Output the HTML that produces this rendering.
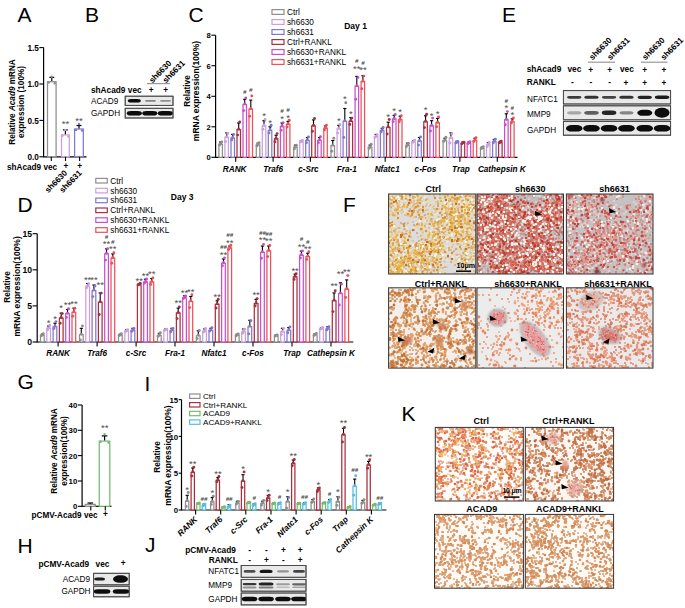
<!DOCTYPE html>
<html><head><meta charset="utf-8"><style>
html,body{margin:0;padding:0;background:#fff;width:685px;height:608px;overflow:hidden}
svg{display:block;font-family:"Liberation Sans",sans-serif}
</style></head><body>
<svg width="685" height="608" viewBox="0 0 685 608">
<defs>
<filter id="bl" x="-30%" y="-100%" width="160%" height="300%"><feGaussianBlur stdDeviation="0.7"/></filter>
<filter id="sb" x="-50%" y="-50%" width="200%" height="200%"><feGaussianBlur stdDeviation="1.6"/></filter>
<filter id="sb2" x="-50%" y="-50%" width="200%" height="200%"><feGaussianBlur stdDeviation="0.9"/></filter>
</defs>
<rect width="685" height="608" fill="#fff"/>
<text x="17.5" y="22" font-size="21">A</text>
<text x="85" y="22" font-size="21">B</text>
<text x="188.5" y="22" font-size="21">C</text>
<text x="502" y="22" font-size="21">E</text>
<text x="17.5" y="212.3" font-size="21">D</text>
<text x="343" y="212.3" font-size="21">F</text>
<text x="17.5" y="389" font-size="21">G</text>
<text x="144.5" y="391" font-size="21">I</text>
<text x="401.5" y="421" font-size="21">K</text>
<text x="17.5" y="552.5" font-size="21">H</text>
<text x="145" y="552.3" font-size="21">J</text>
<line x1="43.6" y1="47.6" x2="43.6" y2="157.3" stroke="#000" stroke-width="1.2"/>
<line x1="39.4" y1="156.8" x2="43.6" y2="156.8" stroke="#000" stroke-width="1.1"/>
<text x="38.8" y="160.1" font-size="8.2" font-weight="bold" text-anchor="end">0.0</text>
<line x1="39.4" y1="120.4" x2="43.6" y2="120.4" stroke="#000" stroke-width="1.1"/>
<text x="38.8" y="123.7" font-size="8.2" font-weight="bold" text-anchor="end">0.5</text>
<line x1="39.4" y1="84" x2="43.6" y2="84" stroke="#000" stroke-width="1.1"/>
<text x="38.8" y="87.3" font-size="8.2" font-weight="bold" text-anchor="end">1.0</text>
<line x1="39.4" y1="47.6" x2="43.6" y2="47.6" stroke="#000" stroke-width="1.1"/>
<text x="38.8" y="50.9" font-size="8.2" font-weight="bold" text-anchor="end">1.5</text>
<line x1="43.6" y1="156.8" x2="86.5" y2="156.8" stroke="#000" stroke-width="1.2"/>
<rect x="47.5" y="81.7" width="8.6" height="75.1" fill="#fff" stroke="#8e8e8e" stroke-width="1.25"/>
<line x1="51.8" y1="81.1" x2="51.8" y2="77.4" stroke="#000" stroke-width="1.2"/>
<line x1="49.3" y1="77.4" x2="54.3" y2="77.4" stroke="#000" stroke-width="1.2"/>
<circle cx="48.8" cy="82.5" r="1.2" fill="#8e8e8e"/>
<circle cx="51.8" cy="76.7" r="1.2" fill="#8e8e8e"/>
<circle cx="54.8" cy="83.3" r="1.2" fill="#8e8e8e"/>
<rect x="61.5" y="134.9" width="7.8" height="21.9" fill="#fff" stroke="#cc9fdc" stroke-width="1.25"/>
<line x1="65.4" y1="134.2" x2="65.4" y2="129.9" stroke="#000" stroke-width="1.2"/>
<line x1="62.9" y1="129.9" x2="67.9" y2="129.9" stroke="#000" stroke-width="1.2"/>
<circle cx="62.4" cy="135.7" r="1.2" fill="#cc9fdc"/>
<circle cx="65.4" cy="129.9" r="1.2" fill="#cc9fdc"/>
<circle cx="68.4" cy="136.4" r="1.2" fill="#cc9fdc"/>
<rect x="74.6" y="129" width="8.7" height="27.8" fill="#fff" stroke="#8078cc" stroke-width="1.25"/>
<line x1="79" y1="128.4" x2="79" y2="125.5" stroke="#000" stroke-width="1.2"/>
<line x1="76.5" y1="125.5" x2="81.5" y2="125.5" stroke="#000" stroke-width="1.2"/>
<circle cx="76" cy="129.9" r="1.2" fill="#8078cc"/>
<circle cx="79" cy="124" r="1.2" fill="#8078cc"/>
<circle cx="82" cy="130.6" r="1.2" fill="#8078cc"/>
<line x1="51.3" y1="156.8" x2="51.3" y2="161" stroke="#000" stroke-width="1.1"/>
<line x1="65.5" y1="156.8" x2="65.5" y2="161" stroke="#000" stroke-width="1.1"/>
<line x1="79.6" y1="156.8" x2="79.6" y2="161" stroke="#000" stroke-width="1.1"/>
<text x="65.4" y="127" font-size="9.5" text-anchor="middle" fill="#505050">**</text>
<text x="79" y="123.7" font-size="9.5" text-anchor="middle" fill="#505050">**</text>
<text x="7" y="169.5" font-size="8.2" font-weight="bold">shAcad9 vec</text>
<text x="65.8" y="168.8" font-size="8.2" font-weight="bold" text-anchor="middle">+</text>
<text x="79.7" y="168.8" font-size="8.2" font-weight="bold" text-anchor="middle">+</text>
<text x="67.8" y="173.5" font-size="8.2" font-weight="bold" text-anchor="end" transform="rotate(-45 67.8 173.5)">sh6630</text>
<text x="82.3" y="173.5" font-size="8.2" font-weight="bold" text-anchor="end" transform="rotate(-45 82.3 173.5)">sh6631</text>
<text x="0" y="0" font-size="8.2" font-weight="bold" text-anchor="middle" transform="translate(15 102) rotate(-90)">Relative <tspan font-style="italic">Acad9</tspan> mRNA</text>
<text x="0" y="0" font-size="8.2" font-weight="bold" text-anchor="middle" transform="translate(24 102) rotate(-90)">expression (100%)</text>
<text x="90.9" y="92.6" font-size="8.3" font-weight="bold">shAcad9 vec</text>
<text x="151.3" y="93.2" font-size="8.3" font-weight="bold" text-anchor="middle">+</text>
<text x="165.6" y="93.2" font-size="8.3" font-weight="bold" text-anchor="middle">+</text>
<line x1="147" y1="83.6" x2="170" y2="83.6" stroke="#999" stroke-width="1.2"/>
<text x="152.4" y="83.4" font-size="8.2" font-weight="bold" transform="rotate(-45 152.4 83.4)">sh6630</text>
<text x="165.9" y="83.4" font-size="8.2" font-weight="bold" transform="rotate(-45 165.9 83.4)">sh6631</text>
<text x="91" y="103.6" font-size="8.2">ACAD9</text>
<text x="91" y="115.8" font-size="8.2">GAPDH</text>
<clipPath id="bp1"><rect x="125.2" y="96.2" width="47.8" height="9.2"/></clipPath>
<rect x="125.2" y="96.2" width="47.8" height="9.2" fill="#e9e9e9" stroke="#4a4a4a" stroke-width="0.9"/>
<g clip-path="url(#bp1)">
<rect x="127.8" y="99" width="13" height="3.6" rx="3.2" ry="1.8" fill="rgb(10,10,10)" filter="url(#bl)"/>
<rect x="145" y="99.9" width="11" height="1.8" rx="1.6" ry="0.9" fill="rgb(133,133,133)" filter="url(#bl)"/>
<rect x="160" y="99.9" width="11" height="1.8" rx="1.6" ry="0.9" fill="rgb(145,145,145)" filter="url(#bl)"/>
</g>
<rect x="125.2" y="96.2" width="47.8" height="9.2" fill="none" stroke="#4a4a4a" stroke-width="0.9"/>
<clipPath id="bp2"><rect x="125.2" y="108.3" width="47.8" height="9.7"/></clipPath>
<rect x="125.2" y="108.3" width="47.8" height="9.7" fill="#e9e9e9" stroke="#4a4a4a" stroke-width="0.9"/>
<g clip-path="url(#bp2)">
<rect x="126.8" y="110.9" width="15" height="4.6" rx="4.1" ry="2.3" fill="rgb(10,10,10)" filter="url(#bl)"/>
<rect x="142.3" y="110.9" width="15" height="4.6" rx="4.1" ry="2.3" fill="rgb(10,10,10)" filter="url(#bl)"/>
<rect x="157.8" y="110.9" width="15" height="4.6" rx="4.1" ry="2.3" fill="rgb(10,10,10)" filter="url(#bl)"/>
</g>
<rect x="125.2" y="108.3" width="47.8" height="9.7" fill="none" stroke="#4a4a4a" stroke-width="0.9"/>
<line x1="215.6" y1="35.2" x2="215.6" y2="157.8" stroke="#000" stroke-width="1.2"/>
<line x1="211.4" y1="157.3" x2="215.6" y2="157.3" stroke="#000" stroke-width="1.1"/>
<text x="210.8" y="160.3" font-size="7.6" font-weight="bold" text-anchor="end">0</text>
<line x1="211.4" y1="126.8" x2="215.6" y2="126.8" stroke="#000" stroke-width="1.1"/>
<text x="210.8" y="129.8" font-size="7.6" font-weight="bold" text-anchor="end">2</text>
<line x1="211.4" y1="96.3" x2="215.6" y2="96.3" stroke="#000" stroke-width="1.1"/>
<text x="210.8" y="99.3" font-size="7.6" font-weight="bold" text-anchor="end">4</text>
<line x1="211.4" y1="65.7" x2="215.6" y2="65.7" stroke="#000" stroke-width="1.1"/>
<text x="210.8" y="68.8" font-size="7.6" font-weight="bold" text-anchor="end">6</text>
<line x1="211.4" y1="35.2" x2="215.6" y2="35.2" stroke="#000" stroke-width="1.1"/>
<text x="210.8" y="38.3" font-size="7.6" font-weight="bold" text-anchor="end">8</text>
<line x1="215.6" y1="157.3" x2="517.5" y2="157.3" stroke="#000" stroke-width="1.2"/>
<line x1="235.7" y1="157.3" x2="235.7" y2="161.8" stroke="#000" stroke-width="1.1"/>
<rect x="218.9" y="144.2" width="3.5" height="13.1" fill="#fff" stroke="#8e8e8e" stroke-width="1.25"/>
<line x1="220.7" y1="143.6" x2="220.7" y2="142" stroke="#000" stroke-width="1.1"/>
<line x1="219.1" y1="142" x2="222.2" y2="142" stroke="#000" stroke-width="1.1"/>
<circle cx="219.6" cy="145.1" r="1.45" fill="#8e8e8e"/>
<circle cx="220.7" cy="143.6" r="1.45" fill="#8e8e8e"/>
<circle cx="221.7" cy="141.9" r="1.45" fill="#8e8e8e"/>
<rect x="224.9" y="137.3" width="3.5" height="20" fill="#fff" stroke="#cc9fdc" stroke-width="1.25"/>
<line x1="226.7" y1="136.7" x2="226.7" y2="132.9" stroke="#000" stroke-width="1.1"/>
<line x1="225.1" y1="132.9" x2="228.3" y2="132.9" stroke="#000" stroke-width="1.1"/>
<circle cx="225.6" cy="141.6" r="1.45" fill="#cc9fdc"/>
<circle cx="226.7" cy="136.7" r="1.45" fill="#cc9fdc"/>
<circle cx="227.7" cy="133.4" r="1.45" fill="#cc9fdc"/>
<rect x="231" y="138.1" width="3.5" height="19.2" fill="#fff" stroke="#8078cc" stroke-width="1.25"/>
<line x1="232.7" y1="137.5" x2="232.7" y2="134.4" stroke="#000" stroke-width="1.1"/>
<line x1="231.1" y1="134.4" x2="234.3" y2="134.4" stroke="#000" stroke-width="1.1"/>
<circle cx="231.7" cy="139.9" r="1.45" fill="#8078cc"/>
<circle cx="232.7" cy="137.5" r="1.45" fill="#8078cc"/>
<circle cx="233.7" cy="134.4" r="1.45" fill="#8078cc"/>
<rect x="237" y="129.7" width="3.5" height="27.6" fill="#fff" stroke="#a8303e" stroke-width="1.25"/>
<line x1="238.7" y1="129.1" x2="238.7" y2="123" stroke="#000" stroke-width="1.1"/>
<line x1="237.1" y1="123" x2="240.3" y2="123" stroke="#000" stroke-width="1.1"/>
<circle cx="237.7" cy="135.1" r="1.45" fill="#a8303e"/>
<circle cx="238.7" cy="129.1" r="1.45" fill="#a8303e"/>
<circle cx="239.7" cy="121.9" r="1.45" fill="#a8303e"/>
<rect x="243" y="104.5" width="3.5" height="52.8" fill="#fff" stroke="#c850c8" stroke-width="1.25"/>
<line x1="244.7" y1="103.9" x2="244.7" y2="99.3" stroke="#000" stroke-width="1.1"/>
<line x1="243.1" y1="99.3" x2="246.3" y2="99.3" stroke="#000" stroke-width="1.1"/>
<circle cx="243.7" cy="110.6" r="1.45" fill="#c850c8"/>
<circle cx="244.7" cy="103.9" r="1.45" fill="#c850c8"/>
<circle cx="245.8" cy="97.9" r="1.45" fill="#c850c8"/>
<text x="244.7" y="93.5" font-size="6.2" font-weight="bold" text-anchor="middle" font-style="italic" fill="#444">#</text>
<rect x="249" y="109.1" width="3.5" height="48.2" fill="#fff" stroke="#ee5058" stroke-width="1.25"/>
<line x1="250.8" y1="108.5" x2="250.8" y2="100.1" stroke="#000" stroke-width="1.1"/>
<line x1="249.2" y1="100.1" x2="252.3" y2="100.1" stroke="#000" stroke-width="1.1"/>
<circle cx="249.7" cy="116.2" r="1.45" fill="#ee5058"/>
<circle cx="250.8" cy="108.5" r="1.45" fill="#ee5058"/>
<circle cx="251.8" cy="95.9" r="1.45" fill="#ee5058"/>
<text x="250.8" y="91.9" font-size="6.2" font-weight="bold" text-anchor="middle" font-style="italic" fill="#444">#</text>
<line x1="273.1" y1="157.3" x2="273.1" y2="161.8" stroke="#000" stroke-width="1.1"/>
<rect x="256.3" y="145" width="3.5" height="12.3" fill="#fff" stroke="#8e8e8e" stroke-width="1.25"/>
<line x1="258" y1="144.3" x2="258" y2="143.1" stroke="#000" stroke-width="1.1"/>
<line x1="256.4" y1="143.1" x2="259.6" y2="143.1" stroke="#000" stroke-width="1.1"/>
<circle cx="257" cy="145.8" r="1.45" fill="#8e8e8e"/>
<circle cx="258" cy="144.3" r="1.45" fill="#8e8e8e"/>
<circle cx="259.1" cy="142.7" r="1.45" fill="#8e8e8e"/>
<rect x="262.3" y="125.9" width="3.5" height="31.4" fill="#fff" stroke="#cc9fdc" stroke-width="1.25"/>
<line x1="264" y1="125.3" x2="264" y2="120.7" stroke="#000" stroke-width="1.1"/>
<line x1="262.4" y1="120.7" x2="265.6" y2="120.7" stroke="#000" stroke-width="1.1"/>
<circle cx="263" cy="129.2" r="1.45" fill="#cc9fdc"/>
<circle cx="264" cy="125.3" r="1.45" fill="#cc9fdc"/>
<circle cx="265.1" cy="119.4" r="1.45" fill="#cc9fdc"/>
<text x="264" y="118.6" font-size="9.5" text-anchor="middle" fill="#505050">*</text>
<rect x="268.3" y="130.5" width="3.5" height="26.8" fill="#fff" stroke="#8078cc" stroke-width="1.25"/>
<line x1="270.1" y1="129.8" x2="270.1" y2="126.8" stroke="#000" stroke-width="1.1"/>
<line x1="268.5" y1="126.8" x2="271.7" y2="126.8" stroke="#000" stroke-width="1.1"/>
<circle cx="269" cy="133" r="1.45" fill="#8078cc"/>
<circle cx="270.1" cy="129.8" r="1.45" fill="#8078cc"/>
<circle cx="271.1" cy="125.3" r="1.45" fill="#8078cc"/>
<text x="270.1" y="125.6" font-size="9.5" text-anchor="middle" fill="#505050">*</text>
<rect x="274.4" y="138.9" width="3.5" height="18.4" fill="#fff" stroke="#a8303e" stroke-width="1.25"/>
<line x1="276.1" y1="138.2" x2="276.1" y2="135.2" stroke="#000" stroke-width="1.1"/>
<line x1="274.5" y1="135.2" x2="277.7" y2="135.2" stroke="#000" stroke-width="1.1"/>
<circle cx="275" cy="141.8" r="1.45" fill="#a8303e"/>
<circle cx="276.1" cy="138.2" r="1.45" fill="#a8303e"/>
<circle cx="277.1" cy="133.6" r="1.45" fill="#a8303e"/>
<rect x="280.4" y="126.6" width="3.5" height="30.7" fill="#fff" stroke="#c850c8" stroke-width="1.25"/>
<line x1="282.1" y1="126" x2="282.1" y2="123" stroke="#000" stroke-width="1.1"/>
<line x1="280.5" y1="123" x2="283.7" y2="123" stroke="#000" stroke-width="1.1"/>
<circle cx="281.1" cy="130.2" r="1.45" fill="#c850c8"/>
<circle cx="282.1" cy="126" r="1.45" fill="#c850c8"/>
<circle cx="283.1" cy="122.6" r="1.45" fill="#c850c8"/>
<text x="282.1" y="121.8" font-size="9.5" text-anchor="middle" fill="#505050">*</text>
<text x="282.1" y="113.4" font-size="6.2" font-weight="bold" text-anchor="middle" font-style="italic" fill="#444">#</text>
<rect x="286.4" y="124.4" width="3.5" height="32.9" fill="#fff" stroke="#ee5058" stroke-width="1.25"/>
<line x1="288.1" y1="123.7" x2="288.1" y2="121.4" stroke="#000" stroke-width="1.1"/>
<line x1="286.5" y1="121.4" x2="289.7" y2="121.4" stroke="#000" stroke-width="1.1"/>
<circle cx="287.1" cy="127" r="1.45" fill="#ee5058"/>
<circle cx="288.1" cy="123.7" r="1.45" fill="#ee5058"/>
<circle cx="289.2" cy="120.2" r="1.45" fill="#ee5058"/>
<text x="288.1" y="120.8" font-size="9.5" text-anchor="middle" fill="#505050">*</text>
<text x="288.1" y="112.4" font-size="6.2" font-weight="bold" text-anchor="middle" font-style="italic" fill="#444">#</text>
<line x1="310.4" y1="157.3" x2="310.4" y2="161.8" stroke="#000" stroke-width="1.1"/>
<rect x="293.7" y="147.2" width="3.5" height="10.1" fill="#fff" stroke="#8e8e8e" stroke-width="1.25"/>
<line x1="295.4" y1="146.6" x2="295.4" y2="145.1" stroke="#000" stroke-width="1.1"/>
<line x1="293.8" y1="145.1" x2="297" y2="145.1" stroke="#000" stroke-width="1.1"/>
<circle cx="294.4" cy="148.9" r="1.45" fill="#8e8e8e"/>
<circle cx="295.4" cy="146.6" r="1.45" fill="#8e8e8e"/>
<circle cx="296.4" cy="145.2" r="1.45" fill="#8e8e8e"/>
<rect x="299.7" y="141.9" width="3.5" height="15.4" fill="#fff" stroke="#cc9fdc" stroke-width="1.25"/>
<line x1="301.4" y1="141.3" x2="301.4" y2="140.5" stroke="#000" stroke-width="1.1"/>
<line x1="299.8" y1="140.5" x2="303" y2="140.5" stroke="#000" stroke-width="1.1"/>
<circle cx="300.4" cy="142" r="1.45" fill="#cc9fdc"/>
<circle cx="301.4" cy="141.3" r="1.45" fill="#cc9fdc"/>
<circle cx="302.4" cy="140.4" r="1.45" fill="#cc9fdc"/>
<rect x="305.7" y="140.4" width="3.5" height="16.9" fill="#fff" stroke="#8078cc" stroke-width="1.25"/>
<line x1="307.4" y1="139.8" x2="307.4" y2="137.5" stroke="#000" stroke-width="1.1"/>
<line x1="305.8" y1="137.5" x2="309" y2="137.5" stroke="#000" stroke-width="1.1"/>
<circle cx="306.4" cy="142.7" r="1.45" fill="#8078cc"/>
<circle cx="307.4" cy="139.8" r="1.45" fill="#8078cc"/>
<circle cx="308.5" cy="137" r="1.45" fill="#8078cc"/>
<rect x="311.7" y="125.9" width="3.5" height="31.4" fill="#fff" stroke="#a8303e" stroke-width="1.25"/>
<line x1="313.5" y1="125.3" x2="313.5" y2="119.9" stroke="#000" stroke-width="1.1"/>
<line x1="311.9" y1="119.9" x2="315.1" y2="119.9" stroke="#000" stroke-width="1.1"/>
<circle cx="312.4" cy="131.2" r="1.45" fill="#a8303e"/>
<circle cx="313.5" cy="125.3" r="1.45" fill="#a8303e"/>
<circle cx="314.5" cy="118.5" r="1.45" fill="#a8303e"/>
<rect x="317.7" y="140.4" width="3.5" height="16.9" fill="#fff" stroke="#c850c8" stroke-width="1.25"/>
<line x1="319.5" y1="139.8" x2="319.5" y2="137.5" stroke="#000" stroke-width="1.1"/>
<line x1="317.9" y1="137.5" x2="321.1" y2="137.5" stroke="#000" stroke-width="1.1"/>
<circle cx="318.4" cy="142.7" r="1.45" fill="#c850c8"/>
<circle cx="319.5" cy="139.8" r="1.45" fill="#c850c8"/>
<circle cx="320.5" cy="136.7" r="1.45" fill="#c850c8"/>
<rect x="323.8" y="128.2" width="3.5" height="29.1" fill="#fff" stroke="#ee5058" stroke-width="1.25"/>
<line x1="325.5" y1="127.5" x2="325.5" y2="126" stroke="#000" stroke-width="1.1"/>
<line x1="323.9" y1="126" x2="327.1" y2="126" stroke="#000" stroke-width="1.1"/>
<circle cx="324.5" cy="129.9" r="1.45" fill="#ee5058"/>
<circle cx="325.5" cy="127.5" r="1.45" fill="#ee5058"/>
<circle cx="326.5" cy="125.1" r="1.45" fill="#ee5058"/>
<line x1="347.8" y1="157.3" x2="347.8" y2="161.8" stroke="#000" stroke-width="1.1"/>
<rect x="331" y="145.7" width="3.5" height="11.6" fill="#fff" stroke="#8e8e8e" stroke-width="1.25"/>
<line x1="332.8" y1="145.1" x2="332.8" y2="140.5" stroke="#000" stroke-width="1.1"/>
<line x1="331.2" y1="140.5" x2="334.4" y2="140.5" stroke="#000" stroke-width="1.1"/>
<circle cx="331.7" cy="151.2" r="1.45" fill="#8e8e8e"/>
<circle cx="332.8" cy="145.1" r="1.45" fill="#8e8e8e"/>
<circle cx="333.8" cy="138.3" r="1.45" fill="#8e8e8e"/>
<rect x="337.1" y="128.9" width="3.5" height="28.4" fill="#fff" stroke="#cc9fdc" stroke-width="1.25"/>
<line x1="338.8" y1="128.3" x2="338.8" y2="125.3" stroke="#000" stroke-width="1.1"/>
<line x1="337.2" y1="125.3" x2="340.4" y2="125.3" stroke="#000" stroke-width="1.1"/>
<circle cx="337.7" cy="133.1" r="1.45" fill="#cc9fdc"/>
<circle cx="338.8" cy="128.3" r="1.45" fill="#cc9fdc"/>
<circle cx="339.8" cy="124.5" r="1.45" fill="#cc9fdc"/>
<text x="338.8" y="124.1" font-size="9.5" text-anchor="middle" fill="#505050">*</text>
<rect x="343.1" y="121.3" width="3.5" height="36" fill="#fff" stroke="#8078cc" stroke-width="1.25"/>
<line x1="344.8" y1="120.7" x2="344.8" y2="108.5" stroke="#000" stroke-width="1.1"/>
<line x1="343.2" y1="108.5" x2="346.4" y2="108.5" stroke="#000" stroke-width="1.1"/>
<circle cx="343.8" cy="137.4" r="1.45" fill="#8078cc"/>
<circle cx="344.8" cy="120.7" r="1.45" fill="#8078cc"/>
<circle cx="345.8" cy="102.8" r="1.45" fill="#8078cc"/>
<text x="344.8" y="101.8" font-size="9.5" text-anchor="middle" fill="#505050">*</text>
<rect x="349.1" y="121.3" width="3.5" height="36" fill="#fff" stroke="#a8303e" stroke-width="1.25"/>
<line x1="350.8" y1="120.7" x2="350.8" y2="117.6" stroke="#000" stroke-width="1.1"/>
<line x1="349.2" y1="117.6" x2="352.4" y2="117.6" stroke="#000" stroke-width="1.1"/>
<circle cx="349.8" cy="124.5" r="1.45" fill="#a8303e"/>
<circle cx="350.8" cy="120.7" r="1.45" fill="#a8303e"/>
<circle cx="351.9" cy="118.1" r="1.45" fill="#a8303e"/>
<text x="350.8" y="116.5" font-size="9.5" text-anchor="middle" fill="#505050">*</text>
<rect x="355.1" y="86.2" width="3.5" height="71.1" fill="#fff" stroke="#c850c8" stroke-width="1.25"/>
<line x1="356.8" y1="85.6" x2="356.8" y2="76.4" stroke="#000" stroke-width="1.1"/>
<line x1="355.2" y1="76.4" x2="358.4" y2="76.4" stroke="#000" stroke-width="1.1"/>
<circle cx="355.8" cy="99.2" r="1.45" fill="#c850c8"/>
<circle cx="356.8" cy="85.6" r="1.45" fill="#c850c8"/>
<circle cx="357.9" cy="77.6" r="1.45" fill="#c850c8"/>
<text x="356.8" y="71.6" font-size="9.5" text-anchor="middle" fill="#505050">**</text>
<text x="356.8" y="63.2" font-size="6.2" font-weight="bold" text-anchor="middle" font-style="italic" fill="#444">#</text>
<rect x="361.1" y="81.6" width="3.5" height="75.7" fill="#fff" stroke="#ee5058" stroke-width="1.25"/>
<line x1="362.9" y1="81" x2="362.9" y2="75.7" stroke="#000" stroke-width="1.1"/>
<line x1="361.3" y1="75.7" x2="364.5" y2="75.7" stroke="#000" stroke-width="1.1"/>
<circle cx="361.8" cy="88.7" r="1.45" fill="#ee5058"/>
<circle cx="362.9" cy="81" r="1.45" fill="#ee5058"/>
<circle cx="363.9" cy="76.1" r="1.45" fill="#ee5058"/>
<text x="362.9" y="73.2" font-size="9.5" text-anchor="middle" fill="#505050">**</text>
<text x="362.9" y="64.8" font-size="6.2" font-weight="bold" text-anchor="middle" font-style="italic" fill="#444">#</text>
<line x1="385.2" y1="157.3" x2="385.2" y2="161.8" stroke="#000" stroke-width="1.1"/>
<rect x="368.4" y="147.2" width="3.5" height="10.1" fill="#fff" stroke="#8e8e8e" stroke-width="1.25"/>
<line x1="370.1" y1="146.6" x2="370.1" y2="145.1" stroke="#000" stroke-width="1.1"/>
<line x1="368.5" y1="145.1" x2="371.7" y2="145.1" stroke="#000" stroke-width="1.1"/>
<circle cx="369.1" cy="148.2" r="1.45" fill="#8e8e8e"/>
<circle cx="370.1" cy="146.6" r="1.45" fill="#8e8e8e"/>
<circle cx="371.2" cy="144.3" r="1.45" fill="#8e8e8e"/>
<rect x="374.4" y="136.6" width="3.5" height="20.7" fill="#fff" stroke="#cc9fdc" stroke-width="1.25"/>
<line x1="376.1" y1="135.9" x2="376.1" y2="134.4" stroke="#000" stroke-width="1.1"/>
<line x1="374.5" y1="134.4" x2="377.8" y2="134.4" stroke="#000" stroke-width="1.1"/>
<circle cx="375.1" cy="137.2" r="1.45" fill="#cc9fdc"/>
<circle cx="376.1" cy="135.9" r="1.45" fill="#cc9fdc"/>
<circle cx="377.2" cy="134.7" r="1.45" fill="#cc9fdc"/>
<rect x="380.4" y="130.5" width="3.5" height="26.8" fill="#fff" stroke="#8078cc" stroke-width="1.25"/>
<line x1="382.2" y1="129.8" x2="382.2" y2="128.3" stroke="#000" stroke-width="1.1"/>
<line x1="380.6" y1="128.3" x2="383.8" y2="128.3" stroke="#000" stroke-width="1.1"/>
<circle cx="381.1" cy="131.9" r="1.45" fill="#8078cc"/>
<circle cx="382.2" cy="129.8" r="1.45" fill="#8078cc"/>
<circle cx="383.2" cy="127.5" r="1.45" fill="#8078cc"/>
<rect x="386.5" y="127.4" width="3.5" height="29.9" fill="#fff" stroke="#a8303e" stroke-width="1.25"/>
<line x1="388.2" y1="126.8" x2="388.2" y2="122.2" stroke="#000" stroke-width="1.1"/>
<line x1="386.6" y1="122.2" x2="389.8" y2="122.2" stroke="#000" stroke-width="1.1"/>
<circle cx="387.2" cy="134" r="1.45" fill="#a8303e"/>
<circle cx="388.2" cy="126.8" r="1.45" fill="#a8303e"/>
<circle cx="389.2" cy="119.5" r="1.45" fill="#a8303e"/>
<text x="388.2" y="120.2" font-size="9.5" text-anchor="middle" fill="#505050">*</text>
<rect x="392.5" y="119" width="3.5" height="38.3" fill="#fff" stroke="#c850c8" stroke-width="1.25"/>
<line x1="394.2" y1="118.4" x2="394.2" y2="115.3" stroke="#000" stroke-width="1.1"/>
<line x1="392.6" y1="115.3" x2="395.8" y2="115.3" stroke="#000" stroke-width="1.1"/>
<circle cx="393.2" cy="121.6" r="1.45" fill="#c850c8"/>
<circle cx="394.2" cy="118.4" r="1.45" fill="#c850c8"/>
<circle cx="395.2" cy="114.5" r="1.45" fill="#c850c8"/>
<text x="394.2" y="114.2" font-size="9.5" text-anchor="middle" fill="#505050">*</text>
<rect x="398.5" y="119.8" width="3.5" height="37.5" fill="#fff" stroke="#ee5058" stroke-width="1.25"/>
<line x1="400.2" y1="119.2" x2="400.2" y2="116.1" stroke="#000" stroke-width="1.1"/>
<line x1="398.6" y1="116.1" x2="401.8" y2="116.1" stroke="#000" stroke-width="1.1"/>
<circle cx="399.2" cy="121.7" r="1.45" fill="#ee5058"/>
<circle cx="400.2" cy="119.2" r="1.45" fill="#ee5058"/>
<circle cx="401.3" cy="115.7" r="1.45" fill="#ee5058"/>
<text x="400.2" y="115" font-size="9.5" text-anchor="middle" fill="#505050">*</text>
<line x1="422.5" y1="157.3" x2="422.5" y2="161.8" stroke="#000" stroke-width="1.1"/>
<rect x="405.8" y="145.3" width="3.5" height="12" fill="#fff" stroke="#8e8e8e" stroke-width="1.25"/>
<line x1="407.5" y1="144.6" x2="407.5" y2="143.1" stroke="#000" stroke-width="1.1"/>
<line x1="405.9" y1="143.1" x2="409.1" y2="143.1" stroke="#000" stroke-width="1.1"/>
<circle cx="406.5" cy="146.6" r="1.45" fill="#8e8e8e"/>
<circle cx="407.5" cy="144.6" r="1.45" fill="#8e8e8e"/>
<circle cx="408.5" cy="143.4" r="1.45" fill="#8e8e8e"/>
<rect x="411.8" y="141.9" width="3.5" height="15.4" fill="#fff" stroke="#cc9fdc" stroke-width="1.25"/>
<line x1="413.5" y1="141.3" x2="413.5" y2="140.5" stroke="#000" stroke-width="1.1"/>
<line x1="411.9" y1="140.5" x2="415.1" y2="140.5" stroke="#000" stroke-width="1.1"/>
<circle cx="412.5" cy="142.4" r="1.45" fill="#cc9fdc"/>
<circle cx="413.5" cy="141.3" r="1.45" fill="#cc9fdc"/>
<circle cx="414.6" cy="140.1" r="1.45" fill="#cc9fdc"/>
<rect x="417.8" y="141.1" width="3.5" height="16.2" fill="#fff" stroke="#8078cc" stroke-width="1.25"/>
<line x1="419.5" y1="140.5" x2="419.5" y2="137.5" stroke="#000" stroke-width="1.1"/>
<line x1="417.9" y1="137.5" x2="421.1" y2="137.5" stroke="#000" stroke-width="1.1"/>
<circle cx="418.5" cy="145.1" r="1.45" fill="#8078cc"/>
<circle cx="419.5" cy="140.5" r="1.45" fill="#8078cc"/>
<circle cx="420.6" cy="136.9" r="1.45" fill="#8078cc"/>
<rect x="423.8" y="121.8" width="3.5" height="35.5" fill="#fff" stroke="#a8303e" stroke-width="1.25"/>
<line x1="425.6" y1="121.1" x2="425.6" y2="115.8" stroke="#000" stroke-width="1.1"/>
<line x1="424" y1="115.8" x2="427.2" y2="115.8" stroke="#000" stroke-width="1.1"/>
<circle cx="424.5" cy="127.6" r="1.45" fill="#a8303e"/>
<circle cx="425.6" cy="121.1" r="1.45" fill="#a8303e"/>
<circle cx="426.6" cy="114.3" r="1.45" fill="#a8303e"/>
<text x="425.6" y="113.3" font-size="9.5" text-anchor="middle" fill="#505050">*</text>
<rect x="429.9" y="125.9" width="3.5" height="31.4" fill="#fff" stroke="#c850c8" stroke-width="1.25"/>
<line x1="431.6" y1="125.3" x2="431.6" y2="120.7" stroke="#000" stroke-width="1.1"/>
<line x1="430" y1="120.7" x2="433.2" y2="120.7" stroke="#000" stroke-width="1.1"/>
<circle cx="430.5" cy="131" r="1.45" fill="#c850c8"/>
<circle cx="431.6" cy="125.3" r="1.45" fill="#c850c8"/>
<circle cx="432.6" cy="118.1" r="1.45" fill="#c850c8"/>
<text x="431.6" y="118.6" font-size="9.5" text-anchor="middle" fill="#505050">*</text>
<rect x="435.9" y="122.8" width="3.5" height="34.5" fill="#fff" stroke="#ee5058" stroke-width="1.25"/>
<line x1="437.6" y1="122.2" x2="437.6" y2="118.4" stroke="#000" stroke-width="1.1"/>
<line x1="436" y1="118.4" x2="439.2" y2="118.4" stroke="#000" stroke-width="1.1"/>
<circle cx="436.6" cy="126.8" r="1.45" fill="#ee5058"/>
<circle cx="437.6" cy="122.2" r="1.45" fill="#ee5058"/>
<circle cx="438.6" cy="117" r="1.45" fill="#ee5058"/>
<text x="437.6" y="116.8" font-size="9.5" text-anchor="middle" fill="#505050">*</text>
<line x1="459.9" y1="157.3" x2="459.9" y2="161.8" stroke="#000" stroke-width="1.1"/>
<rect x="443.1" y="140.4" width="3.5" height="16.9" fill="#fff" stroke="#8e8e8e" stroke-width="1.25"/>
<line x1="444.9" y1="139.8" x2="444.9" y2="138.2" stroke="#000" stroke-width="1.1"/>
<line x1="443.3" y1="138.2" x2="446.5" y2="138.2" stroke="#000" stroke-width="1.1"/>
<circle cx="443.8" cy="141.3" r="1.45" fill="#8e8e8e"/>
<circle cx="444.9" cy="139.8" r="1.45" fill="#8e8e8e"/>
<circle cx="445.9" cy="137.3" r="1.45" fill="#8e8e8e"/>
<rect x="449.2" y="138.1" width="3.5" height="19.2" fill="#fff" stroke="#cc9fdc" stroke-width="1.25"/>
<line x1="450.9" y1="137.5" x2="450.9" y2="132.9" stroke="#000" stroke-width="1.1"/>
<line x1="449.3" y1="132.9" x2="452.5" y2="132.9" stroke="#000" stroke-width="1.1"/>
<circle cx="449.9" cy="143" r="1.45" fill="#cc9fdc"/>
<circle cx="450.9" cy="137.5" r="1.45" fill="#cc9fdc"/>
<circle cx="451.9" cy="133.8" r="1.45" fill="#cc9fdc"/>
<rect x="455.2" y="142.7" width="3.5" height="14.6" fill="#fff" stroke="#8078cc" stroke-width="1.25"/>
<line x1="456.9" y1="142" x2="456.9" y2="141.3" stroke="#000" stroke-width="1.1"/>
<line x1="455.3" y1="141.3" x2="458.5" y2="141.3" stroke="#000" stroke-width="1.1"/>
<circle cx="455.9" cy="142.9" r="1.45" fill="#8078cc"/>
<circle cx="456.9" cy="142" r="1.45" fill="#8078cc"/>
<circle cx="457.9" cy="141.4" r="1.45" fill="#8078cc"/>
<rect x="461.2" y="143.4" width="3.5" height="13.9" fill="#fff" stroke="#a8303e" stroke-width="1.25"/>
<line x1="462.9" y1="142.8" x2="462.9" y2="142" stroke="#000" stroke-width="1.1"/>
<line x1="461.3" y1="142" x2="464.5" y2="142" stroke="#000" stroke-width="1.1"/>
<circle cx="461.9" cy="143.8" r="1.45" fill="#a8303e"/>
<circle cx="462.9" cy="142.8" r="1.45" fill="#a8303e"/>
<circle cx="464" cy="142.2" r="1.45" fill="#a8303e"/>
<rect x="467.2" y="143.4" width="3.5" height="13.9" fill="#fff" stroke="#c850c8" stroke-width="1.25"/>
<line x1="468.9" y1="142.8" x2="468.9" y2="142" stroke="#000" stroke-width="1.1"/>
<line x1="467.3" y1="142" x2="470.6" y2="142" stroke="#000" stroke-width="1.1"/>
<circle cx="467.9" cy="143.8" r="1.45" fill="#c850c8"/>
<circle cx="468.9" cy="142.8" r="1.45" fill="#c850c8"/>
<circle cx="470" cy="141.8" r="1.45" fill="#c850c8"/>
<rect x="473.2" y="140.4" width="3.5" height="16.9" fill="#fff" stroke="#ee5058" stroke-width="1.25"/>
<line x1="475" y1="139.8" x2="475" y2="138.2" stroke="#000" stroke-width="1.1"/>
<line x1="473.4" y1="138.2" x2="476.6" y2="138.2" stroke="#000" stroke-width="1.1"/>
<circle cx="473.9" cy="141.4" r="1.45" fill="#ee5058"/>
<circle cx="475" cy="139.8" r="1.45" fill="#ee5058"/>
<circle cx="476" cy="137.6" r="1.45" fill="#ee5058"/>
<line x1="497.3" y1="157.3" x2="497.3" y2="161.8" stroke="#000" stroke-width="1.1"/>
<rect x="480.5" y="148.5" width="3.5" height="8.8" fill="#fff" stroke="#8e8e8e" stroke-width="1.25"/>
<line x1="482.2" y1="147.8" x2="482.2" y2="147.1" stroke="#000" stroke-width="1.1"/>
<line x1="480.6" y1="147.1" x2="483.8" y2="147.1" stroke="#000" stroke-width="1.1"/>
<circle cx="481.2" cy="148.5" r="1.45" fill="#8e8e8e"/>
<circle cx="482.2" cy="147.8" r="1.45" fill="#8e8e8e"/>
<circle cx="483.3" cy="146.8" r="1.45" fill="#8e8e8e"/>
<rect x="486.5" y="144.8" width="3.5" height="12.5" fill="#fff" stroke="#cc9fdc" stroke-width="1.25"/>
<line x1="488.3" y1="144.2" x2="488.3" y2="142.7" stroke="#000" stroke-width="1.1"/>
<line x1="486.7" y1="142.7" x2="489.9" y2="142.7" stroke="#000" stroke-width="1.1"/>
<circle cx="487.2" cy="146.6" r="1.45" fill="#cc9fdc"/>
<circle cx="488.3" cy="144.2" r="1.45" fill="#cc9fdc"/>
<circle cx="489.3" cy="142.4" r="1.45" fill="#cc9fdc"/>
<rect x="492.6" y="141.6" width="3.5" height="15.7" fill="#fff" stroke="#8078cc" stroke-width="1.25"/>
<line x1="494.3" y1="141" x2="494.3" y2="139.4" stroke="#000" stroke-width="1.1"/>
<line x1="492.7" y1="139.4" x2="495.9" y2="139.4" stroke="#000" stroke-width="1.1"/>
<circle cx="493.2" cy="142.9" r="1.45" fill="#8078cc"/>
<circle cx="494.3" cy="141" r="1.45" fill="#8078cc"/>
<circle cx="495.3" cy="139.3" r="1.45" fill="#8078cc"/>
<rect x="498.6" y="142.7" width="3.5" height="14.6" fill="#fff" stroke="#a8303e" stroke-width="1.25"/>
<line x1="500.3" y1="142" x2="500.3" y2="141.3" stroke="#000" stroke-width="1.1"/>
<line x1="498.7" y1="141.3" x2="501.9" y2="141.3" stroke="#000" stroke-width="1.1"/>
<circle cx="499.3" cy="142.8" r="1.45" fill="#a8303e"/>
<circle cx="500.3" cy="142" r="1.45" fill="#a8303e"/>
<circle cx="501.3" cy="141.1" r="1.45" fill="#a8303e"/>
<rect x="504.6" y="119.8" width="3.5" height="37.5" fill="#fff" stroke="#c850c8" stroke-width="1.25"/>
<line x1="506.3" y1="119.2" x2="506.3" y2="113.8" stroke="#000" stroke-width="1.1"/>
<line x1="504.7" y1="113.8" x2="507.9" y2="113.8" stroke="#000" stroke-width="1.1"/>
<circle cx="505.3" cy="124.7" r="1.45" fill="#c850c8"/>
<circle cx="506.3" cy="119.2" r="1.45" fill="#c850c8"/>
<circle cx="507.4" cy="111.6" r="1.45" fill="#c850c8"/>
<text x="506.3" y="111.3" font-size="9.5" text-anchor="middle" fill="#505050">*</text>
<text x="506.3" y="102.9" font-size="6.2" font-weight="bold" text-anchor="middle" font-style="italic" fill="#444">#</text>
<rect x="510.6" y="121.8" width="3.5" height="35.5" fill="#fff" stroke="#ee5058" stroke-width="1.25"/>
<line x1="512.3" y1="121.1" x2="512.3" y2="118.8" stroke="#000" stroke-width="1.1"/>
<line x1="510.7" y1="118.8" x2="513.9" y2="118.8" stroke="#000" stroke-width="1.1"/>
<circle cx="511.3" cy="123" r="1.45" fill="#ee5058"/>
<circle cx="512.3" cy="121.1" r="1.45" fill="#ee5058"/>
<circle cx="513.4" cy="118" r="1.45" fill="#ee5058"/>
<text x="512.3" y="118.2" font-size="9.5" text-anchor="middle" fill="#505050">*</text>
<text x="512.3" y="109.8" font-size="6.2" font-weight="bold" text-anchor="middle" font-style="italic" fill="#444">#</text>
<text x="234.7" y="172" font-size="8.2" font-weight="bold" text-anchor="middle" font-style="italic">RANK</text>
<text x="273.1" y="172" font-size="8.2" font-weight="bold" text-anchor="middle" font-style="italic">Traf6</text>
<text x="308.4" y="172" font-size="8.2" font-weight="bold" text-anchor="middle" font-style="italic">c-Src</text>
<text x="346.8" y="172" font-size="8.2" font-weight="bold" text-anchor="middle" font-style="italic">Fra-1</text>
<text x="387.2" y="172" font-size="8.2" font-weight="bold" text-anchor="middle" font-style="italic">Nfatc1</text>
<text x="425.5" y="172" font-size="8.2" font-weight="bold" text-anchor="middle" font-style="italic">c-Fos</text>
<text x="460.9" y="172" font-size="8.2" font-weight="bold" text-anchor="middle" font-style="italic">Trap</text>
<text x="501.8" y="172" font-size="8.2" font-weight="bold" text-anchor="middle" font-style="italic">Cathepsin K</text>
<rect x="272" y="9.6" width="12" height="4.8" fill="#fff" stroke="#8e8e8e" stroke-width="1.2"/>
<text x="287" y="14.9" font-size="8.2">Ctrl</text>
<rect x="272" y="19.6" width="12" height="4.8" fill="#fff" stroke="#cc9fdc" stroke-width="1.2"/>
<text x="287" y="24.9" font-size="8.2">sh6630</text>
<rect x="272" y="29.6" width="12" height="4.8" fill="#fff" stroke="#8078cc" stroke-width="1.2"/>
<text x="287" y="34.9" font-size="8.2">sh6631</text>
<rect x="272" y="39.6" width="12" height="4.8" fill="#fff" stroke="#a8303e" stroke-width="1.2"/>
<text x="287" y="44.9" font-size="8.2">Ctrl+RANKL</text>
<rect x="272" y="49.6" width="12" height="4.8" fill="#fff" stroke="#c850c8" stroke-width="1.2"/>
<text x="287" y="54.9" font-size="8.2">sh6630+RANKL</text>
<rect x="272" y="59.6" width="12" height="4.8" fill="#fff" stroke="#ee5058" stroke-width="1.2"/>
<text x="287" y="64.9" font-size="8.2">sh6631+RANKL</text>
<text x="344.2" y="29" font-size="8.5" font-weight="bold">Day 1</text>
<text x="0" y="0" font-size="8.2" font-weight="bold" text-anchor="middle" transform="translate(189.6 91) rotate(-90)">Relative</text>
<text x="0" y="0" font-size="8.5" font-weight="bold" text-anchor="middle" transform="translate(198.6 91) rotate(-90)">mRNA expression(100%)</text>
<text x="526.7" y="71.7" font-size="8.3" font-weight="bold">shAcad9</text>
<text x="567.5" y="71.7" font-size="8.3" font-weight="bold">vec</text>
<text x="620" y="71.7" font-size="8.3" font-weight="bold">vec</text>
<text x="590.6" y="72.6" font-size="8.3" font-weight="bold" text-anchor="middle">+</text>
<text x="609.6" y="72.6" font-size="8.3" font-weight="bold" text-anchor="middle">+</text>
<text x="644.8" y="72.6" font-size="8.3" font-weight="bold" text-anchor="middle">+</text>
<text x="663.9" y="72.6" font-size="8.3" font-weight="bold" text-anchor="middle">+</text>
<line x1="588" y1="62.2" x2="615" y2="62.2" stroke="#999" stroke-width="1.2"/>
<line x1="641" y1="62.2" x2="667.5" y2="62.2" stroke="#999" stroke-width="1.2"/>
<text x="592.5" y="60.5" font-size="8.2" font-weight="bold" transform="rotate(-45 592.5 60.5)">sh6630</text>
<text x="610.5" y="60.5" font-size="8.2" font-weight="bold" transform="rotate(-45 610.5 60.5)">sh6631</text>
<text x="645.5" y="60.5" font-size="8.2" font-weight="bold" transform="rotate(-45 645.5 60.5)">sh6630</text>
<text x="664" y="60.5" font-size="8.2" font-weight="bold" transform="rotate(-45 664 60.5)">sh6631</text>
<text x="526.7" y="85.3" font-size="8.3" font-weight="bold">RANKL</text>
<text x="572.5" y="85" font-size="8.3" font-weight="bold" text-anchor="middle">-</text>
<text x="591" y="85" font-size="8.3" font-weight="bold" text-anchor="middle">-</text>
<text x="609.6" y="85" font-size="8.3" font-weight="bold" text-anchor="middle">-</text>
<text x="626" y="85.6" font-size="8.3" font-weight="bold" text-anchor="middle">+</text>
<text x="644.8" y="85.6" font-size="8.3" font-weight="bold" text-anchor="middle">+</text>
<text x="663.9" y="85.6" font-size="8.3" font-weight="bold" text-anchor="middle">+</text>
<text x="527" y="101.5" font-size="8.2">NFATC1</text>
<text x="527" y="116.5" font-size="8.2">MMP9</text>
<text x="527" y="132.9" font-size="8.2">GAPDH</text>
<clipPath id="bp3"><rect x="563.4" y="90.6" width="107.2" height="13.4"/></clipPath>
<rect x="563.4" y="90.6" width="107.2" height="13.4" fill="#e9e9e9" stroke="#4a4a4a" stroke-width="0.9"/>
<g clip-path="url(#bp3)">
<rect x="567" y="95.9" width="14.5" height="2.8" rx="2.5" ry="1.4" fill="rgb(59,59,59)" filter="url(#bl)"/>
<rect x="584.2" y="95.8" width="14.5" height="3" rx="2.7" ry="1.5" fill="rgb(50,50,50)" filter="url(#bl)"/>
<rect x="601.8" y="95.9" width="14.5" height="2.8" rx="2.5" ry="1.4" fill="rgb(66,66,66)" filter="url(#bl)"/>
<rect x="619.2" y="95.8" width="14.5" height="3" rx="2.7" ry="1.5" fill="rgb(50,50,50)" filter="url(#bl)"/>
<rect x="637.5" y="95.7" width="14.5" height="3.2" rx="2.9" ry="1.6" fill="rgb(32,32,32)" filter="url(#bl)"/>
<rect x="654.8" y="95.6" width="14.5" height="3.3" rx="3" ry="1.6" fill="rgb(28,28,28)" filter="url(#bl)"/>
</g>
<rect x="563.4" y="90.6" width="107.2" height="13.4" fill="none" stroke="#4a4a4a" stroke-width="0.9"/>
<clipPath id="bp4"><rect x="563.4" y="105.8" width="107.2" height="14"/></clipPath>
<rect x="563.4" y="105.8" width="107.2" height="14" fill="#e9e9e9" stroke="#4a4a4a" stroke-width="0.9"/>
<g clip-path="url(#bp4)">
<rect x="567" y="111.2" width="14.5" height="3.2" rx="2.9" ry="1.6" fill="rgb(167,167,167)" filter="url(#bl)"/>
<rect x="584.2" y="110.9" width="14.5" height="3.8" rx="3.4" ry="1.9" fill="rgb(95,95,95)" filter="url(#bl)"/>
<rect x="601.8" y="110.6" width="14.5" height="4.4" rx="4" ry="2.2" fill="rgb(37,37,37)" filter="url(#bl)"/>
<rect x="619.5" y="111.2" width="14" height="3.2" rx="2.9" ry="1.6" fill="rgb(133,133,133)" filter="url(#bl)"/>
<rect x="637.3" y="109.8" width="15" height="6" rx="5.4" ry="3" fill="rgb(16,16,16)" filter="url(#bl)"/>
<rect x="654.5" y="107.8" width="15" height="10" rx="7.5" ry="5" fill="rgb(10,10,10)" filter="url(#bl)"/>
</g>
<rect x="563.4" y="105.8" width="107.2" height="14" fill="none" stroke="#4a4a4a" stroke-width="0.9"/>
<clipPath id="bp5"><rect x="563.4" y="121.4" width="107.2" height="13.8"/></clipPath>
<rect x="563.4" y="121.4" width="107.2" height="13.8" fill="#e9e9e9" stroke="#4a4a4a" stroke-width="0.9"/>
<g clip-path="url(#bp5)">
<rect x="566" y="125.1" width="16.5" height="6.5" rx="5.9" ry="3.2" fill="rgb(10,10,10)" filter="url(#bl)"/>
<rect x="583.2" y="125.1" width="16.5" height="6.5" rx="5.9" ry="3.2" fill="rgb(10,10,10)" filter="url(#bl)"/>
<rect x="600.8" y="125.1" width="16.5" height="6.5" rx="5.9" ry="3.2" fill="rgb(10,10,10)" filter="url(#bl)"/>
<rect x="618.2" y="125.1" width="16.5" height="6.5" rx="5.9" ry="3.2" fill="rgb(10,10,10)" filter="url(#bl)"/>
<rect x="636.5" y="125.1" width="16.5" height="6.5" rx="5.9" ry="3.2" fill="rgb(10,10,10)" filter="url(#bl)"/>
<rect x="653.8" y="125.1" width="16.5" height="6.5" rx="5.9" ry="3.2" fill="rgb(10,10,10)" filter="url(#bl)"/>
</g>
<rect x="563.4" y="121.4" width="107.2" height="13.8" fill="none" stroke="#4a4a4a" stroke-width="0.9"/>
<line x1="37.2" y1="233.7" x2="37.2" y2="342.5" stroke="#000" stroke-width="1.2"/>
<line x1="32.6" y1="342" x2="37.2" y2="342" stroke="#000" stroke-width="1.1"/>
<text x="32" y="345.4" font-size="8.6" font-weight="bold" text-anchor="end">0</text>
<line x1="32.6" y1="305.9" x2="37.2" y2="305.9" stroke="#000" stroke-width="1.1"/>
<text x="32" y="309.3" font-size="8.6" font-weight="bold" text-anchor="end">5</text>
<line x1="32.6" y1="269.8" x2="37.2" y2="269.8" stroke="#000" stroke-width="1.1"/>
<text x="32" y="273.2" font-size="8.6" font-weight="bold" text-anchor="end">10</text>
<line x1="32.6" y1="233.7" x2="37.2" y2="233.7" stroke="#000" stroke-width="1.1"/>
<text x="32" y="237.1" font-size="8.6" font-weight="bold" text-anchor="end">15</text>
<line x1="37.2" y1="342" x2="353.3" y2="342" stroke="#000" stroke-width="1.2"/>
<line x1="58.1" y1="342" x2="58.1" y2="346.5" stroke="#000" stroke-width="1.1"/>
<rect x="40.5" y="335.4" width="3.7" height="6.6" fill="#fff" stroke="#8e8e8e" stroke-width="1.25"/>
<line x1="42.4" y1="334.8" x2="42.4" y2="334.1" stroke="#000" stroke-width="1.1"/>
<line x1="40.8" y1="334.1" x2="44" y2="334.1" stroke="#000" stroke-width="1.1"/>
<circle cx="41.3" cy="335.7" r="1.45" fill="#8e8e8e"/>
<circle cx="42.4" cy="334.8" r="1.45" fill="#8e8e8e"/>
<circle cx="43.4" cy="333.7" r="1.45" fill="#8e8e8e"/>
<rect x="46.8" y="328.2" width="3.7" height="13.8" fill="#fff" stroke="#cc9fdc" stroke-width="1.25"/>
<line x1="48.6" y1="327.6" x2="48.6" y2="326.1" stroke="#000" stroke-width="1.1"/>
<line x1="47" y1="326.1" x2="50.2" y2="326.1" stroke="#000" stroke-width="1.1"/>
<circle cx="47.6" cy="329.8" r="1.45" fill="#cc9fdc"/>
<circle cx="48.6" cy="327.6" r="1.45" fill="#cc9fdc"/>
<circle cx="49.7" cy="325.3" r="1.45" fill="#cc9fdc"/>
<text x="48.6" y="325.9" font-size="9.5" text-anchor="middle" fill="#505050">*</text>
<rect x="53.1" y="326.7" width="3.7" height="15.3" fill="#fff" stroke="#8078cc" stroke-width="1.25"/>
<line x1="55" y1="326.1" x2="55" y2="323.2" stroke="#000" stroke-width="1.1"/>
<line x1="53.4" y1="323.2" x2="56.6" y2="323.2" stroke="#000" stroke-width="1.1"/>
<circle cx="53.9" cy="328.5" r="1.45" fill="#8078cc"/>
<circle cx="55" cy="326.1" r="1.45" fill="#8078cc"/>
<circle cx="56" cy="321.6" r="1.45" fill="#8078cc"/>
<text x="55" y="322.2" font-size="9.5" text-anchor="middle" fill="#505050">*</text>
<rect x="59.4" y="318.1" width="3.7" height="23.9" fill="#fff" stroke="#a8303e" stroke-width="1.25"/>
<line x1="61.2" y1="317.5" x2="61.2" y2="313.1" stroke="#000" stroke-width="1.1"/>
<line x1="59.6" y1="313.1" x2="62.9" y2="313.1" stroke="#000" stroke-width="1.1"/>
<circle cx="60.2" cy="323.2" r="1.45" fill="#a8303e"/>
<circle cx="61.2" cy="317.5" r="1.45" fill="#a8303e"/>
<circle cx="62.3" cy="313.6" r="1.45" fill="#a8303e"/>
<text x="61.2" y="311.2" font-size="9.5" text-anchor="middle" fill="#505050">*</text>
<rect x="65.7" y="313.7" width="3.7" height="28.3" fill="#fff" stroke="#c850c8" stroke-width="1.25"/>
<line x1="67.5" y1="313.1" x2="67.5" y2="309.5" stroke="#000" stroke-width="1.1"/>
<line x1="66" y1="309.5" x2="69.1" y2="309.5" stroke="#000" stroke-width="1.1"/>
<circle cx="66.5" cy="317.4" r="1.45" fill="#c850c8"/>
<circle cx="67.5" cy="313.1" r="1.45" fill="#c850c8"/>
<circle cx="68.6" cy="308.7" r="1.45" fill="#c850c8"/>
<text x="67.5" y="308" font-size="9.5" text-anchor="middle" fill="#505050">**</text>
<rect x="72" y="312.3" width="3.7" height="29.7" fill="#fff" stroke="#ee5058" stroke-width="1.25"/>
<line x1="73.9" y1="311.7" x2="73.9" y2="308.1" stroke="#000" stroke-width="1.1"/>
<line x1="72.3" y1="308.1" x2="75.5" y2="308.1" stroke="#000" stroke-width="1.1"/>
<circle cx="72.8" cy="316.2" r="1.45" fill="#ee5058"/>
<circle cx="73.9" cy="311.7" r="1.45" fill="#ee5058"/>
<circle cx="74.9" cy="308.2" r="1.45" fill="#ee5058"/>
<text x="73.9" y="306.6" font-size="9.5" text-anchor="middle" fill="#505050">**</text>
<line x1="97.1" y1="342" x2="97.1" y2="346.5" stroke="#000" stroke-width="1.1"/>
<rect x="79.5" y="334.7" width="3.7" height="7.3" fill="#fff" stroke="#8e8e8e" stroke-width="1.25"/>
<line x1="81.3" y1="334.1" x2="81.3" y2="328.3" stroke="#000" stroke-width="1.1"/>
<line x1="79.7" y1="328.3" x2="82.9" y2="328.3" stroke="#000" stroke-width="1.1"/>
<circle cx="80.3" cy="340" r="1.45" fill="#8e8e8e"/>
<circle cx="81.3" cy="334.1" r="1.45" fill="#8e8e8e"/>
<circle cx="82.4" cy="325.9" r="1.45" fill="#8e8e8e"/>
<rect x="85.8" y="286.3" width="3.7" height="55.7" fill="#fff" stroke="#cc9fdc" stroke-width="1.25"/>
<line x1="87.6" y1="285.7" x2="87.6" y2="283.5" stroke="#000" stroke-width="1.1"/>
<line x1="86" y1="283.5" x2="89.2" y2="283.5" stroke="#000" stroke-width="1.1"/>
<circle cx="86.6" cy="287.7" r="1.45" fill="#cc9fdc"/>
<circle cx="87.6" cy="285.7" r="1.45" fill="#cc9fdc"/>
<circle cx="88.7" cy="283.7" r="1.45" fill="#cc9fdc"/>
<text x="87.6" y="282.9" font-size="9.5" text-anchor="middle" fill="#505050">**</text>
<rect x="92.1" y="290.6" width="3.7" height="51.4" fill="#fff" stroke="#8078cc" stroke-width="1.25"/>
<line x1="93.9" y1="290" x2="93.9" y2="285" stroke="#000" stroke-width="1.1"/>
<line x1="92.3" y1="285" x2="95.5" y2="285" stroke="#000" stroke-width="1.1"/>
<circle cx="92.9" cy="296.6" r="1.45" fill="#8078cc"/>
<circle cx="93.9" cy="290" r="1.45" fill="#8078cc"/>
<circle cx="95" cy="286" r="1.45" fill="#8078cc"/>
<text x="93.9" y="282.6" font-size="9.5" text-anchor="middle" fill="#505050">**</text>
<rect x="98.4" y="302.2" width="3.7" height="39.8" fill="#fff" stroke="#a8303e" stroke-width="1.25"/>
<line x1="100.2" y1="301.6" x2="100.2" y2="292.9" stroke="#000" stroke-width="1.1"/>
<line x1="98.6" y1="292.9" x2="101.8" y2="292.9" stroke="#000" stroke-width="1.1"/>
<circle cx="99.2" cy="314.5" r="1.45" fill="#a8303e"/>
<circle cx="100.2" cy="301.6" r="1.45" fill="#a8303e"/>
<circle cx="101.3" cy="293.1" r="1.45" fill="#a8303e"/>
<text x="100.2" y="288.4" font-size="9.5" text-anchor="middle" fill="#505050">**</text>
<rect x="104.7" y="253.8" width="3.7" height="88.2" fill="#fff" stroke="#c850c8" stroke-width="1.25"/>
<line x1="106.5" y1="253.2" x2="106.5" y2="248.9" stroke="#000" stroke-width="1.1"/>
<line x1="104.9" y1="248.9" x2="108.1" y2="248.9" stroke="#000" stroke-width="1.1"/>
<circle cx="105.5" cy="260.1" r="1.45" fill="#c850c8"/>
<circle cx="106.5" cy="253.2" r="1.45" fill="#c850c8"/>
<circle cx="107.6" cy="248.7" r="1.45" fill="#c850c8"/>
<text x="106.5" y="247" font-size="9.5" text-anchor="middle" fill="#505050">**</text>
<text x="106.5" y="238.6" font-size="6.2" font-weight="bold" text-anchor="middle" font-style="italic" fill="#444">#</text>
<rect x="111" y="258.2" width="3.7" height="83.8" fill="#fff" stroke="#ee5058" stroke-width="1.25"/>
<line x1="112.8" y1="257.5" x2="112.8" y2="253.9" stroke="#000" stroke-width="1.1"/>
<line x1="111.2" y1="253.9" x2="114.4" y2="253.9" stroke="#000" stroke-width="1.1"/>
<circle cx="111.8" cy="263.2" r="1.45" fill="#ee5058"/>
<circle cx="112.8" cy="257.5" r="1.45" fill="#ee5058"/>
<circle cx="113.9" cy="252.7" r="1.45" fill="#ee5058"/>
<text x="112.8" y="252.4" font-size="9.5" text-anchor="middle" fill="#505050">**</text>
<text x="112.8" y="244.1" font-size="6.2" font-weight="bold" text-anchor="middle" font-style="italic" fill="#444">#</text>
<line x1="136.1" y1="342" x2="136.1" y2="346.5" stroke="#000" stroke-width="1.1"/>
<rect x="118.5" y="335.4" width="3.7" height="6.6" fill="#fff" stroke="#8e8e8e" stroke-width="1.25"/>
<line x1="120.3" y1="334.8" x2="120.3" y2="334.1" stroke="#000" stroke-width="1.1"/>
<line x1="118.7" y1="334.1" x2="121.9" y2="334.1" stroke="#000" stroke-width="1.1"/>
<circle cx="119.2" cy="335.5" r="1.45" fill="#8e8e8e"/>
<circle cx="120.3" cy="334.8" r="1.45" fill="#8e8e8e"/>
<circle cx="121.4" cy="333.8" r="1.45" fill="#8e8e8e"/>
<rect x="124.8" y="331.1" width="3.7" height="10.9" fill="#fff" stroke="#cc9fdc" stroke-width="1.25"/>
<line x1="126.6" y1="330.4" x2="126.6" y2="329.7" stroke="#000" stroke-width="1.1"/>
<line x1="125" y1="329.7" x2="128.2" y2="329.7" stroke="#000" stroke-width="1.1"/>
<circle cx="125.5" cy="331.6" r="1.45" fill="#cc9fdc"/>
<circle cx="126.6" cy="330.4" r="1.45" fill="#cc9fdc"/>
<circle cx="127.7" cy="329.7" r="1.45" fill="#cc9fdc"/>
<rect x="131.1" y="330.4" width="3.7" height="11.6" fill="#fff" stroke="#8078cc" stroke-width="1.25"/>
<line x1="132.9" y1="329.7" x2="132.9" y2="328.3" stroke="#000" stroke-width="1.1"/>
<line x1="131.3" y1="328.3" x2="134.5" y2="328.3" stroke="#000" stroke-width="1.1"/>
<circle cx="131.8" cy="331.3" r="1.45" fill="#8078cc"/>
<circle cx="132.9" cy="329.7" r="1.45" fill="#8078cc"/>
<circle cx="134" cy="328.4" r="1.45" fill="#8078cc"/>
<rect x="137.4" y="284.9" width="3.7" height="57.1" fill="#fff" stroke="#a8303e" stroke-width="1.25"/>
<line x1="139.2" y1="284.2" x2="139.2" y2="283.5" stroke="#000" stroke-width="1.1"/>
<line x1="137.6" y1="283.5" x2="140.8" y2="283.5" stroke="#000" stroke-width="1.1"/>
<circle cx="138.1" cy="284.9" r="1.45" fill="#a8303e"/>
<circle cx="139.2" cy="284.2" r="1.45" fill="#a8303e"/>
<circle cx="140.3" cy="283.3" r="1.45" fill="#a8303e"/>
<text x="139.2" y="283.8" font-size="9.5" text-anchor="middle" fill="#505050">**</text>
<rect x="143.7" y="282" width="3.7" height="60" fill="#fff" stroke="#c850c8" stroke-width="1.25"/>
<line x1="145.5" y1="281.4" x2="145.5" y2="279.2" stroke="#000" stroke-width="1.1"/>
<line x1="143.9" y1="279.2" x2="147.1" y2="279.2" stroke="#000" stroke-width="1.1"/>
<circle cx="144.4" cy="283.1" r="1.45" fill="#c850c8"/>
<circle cx="145.5" cy="281.4" r="1.45" fill="#c850c8"/>
<circle cx="146.6" cy="279" r="1.45" fill="#c850c8"/>
<text x="145.5" y="278.6" font-size="9.5" text-anchor="middle" fill="#505050">**</text>
<rect x="150" y="282" width="3.7" height="60" fill="#fff" stroke="#ee5058" stroke-width="1.25"/>
<line x1="151.8" y1="281.4" x2="151.8" y2="278.5" stroke="#000" stroke-width="1.1"/>
<line x1="150.2" y1="278.5" x2="153.4" y2="278.5" stroke="#000" stroke-width="1.1"/>
<circle cx="150.7" cy="284.4" r="1.45" fill="#ee5058"/>
<circle cx="151.8" cy="281.4" r="1.45" fill="#ee5058"/>
<circle cx="152.9" cy="277.9" r="1.45" fill="#ee5058"/>
<text x="151.8" y="277.4" font-size="9.5" text-anchor="middle" fill="#505050">**</text>
<line x1="175" y1="342" x2="175" y2="346.5" stroke="#000" stroke-width="1.1"/>
<rect x="157.5" y="335.4" width="3.7" height="6.6" fill="#fff" stroke="#8e8e8e" stroke-width="1.25"/>
<line x1="159.3" y1="334.8" x2="159.3" y2="333.3" stroke="#000" stroke-width="1.1"/>
<line x1="157.7" y1="333.3" x2="160.9" y2="333.3" stroke="#000" stroke-width="1.1"/>
<circle cx="158.2" cy="336.3" r="1.45" fill="#8e8e8e"/>
<circle cx="159.3" cy="334.8" r="1.45" fill="#8e8e8e"/>
<circle cx="160.4" cy="332.8" r="1.45" fill="#8e8e8e"/>
<rect x="163.8" y="330.4" width="3.7" height="11.6" fill="#fff" stroke="#cc9fdc" stroke-width="1.25"/>
<line x1="165.6" y1="329.7" x2="165.6" y2="329" stroke="#000" stroke-width="1.1"/>
<line x1="164" y1="329" x2="167.2" y2="329" stroke="#000" stroke-width="1.1"/>
<circle cx="164.5" cy="330.3" r="1.45" fill="#cc9fdc"/>
<circle cx="165.6" cy="329.7" r="1.45" fill="#cc9fdc"/>
<circle cx="166.7" cy="329.1" r="1.45" fill="#cc9fdc"/>
<rect x="170.1" y="330.4" width="3.7" height="11.6" fill="#fff" stroke="#8078cc" stroke-width="1.25"/>
<line x1="171.9" y1="329.7" x2="171.9" y2="328.3" stroke="#000" stroke-width="1.1"/>
<line x1="170.3" y1="328.3" x2="173.5" y2="328.3" stroke="#000" stroke-width="1.1"/>
<circle cx="170.8" cy="331.7" r="1.45" fill="#8078cc"/>
<circle cx="171.9" cy="329.7" r="1.45" fill="#8078cc"/>
<circle cx="173" cy="328.5" r="1.45" fill="#8078cc"/>
<rect x="176.4" y="313" width="3.7" height="29" fill="#fff" stroke="#a8303e" stroke-width="1.25"/>
<line x1="178.2" y1="312.4" x2="178.2" y2="308.1" stroke="#000" stroke-width="1.1"/>
<line x1="176.6" y1="308.1" x2="179.8" y2="308.1" stroke="#000" stroke-width="1.1"/>
<circle cx="177.1" cy="318.6" r="1.45" fill="#a8303e"/>
<circle cx="178.2" cy="312.4" r="1.45" fill="#a8303e"/>
<circle cx="179.3" cy="306.9" r="1.45" fill="#a8303e"/>
<text x="178.2" y="306.2" font-size="9.5" text-anchor="middle" fill="#505050">**</text>
<rect x="182.7" y="297.9" width="3.7" height="44.1" fill="#fff" stroke="#c850c8" stroke-width="1.25"/>
<line x1="184.5" y1="297.2" x2="184.5" y2="295.8" stroke="#000" stroke-width="1.1"/>
<line x1="182.9" y1="295.8" x2="186.1" y2="295.8" stroke="#000" stroke-width="1.1"/>
<circle cx="183.4" cy="298.4" r="1.45" fill="#c850c8"/>
<circle cx="184.5" cy="297.2" r="1.45" fill="#c850c8"/>
<circle cx="185.6" cy="295.9" r="1.45" fill="#c850c8"/>
<text x="184.5" y="295.6" font-size="9.5" text-anchor="middle" fill="#505050">**</text>
<rect x="189" y="301.5" width="3.7" height="40.5" fill="#fff" stroke="#ee5058" stroke-width="1.25"/>
<line x1="190.8" y1="300.8" x2="190.8" y2="296.5" stroke="#000" stroke-width="1.1"/>
<line x1="189.2" y1="296.5" x2="192.4" y2="296.5" stroke="#000" stroke-width="1.1"/>
<circle cx="189.7" cy="307.6" r="1.45" fill="#ee5058"/>
<circle cx="190.8" cy="300.8" r="1.45" fill="#ee5058"/>
<circle cx="191.9" cy="294.8" r="1.45" fill="#ee5058"/>
<text x="190.8" y="294.6" font-size="9.5" text-anchor="middle" fill="#505050">**</text>
<line x1="214" y1="342" x2="214" y2="346.5" stroke="#000" stroke-width="1.1"/>
<rect x="196.4" y="335.8" width="3.7" height="6.2" fill="#fff" stroke="#8e8e8e" stroke-width="1.25"/>
<line x1="198.3" y1="335.1" x2="198.3" y2="330.8" stroke="#000" stroke-width="1.1"/>
<line x1="196.7" y1="330.8" x2="199.9" y2="330.8" stroke="#000" stroke-width="1.1"/>
<circle cx="197.2" cy="338.6" r="1.45" fill="#8e8e8e"/>
<circle cx="198.3" cy="335.1" r="1.45" fill="#8e8e8e"/>
<circle cx="199.3" cy="330.5" r="1.45" fill="#8e8e8e"/>
<rect x="202.7" y="331.1" width="3.7" height="10.9" fill="#fff" stroke="#cc9fdc" stroke-width="1.25"/>
<line x1="204.6" y1="330.4" x2="204.6" y2="329" stroke="#000" stroke-width="1.1"/>
<line x1="203" y1="329" x2="206.2" y2="329" stroke="#000" stroke-width="1.1"/>
<circle cx="203.5" cy="332" r="1.45" fill="#cc9fdc"/>
<circle cx="204.6" cy="330.4" r="1.45" fill="#cc9fdc"/>
<circle cx="205.6" cy="328.4" r="1.45" fill="#cc9fdc"/>
<rect x="209" y="330.4" width="3.7" height="11.6" fill="#fff" stroke="#8078cc" stroke-width="1.25"/>
<line x1="210.9" y1="329.7" x2="210.9" y2="328.3" stroke="#000" stroke-width="1.1"/>
<line x1="209.3" y1="328.3" x2="212.5" y2="328.3" stroke="#000" stroke-width="1.1"/>
<circle cx="209.8" cy="331" r="1.45" fill="#8078cc"/>
<circle cx="210.9" cy="329.7" r="1.45" fill="#8078cc"/>
<circle cx="211.9" cy="327.6" r="1.45" fill="#8078cc"/>
<rect x="215.3" y="304.4" width="3.7" height="37.6" fill="#fff" stroke="#a8303e" stroke-width="1.25"/>
<line x1="217.2" y1="303.7" x2="217.2" y2="300.8" stroke="#000" stroke-width="1.1"/>
<line x1="215.6" y1="300.8" x2="218.8" y2="300.8" stroke="#000" stroke-width="1.1"/>
<circle cx="216.1" cy="308" r="1.45" fill="#a8303e"/>
<circle cx="217.2" cy="303.7" r="1.45" fill="#a8303e"/>
<circle cx="218.2" cy="299.2" r="1.45" fill="#a8303e"/>
<text x="217.2" y="299.8" font-size="9.5" text-anchor="middle" fill="#505050">**</text>
<rect x="221.6" y="263.2" width="3.7" height="78.8" fill="#fff" stroke="#c850c8" stroke-width="1.25"/>
<line x1="223.5" y1="262.6" x2="223.5" y2="259" stroke="#000" stroke-width="1.1"/>
<line x1="221.9" y1="259" x2="225.1" y2="259" stroke="#000" stroke-width="1.1"/>
<circle cx="222.4" cy="265.7" r="1.45" fill="#c850c8"/>
<circle cx="223.5" cy="262.6" r="1.45" fill="#c850c8"/>
<circle cx="224.5" cy="257.9" r="1.45" fill="#c850c8"/>
<text x="223.5" y="257.5" font-size="9.5" text-anchor="middle" fill="#505050">**</text>
<text x="223.5" y="249.1" font-size="6.2" font-weight="bold" text-anchor="middle" font-style="italic" fill="#444">##</text>
<rect x="227.9" y="248" width="3.7" height="94" fill="#fff" stroke="#ee5058" stroke-width="1.25"/>
<line x1="229.8" y1="247.4" x2="229.8" y2="246" stroke="#000" stroke-width="1.1"/>
<line x1="228.2" y1="246" x2="231.4" y2="246" stroke="#000" stroke-width="1.1"/>
<circle cx="228.7" cy="249.6" r="1.45" fill="#ee5058"/>
<circle cx="229.8" cy="247.4" r="1.45" fill="#ee5058"/>
<circle cx="230.8" cy="245.2" r="1.45" fill="#ee5058"/>
<text x="229.8" y="245.8" font-size="9.5" text-anchor="middle" fill="#505050">**</text>
<text x="229.8" y="237.4" font-size="6.2" font-weight="bold" text-anchor="middle" font-style="italic" fill="#444">##</text>
<line x1="253" y1="342" x2="253" y2="346.5" stroke="#000" stroke-width="1.1"/>
<rect x="235.4" y="335.4" width="3.7" height="6.6" fill="#fff" stroke="#8e8e8e" stroke-width="1.25"/>
<line x1="237.2" y1="334.8" x2="237.2" y2="334.1" stroke="#000" stroke-width="1.1"/>
<line x1="235.6" y1="334.1" x2="238.8" y2="334.1" stroke="#000" stroke-width="1.1"/>
<circle cx="236.2" cy="335.7" r="1.45" fill="#8e8e8e"/>
<circle cx="237.2" cy="334.8" r="1.45" fill="#8e8e8e"/>
<circle cx="238.3" cy="334" r="1.45" fill="#8e8e8e"/>
<rect x="241.7" y="331.8" width="3.7" height="10.2" fill="#fff" stroke="#cc9fdc" stroke-width="1.25"/>
<line x1="243.5" y1="331.2" x2="243.5" y2="329" stroke="#000" stroke-width="1.1"/>
<line x1="241.9" y1="329" x2="245.1" y2="329" stroke="#000" stroke-width="1.1"/>
<circle cx="242.5" cy="333.2" r="1.45" fill="#cc9fdc"/>
<circle cx="243.5" cy="331.2" r="1.45" fill="#cc9fdc"/>
<circle cx="244.6" cy="329.2" r="1.45" fill="#cc9fdc"/>
<rect x="248" y="326.7" width="3.7" height="15.3" fill="#fff" stroke="#8078cc" stroke-width="1.25"/>
<line x1="249.8" y1="326.1" x2="249.8" y2="320.3" stroke="#000" stroke-width="1.1"/>
<line x1="248.2" y1="320.3" x2="251.4" y2="320.3" stroke="#000" stroke-width="1.1"/>
<circle cx="248.8" cy="333.9" r="1.45" fill="#8078cc"/>
<circle cx="249.8" cy="326.1" r="1.45" fill="#8078cc"/>
<circle cx="250.9" cy="320.7" r="1.45" fill="#8078cc"/>
<rect x="254.3" y="303.6" width="3.7" height="38.4" fill="#fff" stroke="#a8303e" stroke-width="1.25"/>
<line x1="256.1" y1="303" x2="256.1" y2="299.4" stroke="#000" stroke-width="1.1"/>
<line x1="254.5" y1="299.4" x2="257.8" y2="299.4" stroke="#000" stroke-width="1.1"/>
<circle cx="255.1" cy="306" r="1.45" fill="#a8303e"/>
<circle cx="256.1" cy="303" r="1.45" fill="#a8303e"/>
<circle cx="257.2" cy="298.6" r="1.45" fill="#a8303e"/>
<text x="256.1" y="297.9" font-size="9.5" text-anchor="middle" fill="#505050">**</text>
<rect x="260.6" y="252.4" width="3.7" height="89.6" fill="#fff" stroke="#c850c8" stroke-width="1.25"/>
<line x1="262.4" y1="251.8" x2="262.4" y2="246" stroke="#000" stroke-width="1.1"/>
<line x1="260.8" y1="246" x2="264.1" y2="246" stroke="#000" stroke-width="1.1"/>
<circle cx="261.4" cy="258.2" r="1.45" fill="#c850c8"/>
<circle cx="262.4" cy="251.8" r="1.45" fill="#c850c8"/>
<circle cx="263.5" cy="244.4" r="1.45" fill="#c850c8"/>
<text x="262.4" y="243.2" font-size="9.5" text-anchor="middle" fill="#505050">**</text>
<text x="262.4" y="234.8" font-size="6.2" font-weight="bold" text-anchor="middle" font-style="italic" fill="#444">##</text>
<rect x="266.9" y="250.9" width="3.7" height="91.1" fill="#fff" stroke="#ee5058" stroke-width="1.25"/>
<line x1="268.7" y1="250.3" x2="268.7" y2="246" stroke="#000" stroke-width="1.1"/>
<line x1="267.1" y1="246" x2="270.3" y2="246" stroke="#000" stroke-width="1.1"/>
<circle cx="267.7" cy="256.6" r="1.45" fill="#ee5058"/>
<circle cx="268.7" cy="250.3" r="1.45" fill="#ee5058"/>
<circle cx="269.8" cy="245.4" r="1.45" fill="#ee5058"/>
<text x="268.7" y="244.1" font-size="9.5" text-anchor="middle" fill="#505050">**</text>
<text x="268.7" y="235.7" font-size="6.2" font-weight="bold" text-anchor="middle" font-style="italic" fill="#444">##</text>
<line x1="292" y1="342" x2="292" y2="346.5" stroke="#000" stroke-width="1.1"/>
<rect x="274.4" y="336.1" width="3.7" height="5.9" fill="#fff" stroke="#8e8e8e" stroke-width="1.25"/>
<line x1="276.2" y1="335.5" x2="276.2" y2="334.8" stroke="#000" stroke-width="1.1"/>
<line x1="274.6" y1="334.8" x2="277.8" y2="334.8" stroke="#000" stroke-width="1.1"/>
<circle cx="275.2" cy="336.1" r="1.45" fill="#8e8e8e"/>
<circle cx="276.2" cy="335.5" r="1.45" fill="#8e8e8e"/>
<circle cx="277.3" cy="334.9" r="1.45" fill="#8e8e8e"/>
<rect x="280.7" y="331.8" width="3.7" height="10.2" fill="#fff" stroke="#cc9fdc" stroke-width="1.25"/>
<line x1="282.5" y1="331.2" x2="282.5" y2="328.3" stroke="#000" stroke-width="1.1"/>
<line x1="280.9" y1="328.3" x2="284.1" y2="328.3" stroke="#000" stroke-width="1.1"/>
<circle cx="281.5" cy="334.6" r="1.45" fill="#cc9fdc"/>
<circle cx="282.5" cy="331.2" r="1.45" fill="#cc9fdc"/>
<circle cx="283.6" cy="328.6" r="1.45" fill="#cc9fdc"/>
<rect x="287" y="330.4" width="3.7" height="11.6" fill="#fff" stroke="#8078cc" stroke-width="1.25"/>
<line x1="288.8" y1="329.7" x2="288.8" y2="327.6" stroke="#000" stroke-width="1.1"/>
<line x1="287.2" y1="327.6" x2="290.4" y2="327.6" stroke="#000" stroke-width="1.1"/>
<circle cx="287.8" cy="332.7" r="1.45" fill="#8078cc"/>
<circle cx="288.8" cy="329.7" r="1.45" fill="#8078cc"/>
<circle cx="289.9" cy="326.9" r="1.45" fill="#8078cc"/>
<rect x="293.3" y="276.9" width="3.7" height="65.1" fill="#fff" stroke="#a8303e" stroke-width="1.25"/>
<line x1="295.1" y1="276.3" x2="295.1" y2="274.1" stroke="#000" stroke-width="1.1"/>
<line x1="293.5" y1="274.1" x2="296.7" y2="274.1" stroke="#000" stroke-width="1.1"/>
<circle cx="294.1" cy="279.4" r="1.45" fill="#a8303e"/>
<circle cx="295.1" cy="276.3" r="1.45" fill="#a8303e"/>
<circle cx="296.2" cy="273.8" r="1.45" fill="#a8303e"/>
<text x="295.1" y="273.5" font-size="9.5" text-anchor="middle" fill="#505050">**</text>
<rect x="299.6" y="255.3" width="3.7" height="86.7" fill="#fff" stroke="#c850c8" stroke-width="1.25"/>
<line x1="301.4" y1="254.6" x2="301.4" y2="251" stroke="#000" stroke-width="1.1"/>
<line x1="299.8" y1="251" x2="303" y2="251" stroke="#000" stroke-width="1.1"/>
<circle cx="300.4" cy="258" r="1.45" fill="#c850c8"/>
<circle cx="301.4" cy="254.6" r="1.45" fill="#c850c8"/>
<circle cx="302.5" cy="250.9" r="1.45" fill="#c850c8"/>
<text x="301.4" y="249.6" font-size="9.5" text-anchor="middle" fill="#505050">**</text>
<text x="301.4" y="241.2" font-size="6.2" font-weight="bold" text-anchor="middle" font-style="italic" fill="#444">#</text>
<rect x="305.9" y="256.7" width="3.7" height="85.3" fill="#fff" stroke="#ee5058" stroke-width="1.25"/>
<line x1="307.7" y1="256.1" x2="307.7" y2="253.2" stroke="#000" stroke-width="1.1"/>
<line x1="306.1" y1="253.2" x2="309.3" y2="253.2" stroke="#000" stroke-width="1.1"/>
<circle cx="306.7" cy="259.4" r="1.45" fill="#ee5058"/>
<circle cx="307.7" cy="256.1" r="1.45" fill="#ee5058"/>
<circle cx="308.8" cy="251.8" r="1.45" fill="#ee5058"/>
<text x="307.7" y="252.2" font-size="9.5" text-anchor="middle" fill="#505050">**</text>
<text x="307.7" y="243.8" font-size="6.2" font-weight="bold" text-anchor="middle" font-style="italic" fill="#444">#</text>
<line x1="331" y1="342" x2="331" y2="346.5" stroke="#000" stroke-width="1.1"/>
<rect x="313.4" y="334.9" width="3.7" height="7.1" fill="#fff" stroke="#8e8e8e" stroke-width="1.25"/>
<line x1="315.2" y1="334.3" x2="315.2" y2="333.6" stroke="#000" stroke-width="1.1"/>
<line x1="313.6" y1="333.6" x2="316.8" y2="333.6" stroke="#000" stroke-width="1.1"/>
<circle cx="314.1" cy="335.4" r="1.45" fill="#8e8e8e"/>
<circle cx="315.2" cy="334.3" r="1.45" fill="#8e8e8e"/>
<circle cx="316.3" cy="333.4" r="1.45" fill="#8e8e8e"/>
<rect x="319.7" y="328.9" width="3.7" height="13.1" fill="#fff" stroke="#cc9fdc" stroke-width="1.25"/>
<line x1="321.5" y1="328.3" x2="321.5" y2="327.6" stroke="#000" stroke-width="1.1"/>
<line x1="319.9" y1="327.6" x2="323.1" y2="327.6" stroke="#000" stroke-width="1.1"/>
<circle cx="320.4" cy="329.3" r="1.45" fill="#cc9fdc"/>
<circle cx="321.5" cy="328.3" r="1.45" fill="#cc9fdc"/>
<circle cx="322.6" cy="327.5" r="1.45" fill="#cc9fdc"/>
<rect x="326" y="328.9" width="3.7" height="13.1" fill="#fff" stroke="#8078cc" stroke-width="1.25"/>
<line x1="327.8" y1="328.3" x2="327.8" y2="326.8" stroke="#000" stroke-width="1.1"/>
<line x1="326.2" y1="326.8" x2="329.4" y2="326.8" stroke="#000" stroke-width="1.1"/>
<circle cx="326.7" cy="329.9" r="1.45" fill="#8078cc"/>
<circle cx="327.8" cy="328.3" r="1.45" fill="#8078cc"/>
<circle cx="328.9" cy="326.7" r="1.45" fill="#8078cc"/>
<rect x="332.3" y="300.7" width="3.7" height="41.3" fill="#fff" stroke="#a8303e" stroke-width="1.25"/>
<line x1="334.1" y1="300.1" x2="334.1" y2="292.9" stroke="#000" stroke-width="1.1"/>
<line x1="332.5" y1="292.9" x2="335.7" y2="292.9" stroke="#000" stroke-width="1.1"/>
<circle cx="333" cy="311.6" r="1.45" fill="#a8303e"/>
<circle cx="334.1" cy="300.1" r="1.45" fill="#a8303e"/>
<circle cx="335.2" cy="290.7" r="1.45" fill="#a8303e"/>
<text x="334.1" y="289.3" font-size="9.5" text-anchor="middle" fill="#505050">**</text>
<rect x="338.6" y="293.5" width="3.7" height="48.5" fill="#fff" stroke="#c850c8" stroke-width="1.25"/>
<line x1="340.4" y1="292.9" x2="340.4" y2="282.8" stroke="#000" stroke-width="1.1"/>
<line x1="338.8" y1="282.8" x2="342" y2="282.8" stroke="#000" stroke-width="1.1"/>
<circle cx="339.3" cy="305" r="1.45" fill="#c850c8"/>
<circle cx="340.4" cy="292.9" r="1.45" fill="#c850c8"/>
<circle cx="341.5" cy="284.1" r="1.45" fill="#c850c8"/>
<text x="340.4" y="277.4" font-size="9.5" text-anchor="middle" fill="#505050">**</text>
<rect x="344.9" y="289.2" width="3.7" height="52.8" fill="#fff" stroke="#ee5058" stroke-width="1.25"/>
<line x1="346.7" y1="288.6" x2="346.7" y2="279.9" stroke="#000" stroke-width="1.1"/>
<line x1="345.1" y1="279.9" x2="348.3" y2="279.9" stroke="#000" stroke-width="1.1"/>
<circle cx="345.6" cy="297.4" r="1.45" fill="#ee5058"/>
<circle cx="346.7" cy="288.6" r="1.45" fill="#ee5058"/>
<circle cx="347.8" cy="275.6" r="1.45" fill="#ee5058"/>
<text x="346.7" y="275.4" font-size="9.5" text-anchor="middle" fill="#505050">**</text>
<text x="58.1" y="356.3" font-size="8.2" font-weight="bold" text-anchor="middle" font-style="italic">RANK</text>
<text x="97.1" y="356.3" font-size="8.2" font-weight="bold" text-anchor="middle" font-style="italic">Traf6</text>
<text x="136.1" y="356.3" font-size="8.2" font-weight="bold" text-anchor="middle" font-style="italic">c-Src</text>
<text x="175" y="356.3" font-size="8.2" font-weight="bold" text-anchor="middle" font-style="italic">Fra-1</text>
<text x="214" y="356.3" font-size="8.2" font-weight="bold" text-anchor="middle" font-style="italic">Nfatc1</text>
<text x="253" y="356.3" font-size="8.2" font-weight="bold" text-anchor="middle" font-style="italic">c-Fos</text>
<text x="292" y="356.3" font-size="8.2" font-weight="bold" text-anchor="middle" font-style="italic">Trap</text>
<text x="331" y="356.3" font-size="8.2" font-weight="bold" text-anchor="middle" font-style="italic">Cathepsin K</text>
<rect x="95.8" y="178.4" width="11.5" height="4.6" fill="#fff" stroke="#8e8e8e" stroke-width="1.2"/>
<text x="110.3" y="183.6" font-size="8.2">Ctrl</text>
<rect x="95.8" y="188.3" width="11.5" height="4.6" fill="#fff" stroke="#cc9fdc" stroke-width="1.2"/>
<text x="110.3" y="193.5" font-size="8.2">sh6630</text>
<rect x="95.8" y="198.1" width="11.5" height="4.6" fill="#fff" stroke="#8078cc" stroke-width="1.2"/>
<text x="110.3" y="203.3" font-size="8.2">sh6631</text>
<rect x="95.8" y="208" width="11.5" height="4.6" fill="#fff" stroke="#a8303e" stroke-width="1.2"/>
<text x="110.3" y="213.2" font-size="8.2">Ctrl+RANKL</text>
<rect x="95.8" y="217.8" width="11.5" height="4.6" fill="#fff" stroke="#c850c8" stroke-width="1.2"/>
<text x="110.3" y="223" font-size="8.2">sh6630+RANKL</text>
<rect x="95.8" y="227.7" width="11.5" height="4.6" fill="#fff" stroke="#ee5058" stroke-width="1.2"/>
<text x="110.3" y="232.9" font-size="8.2">sh6631+RANKL</text>
<text x="170.8" y="199.6" font-size="8.5" font-weight="bold">Day 3</text>
<text x="0" y="0" font-size="8.2" font-weight="bold" text-anchor="middle" transform="translate(9.9 287) rotate(-90)">Relative</text>
<text x="0" y="0" font-size="8.5" font-weight="bold" text-anchor="middle" transform="translate(19.9 286.4) rotate(-90)">mRNA expression(100%)</text>
<line x1="82.1" y1="405" x2="82.1" y2="506.8" stroke="#000" stroke-width="1.2"/>
<line x1="77.9" y1="506.3" x2="82.1" y2="506.3" stroke="#000" stroke-width="1.1"/>
<text x="77.3" y="509.4" font-size="7.8" font-weight="bold" text-anchor="end">0</text>
<line x1="77.9" y1="481" x2="82.1" y2="481" stroke="#000" stroke-width="1.1"/>
<text x="77.3" y="484.1" font-size="7.8" font-weight="bold" text-anchor="end">10</text>
<line x1="77.9" y1="455.6" x2="82.1" y2="455.6" stroke="#000" stroke-width="1.1"/>
<text x="77.3" y="458.8" font-size="7.8" font-weight="bold" text-anchor="end">20</text>
<line x1="77.9" y1="430.3" x2="82.1" y2="430.3" stroke="#000" stroke-width="1.1"/>
<text x="77.3" y="433.4" font-size="7.8" font-weight="bold" text-anchor="end">30</text>
<line x1="77.9" y1="405" x2="82.1" y2="405" stroke="#000" stroke-width="1.1"/>
<text x="77.3" y="408.1" font-size="7.8" font-weight="bold" text-anchor="end">40</text>
<line x1="82.1" y1="506.3" x2="111.5" y2="506.3" stroke="#000" stroke-width="1.2"/>
<rect x="85.3" y="504.4" width="10" height="1.9" fill="#fff" stroke="#8e8e8e" stroke-width="1.25"/>
<line x1="90.3" y1="503.8" x2="90.3" y2="503" stroke="#000" stroke-width="1.2"/>
<line x1="87.5" y1="503" x2="93.1" y2="503" stroke="#000" stroke-width="1.2"/>
<rect x="99.3" y="441.1" width="10.5" height="65.2" fill="#fff" stroke="#72bc72" stroke-width="1.25"/>
<line x1="104.6" y1="440.4" x2="104.6" y2="435.9" stroke="#000" stroke-width="1.2"/>
<line x1="101.8" y1="435.9" x2="107.4" y2="435.9" stroke="#000" stroke-width="1.2"/>
<circle cx="100.6" cy="441.7" r="1.2" fill="#72bc72"/>
<circle cx="104.6" cy="434.1" r="1.2" fill="#72bc72"/>
<circle cx="108.6" cy="442.5" r="1.2" fill="#72bc72"/>
<line x1="90.8" y1="506.3" x2="90.8" y2="510.5" stroke="#000" stroke-width="1.1"/>
<line x1="105.3" y1="506.3" x2="105.3" y2="510.5" stroke="#000" stroke-width="1.1"/>
<text x="104.8" y="430.8" font-size="9.5" text-anchor="middle" fill="#505050">**</text>
<text x="31.6" y="517.6" font-size="8.2" font-weight="bold">pCMV-Acad9 vec</text>
<text x="105.3" y="517.3" font-size="8.2" font-weight="bold" text-anchor="middle">+</text>
<text x="0" y="0" font-size="8.2" font-weight="bold" text-anchor="middle" transform="translate(57 451) rotate(-90)">Relative <tspan font-style="italic">Acad9</tspan> mRNA</text>
<text x="0" y="0" font-size="8.2" font-weight="bold" text-anchor="middle" transform="translate(67.2 451) rotate(-90)">expression(100%)</text>
<text x="38.4" y="566.6" font-size="8.3" font-weight="bold">pCMV-Acad9</text>
<text x="95.6" y="566.6" font-size="8.3" font-weight="bold">vec</text>
<text x="123.2" y="566.3" font-size="8.3" font-weight="bold" text-anchor="middle">+</text>
<text x="90" y="582" font-size="8.2" text-anchor="end">ACAD9</text>
<text x="90.5" y="594.2" font-size="8.2" text-anchor="end">GAPDH</text>
<clipPath id="bp6"><rect x="93.6" y="573.3" width="35.6" height="11.5"/></clipPath>
<rect x="93.6" y="573.3" width="35.6" height="11.5" fill="#e9e9e9" stroke="#4a4a4a" stroke-width="0.9"/>
<g clip-path="url(#bp6)">
<rect x="94.1" y="577.4" width="11" height="3.2" rx="2.9" ry="1.6" fill="rgb(28,28,28)" filter="url(#bl)"/>
<rect x="113" y="575.3" width="15" height="7.5" rx="6.8" ry="3.8" fill="rgb(10,10,10)" filter="url(#bl)"/>
</g>
<rect x="93.6" y="573.3" width="35.6" height="11.5" fill="none" stroke="#4a4a4a" stroke-width="0.9"/>
<clipPath id="bp7"><rect x="93.6" y="586.2" width="35.6" height="10.6"/></clipPath>
<rect x="93.6" y="586.2" width="35.6" height="10.6" fill="#e9e9e9" stroke="#4a4a4a" stroke-width="0.9"/>
<g clip-path="url(#bp7)">
<rect x="93.8" y="589.3" width="16.5" height="4.4" rx="4" ry="2.2" fill="rgb(10,10,10)" filter="url(#bl)"/>
<rect x="112.8" y="589.3" width="16.5" height="4.4" rx="4" ry="2.2" fill="rgb(10,10,10)" filter="url(#bl)"/>
</g>
<rect x="93.6" y="586.2" width="35.6" height="10.6" fill="none" stroke="#4a4a4a" stroke-width="0.9"/>
<line x1="181.5" y1="399.6" x2="181.5" y2="510.5" stroke="#000" stroke-width="1.2"/>
<line x1="178.7" y1="510" x2="181.5" y2="510" stroke="#000" stroke-width="1.1"/>
<text x="178.1" y="513.1" font-size="7.8" font-weight="bold" text-anchor="end">0</text>
<line x1="178.7" y1="473.2" x2="181.5" y2="473.2" stroke="#000" stroke-width="1.1"/>
<text x="178.1" y="476.3" font-size="7.8" font-weight="bold" text-anchor="end">5</text>
<line x1="178.7" y1="436.4" x2="181.5" y2="436.4" stroke="#000" stroke-width="1.1"/>
<text x="178.1" y="439.5" font-size="7.8" font-weight="bold" text-anchor="end">10</text>
<line x1="178.7" y1="399.6" x2="181.5" y2="399.6" stroke="#000" stroke-width="1.1"/>
<text x="178.1" y="402.7" font-size="7.8" font-weight="bold" text-anchor="end">15</text>
<line x1="181.5" y1="510" x2="386.4" y2="510" stroke="#000" stroke-width="1.2"/>
<line x1="195.6" y1="510" x2="195.6" y2="514.5" stroke="#000" stroke-width="1.1"/>
<rect x="185.5" y="501.1" width="3.3" height="8.9" fill="#fff" stroke="#8e8e8e" stroke-width="1.25"/>
<line x1="187.2" y1="500.4" x2="187.2" y2="495.3" stroke="#000" stroke-width="1.1"/>
<line x1="185.6" y1="495.3" x2="188.8" y2="495.3" stroke="#000" stroke-width="1.1"/>
<circle cx="186.2" cy="506.4" r="1.45" fill="#8e8e8e"/>
<circle cx="187.2" cy="500.4" r="1.45" fill="#8e8e8e"/>
<circle cx="188.2" cy="492.5" r="1.45" fill="#8e8e8e"/>
<text x="187.2" y="492.9" font-size="9.5" text-anchor="middle" fill="#505050">*</text>
<rect x="191.1" y="472.4" width="3.3" height="37.6" fill="#fff" stroke="#a8303e" stroke-width="1.25"/>
<line x1="192.8" y1="471.7" x2="192.8" y2="468" stroke="#000" stroke-width="1.1"/>
<line x1="191.2" y1="468" x2="194.4" y2="468" stroke="#000" stroke-width="1.1"/>
<circle cx="191.8" cy="476" r="1.45" fill="#a8303e"/>
<circle cx="192.8" cy="471.7" r="1.45" fill="#a8303e"/>
<circle cx="193.8" cy="467.1" r="1.45" fill="#a8303e"/>
<text x="192.8" y="466.5" font-size="9.5" text-anchor="middle" fill="#505050">**</text>
<rect x="196.7" y="504" width="3.3" height="6" fill="#fff" stroke="#72bc72" stroke-width="1.25"/>
<line x1="198.4" y1="503.4" x2="198.4" y2="503" stroke="#000" stroke-width="1.1"/>
<line x1="196.8" y1="503" x2="200" y2="503" stroke="#000" stroke-width="1.1"/>
<circle cx="197.4" cy="503.7" r="1.45" fill="#72bc72"/>
<circle cx="198.4" cy="503.4" r="1.45" fill="#72bc72"/>
<circle cx="199.4" cy="502.9" r="1.45" fill="#72bc72"/>
<rect x="202.3" y="505.5" width="3.3" height="4.5" fill="#fff" stroke="#58bce4" stroke-width="1.25"/>
<line x1="204" y1="504.8" x2="204" y2="504.1" stroke="#000" stroke-width="1.1"/>
<line x1="202.4" y1="504.1" x2="205.6" y2="504.1" stroke="#000" stroke-width="1.1"/>
<circle cx="203" cy="505.9" r="1.45" fill="#58bce4"/>
<circle cx="204" cy="504.8" r="1.45" fill="#58bce4"/>
<circle cx="205" cy="504.1" r="1.45" fill="#58bce4"/>
<text x="204" y="500.6" font-size="6.2" font-weight="bold" text-anchor="middle" font-style="italic" fill="#444">##</text>
<line x1="220.7" y1="510" x2="220.7" y2="514.5" stroke="#000" stroke-width="1.1"/>
<rect x="210.6" y="501.8" width="3.3" height="8.2" fill="#fff" stroke="#8e8e8e" stroke-width="1.25"/>
<line x1="212.3" y1="501.2" x2="212.3" y2="497.5" stroke="#000" stroke-width="1.1"/>
<line x1="210.7" y1="497.5" x2="213.9" y2="497.5" stroke="#000" stroke-width="1.1"/>
<circle cx="211.3" cy="504.4" r="1.45" fill="#8e8e8e"/>
<circle cx="212.3" cy="501.2" r="1.45" fill="#8e8e8e"/>
<circle cx="213.3" cy="496.2" r="1.45" fill="#8e8e8e"/>
<text x="212.3" y="496" font-size="9.5" text-anchor="middle" fill="#505050">*</text>
<rect x="216.2" y="480.4" width="3.3" height="29.6" fill="#fff" stroke="#a8303e" stroke-width="1.25"/>
<line x1="217.9" y1="479.8" x2="217.9" y2="477.6" stroke="#000" stroke-width="1.1"/>
<line x1="216.3" y1="477.6" x2="219.5" y2="477.6" stroke="#000" stroke-width="1.1"/>
<circle cx="216.9" cy="481.7" r="1.45" fill="#a8303e"/>
<circle cx="217.9" cy="479.8" r="1.45" fill="#a8303e"/>
<circle cx="218.9" cy="476.4" r="1.45" fill="#a8303e"/>
<text x="217.9" y="477" font-size="9.5" text-anchor="middle" fill="#505050">**</text>
<rect x="221.8" y="507.7" width="3.3" height="2.3" fill="#fff" stroke="#72bc72" stroke-width="1.25"/>
<line x1="223.5" y1="507.1" x2="223.5" y2="506.7" stroke="#000" stroke-width="1.1"/>
<line x1="221.9" y1="506.7" x2="225.1" y2="506.7" stroke="#000" stroke-width="1.1"/>
<circle cx="222.5" cy="507.5" r="1.45" fill="#72bc72"/>
<circle cx="223.5" cy="507.1" r="1.45" fill="#72bc72"/>
<circle cx="224.5" cy="506.7" r="1.45" fill="#72bc72"/>
<rect x="227.4" y="506.9" width="3.3" height="3.1" fill="#fff" stroke="#58bce4" stroke-width="1.25"/>
<line x1="229.1" y1="506.3" x2="229.1" y2="504.8" stroke="#000" stroke-width="1.1"/>
<line x1="227.5" y1="504.8" x2="230.7" y2="504.8" stroke="#000" stroke-width="1.1"/>
<circle cx="228.1" cy="507.5" r="1.45" fill="#58bce4"/>
<circle cx="229.1" cy="506.3" r="1.45" fill="#58bce4"/>
<circle cx="230.1" cy="505.1" r="1.45" fill="#58bce4"/>
<text x="229.1" y="500.9" font-size="6.2" font-weight="bold" text-anchor="middle" font-style="italic" fill="#444">##</text>
<line x1="245.8" y1="510" x2="245.8" y2="514.5" stroke="#000" stroke-width="1.1"/>
<rect x="235.8" y="503.3" width="3.3" height="6.7" fill="#fff" stroke="#8e8e8e" stroke-width="1.25"/>
<line x1="237.4" y1="502.6" x2="237.4" y2="501.2" stroke="#000" stroke-width="1.1"/>
<line x1="235.8" y1="501.2" x2="239" y2="501.2" stroke="#000" stroke-width="1.1"/>
<circle cx="236.4" cy="504" r="1.45" fill="#8e8e8e"/>
<circle cx="237.4" cy="502.6" r="1.45" fill="#8e8e8e"/>
<circle cx="238.5" cy="501.4" r="1.45" fill="#8e8e8e"/>
<rect x="241.4" y="481.2" width="3.3" height="28.8" fill="#fff" stroke="#a8303e" stroke-width="1.25"/>
<line x1="243" y1="480.6" x2="243" y2="474.7" stroke="#000" stroke-width="1.1"/>
<line x1="241.4" y1="474.7" x2="244.6" y2="474.7" stroke="#000" stroke-width="1.1"/>
<circle cx="242" cy="487.5" r="1.45" fill="#a8303e"/>
<circle cx="243" cy="480.6" r="1.45" fill="#a8303e"/>
<circle cx="244.1" cy="471.9" r="1.45" fill="#a8303e"/>
<text x="243" y="471.8" font-size="9.5" text-anchor="middle" fill="#505050">*</text>
<rect x="247" y="503.3" width="3.3" height="6.7" fill="#fff" stroke="#72bc72" stroke-width="1.25"/>
<line x1="248.6" y1="502.6" x2="248.6" y2="502.3" stroke="#000" stroke-width="1.1"/>
<line x1="247" y1="502.3" x2="250.2" y2="502.3" stroke="#000" stroke-width="1.1"/>
<circle cx="247.6" cy="503.1" r="1.45" fill="#72bc72"/>
<circle cx="248.6" cy="502.6" r="1.45" fill="#72bc72"/>
<circle cx="249.7" cy="502.2" r="1.45" fill="#72bc72"/>
<rect x="252.6" y="505.1" width="3.3" height="4.9" fill="#fff" stroke="#58bce4" stroke-width="1.25"/>
<line x1="254.2" y1="504.5" x2="254.2" y2="503.7" stroke="#000" stroke-width="1.1"/>
<line x1="252.6" y1="503.7" x2="255.8" y2="503.7" stroke="#000" stroke-width="1.1"/>
<circle cx="253.2" cy="505.5" r="1.45" fill="#58bce4"/>
<circle cx="254.2" cy="504.5" r="1.45" fill="#58bce4"/>
<circle cx="255.3" cy="503.7" r="1.45" fill="#58bce4"/>
<text x="254.2" y="500.2" font-size="6.2" font-weight="bold" text-anchor="middle" font-style="italic" fill="#444">#</text>
<line x1="271" y1="510" x2="271" y2="514.5" stroke="#000" stroke-width="1.1"/>
<rect x="260.9" y="503.3" width="3.3" height="6.7" fill="#fff" stroke="#8e8e8e" stroke-width="1.25"/>
<line x1="262.6" y1="502.6" x2="262.6" y2="501.2" stroke="#000" stroke-width="1.1"/>
<line x1="261" y1="501.2" x2="264.2" y2="501.2" stroke="#000" stroke-width="1.1"/>
<circle cx="261.5" cy="505" r="1.45" fill="#8e8e8e"/>
<circle cx="262.6" cy="502.6" r="1.45" fill="#8e8e8e"/>
<circle cx="263.6" cy="500.5" r="1.45" fill="#8e8e8e"/>
<rect x="266.5" y="498.1" width="3.3" height="11.9" fill="#fff" stroke="#a8303e" stroke-width="1.25"/>
<line x1="268.2" y1="497.5" x2="268.2" y2="495.3" stroke="#000" stroke-width="1.1"/>
<line x1="266.6" y1="495.3" x2="269.8" y2="495.3" stroke="#000" stroke-width="1.1"/>
<circle cx="267.1" cy="500.5" r="1.45" fill="#a8303e"/>
<circle cx="268.2" cy="497.5" r="1.45" fill="#a8303e"/>
<circle cx="269.2" cy="495.3" r="1.45" fill="#a8303e"/>
<text x="268.2" y="494.7" font-size="9.5" text-anchor="middle" fill="#505050">*</text>
<rect x="272.1" y="504" width="3.3" height="6" fill="#fff" stroke="#72bc72" stroke-width="1.25"/>
<line x1="273.8" y1="503.4" x2="273.8" y2="503" stroke="#000" stroke-width="1.1"/>
<line x1="272.2" y1="503" x2="275.4" y2="503" stroke="#000" stroke-width="1.1"/>
<circle cx="272.7" cy="503.8" r="1.45" fill="#72bc72"/>
<circle cx="273.8" cy="503.4" r="1.45" fill="#72bc72"/>
<circle cx="274.8" cy="502.9" r="1.45" fill="#72bc72"/>
<rect x="277.7" y="504" width="3.3" height="6" fill="#fff" stroke="#58bce4" stroke-width="1.25"/>
<line x1="279.4" y1="503.4" x2="279.4" y2="502.6" stroke="#000" stroke-width="1.1"/>
<line x1="277.8" y1="502.6" x2="281" y2="502.6" stroke="#000" stroke-width="1.1"/>
<circle cx="278.3" cy="504.2" r="1.45" fill="#58bce4"/>
<circle cx="279.4" cy="503.4" r="1.45" fill="#58bce4"/>
<circle cx="280.4" cy="502.6" r="1.45" fill="#58bce4"/>
<text x="279.4" y="499.1" font-size="6.2" font-weight="bold" text-anchor="middle" font-style="italic" fill="#444">#</text>
<line x1="296.1" y1="510" x2="296.1" y2="514.5" stroke="#000" stroke-width="1.1"/>
<rect x="286" y="501.8" width="3.3" height="8.2" fill="#fff" stroke="#8e8e8e" stroke-width="1.25"/>
<line x1="287.7" y1="501.2" x2="287.7" y2="496.8" stroke="#000" stroke-width="1.1"/>
<line x1="286.1" y1="496.8" x2="289.3" y2="496.8" stroke="#000" stroke-width="1.1"/>
<circle cx="286.7" cy="508.1" r="1.45" fill="#8e8e8e"/>
<circle cx="287.7" cy="501.2" r="1.45" fill="#8e8e8e"/>
<circle cx="288.7" cy="497.6" r="1.45" fill="#8e8e8e"/>
<text x="287.7" y="494.8" font-size="9.5" text-anchor="middle" fill="#505050">*</text>
<rect x="291.6" y="463.5" width="3.3" height="46.5" fill="#fff" stroke="#a8303e" stroke-width="1.25"/>
<line x1="293.3" y1="462.9" x2="293.3" y2="460" stroke="#000" stroke-width="1.1"/>
<line x1="291.7" y1="460" x2="294.9" y2="460" stroke="#000" stroke-width="1.1"/>
<circle cx="292.3" cy="465.7" r="1.45" fill="#a8303e"/>
<circle cx="293.3" cy="462.9" r="1.45" fill="#a8303e"/>
<circle cx="294.3" cy="459.4" r="1.45" fill="#a8303e"/>
<text x="293.3" y="458.9" font-size="9.5" text-anchor="middle" fill="#505050">**</text>
<rect x="297.2" y="504" width="3.3" height="6" fill="#fff" stroke="#72bc72" stroke-width="1.25"/>
<line x1="298.9" y1="503.4" x2="298.9" y2="503" stroke="#000" stroke-width="1.1"/>
<line x1="297.3" y1="503" x2="300.5" y2="503" stroke="#000" stroke-width="1.1"/>
<circle cx="297.9" cy="504" r="1.45" fill="#72bc72"/>
<circle cx="298.9" cy="503.4" r="1.45" fill="#72bc72"/>
<circle cx="299.9" cy="503.1" r="1.45" fill="#72bc72"/>
<rect x="302.8" y="504" width="3.3" height="6" fill="#fff" stroke="#58bce4" stroke-width="1.25"/>
<line x1="304.5" y1="503.4" x2="304.5" y2="502.6" stroke="#000" stroke-width="1.1"/>
<line x1="302.9" y1="502.6" x2="306.1" y2="502.6" stroke="#000" stroke-width="1.1"/>
<circle cx="303.5" cy="504.3" r="1.45" fill="#58bce4"/>
<circle cx="304.5" cy="503.4" r="1.45" fill="#58bce4"/>
<circle cx="305.5" cy="502.6" r="1.45" fill="#58bce4"/>
<text x="304.5" y="499.1" font-size="6.2" font-weight="bold" text-anchor="middle" font-style="italic" fill="#444">##</text>
<line x1="321.2" y1="510" x2="321.2" y2="514.5" stroke="#000" stroke-width="1.1"/>
<rect x="311.1" y="501.8" width="3.3" height="8.2" fill="#fff" stroke="#8e8e8e" stroke-width="1.25"/>
<line x1="312.8" y1="501.2" x2="312.8" y2="499.7" stroke="#000" stroke-width="1.1"/>
<line x1="311.2" y1="499.7" x2="314.4" y2="499.7" stroke="#000" stroke-width="1.1"/>
<circle cx="311.8" cy="502.4" r="1.45" fill="#8e8e8e"/>
<circle cx="312.8" cy="501.2" r="1.45" fill="#8e8e8e"/>
<circle cx="313.8" cy="498.9" r="1.45" fill="#8e8e8e"/>
<rect x="316.7" y="490" width="3.3" height="20" fill="#fff" stroke="#a8303e" stroke-width="1.25"/>
<line x1="318.4" y1="489.4" x2="318.4" y2="487.9" stroke="#000" stroke-width="1.1"/>
<line x1="316.8" y1="487.9" x2="320" y2="487.9" stroke="#000" stroke-width="1.1"/>
<circle cx="317.4" cy="491.5" r="1.45" fill="#a8303e"/>
<circle cx="318.4" cy="489.4" r="1.45" fill="#a8303e"/>
<circle cx="319.4" cy="487.9" r="1.45" fill="#a8303e"/>
<text x="318.4" y="487.7" font-size="9.5" text-anchor="middle" fill="#505050">*</text>
<rect x="322.3" y="503.6" width="3.3" height="6.4" fill="#fff" stroke="#72bc72" stroke-width="1.25"/>
<line x1="324" y1="503" x2="324" y2="502.6" stroke="#000" stroke-width="1.1"/>
<line x1="322.4" y1="502.6" x2="325.6" y2="502.6" stroke="#000" stroke-width="1.1"/>
<circle cx="323" cy="503.3" r="1.45" fill="#72bc72"/>
<circle cx="324" cy="503" r="1.45" fill="#72bc72"/>
<circle cx="325" cy="502.5" r="1.45" fill="#72bc72"/>
<rect x="327.9" y="501.8" width="3.3" height="8.2" fill="#fff" stroke="#58bce4" stroke-width="1.25"/>
<line x1="329.6" y1="501.2" x2="329.6" y2="499.7" stroke="#000" stroke-width="1.1"/>
<line x1="328" y1="499.7" x2="331.2" y2="499.7" stroke="#000" stroke-width="1.1"/>
<circle cx="328.6" cy="502.6" r="1.45" fill="#58bce4"/>
<circle cx="329.6" cy="501.2" r="1.45" fill="#58bce4"/>
<circle cx="330.6" cy="499.5" r="1.45" fill="#58bce4"/>
<text x="329.6" y="495.7" font-size="6.2" font-weight="bold" text-anchor="middle" font-style="italic" fill="#444">#</text>
<line x1="346.3" y1="510" x2="346.3" y2="514.5" stroke="#000" stroke-width="1.1"/>
<rect x="336.2" y="501.8" width="3.3" height="8.2" fill="#fff" stroke="#8e8e8e" stroke-width="1.25"/>
<line x1="337.9" y1="501.2" x2="337.9" y2="496.8" stroke="#000" stroke-width="1.1"/>
<line x1="336.3" y1="496.8" x2="339.5" y2="496.8" stroke="#000" stroke-width="1.1"/>
<circle cx="336.9" cy="505.4" r="1.45" fill="#8e8e8e"/>
<circle cx="337.9" cy="501.2" r="1.45" fill="#8e8e8e"/>
<circle cx="338.9" cy="497.2" r="1.45" fill="#8e8e8e"/>
<text x="337.9" y="494.8" font-size="9.5" text-anchor="middle" fill="#505050">*</text>
<rect x="341.8" y="434.8" width="3.3" height="75.2" fill="#fff" stroke="#a8303e" stroke-width="1.25"/>
<line x1="343.5" y1="434.2" x2="343.5" y2="428.3" stroke="#000" stroke-width="1.1"/>
<line x1="341.9" y1="428.3" x2="345.1" y2="428.3" stroke="#000" stroke-width="1.1"/>
<circle cx="342.5" cy="441.9" r="1.45" fill="#a8303e"/>
<circle cx="343.5" cy="434.2" r="1.45" fill="#a8303e"/>
<circle cx="344.5" cy="427.5" r="1.45" fill="#a8303e"/>
<text x="343.5" y="425.5" font-size="9.5" text-anchor="middle" fill="#505050">**</text>
<rect x="347.4" y="507.7" width="3.3" height="2.3" fill="#fff" stroke="#72bc72" stroke-width="1.25"/>
<line x1="349.1" y1="507.1" x2="349.1" y2="506.7" stroke="#000" stroke-width="1.1"/>
<line x1="347.5" y1="506.7" x2="350.7" y2="506.7" stroke="#000" stroke-width="1.1"/>
<circle cx="348.1" cy="507.4" r="1.45" fill="#72bc72"/>
<circle cx="349.1" cy="507.1" r="1.45" fill="#72bc72"/>
<circle cx="350.1" cy="506.5" r="1.45" fill="#72bc72"/>
<rect x="353" y="486.3" width="3.3" height="23.7" fill="#fff" stroke="#58bce4" stroke-width="1.25"/>
<line x1="354.7" y1="485.7" x2="354.7" y2="479.1" stroke="#000" stroke-width="1.1"/>
<line x1="353.1" y1="479.1" x2="356.3" y2="479.1" stroke="#000" stroke-width="1.1"/>
<circle cx="353.7" cy="495.3" r="1.45" fill="#58bce4"/>
<circle cx="354.7" cy="485.7" r="1.45" fill="#58bce4"/>
<circle cx="355.7" cy="475.7" r="1.45" fill="#58bce4"/>
<text x="354.7" y="472" font-size="6.2" font-weight="bold" text-anchor="middle" font-style="italic" fill="#444">##</text>
<line x1="371.4" y1="510" x2="371.4" y2="514.5" stroke="#000" stroke-width="1.1"/>
<rect x="361.4" y="502.5" width="3.3" height="7.5" fill="#fff" stroke="#8e8e8e" stroke-width="1.25"/>
<line x1="363" y1="501.9" x2="363" y2="500.4" stroke="#000" stroke-width="1.1"/>
<line x1="361.4" y1="500.4" x2="364.6" y2="500.4" stroke="#000" stroke-width="1.1"/>
<circle cx="362" cy="503.3" r="1.45" fill="#8e8e8e"/>
<circle cx="363" cy="501.9" r="1.45" fill="#8e8e8e"/>
<circle cx="364.1" cy="499.7" r="1.45" fill="#8e8e8e"/>
<rect x="367" y="465" width="3.3" height="45" fill="#fff" stroke="#a8303e" stroke-width="1.25"/>
<line x1="368.6" y1="464.4" x2="368.6" y2="461.4" stroke="#000" stroke-width="1.1"/>
<line x1="367" y1="461.4" x2="370.2" y2="461.4" stroke="#000" stroke-width="1.1"/>
<circle cx="367.6" cy="468.2" r="1.45" fill="#a8303e"/>
<circle cx="368.6" cy="464.4" r="1.45" fill="#a8303e"/>
<circle cx="369.7" cy="459.7" r="1.45" fill="#a8303e"/>
<text x="368.6" y="460.4" font-size="9.5" text-anchor="middle" fill="#505050">**</text>
<rect x="372.6" y="505.5" width="3.3" height="4.5" fill="#fff" stroke="#72bc72" stroke-width="1.25"/>
<line x1="374.2" y1="504.8" x2="374.2" y2="504.5" stroke="#000" stroke-width="1.1"/>
<line x1="372.6" y1="504.5" x2="375.8" y2="504.5" stroke="#000" stroke-width="1.1"/>
<circle cx="373.2" cy="505.2" r="1.45" fill="#72bc72"/>
<circle cx="374.2" cy="504.8" r="1.45" fill="#72bc72"/>
<circle cx="375.3" cy="504.3" r="1.45" fill="#72bc72"/>
<rect x="378.2" y="504.4" width="3.3" height="5.6" fill="#fff" stroke="#58bce4" stroke-width="1.25"/>
<line x1="379.8" y1="503.7" x2="379.8" y2="503" stroke="#000" stroke-width="1.1"/>
<line x1="378.2" y1="503" x2="381.4" y2="503" stroke="#000" stroke-width="1.1"/>
<circle cx="378.8" cy="504.5" r="1.45" fill="#58bce4"/>
<circle cx="379.8" cy="503.7" r="1.45" fill="#58bce4"/>
<circle cx="380.9" cy="503.1" r="1.45" fill="#58bce4"/>
<text x="379.8" y="499.5" font-size="6.2" font-weight="bold" text-anchor="middle" font-style="italic" fill="#444">##</text>
<text x="197.9" y="520" font-size="8.3" font-weight="bold" text-anchor="end" font-style="italic" transform="rotate(-44 197.9 520)">RANK</text>
<text x="223" y="520" font-size="8.3" font-weight="bold" text-anchor="end" font-style="italic" transform="rotate(-44 223 520)">Traf6</text>
<text x="248.1" y="520" font-size="8.3" font-weight="bold" text-anchor="end" font-style="italic" transform="rotate(-44 248.1 520)">c-Src</text>
<text x="273.3" y="520" font-size="8.3" font-weight="bold" text-anchor="end" font-style="italic" transform="rotate(-44 273.3 520)">Fra-1</text>
<text x="298.4" y="520" font-size="8.3" font-weight="bold" text-anchor="end" font-style="italic" transform="rotate(-44 298.4 520)">Nfatc1</text>
<text x="323.5" y="520" font-size="8.3" font-weight="bold" text-anchor="end" font-style="italic" transform="rotate(-44 323.5 520)">c-Fos</text>
<text x="348.6" y="520" font-size="8.3" font-weight="bold" text-anchor="end" font-style="italic" transform="rotate(-44 348.6 520)">Trap</text>
<text x="373.7" y="520" font-size="8.3" font-weight="bold" text-anchor="end" font-style="italic" transform="rotate(-44 373.7 520)">Cathepsin K</text>
<rect x="189.6" y="394" width="10.4" height="4.4" fill="#fff" stroke="#8e8e8e" stroke-width="1.2"/>
<text x="203" y="399.1" font-size="8.1">Ctrl</text>
<rect x="189.6" y="402.6" width="10.4" height="4.4" fill="#fff" stroke="#a8303e" stroke-width="1.2"/>
<text x="203" y="407.7" font-size="8.1">Ctrl+RANKL</text>
<rect x="189.6" y="411.3" width="10.4" height="4.4" fill="#fff" stroke="#72bc72" stroke-width="1.2"/>
<text x="203" y="416.4" font-size="8.1">ACAD9</text>
<rect x="189.6" y="419.9" width="10.4" height="4.4" fill="#fff" stroke="#58bce4" stroke-width="1.2"/>
<text x="203" y="425" font-size="8.1">ACAD9+RANKL</text>
<text x="0" y="0" font-size="8.2" font-weight="bold" text-anchor="middle" transform="translate(159.6 457) rotate(-90)">Relative</text>
<text x="0" y="0" font-size="8.5" font-weight="bold" text-anchor="middle" transform="translate(171 455.5) rotate(-90)">mRNA expression(100%)</text>
<text x="185.2" y="552.7" font-size="8.3" font-weight="bold">pCMV-Acad9</text>
<text x="208.8" y="563.2" font-size="8.3" font-weight="bold">RANKL</text>
<text x="249.6" y="552.5" font-size="8.3" font-weight="bold" text-anchor="middle">-</text>
<text x="266.4" y="552.5" font-size="8.3" font-weight="bold" text-anchor="middle">-</text>
<text x="283.5" y="552.5" font-size="8.3" font-weight="bold" text-anchor="middle">+</text>
<text x="300.3" y="552.5" font-size="8.3" font-weight="bold" text-anchor="middle">+</text>
<text x="249.6" y="563" font-size="8.3" font-weight="bold" text-anchor="middle">-</text>
<text x="266.4" y="563" font-size="8.3" font-weight="bold" text-anchor="middle">+</text>
<text x="283.5" y="563" font-size="8.3" font-weight="bold" text-anchor="middle">-</text>
<text x="300.3" y="563" font-size="8.3" font-weight="bold" text-anchor="middle">+</text>
<text x="208.3" y="574.3" font-size="8.2">NFATC1</text>
<text x="208.3" y="588.2" font-size="8.2">MMP9</text>
<text x="208.3" y="602.1" font-size="8.2">GAPDH</text>
<clipPath id="bp8"><rect x="241.2" y="565.5" width="64.8" height="11.8"/></clipPath>
<rect x="241.2" y="565.5" width="64.8" height="11.8" fill="#e9e9e9" stroke="#4a4a4a" stroke-width="0.9"/>
<g clip-path="url(#bp8)">
<rect x="243.6" y="570.1" width="12" height="2.6" rx="2.3" ry="1.3" fill="rgb(77,77,77)" filter="url(#bl)"/>
<rect x="259.6" y="569.7" width="13" height="3.4" rx="3.1" ry="1.7" fill="rgb(21,21,21)" filter="url(#bl)"/>
<rect x="277" y="570.3" width="12" height="2.2" rx="2" ry="1.1" fill="rgb(145,145,145)" filter="url(#bl)"/>
<rect x="293" y="570" width="12" height="2.8" rx="2.5" ry="1.4" fill="rgb(66,66,66)" filter="url(#bl)"/>
</g>
<rect x="241.2" y="565.5" width="64.8" height="11.8" fill="none" stroke="#4a4a4a" stroke-width="0.9"/>
<clipPath id="bp9"><rect x="241.2" y="579.4" width="64.8" height="11.8"/></clipPath>
<rect x="241.2" y="579.4" width="64.8" height="11.8" fill="#e9e9e9" stroke="#4a4a4a" stroke-width="0.9"/>
<g clip-path="url(#bp9)">
<rect x="242.6" y="582.9" width="14" height="2.4" rx="2.2" ry="1.2" fill="rgb(55,55,55)" filter="url(#bl)"/>
<rect x="242.6" y="586.6" width="14" height="1.8" rx="1.6" ry="0.9" fill="rgb(145,145,145)" filter="url(#bl)"/>
<rect x="258.6" y="582.6" width="15" height="3" rx="2.7" ry="1.5" fill="rgb(32,32,32)" filter="url(#bl)"/>
<rect x="258.6" y="586.6" width="15" height="1.8" rx="1.6" ry="0.9" fill="rgb(122,122,122)" filter="url(#bl)"/>
<rect x="276" y="583.3" width="14" height="2" rx="1.8" ry="1" fill="rgb(156,156,156)" filter="url(#bl)"/>
<rect x="276" y="586.5" width="14" height="1.6" rx="1.4" ry="0.8" fill="rgb(190,190,190)" filter="url(#bl)"/>
<rect x="292" y="583.2" width="14" height="2.2" rx="2" ry="1.1" fill="rgb(100,100,100)" filter="url(#bl)"/>
<rect x="292" y="586.5" width="14" height="1.6" rx="1.4" ry="0.8" fill="rgb(167,167,167)" filter="url(#bl)"/>
</g>
<rect x="241.2" y="579.4" width="64.8" height="11.8" fill="none" stroke="#4a4a4a" stroke-width="0.9"/>
<clipPath id="bp10"><rect x="241.2" y="593" width="64.8" height="11.9"/></clipPath>
<rect x="241.2" y="593" width="64.8" height="11.9" fill="#e9e9e9" stroke="#4a4a4a" stroke-width="0.9"/>
<g clip-path="url(#bp10)">
<rect x="241.8" y="596.7" width="15.5" height="4.6" rx="4.1" ry="2.3" fill="rgb(10,10,10)" filter="url(#bl)"/>
<rect x="258.4" y="596.7" width="15.5" height="4.6" rx="4.1" ry="2.3" fill="rgb(10,10,10)" filter="url(#bl)"/>
<rect x="275.2" y="596.7" width="15.5" height="4.6" rx="4.1" ry="2.3" fill="rgb(10,10,10)" filter="url(#bl)"/>
<rect x="291.2" y="596.7" width="15.5" height="4.6" rx="4.1" ry="2.3" fill="rgb(10,10,10)" filter="url(#bl)"/>
</g>
<rect x="241.2" y="593" width="64.8" height="11.9" fill="none" stroke="#4a4a4a" stroke-width="0.9"/>
<text x="433.3" y="191.5" font-size="9" font-weight="bold" text-anchor="middle">Ctrl</text>
<text x="530.3" y="191.5" font-size="9" font-weight="bold" text-anchor="middle">sh6630</text>
<text x="614.4" y="191.5" font-size="9" font-weight="bold" text-anchor="middle">sh6631</text>
<text x="440.8" y="286.8" font-size="9" font-weight="bold" text-anchor="middle">Ctrl+RANKL</text>
<text x="528" y="286.8" font-size="9" font-weight="bold" text-anchor="middle">sh6630+RANKL</text>
<text x="618" y="286.8" font-size="9" font-weight="bold" text-anchor="middle">sh6631+RANKL</text>
<clipPath id="cp11"><rect x="388.6" y="194" width="87.2" height="80"/></clipPath>
<g clip-path="url(#cp11)">
<rect x="388.6" y="194" width="87.2" height="80" fill="#dcdcde"/>
<path d="M400 262h0M432 212h0M433 241h0M423 233h0M403 212h0M424 260h0M422 228h0M389 243h0M439 242h0M412 264h0M423 243h0M452 222h0M473 236h0M421 210h0M462 233h0M466 237h0M412 203h0M442 239h0M391 237h0M431 259h0M464 231h0M473 237h0M432 242h0M432 220h0M444 261h0M390 220h0M391 199h0M445 213h0M401 236h0M412 269h0M443 253h0M436 252h0M461 210h0M399 269h0M436 212h0M474 256h0M428 261h0M433 240h0M455 196h0M388 206h0M408 272h0M424 212h0M470 273h0M451 195h0M389 194h0M396 209h0M460 211h0M462 233h0M423 232h0M402 246h0M475 211h0M389 206h0M391 245h0M427 264h0M466 243h0M472 241h0M454 225h0M463 217h0M392 260h0M459 223h0M396 238h0M390 268h0M408 259h0M461 241h0M446 214h0M469 210h0M433 258h0M469 215h0M398 248h0M395 237h0M424 216h0M397 264h0M410 217h0M393 229h0M453 229h0M457 237h0M441 245h0M417 254h0M459 227h0M455 250h0M469 225h0M391 211h0M424 263h0M419 225h0M465 196h0M420 243h0M442 250h0M450 218h0M403 197h0M472 262h0M435 248h0M409 267h0M404 237h0M395 225h0M474 197h0M452 213h0M460 263h0M400 266h0M430 273h0M464 244h0M446 239h0M455 211h0M417 268h0M390 228h0M437 247h0M476 259h0M396 264h0M462 270h0M401 263h0M430 248h0M449 206h0M402 274h0M463 234h0M403 242h0M414 204h0M468 209h0M441 198h0M433 207h0M424 264h0M429 232h0M462 215h0M391 265h0M449 223h0M389 232h0M404 266h0M418 214h0M401 245h0M391 214h0M451 226h0M438 240h0M458 236h0M437 258h0M396 211h0M438 264h0M394 257h0M393 274h0M443 205h0M476 244h0M464 220h0M448 258h0M433 242h0M397 245h0M446 204h0M410 194h0M398 260h0M428 210h0M468 245h0M461 256h0M459 218h0M462 237h0M426 245h0M467 256h0M395 263h0M432 226h0M399 246h0M439 253h0M414 255h0M457 244h0M457 235h0M452 244h0M411 248h0M390 197h0M404 204h0M432 240h0M465 206h0M432 252h0M422 201h0M407 198h0M395 270h0M390 232h0M421 235h0M445 194h0M430 252h0M445 242h0M452 207h0M393 198h0M396 249h0M455 218h0M419 256h0M404 225h0M424 262h0M427 258h0M442 247h0M464 194h0M475 272h0M457 249h0M392 263h0M476 222h0M470 252h0M431 247h0M421 257h0M436 202h0M403 250h0M411 268h0M410 271h0M407 207h0M440 241h0M451 209h0M431 274h0M410 203h0M431 244h0M404 273h0M475 230h0M468 229h0M435 240h0M402 240h0M415 226h0M392 196h0M462 243h0M422 268h0M406 231h0M430 268h0M418 265h0M408 216h0M403 197h0M392 251h0M402 265h0M404 224h0M398 243h0M407 231h0M423 195h0M390 274h0M468 205h0M465 211h0M390 265h0M454 212h0M426 193h0M392 245h0M468 233h0M393 246h0M402 240h0M395 240h0M463 200h0M416 243h0M431 233h0M416 249h0M419 250h0M473 211h0M456 211h0M390 272h0M414 217h0M439 235h0M437 256h0M466 223h0M473 234h0M415 272h0M462 208h0M445 226h0M445 196h0M453 240h0M392 248h0M406 260h0M388 195h0M414 262h0M392 244h0M396 196h0M465 217h0M434 235h0M388 227h0M395 216h0M432 247h0M408 234h0M463 261h0M398 274h0M475 224h0M420 206h0M406 260h0M419 244h0M392 250h0M434 240h0M469 222h0M465 250h0M429 261h0M418 272h0M399 270h0M464 223h0M440 259h0M476 256h0M459 207h0M457 224h0M476 225h0M393 243h0M477 237h0M456 202h0M448 218h0M439 194h0M429 249h0M413 203h0M435 213h0M404 267h0M436 247h0M448 195h0M428 199h0M427 218h0M468 218h0M431 245h0M394 272h0M430 221h0M399 265h0M472 210h0M430 256h0M443 195h0M421 262h0M393 274h0M456 255h0M394 239h0M452 211h0M398 235h0M421 209h0M440 239h0M472 257h0M445 239h0M420 200h0M444 209h0M433 241h0M410 197h0M473 250h0M410 256h0M398 228h0M443 225h0M420 213h0M393 203h0M469 220h0M445 204h0M399 232h0M434 252h0M411 268h0M465 197h0M468 235h0M410 195h0M408 246h0M430 242h0M400 199h0M417 255h0M412 247h0M459 232h0M416 261h0M438 249h0M446 197h0M388 239h0M455 217h0M432 251h0M453 204h0M466 259h0M472 201h0M466 246h0M408 251h0M434 244h0M456 222h0M466 222h0M408 251h0M399 245h0M467 215h0M438 206h0M460 224h0M392 233h0M397 261h0M426 224h0M461 245h0M467 260h0M438 193h0M401 236h0M413 196h0M436 219h0M465 258h0M396 212h0M448 255h0M416 270h0M454 227h0M395 199h0M468 201h0M393 226h0M419 264h0M397 237h0M417 204h0M396 240h0M391 208h0M408 241h0M425 265h0M458 225h0M420 208h0M413 265h0M394 197h0M427 261h0M466 269h0M401 257h0M427 239h0M400 193h0M422 249h0M395 233h0M415 197h0M424 264h0M431 221h0M428 235h0M402 272h0M399 196h0M439 233h0M446 252h0M421 243h0M392 235h0M407 224h0M406 271h0M398 249h0M461 206h0M466 231h0M409 247h0M417 258h0M470 214h0M397 203h0M419 262h0M450 209h0M422 263h0M433 259h0M455 202h0M410 203h0M388 247h0M408 265h0M460 205h0M400 193h0M456 213h0M446 214h0M411 256h0M440 269h0M460 225h0M450 240h0M442 215h0M446 200h0M429 232h0M405 207h0M414 199h0M418 255h0M429 206h0M430 235h0M424 262h0M466 200h0M444 206h0M389 258h0M394 267h0M434 228h0M399 245h0M438 201h0M397 272h0M469 237h0M452 201h0M424 265h0M406 250h0M443 243h0M430 261h0M422 273h0M458 239h0M468 272h0M436 210h0M458 202h0M455 216h0M401 252h0M396 241h0M454 197h0M448 194h0M443 227h0M449 215h0M402 260h0M468 264h0M434 225h0M410 248h0M400 265h0M393 204h0M434 249h0M454 212h0M396 242h0M470 249h0M403 245h0M421 270h0M428 252h0M457 204h0M450 213h0M426 248h0M430 246h0M417 248h0M448 257h0M467 241h0M432 254h0M404 200h0M460 210h0M427 267h0M413 245h0M420 262h0M412 207h0M405 248h0M467 252h0M417 211h0M443 206h0M457 207h0M455 222h0M441 247h0M460 229h0M414 262h0M477 207h0M436 250h0M395 267h0M456 260h0M473 260h0M434 225h0M465 222h0M403 257h0M389 264h0M471 234h0M434 242h0M423 233h0M418 246h0M414 267h0M437 232h0M434 206h0M403 204h0M412 251h0M399 197h0M461 240h0M468 209h0M476 197h0M389 198h0M438 266h0M437 222h0M467 232h0M439 259h0M392 261h0M429 257h0M467 220h0M452 231h0M443 248h0M463 230h0M436 248h0M471 271h0M389 247h0M475 223h0M441 225h0M447 203h0M460 237h0M404 207h0M458 254h0M398 273h0M405 196h0M467 207h0M408 275h0M466 244h0M459 202h0M423 260h0M448 208h0M461 217h0M453 198h0M436 240h0M459 227h0M435 230h0M423 246h0M446 206h0M455 212h0M442 258h0M451 218h0M445 208h0M426 248h0M418 237h0M473 240h0M462 228h0M396 271h0M428 246h0M460 218h0M393 269h0M442 206h0M459 258h0M476 206h0M449 226h0M391 240h0M456 219h0M473 236h0M410 257h0M402 236h0M437 209h0M458 205h0M393 275h0M459 243h0M392 229h0M441 212h0M401 272h0M449 215h0M467 255h0M474 248h0M434 245h0M455 236h0M475 250h0M399 259h0M431 243h0M467 206h0M437 219h0M405 202h0M424 239h0M404 242h0M418 260h0M461 258h0M438 217h0M467 214h0M399 274h0M475 256h0M401 264h0M436 225h0M417 271h0M406 200h0M442 210h0M430 250h0M403 270h0M416 254h0M424 261h0M459 232h0M391 232h0M461 239h0M450 230h0M464 217h0M458 243h0M443 233h0M475 274h0M397 259h0M463 227h0M401 257h0M439 209h0M398 240h0M445 262h0M430 233h0M458 259h0M427 199h0M473 196h0M391 256h0M471 253h0M453 212h0M471 237h0M395 267h0M422 267h0M457 238h0M447 267h0M402 209h0M461 195h0M409 235h0M394 203h0M388 258h0M394 230h0M461 210h0M400 211h0M468 250h0M452 197h0M441 238h0M390 241h0M474 218h0M444 250h0M475 259h0M426 247h0M414 208h0M466 234h0M421 230h0M391 248h0M400 228h0M435 221h0M459 225h0M414 250h0M394 267h0M391 193h0M456 227h0M429 217h0M418 247h0M395 254h0M443 232h0M411 274h0M395 230h0M416 247h0M465 215h0M447 219h0M398 199h0" stroke="#e6b440" stroke-width="1.5" stroke-linecap="round" fill="none"/>
<path d="M430 224h0M448 224h0M406 271h0M418 199h0M426 273h0M402 251h0M444 250h0M391 204h0M441 262h0M459 228h0M455 273h0M399 252h0M428 248h0M419 254h0M390 267h0M467 229h0M452 218h0M390 255h0M422 230h0M411 253h0M414 206h0M434 194h0M439 230h0M470 259h0M472 246h0M438 267h0M407 262h0M467 228h0M424 245h0M474 201h0M422 267h0M439 230h0M444 238h0M468 216h0M427 204h0M438 272h0M456 198h0M458 231h0M411 203h0M472 231h0M424 264h0M473 227h0M396 252h0M428 257h0M405 229h0M439 243h0M438 238h0M414 256h0M434 266h0M437 230h0M457 229h0M449 199h0M411 274h0M438 273h0M422 229h0M438 270h0M416 244h0M461 208h0M401 213h0M457 241h0M472 229h0M425 249h0M401 264h0M407 271h0M476 225h0M390 240h0M391 262h0M426 261h0M471 230h0M458 198h0M427 221h0M414 263h0M391 269h0M441 268h0M398 214h0M473 259h0M420 251h0M462 201h0M431 257h0M456 202h0M446 211h0M433 232h0M434 196h0M435 252h0M390 211h0M449 211h0M438 229h0M454 223h0M402 252h0M390 246h0M410 231h0M399 274h0M421 253h0M452 247h0M426 248h0M456 215h0M454 207h0M436 209h0M474 198h0M415 204h0M452 223h0M435 219h0M463 263h0M391 200h0M410 261h0M389 272h0M413 205h0M467 243h0M432 233h0M453 262h0M462 210h0M476 200h0M396 200h0M398 266h0M413 273h0M424 255h0M399 244h0M419 260h0M466 205h0M447 230h0M433 243h0M419 224h0M419 218h0M449 209h0M472 206h0M435 268h0M402 205h0M449 239h0M461 212h0M395 261h0M392 264h0M436 240h0M462 274h0M472 229h0M439 238h0M402 250h0M394 273h0M390 236h0M388 263h0M469 245h0M447 195h0M437 230h0M474 247h0M443 231h0M466 243h0M443 218h0M418 201h0M461 231h0M426 270h0M461 227h0M399 244h0M395 254h0M391 255h0M413 273h0M396 229h0M431 272h0M424 240h0M439 262h0M422 223h0M457 198h0M420 200h0M406 274h0M452 208h0M474 253h0M434 256h0M464 208h0M393 243h0M476 224h0M399 273h0M393 274h0M402 271h0M405 256h0M416 267h0M413 198h0M409 265h0M398 242h0M469 228h0M390 251h0M451 259h0M461 209h0M423 271h0M410 259h0M390 260h0M455 237h0M445 226h0M457 272h0M391 254h0M451 207h0M439 224h0M435 241h0M453 203h0M409 214h0M429 224h0M460 263h0M391 231h0M415 250h0M396 209h0M395 265h0M439 222h0M452 230h0M408 200h0M461 234h0M391 240h0M474 256h0M469 222h0M416 267h0M468 234h0M445 234h0M400 274h0M420 255h0M443 255h0M461 234h0M415 247h0M424 257h0M455 231h0M444 222h0M443 268h0M450 217h0M438 236h0M458 239h0M453 232h0M449 214h0M392 204h0M392 246h0M408 266h0M395 215h0M388 232h0M417 246h0M396 266h0M423 272h0M393 253h0M414 206h0M417 246h0M395 247h0M476 199h0M434 267h0M424 271h0M402 273h0M453 194h0M458 244h0M455 221h0M474 196h0M470 248h0M405 252h0M457 255h0M404 249h0M451 198h0M412 264h0M464 254h0M470 196h0M465 238h0M451 219h0M415 274h0M395 199h0M460 204h0M440 195h0M433 267h0M455 212h0M448 193h0M434 234h0M429 253h0M409 254h0M452 206h0M471 204h0M439 227h0M430 244h0M426 252h0M388 219h0M464 258h0M388 226h0M437 223h0M438 249h0M398 241h0M399 228h0M452 226h0M462 217h0M445 198h0M441 240h0M420 251h0M403 194h0M435 261h0M414 256h0M445 221h0M418 203h0M460 195h0M450 213h0M434 209h0M458 230h0M460 240h0M393 238h0M389 255h0M419 268h0M408 223h0M403 233h0M399 199h0M449 226h0M435 261h0M408 272h0M413 245h0M463 224h0M436 255h0M412 257h0M415 261h0M442 217h0M418 246h0M399 259h0M400 249h0M434 246h0M406 195h0M463 195h0M402 207h0M427 263h0M408 274h0M446 258h0M476 229h0M398 204h0M406 256h0M445 248h0M411 237h0M424 265h0M453 245h0M390 205h0M435 250h0M467 214h0M393 265h0M452 215h0M398 205h0M399 199h0M453 194h0M468 248h0M405 252h0M476 246h0M413 266h0M403 272h0M474 230h0M463 219h0M424 251h0M460 221h0M451 250h0M440 244h0M391 272h0M402 274h0M466 229h0M457 221h0M403 265h0M455 226h0M423 262h0M474 253h0M404 267h0M423 255h0M452 216h0M440 232h0M428 259h0M434 252h0M405 223h0M402 198h0M434 248h0M389 236h0M462 236h0M452 197h0M470 209h0M453 252h0M424 251h0M413 241h0M397 233h0M410 236h0M473 206h0M400 207h0M397 270h0M438 236h0M429 228h0M412 263h0M430 241h0M465 264h0M456 231h0M411 246h0M404 240h0M414 211h0M433 264h0M460 254h0M448 209h0M408 272h0M438 202h0M470 235h0M388 197h0M432 222h0M401 272h0M395 256h0M421 264h0M404 229h0M438 228h0M393 258h0M417 251h0M414 269h0M468 210h0M393 213h0M422 244h0M413 222h0M410 261h0M438 254h0M399 200h0M421 240h0M467 222h0M464 252h0M444 231h0M417 225h0M408 253h0M404 273h0M406 269h0M452 218h0M389 253h0M474 237h0M432 233h0M397 273h0M453 195h0M402 274h0M429 237h0M471 246h0M428 268h0M400 268h0M476 235h0M411 255h0M395 250h0M468 205h0M448 228h0M405 252h0M421 266h0M415 197h0M474 271h0M394 261h0M455 208h0M438 247h0M412 267h0M432 270h0M456 219h0M445 273h0M461 235h0M472 205h0M432 274h0M469 217h0M441 218h0M438 222h0M441 254h0M429 253h0M440 234h0M409 202h0M394 225h0M449 231h0M427 269h0M425 246h0M399 202h0M398 250h0M394 215h0M471 224h0M435 251h0M432 264h0M389 204h0M459 226h0M474 215h0M472 218h0M440 252h0M392 200h0M473 244h0M396 232h0M388 262h0M456 203h0M466 214h0M428 242h0M463 208h0M417 203h0M424 269h0M462 256h0M465 249h0M441 220h0M475 253h0M389 215h0M447 221h0M471 196h0M409 252h0M474 275h0M471 257h0M434 237h0M415 262h0M388 250h0M404 267h0M459 233h0M417 254h0M409 237h0M422 261h0M440 254h0M410 259h0M398 270h0M403 206h0M406 269h0M454 201h0M443 208h0M442 246h0M451 209h0M429 243h0M420 253h0M404 246h0M426 206h0M388 200h0M471 225h0M417 264h0M401 245h0M446 203h0M390 261h0M400 195h0M426 210h0M403 260h0M451 215h0M474 222h0M397 263h0M453 198h0M439 217h0M474 267h0M388 256h0M469 237h0M390 258h0M396 275h0M435 236h0M425 267h0M470 206h0M466 255h0M414 259h0M412 257h0M414 201h0M389 232h0M441 238h0M461 208h0M404 246h0M466 237h0M411 201h0M471 225h0M440 246h0M395 215h0M400 267h0M432 261h0M477 206h0M400 250h0M423 210h0M469 194h0M413 213h0M445 195h0M466 205h0M448 196h0M422 268h0M405 215h0M388 246h0M398 250h0M420 274h0M460 244h0M402 261h0M393 206h0M427 194h0M434 270h0M402 210h0M424 253h0M470 209h0M439 231h0M401 264h0M442 229h0M459 241h0M398 207h0M433 238h0M391 272h0M393 197h0M417 200h0M471 255h0M434 249h0M408 253h0M424 269h0M454 251h0M404 237h0M462 240h0M409 215h0M424 268h0M440 245h0M473 208h0M402 205h0M407 215h0M414 212h0M436 234h0M464 239h0M460 270h0M451 232h0M453 223h0M389 265h0M458 229h0M446 210h0M447 212h0M436 254h0M441 274h0M421 263h0M451 213h0M469 232h0M433 260h0M469 196h0M432 219h0M421 236h0M436 246h0M430 234h0M473 225h0M430 252h0M431 235h0M441 249h0M454 205h0M436 259h0M391 255h0M448 239h0M429 251h0M467 233h0M428 237h0M464 207h0M449 218h0M418 249h0M410 255h0" stroke="#de9632" stroke-width="1.5" stroke-linecap="round" fill="none"/>
<path d="M456 193h0M397 219h0M390 212h0M426 209h0M389 274h0M445 229h0M396 214h0M400 257h0M412 241h0M429 261h0M444 226h0M449 226h0M409 220h0M410 215h0M464 219h0M406 198h0M437 273h0M429 258h0M398 269h0M465 226h0M388 260h0M465 203h0M445 233h0M424 227h0M463 204h0M434 260h0M462 208h0M442 196h0M405 202h0M446 209h0M461 241h0M467 212h0M443 224h0M450 218h0M431 270h0M461 229h0M421 247h0M426 263h0M429 209h0M427 269h0M419 262h0M475 236h0M463 263h0M412 197h0M463 204h0M454 207h0M443 237h0M440 273h0M459 254h0M411 268h0M397 237h0M435 263h0M411 265h0M460 238h0M411 240h0M393 234h0M433 248h0M472 228h0M388 257h0M448 209h0M415 275h0M469 213h0M390 272h0M420 242h0M427 275h0M393 275h0M432 201h0M410 216h0M419 270h0M434 253h0M390 238h0M399 255h0M425 227h0M393 202h0M443 270h0M394 263h0M437 255h0M391 231h0M469 224h0M401 213h0M422 236h0M462 221h0M470 220h0M401 252h0M420 261h0M465 257h0M401 270h0M408 202h0M461 204h0M409 210h0M469 231h0M394 248h0M439 256h0M428 232h0M473 199h0M414 257h0M464 251h0M432 252h0M388 196h0M432 252h0M443 256h0M416 205h0M391 236h0M460 210h0M419 256h0M412 265h0M422 273h0M396 236h0M390 253h0M456 234h0M425 256h0M466 206h0M477 209h0M427 248h0M404 242h0M442 232h0M450 225h0M467 237h0M467 206h0M457 217h0M414 206h0M455 208h0M391 210h0M426 202h0M394 259h0M470 252h0M406 239h0M425 273h0M431 235h0M404 200h0M407 266h0M426 229h0M393 260h0M444 212h0M459 209h0M464 228h0M396 255h0M414 255h0M475 230h0M430 268h0M440 203h0M429 248h0M461 243h0M431 237h0M443 220h0M437 229h0M426 246h0M445 221h0M402 204h0M431 257h0M440 217h0M388 237h0M469 218h0M470 260h0M454 233h0M457 259h0M445 205h0M401 250h0M449 232h0M409 201h0M438 260h0M418 263h0M398 245h0M418 258h0M424 244h0M431 249h0M430 213h0M448 222h0M389 225h0M388 273h0M459 241h0M469 224h0M461 209h0M465 200h0M430 255h0M463 234h0M405 196h0M396 208h0M436 242h0M463 204h0M445 200h0M443 231h0M452 209h0M460 212h0M476 208h0M453 232h0M401 255h0M438 248h0M389 268h0M422 247h0M467 212h0M465 193h0M466 220h0M420 267h0M433 258h0M396 254h0M421 251h0M475 261h0M449 258h0M475 260h0M402 232h0M457 205h0M462 225h0M434 243h0M414 273h0M446 211h0M471 200h0M464 205h0M406 207h0M388 208h0M435 274h0M420 212h0M417 274h0M403 274h0M424 249h0M463 235h0M407 260h0M469 260h0M390 260h0M391 216h0M437 237h0M453 208h0M445 194h0M471 242h0M465 244h0M404 256h0M446 247h0M466 230h0M446 253h0M393 205h0M459 242h0M446 226h0M470 201h0M420 259h0M452 214h0M428 268h0M406 200h0M395 212h0M437 208h0M399 205h0M465 233h0M450 220h0M407 244h0M389 250h0M469 204h0M461 220h0M465 200h0M392 271h0M428 203h0M412 211h0M395 260h0M425 253h0M420 227h0M476 222h0M444 211h0M388 204h0M430 244h0M407 262h0M412 207h0M412 225h0M424 200h0M470 203h0M446 202h0M423 244h0M421 214h0M442 210h0M390 208h0M411 267h0M470 201h0M388 241h0M389 236h0M415 247h0M462 197h0M416 220h0M425 201h0M420 208h0M458 229h0M410 270h0M466 266h0M468 225h0M443 225h0M403 247h0M475 220h0M457 217h0M405 258h0M444 246h0M390 257h0M425 245h0M410 256h0M460 245h0M413 259h0M464 215h0M452 230h0M442 249h0M465 223h0M413 257h0M460 209h0M410 210h0M395 256h0M430 196h0M412 258h0M395 223h0M474 261h0M407 272h0M414 228h0M432 210h0M428 260h0M456 238h0M443 220h0M436 263h0M425 221h0M393 266h0M394 197h0M390 204h0M409 213h0M444 199h0M425 273h0M419 251h0M430 274h0M405 254h0M473 238h0M467 244h0M402 239h0M408 251h0M466 222h0M453 220h0M426 250h0M446 225h0M399 262h0M394 196h0M415 195h0M429 219h0M399 273h0M429 213h0M409 242h0M441 197h0M407 275h0M391 268h0M454 212h0M476 215h0M448 228h0M423 261h0M435 272h0M462 213h0M459 194h0M388 203h0M449 205h0M408 215h0M460 259h0M394 251h0M421 266h0M475 239h0M462 271h0M428 230h0M442 259h0M408 258h0M389 233h0M420 248h0M444 252h0M389 193h0M466 216h0M473 257h0M441 256h0M444 219h0M394 255h0M395 228h0M462 238h0M390 274h0M418 228h0M402 265h0M465 245h0M458 257h0M466 246h0M463 252h0M417 245h0M450 206h0M432 250h0M474 242h0M466 220h0M442 204h0M401 250h0M467 243h0M429 237h0M389 201h0M468 251h0M429 264h0M407 267h0M473 218h0M421 234h0M436 233h0M433 272h0M400 264h0M390 249h0M476 235h0M402 205h0M389 198h0M422 230h0M397 195h0M464 253h0M451 195h0" stroke="#f0d890" stroke-width="1.5" stroke-linecap="round" fill="none"/>
<path d="M470 201h0M429 200h0M442 222h0M450 197h0M418 258h0M410 257h0M427 257h0M393 229h0M438 240h0M407 213h0M413 211h0M389 257h0M460 203h0M396 204h0M397 233h0M430 216h0M460 202h0M461 260h0M397 256h0M400 272h0M456 201h0M431 233h0M452 243h0M442 272h0M404 200h0M398 248h0M474 210h0M407 254h0M423 218h0M404 272h0M466 274h0M422 196h0M407 264h0M436 230h0M465 204h0M391 196h0M466 223h0M446 207h0M435 227h0M447 221h0M397 248h0M415 251h0M402 250h0M444 213h0M411 212h0M476 203h0M453 195h0M431 250h0M417 227h0M451 234h0M414 264h0M473 225h0M470 229h0M408 247h0M401 195h0M413 257h0M409 274h0M425 272h0M423 236h0M406 275h0M411 274h0M405 259h0M411 247h0M442 202h0M400 225h0M472 212h0M464 227h0M450 211h0M394 236h0M442 243h0M408 246h0M417 196h0M390 273h0M411 255h0M448 205h0M453 262h0M452 241h0M421 267h0M400 260h0M409 234h0M465 260h0M449 220h0M459 265h0M447 235h0M404 256h0M431 205h0M466 228h0M404 196h0M418 273h0M432 253h0M401 265h0M397 220h0M420 242h0M474 194h0M388 248h0M475 241h0M416 210h0M466 274h0M391 238h0M437 234h0M407 197h0M391 245h0M412 260h0M442 272h0" stroke="#f0d890" stroke-width="2.4" stroke-linecap="round" fill="none"/>
<path d="M417 252h0M469 209h0M418 262h0M439 221h0M447 214h0M439 242h0M474 221h0M465 220h0M466 255h0M445 213h0M436 251h0M410 273h0M416 257h0M438 223h0M435 223h0M457 242h0M423 212h0M422 239h0M398 240h0M407 266h0M430 205h0M472 210h0M446 204h0M411 258h0M449 248h0M427 270h0M411 265h0M408 253h0M471 239h0M409 211h0M421 255h0M447 225h0M473 244h0M402 196h0M421 229h0M451 215h0M469 274h0M449 230h0M444 219h0M422 217h0M463 253h0M414 225h0M406 258h0M423 245h0M424 257h0M408 258h0M467 229h0M432 251h0M456 249h0M460 239h0M445 267h0M427 240h0M443 238h0M458 227h0M401 252h0M391 203h0M415 272h0M469 224h0M474 209h0M405 249h0M442 215h0M396 248h0M393 265h0M466 212h0M414 271h0M414 230h0M427 252h0M401 269h0M415 208h0M410 209h0M470 205h0M458 209h0M389 275h0M426 200h0M417 233h0M447 216h0M419 210h0M403 224h0M437 229h0M434 244h0M459 194h0M409 236h0M438 225h0M455 227h0M462 269h0M393 244h0M389 249h0M473 205h0M391 255h0M391 247h0M417 274h0M449 250h0M411 273h0M394 231h0M459 222h0M431 219h0M397 210h0M431 273h0M442 226h0M405 261h0M388 209h0M454 241h0M456 233h0M405 194h0M400 268h0M390 199h0M409 264h0M445 232h0M392 256h0M456 221h0M440 241h0M399 249h0M431 244h0M398 249h0M401 253h0M477 258h0M430 247h0M404 224h0M454 275h0M416 217h0M401 223h0M419 260h0M414 210h0M451 262h0M461 197h0M419 261h0M433 250h0M401 196h0M476 210h0M461 235h0M404 234h0M422 266h0M470 202h0M422 272h0M436 234h0M463 215h0M459 204h0M441 193h0M397 274h0M467 194h0M416 247h0M435 222h0M440 246h0M455 213h0M391 207h0M426 218h0M426 265h0M431 214h0M389 259h0M475 207h0M438 206h0M429 270h0M428 272h0M458 211h0M434 271h0M425 215h0M428 219h0M399 246h0M400 269h0M409 259h0M418 212h0M444 233h0M431 249h0M447 225h0M398 259h0M468 260h0M402 199h0M458 240h0M436 229h0M458 233h0M419 241h0M438 251h0M410 258h0M451 215h0M442 243h0M399 245h0M449 233h0M463 200h0M410 211h0M442 232h0M450 220h0M410 255h0M446 239h0M446 219h0M389 272h0M422 260h0M408 205h0M441 201h0M404 263h0M415 245h0M433 257h0M434 262h0M411 216h0M417 243h0M470 207h0M434 226h0M467 231h0M463 241h0M439 251h0M411 263h0M441 223h0M455 265h0M445 197h0M392 263h0M452 205h0M458 198h0M461 215h0M442 249h0M430 224h0M429 258h0M440 262h0M458 217h0M392 271h0M460 263h0M470 210h0M408 251h0M406 273h0" stroke="#c87028" stroke-width="1.5" stroke-linecap="round" fill="none"/>
<path d="M459 260h0M447 201h0M437 220h0M447 221h0M405 244h0M455 214h0M467 261h0M400 240h0M462 195h0M418 269h0M435 256h0M470 206h0M419 264h0M475 244h0M425 268h0M389 238h0M406 271h0M456 219h0M442 238h0M404 195h0M394 226h0M457 227h0M405 274h0M455 231h0M410 265h0M396 270h0M464 209h0M413 245h0M400 273h0M471 210h0M458 242h0M396 253h0M420 221h0M430 247h0M440 248h0M430 267h0M443 255h0M467 254h0M473 207h0M442 228h0M398 197h0M451 206h0M472 200h0M426 244h0M454 215h0M463 271h0M445 203h0M452 235h0M405 275h0M457 214h0M436 254h0M392 199h0M399 199h0M466 242h0M472 241h0M466 211h0M423 246h0M459 229h0M445 219h0M399 258h0M423 253h0M466 253h0M455 195h0M440 273h0M468 269h0M475 203h0M417 248h0M434 238h0M459 202h0M401 244h0M406 250h0M421 244h0M475 215h0M443 217h0" stroke="#f8f4ea" stroke-width="2.4" stroke-linecap="round" fill="none"/>
<path d="M445 217h0M415 270h0M458 241h0M400 268h0M436 263h0M412 214h0M456 235h0M427 249h0M397 255h0M425 193h0M396 260h0M462 211h0M473 242h0M464 204h0M426 264h0M438 234h0M408 251h0M455 227h0M390 226h0M468 200h0M428 242h0M441 259h0M423 207h0M425 260h0M431 246h0M415 268h0M413 261h0M417 262h0M435 198h0M391 273h0M406 257h0M409 266h0M403 263h0M421 219h0M388 270h0M404 262h0M469 248h0M443 218h0M442 209h0M413 212h0M445 228h0M445 252h0M460 247h0M405 257h0M429 264h0M450 214h0M475 206h0M421 229h0M445 218h0M465 260h0M416 245h0M468 245h0M398 218h0M425 269h0M475 215h0M408 205h0M437 209h0M457 228h0M417 224h0M459 213h0M419 253h0M419 215h0M406 234h0M452 209h0M425 260h0M400 274h0M466 196h0M388 203h0M422 253h0M425 240h0M450 229h0M392 225h0M450 200h0M439 250h0M462 259h0M422 256h0M393 263h0M457 221h0M390 270h0M406 199h0M411 271h0M440 213h0M392 222h0M437 244h0M433 235h0M461 224h0M443 229h0M476 247h0M437 270h0M420 203h0M394 240h0M389 242h0M406 258h0M444 237h0M440 251h0M425 256h0M441 265h0M411 269h0M450 227h0M462 241h0M463 239h0M416 207h0M461 217h0M398 213h0M475 230h0M438 267h0M408 261h0M389 267h0M423 252h0M393 250h0M424 249h0M440 237h0M423 259h0M426 231h0M469 237h0M408 214h0M415 271h0M438 243h0M404 226h0M416 271h0M452 253h0M413 274h0M409 247h0M470 235h0M404 243h0M474 208h0M437 260h0M401 258h0M410 253h0M407 248h0M404 248h0M412 215h0M451 212h0M451 223h0M421 248h0M474 240h0M452 213h0M456 232h0M390 223h0M410 259h0M418 206h0M463 239h0M457 199h0M461 221h0M455 199h0M423 274h0M397 269h0M472 211h0M400 206h0M402 197h0M471 225h0" stroke="#de9632" stroke-width="2.4" stroke-linecap="round" fill="none"/>
<path d="M407 267h0M441 230h0M394 271h0M421 207h0M399 198h0M446 238h0M462 241h0M436 225h0M440 235h0M402 204h0M398 267h0M388 256h0M474 210h0M403 242h0M393 269h0M460 211h0M436 237h0M412 204h0M389 210h0M449 224h0M411 261h0M395 226h0M416 196h0M430 235h0M443 249h0M427 241h0M450 255h0M461 206h0M477 256h0M470 229h0M466 216h0M406 235h0M404 270h0M422 248h0M452 241h0M391 262h0M473 194h0M451 228h0M474 211h0M460 229h0M471 206h0M394 263h0M468 251h0M460 232h0M471 255h0M459 225h0M391 263h0M395 204h0M464 223h0M475 244h0M432 234h0M462 233h0M467 205h0M454 203h0M442 230h0M464 202h0M433 234h0M392 247h0M432 255h0M440 251h0M447 206h0M429 255h0M425 197h0M470 269h0M407 238h0M457 226h0M414 269h0M427 226h0M469 233h0M434 257h0M452 235h0M407 242h0M400 213h0M389 235h0M408 198h0M444 212h0M458 235h0M445 239h0M407 228h0M474 219h0M463 205h0M412 256h0M455 217h0M393 272h0M461 205h0M397 274h0M448 237h0M455 207h0M474 252h0M441 253h0M429 249h0M405 211h0M397 201h0M449 218h0M404 255h0M425 265h0M406 261h0M469 249h0M398 260h0M410 251h0M390 249h0M390 269h0M442 247h0M436 230h0M473 236h0M460 230h0M418 261h0M431 231h0M457 257h0M437 246h0M473 258h0M461 239h0M401 206h0M392 259h0M446 255h0M476 258h0M429 258h0M404 254h0M434 247h0M391 198h0M423 223h0M411 260h0M400 269h0M450 206h0M455 218h0M405 248h0M436 248h0M447 250h0M470 235h0M396 255h0M436 255h0M389 271h0M408 272h0M445 226h0M449 248h0M462 199h0M435 219h0M427 253h0M455 234h0M443 260h0M457 205h0M397 253h0M464 241h0M449 200h0M475 240h0M401 267h0M406 200h0M441 218h0M391 221h0M410 265h0M389 254h0M424 203h0M437 213h0M394 246h0M402 234h0M453 240h0M447 259h0M460 196h0M401 238h0M447 242h0M397 247h0M438 199h0M427 244h0M450 231h0M444 210h0M406 258h0M402 268h0M465 214h0M467 257h0M452 233h0M406 193h0M393 270h0M458 214h0M394 263h0M388 256h0M466 249h0M436 225h0M414 273h0M390 257h0M462 243h0M459 219h0M469 258h0M422 249h0M429 245h0M424 257h0M389 240h0M404 195h0M413 228h0M405 251h0M450 203h0M428 219h0M433 241h0M460 243h0M427 218h0M458 230h0M427 241h0M457 230h0M475 200h0M404 239h0M471 245h0M425 221h0M460 211h0M444 231h0M453 257h0M417 251h0M475 233h0M474 262h0M402 205h0M405 201h0M433 249h0M435 214h0M447 246h0M445 215h0M420 242h0M465 203h0M475 268h0M401 274h0M397 197h0M471 245h0M466 263h0M472 211h0M469 202h0M402 275h0M425 249h0M395 201h0M396 241h0M431 244h0M465 230h0M417 199h0M429 272h0M417 199h0M432 228h0M424 256h0M424 240h0M400 235h0M444 209h0M423 269h0M473 258h0M436 242h0M445 233h0M454 216h0M419 194h0M416 223h0M415 199h0M465 268h0M420 258h0M474 243h0M471 225h0M439 245h0M420 273h0M400 206h0M419 262h0M437 246h0M423 265h0M465 245h0M456 242h0M397 265h0M389 249h0M439 219h0M456 223h0M434 231h0M399 250h0M472 231h0M398 202h0M397 255h0M470 268h0M467 230h0M460 196h0M461 253h0M436 243h0M466 210h0M390 239h0M442 254h0M464 199h0M452 245h0M396 199h0M445 248h0M428 275h0M454 205h0M414 272h0M452 214h0M394 204h0M441 269h0M434 241h0M435 249h0M471 224h0M426 245h0M459 259h0M468 223h0M456 272h0M473 234h0M429 205h0M470 231h0M410 253h0M411 268h0M419 268h0M403 233h0M437 218h0M407 273h0M398 237h0M449 225h0M430 258h0M462 243h0M410 254h0M454 212h0M440 219h0M432 236h0M448 227h0M472 240h0" stroke="#f8f4ea" stroke-width="1.5" stroke-linecap="round" fill="none"/>
<path d="M466 249h0M410 200h0M431 252h0M423 210h0M476 203h0M446 200h0M462 207h0M448 256h0M410 246h0M474 223h0M455 228h0M468 213h0M461 227h0M425 260h0M396 201h0M452 230h0M412 211h0M409 203h0M394 202h0M458 239h0M455 195h0M452 240h0M399 251h0M413 260h0M408 240h0M426 245h0M430 254h0M456 204h0M410 195h0M452 241h0M462 227h0M472 239h0M452 259h0M401 235h0M457 241h0M433 265h0M389 243h0M416 274h0M418 262h0M402 235h0M401 237h0M413 230h0M431 244h0M470 221h0M427 242h0M438 204h0M438 252h0M406 265h0" stroke="#c87028" stroke-width="2.4" stroke-linecap="round" fill="none"/>
<path d="M476 205h0M398 267h0M437 251h0M438 224h0M463 267h0M422 259h0M399 272h0M457 201h0M397 235h0M469 214h0M465 210h0M409 256h0M459 216h0M458 216h0M435 223h0M408 260h0M400 266h0M465 223h0M468 210h0M402 233h0M469 239h0M465 251h0M449 201h0M467 224h0M414 253h0M455 240h0M400 274h0M468 223h0M422 224h0M476 217h0M443 246h0M398 207h0M409 272h0M401 274h0M421 245h0M396 266h0M472 248h0M406 243h0M399 269h0M459 226h0M433 224h0M476 272h0M469 208h0M398 272h0M454 212h0M450 238h0M467 207h0M452 227h0M466 263h0M432 215h0M444 220h0M430 193h0M429 194h0M422 225h0M396 274h0M455 240h0M413 269h0M452 225h0M404 205h0M465 219h0M394 198h0M445 207h0M451 228h0M433 237h0M420 217h0M424 250h0M443 237h0M454 213h0M393 215h0M394 249h0M434 258h0M410 233h0M470 259h0M389 237h0M413 263h0M467 193h0M427 247h0M420 200h0M401 262h0M412 262h0M440 198h0M416 254h0M393 272h0M397 203h0M413 197h0M469 205h0M466 199h0M388 270h0M415 251h0M456 231h0M398 248h0M392 200h0M413 262h0M443 221h0M476 241h0M408 249h0M434 249h0M408 260h0M388 201h0M470 228h0M454 219h0M395 210h0M446 208h0M418 196h0M393 251h0M449 248h0M405 259h0M396 237h0M397 242h0M421 267h0M429 263h0M458 232h0M455 231h0M475 245h0M417 195h0M388 234h0M434 235h0M437 264h0M398 262h0M476 274h0M406 274h0M459 218h0M433 245h0M413 270h0M425 226h0M401 270h0M409 272h0M405 238h0M390 241h0M459 223h0M429 235h0M475 205h0M467 236h0M461 249h0M407 207h0M466 264h0M459 219h0M405 242h0M434 232h0M393 245h0M401 266h0M399 262h0M465 213h0M451 221h0M473 197h0M467 195h0M401 263h0M459 199h0M421 198h0M415 273h0M454 220h0M463 232h0M411 261h0M435 244h0M467 240h0M464 207h0M417 252h0M402 264h0M428 214h0M449 239h0M455 209h0M441 221h0M460 197h0M398 209h0M459 234h0M455 212h0M454 217h0M391 273h0M438 204h0" stroke="#e6b440" stroke-width="2.4" stroke-linecap="round" fill="none"/>
</g>
<rect x="388.6" y="194" width="87.2" height="80" fill="none" stroke="#333" stroke-width="1"/>
<clipPath id="cp12"><rect x="477" y="194" width="86.5" height="80"/></clipPath>
<g clip-path="url(#cp12)">
<rect x="477" y="194" width="86.5" height="80" fill="#c0bcc0"/>
<path d="M561 271h0M481 227h0M517 266h0M510 253h0M495 240h0M531 261h0M564 211h0M543 262h0M530 264h0M503 258h0M486 202h0M491 210h0M542 251h0M486 245h0M528 251h0M494 213h0M479 235h0M497 208h0M502 267h0M556 202h0M564 263h0M557 239h0M551 273h0M483 257h0M478 222h0M490 269h0M561 252h0M493 238h0M545 212h0M504 197h0M501 272h0M522 253h0M479 225h0M527 261h0M537 217h0M550 272h0M502 203h0M494 204h0M537 210h0M550 196h0M503 271h0M538 274h0M495 242h0M489 197h0M488 209h0M499 230h0M513 266h0M532 216h0M542 245h0M503 195h0M522 256h0M562 227h0M510 245h0M528 231h0M511 234h0M532 254h0M562 252h0M558 223h0M560 274h0M495 267h0M563 201h0M480 247h0M534 197h0M536 252h0M531 215h0M477 214h0M528 273h0M511 260h0M497 227h0M532 207h0M537 228h0M564 227h0M538 274h0M527 257h0M484 260h0M559 200h0M499 239h0M518 254h0M528 218h0M490 248h0M508 199h0M553 261h0M526 235h0M486 245h0M531 238h0M526 220h0M483 217h0M514 218h0M508 194h0M487 194h0M493 245h0M493 263h0M488 211h0M524 213h0M542 274h0M485 234h0M538 226h0M547 240h0M551 269h0M532 253h0M537 271h0M539 269h0M488 232h0M552 221h0M487 216h0M494 197h0M553 256h0M555 270h0M549 198h0M509 221h0M550 265h0M515 211h0M511 241h0M555 244h0M502 225h0M505 222h0M556 256h0M509 201h0M497 227h0M552 220h0M504 196h0M520 251h0M506 235h0M562 267h0M538 236h0M557 202h0M503 206h0M514 261h0M503 229h0M564 210h0M521 267h0M520 224h0M546 210h0M477 211h0M542 270h0M490 223h0M556 205h0M494 233h0M533 231h0M544 260h0M532 250h0M531 204h0M512 243h0M478 252h0M523 241h0M525 255h0M508 217h0M488 247h0M559 274h0M498 236h0M515 247h0M514 200h0M510 213h0M539 245h0M553 244h0M555 272h0M531 271h0M503 241h0M499 200h0M542 260h0M526 224h0M496 204h0M558 200h0M558 209h0M560 199h0M525 264h0M495 240h0M540 251h0M514 246h0M507 228h0M496 214h0M485 201h0M557 219h0M517 208h0M517 268h0M551 249h0M546 250h0M502 237h0M548 271h0M505 269h0M514 194h0M564 203h0M485 220h0M540 221h0M525 269h0M527 247h0M506 203h0M501 272h0M513 208h0M505 261h0M550 242h0M486 202h0M485 211h0M503 221h0M547 267h0M527 275h0M524 265h0M560 271h0M481 220h0M516 249h0M543 262h0M512 213h0M529 267h0M547 222h0M563 247h0M563 239h0M546 229h0M538 262h0M556 218h0M477 263h0M484 204h0M510 218h0M520 204h0M514 218h0M508 223h0M545 206h0M543 273h0M496 202h0M540 253h0M497 198h0M522 228h0M530 245h0M532 252h0M549 271h0M498 199h0M503 255h0M541 217h0M511 243h0M494 200h0M476 243h0M508 217h0M516 253h0M499 237h0M536 216h0M491 247h0M550 269h0M478 214h0M495 220h0M496 239h0M481 223h0M484 239h0M490 221h0M553 275h0M526 232h0M538 243h0M542 224h0M549 217h0M505 214h0M480 236h0M543 237h0M489 231h0M495 211h0M560 195h0M510 264h0M477 201h0M504 257h0M482 212h0M510 268h0M535 248h0M494 214h0M512 224h0M546 198h0M499 227h0M547 257h0M533 247h0M504 194h0M497 210h0M541 222h0M539 218h0M561 259h0M514 243h0M498 199h0M535 242h0M541 209h0M506 226h0M517 256h0M557 198h0M528 234h0M554 246h0M488 242h0M506 206h0M526 215h0M564 253h0M501 228h0M477 206h0M524 245h0M488 198h0M515 218h0M509 233h0M543 237h0M556 215h0M492 223h0M549 254h0M485 194h0M516 247h0M537 217h0M519 261h0M487 238h0M563 252h0M549 221h0M519 218h0M560 212h0M525 225h0M549 261h0M501 199h0M525 231h0M525 272h0M482 250h0M534 259h0M493 248h0M543 263h0M547 196h0M498 215h0M512 222h0M532 242h0M523 262h0M501 228h0M501 222h0M554 217h0M542 262h0M489 220h0M490 204h0M532 203h0M503 243h0M514 274h0M522 257h0M495 206h0M525 207h0M532 225h0M479 201h0M481 210h0M477 230h0M479 247h0M505 260h0M501 233h0M537 236h0M491 247h0M559 199h0M537 234h0M493 210h0M486 257h0M488 224h0M501 208h0M485 209h0M525 221h0M522 243h0M502 265h0M528 250h0M518 247h0M529 234h0M485 249h0M492 215h0M515 260h0M496 228h0M503 259h0M504 226h0M510 253h0M537 241h0M492 207h0M535 254h0M504 198h0M563 235h0M539 266h0M548 240h0M550 224h0M542 233h0M549 209h0M502 248h0M512 249h0M491 230h0M557 201h0M504 235h0M546 195h0M519 258h0M547 271h0M509 273h0M521 268h0M541 268h0M511 193h0M556 219h0M497 250h0M560 249h0M552 229h0M514 234h0M506 229h0M501 202h0M486 240h0M539 270h0M543 211h0M492 275h0M560 256h0M516 258h0M507 214h0M540 268h0M514 223h0M551 213h0M543 258h0M489 244h0M506 262h0M508 249h0M484 234h0M504 239h0M561 210h0M493 195h0M540 271h0M509 230h0M502 199h0M494 237h0M557 232h0M549 202h0M495 205h0M519 262h0M554 256h0M546 275h0M549 223h0M519 213h0M560 242h0M551 211h0M504 273h0M550 195h0M534 217h0M489 200h0M510 254h0M490 259h0M536 231h0M521 257h0M503 254h0M485 260h0M554 268h0M514 196h0M544 254h0M506 261h0M500 242h0M525 229h0M553 204h0M546 257h0M551 259h0M507 208h0M501 218h0M537 271h0M559 200h0M500 249h0M488 198h0M498 215h0M520 241h0M484 227h0M542 235h0M499 238h0M523 253h0M549 230h0M545 261h0M480 206h0M533 255h0M527 221h0M493 196h0M564 199h0M509 211h0M526 251h0M504 228h0M500 265h0M486 211h0M509 227h0M549 260h0M532 250h0M531 275h0M514 269h0M492 265h0M515 240h0M513 247h0M494 231h0M511 212h0M514 240h0M508 194h0M564 210h0M519 227h0M510 208h0M476 203h0M508 205h0M498 198h0M532 258h0M517 241h0M518 197h0M526 194h0M520 219h0M506 252h0M534 235h0M556 197h0M477 199h0M559 265h0M492 237h0M505 218h0M548 250h0M563 210h0M510 227h0M558 249h0M528 262h0M531 194h0M498 193h0M486 233h0M506 254h0M521 222h0M548 273h0M488 262h0M531 217h0M539 243h0M484 255h0M507 248h0M503 253h0M497 269h0M563 252h0M518 214h0M537 243h0M480 229h0M551 238h0M490 238h0M559 269h0M490 207h0M557 204h0M563 253h0M477 225h0M485 255h0M553 263h0M557 235h0M501 203h0M517 258h0M486 228h0M562 256h0M532 270h0M559 207h0M489 236h0M494 202h0M486 210h0M504 218h0M556 207h0M556 214h0M480 212h0M494 249h0M510 270h0M487 199h0M551 244h0M508 207h0M487 217h0M502 213h0M484 240h0M480 251h0M547 263h0M518 226h0M493 197h0M547 256h0M506 243h0M498 201h0M516 231h0M557 258h0M535 265h0M508 220h0M531 258h0M493 196h0M499 201h0M479 214h0M539 219h0M543 220h0M537 264h0M547 274h0M484 193h0M498 238h0M518 209h0M476 262h0M486 263h0M537 267h0M490 230h0M503 248h0M509 197h0M521 259h0M521 254h0M503 229h0M538 269h0M514 211h0M506 196h0M533 225h0M528 255h0M557 249h0M507 233h0M507 271h0M546 216h0M491 257h0M534 244h0M542 259h0M507 266h0M490 256h0M516 248h0M476 201h0M478 196h0M528 260h0M548 227h0M508 249h0M560 255h0M543 219h0M547 206h0M534 270h0M499 228h0M522 258h0M499 247h0M477 194h0M518 210h0M508 243h0M476 193h0M499 219h0M500 231h0M495 222h0M492 248h0M552 225h0M562 197h0M478 210h0M553 212h0M506 234h0M486 220h0M563 224h0M480 196h0M486 253h0M539 208h0M542 245h0M499 229h0M539 208h0M542 194h0M559 234h0M548 203h0M506 234h0M486 253h0M504 214h0M494 241h0M508 253h0M514 243h0M506 229h0M480 222h0M476 222h0M503 238h0M546 226h0M558 214h0M507 274h0M504 243h0M509 216h0M501 258h0M496 213h0M548 221h0M491 249h0M490 237h0M498 195h0M488 246h0M519 244h0M492 228h0M500 230h0M490 243h0M502 237h0M489 196h0M507 268h0M559 214h0M544 272h0M507 257h0M550 246h0M550 214h0M560 245h0M508 251h0M506 193h0M493 226h0M506 210h0M501 203h0M518 224h0M486 261h0M506 239h0M561 255h0M528 265h0M538 257h0M552 239h0M497 274h0M548 272h0M538 248h0M544 231h0M484 266h0M547 252h0M548 230h0M524 219h0M482 229h0M513 266h0M545 247h0M481 198h0M529 206h0M503 221h0M559 262h0M501 259h0M486 232h0M524 252h0M486 221h0M538 274h0M507 209h0M517 238h0M534 247h0M553 222h0M509 194h0M559 272h0M543 255h0M519 205h0M563 212h0M497 241h0M538 236h0M488 250h0M553 226h0M522 211h0M526 212h0M564 273h0M537 246h0M550 247h0M487 245h0M481 214h0M485 226h0M495 245h0M498 196h0M479 235h0M524 275h0M540 254h0M508 268h0M523 260h0M524 218h0M495 248h0M495 239h0M528 214h0M512 237h0M480 206h0M485 248h0M552 203h0M521 255h0M552 273h0M536 228h0M499 216h0M504 228h0M526 222h0M525 224h0M538 254h0M544 227h0M499 263h0M507 226h0M481 258h0M497 223h0M551 210h0M524 221h0M548 265h0M525 255h0M492 232h0M490 225h0M534 214h0M513 273h0M482 257h0M479 240h0M496 241h0M519 251h0M518 271h0M539 229h0M562 260h0M537 261h0M484 221h0M502 236h0M548 220h0M529 274h0M555 202h0M481 256h0M481 198h0M557 196h0M544 195h0M487 219h0M562 208h0M522 249h0M527 224h0M536 252h0M497 219h0M509 247h0M520 226h0M487 234h0M486 218h0M515 210h0M496 267h0M540 232h0M547 228h0M493 222h0M508 268h0M496 215h0M498 227h0M540 243h0M522 265h0M511 272h0M541 239h0M554 271h0M477 260h0M553 213h0M549 260h0M499 212h0M490 237h0M557 268h0M540 231h0M504 214h0M494 262h0M560 270h0M538 262h0M558 199h0M524 212h0M514 249h0M495 222h0M536 248h0M512 267h0M526 273h0M478 194h0M485 194h0M540 212h0M496 210h0M550 236h0M554 271h0M505 236h0M507 253h0M512 250h0M544 239h0M482 215h0M489 225h0M533 225h0M523 249h0M510 255h0M534 242h0M500 273h0M478 218h0M537 226h0M558 206h0M511 273h0M541 215h0M493 243h0M487 250h0M537 254h0M502 258h0M562 259h0M494 215h0M512 265h0M482 244h0M547 241h0M502 245h0M532 270h0M478 218h0M514 195h0M520 249h0M493 243h0M543 264h0M493 200h0M556 193h0M561 204h0M552 264h0M535 210h0M489 223h0M514 269h0M497 219h0M542 251h0M533 235h0M541 199h0M486 199h0M560 259h0M485 209h0M482 233h0M498 211h0M499 273h0M498 248h0M494 215h0M528 258h0M542 207h0M501 221h0M537 261h0M494 213h0M503 264h0M527 244h0M507 227h0M525 265h0M485 227h0M489 227h0M479 210h0M511 258h0M525 265h0M486 216h0M504 241h0M554 230h0M529 246h0M550 220h0M556 271h0M500 239h0M551 266h0M486 226h0M550 225h0M514 220h0M508 248h0M525 248h0M558 262h0M494 202h0M488 218h0M514 257h0M553 228h0M548 263h0M493 214h0M526 241h0M486 240h0M505 236h0M550 247h0M495 265h0M496 256h0M499 247h0M483 262h0M496 224h0M482 255h0M487 211h0M507 207h0M506 241h0M560 262h0M522 217h0M558 248h0M506 193h0M546 211h0M499 215h0M488 229h0M501 273h0M491 205h0M479 200h0M542 273h0M527 270h0M516 253h0M559 266h0M500 204h0M525 230h0M510 209h0M503 253h0M478 230h0M489 249h0M487 199h0M524 207h0M480 222h0M561 250h0M503 225h0M546 227h0M520 273h0M504 223h0M543 266h0M513 198h0M544 249h0M556 242h0M503 237h0M516 229h0M537 254h0M564 262h0M553 225h0M508 249h0M525 248h0M477 273h0M479 203h0M555 243h0M510 247h0M546 252h0M537 213h0M547 216h0M541 220h0M508 217h0M490 253h0M535 222h0M499 200h0M519 274h0M513 196h0M494 193h0M550 260h0M552 273h0M555 270h0M487 234h0M501 209h0M536 212h0M490 268h0M503 211h0M550 272h0M562 253h0M540 224h0M534 270h0M528 224h0M481 250h0M541 225h0M484 239h0M484 203h0M524 255h0M536 218h0M545 269h0M549 244h0M517 251h0M501 245h0M557 228h0M546 259h0M540 274h0M503 242h0M513 207h0M497 259h0M524 272h0M496 254h0M523 272h0M555 214h0M505 255h0M501 274h0M497 238h0M490 239h0M520 214h0M501 236h0M545 269h0M480 204h0M518 217h0M543 214h0M500 271h0M497 254h0M495 232h0M533 233h0M499 224h0M530 253h0M538 272h0M540 244h0M486 212h0M524 260h0M497 271h0M505 253h0M508 225h0M542 252h0M515 211h0M486 240h0M495 197h0M559 200h0M546 204h0M557 248h0M556 254h0M491 208h0M527 212h0M518 212h0M510 258h0M556 221h0M526 267h0M494 216h0M505 242h0M510 271h0M508 228h0M531 240h0M552 211h0M515 271h0M556 206h0M488 224h0M498 234h0M492 199h0M497 204h0M500 255h0M508 241h0M526 202h0M502 220h0M556 252h0M564 220h0M545 257h0M511 233h0M505 255h0M558 263h0M477 214h0M547 227h0M488 205h0M529 246h0M541 243h0M513 197h0M548 197h0M479 223h0M492 221h0M501 250h0M548 217h0M519 206h0M523 220h0M533 249h0M539 217h0M560 264h0M487 215h0M532 264h0M492 261h0M559 196h0M550 264h0M539 224h0M497 224h0M487 231h0M540 270h0M477 207h0M529 252h0M485 206h0M538 219h0M509 227h0M546 243h0M479 196h0M547 226h0M552 247h0M509 224h0M525 234h0M520 275h0M487 236h0M484 261h0M545 221h0M533 232h0M515 261h0M519 269h0M562 265h0M564 250h0M559 204h0M530 220h0M541 262h0M493 228h0M538 203h0M545 217h0M537 238h0M526 261h0M542 236h0M550 243h0M503 228h0M511 211h0M553 267h0M496 228h0M542 221h0M542 227h0M484 199h0M508 263h0M545 215h0M560 266h0M501 214h0M523 247h0M561 205h0M490 194h0M483 218h0M526 217h0M494 202h0M488 218h0M491 193h0M549 262h0M525 229h0M542 216h0M558 224h0M552 220h0M499 194h0M531 212h0M528 270h0M555 195h0M499 252h0M504 217h0M492 195h0M490 220h0M497 194h0M501 250h0M538 230h0M514 222h0M501 216h0M513 219h0M477 251h0M562 194h0M499 241h0" stroke="#cc4c3c" stroke-width="1.6" stroke-linecap="round" fill="none"/>
<path d="M535 218h0M540 267h0M548 206h0M537 262h0M530 227h0M497 229h0M490 242h0M499 266h0M518 272h0M539 265h0M519 235h0M517 217h0M503 246h0M548 245h0M540 242h0M543 273h0M518 244h0M525 210h0M477 227h0M506 199h0M527 210h0M485 239h0M539 264h0M515 257h0M550 273h0M506 218h0M544 254h0M487 272h0M552 222h0M552 255h0M484 205h0M550 252h0M502 240h0M526 214h0M485 241h0M526 247h0M522 237h0M503 253h0M551 274h0M476 210h0M499 194h0M506 252h0M499 239h0M550 214h0M545 226h0M492 257h0M503 233h0M524 259h0M524 274h0M505 241h0M481 215h0M493 222h0M537 247h0M517 250h0M511 261h0M548 207h0M480 213h0M479 252h0M518 256h0M528 252h0M540 263h0M544 245h0M529 215h0M500 275h0M512 239h0M523 247h0M552 237h0M487 257h0M492 243h0M518 269h0M547 225h0M493 225h0M478 218h0M564 242h0M557 203h0M500 210h0M503 233h0M527 266h0M533 268h0M522 210h0M525 249h0M536 219h0M510 242h0M508 240h0M547 240h0M555 213h0M541 216h0M483 248h0M537 211h0M554 209h0M487 215h0M499 204h0M490 203h0M505 223h0M545 235h0M489 238h0M552 265h0M513 215h0M564 206h0M499 231h0M532 250h0M543 228h0M515 236h0M562 224h0M481 229h0M508 239h0M508 207h0M542 241h0M523 251h0M555 223h0M520 250h0M512 268h0M508 262h0M512 258h0M528 267h0M556 252h0M523 254h0M549 270h0M488 245h0M498 198h0M531 264h0M526 265h0M510 267h0M558 246h0M543 231h0M553 212h0M562 217h0M520 265h0M537 218h0M530 242h0M523 260h0M493 240h0M492 232h0M539 225h0M538 268h0M489 237h0M558 201h0M547 207h0M520 224h0M537 196h0M479 222h0M485 260h0M534 224h0M524 222h0M515 266h0M520 229h0M564 269h0M543 215h0M509 213h0M509 203h0M557 193h0M534 246h0M561 203h0M543 231h0M556 246h0M542 194h0M531 257h0M558 225h0M514 194h0M513 248h0M536 245h0M516 198h0M526 212h0M520 222h0M491 223h0M480 212h0M514 220h0M514 273h0M478 254h0M552 274h0M483 224h0M544 262h0M516 251h0M477 269h0M529 257h0M533 245h0M521 259h0M502 209h0M540 208h0M477 205h0M511 269h0M536 234h0M524 269h0M548 231h0M486 202h0M524 246h0M517 219h0M523 273h0M543 205h0M479 230h0M510 249h0M548 209h0M552 211h0M502 272h0M519 268h0M540 210h0M485 201h0M505 242h0M493 234h0M486 230h0M534 231h0M488 216h0M504 235h0M506 204h0M506 262h0M546 249h0M478 226h0M486 246h0M498 196h0M533 221h0M529 224h0M491 202h0M536 245h0M545 206h0M540 210h0M511 199h0M529 207h0M503 255h0M493 199h0M532 247h0M491 204h0M496 234h0M531 219h0M536 210h0M484 270h0M480 228h0M528 248h0M508 197h0M488 224h0M506 233h0M552 210h0M498 251h0M527 214h0M562 206h0M479 243h0M481 232h0M547 202h0M493 256h0M554 226h0M486 214h0M560 252h0M480 217h0M513 242h0M498 259h0M534 243h0M509 261h0M488 216h0M484 230h0M498 242h0M501 232h0M508 258h0M530 275h0M501 248h0M553 251h0M478 233h0M512 272h0M525 204h0M495 263h0M552 270h0M532 245h0M563 214h0M554 246h0M525 207h0M518 212h0M522 222h0M530 265h0M542 240h0M511 216h0M486 207h0M546 271h0M514 232h0M535 239h0M500 224h0M499 227h0M533 254h0M562 211h0M498 246h0M500 239h0M477 256h0M519 269h0M525 200h0M547 255h0M513 252h0M541 247h0M546 202h0M539 258h0M504 264h0M522 224h0M548 224h0M524 245h0M525 231h0M506 229h0M498 208h0M545 217h0M555 236h0M495 234h0M550 221h0M531 245h0M480 247h0M528 206h0M558 273h0M483 250h0M491 222h0M545 274h0M543 251h0M501 199h0M543 212h0M512 218h0M479 233h0M560 207h0M551 237h0M483 211h0M535 268h0M517 267h0M553 211h0M501 264h0M540 215h0M517 240h0M528 252h0M543 249h0M540 196h0M559 219h0M493 198h0M494 232h0M511 226h0M542 246h0M496 202h0M538 236h0M499 238h0M557 260h0M500 226h0M561 250h0M549 244h0M493 211h0M529 216h0M519 219h0M490 202h0M482 226h0M524 221h0M524 240h0M513 223h0M507 213h0M526 216h0M497 203h0M494 261h0M548 204h0M551 216h0M501 248h0M519 239h0M483 243h0M482 252h0M532 253h0M535 254h0M491 240h0M490 220h0M496 209h0M503 226h0M501 200h0M529 252h0M539 217h0M503 213h0M552 267h0M538 239h0M481 249h0M551 201h0M510 273h0M554 242h0M546 204h0M538 218h0M516 219h0M490 231h0M510 261h0M516 241h0M551 217h0M521 251h0M517 250h0M485 255h0M480 249h0M495 199h0M504 243h0M529 238h0M527 220h0M525 252h0M534 224h0M523 221h0M492 241h0M539 222h0M521 253h0M503 218h0M551 199h0M481 254h0M539 230h0M518 219h0M518 218h0M506 209h0M506 256h0M528 262h0M549 274h0M526 219h0M480 221h0M559 193h0M496 229h0M537 256h0M480 212h0M501 213h0M492 201h0M514 260h0M496 265h0M524 274h0M489 228h0M549 201h0M523 213h0M529 270h0M501 195h0M501 221h0M537 247h0M542 243h0M488 234h0M524 219h0M494 244h0M541 217h0M506 201h0M479 252h0M541 269h0M557 214h0M523 220h0M503 245h0M519 232h0M558 272h0M536 202h0M513 228h0M497 235h0M555 252h0M507 204h0M499 238h0M533 226h0M499 222h0M542 267h0M511 254h0M511 220h0M547 269h0M512 249h0M497 207h0M564 255h0M533 254h0M492 251h0M512 217h0M506 240h0M499 224h0M548 214h0M537 256h0M506 215h0M514 254h0M522 206h0M557 234h0M496 273h0M551 209h0M541 248h0M546 215h0M487 234h0M504 229h0M510 256h0M517 265h0M478 203h0M499 218h0M543 269h0M531 241h0M492 193h0M555 215h0M526 231h0M532 266h0M526 223h0M504 219h0M525 239h0M503 246h0M484 219h0M523 261h0M514 208h0M548 209h0M523 243h0M480 195h0M512 271h0M548 251h0M484 225h0M539 213h0M488 227h0M543 245h0M563 241h0M487 246h0M501 268h0M530 231h0M522 210h0M498 213h0M543 236h0M494 207h0M506 248h0M532 235h0M487 211h0M550 198h0M509 223h0M514 255h0M511 215h0M502 241h0M491 230h0M484 195h0M501 194h0M548 223h0M477 259h0M530 227h0M550 240h0M485 213h0M503 235h0M504 227h0M523 268h0M516 264h0M512 194h0M523 247h0M558 207h0M491 210h0M563 262h0M558 195h0M543 272h0M507 207h0M498 255h0M543 228h0M488 199h0M549 248h0M479 242h0M507 208h0M502 224h0M497 195h0M564 249h0M487 224h0M548 274h0M491 260h0M506 196h0M532 208h0M554 268h0M559 225h0M562 247h0M558 205h0M533 254h0M519 273h0M543 224h0M546 212h0M500 236h0M501 239h0M509 225h0M538 217h0M487 248h0M515 235h0M559 208h0M543 221h0M520 251h0M506 262h0M488 262h0M564 264h0M537 234h0M513 247h0M495 249h0M563 217h0M525 222h0M522 262h0M498 215h0M515 260h0M542 206h0M553 263h0M553 220h0M484 249h0M500 218h0M564 194h0M547 210h0M480 264h0M514 244h0M493 244h0M525 238h0M480 254h0M531 220h0M564 245h0M528 243h0M532 241h0M503 266h0M538 209h0M544 197h0M502 201h0M532 246h0M551 259h0M562 205h0M486 254h0M540 232h0M487 205h0M539 230h0M480 261h0M562 210h0M513 257h0M510 264h0M505 231h0M501 211h0M480 263h0M506 249h0M539 267h0M479 256h0M531 217h0M500 256h0M537 248h0M555 258h0M527 250h0M497 203h0M526 239h0M487 204h0M551 202h0M480 212h0M506 224h0M510 207h0M523 257h0M509 245h0M490 239h0M540 255h0M511 270h0M561 265h0M540 255h0M543 228h0M522 259h0M534 223h0M543 212h0M549 261h0M498 206h0M484 195h0M499 197h0M546 199h0M478 241h0M493 241h0M491 265h0M511 202h0M479 262h0M487 239h0M512 269h0M521 243h0M505 226h0M536 261h0M504 211h0M484 201h0M500 270h0M540 244h0M548 234h0M528 249h0M499 261h0M503 248h0M531 221h0M519 264h0M490 265h0M547 263h0M530 248h0M482 274h0M516 269h0M557 229h0M495 198h0M560 223h0M519 245h0M489 244h0M501 251h0M525 241h0M532 233h0M478 237h0M502 222h0M539 231h0M549 203h0M513 220h0M533 270h0M515 220h0M539 232h0M486 221h0M525 223h0M479 247h0M476 270h0M534 259h0M555 258h0M523 249h0M507 246h0M547 225h0M519 256h0M524 205h0M533 247h0M487 208h0M504 258h0M495 209h0M509 233h0M478 225h0M484 202h0M502 202h0M530 218h0M551 259h0M552 273h0M564 268h0M506 226h0M553 206h0M539 196h0M558 206h0M562 206h0M547 216h0M518 256h0M537 255h0M556 258h0M486 242h0M551 252h0M551 195h0M546 266h0M563 205h0M545 273h0M545 271h0M501 256h0M561 194h0M557 197h0M487 219h0M539 265h0M564 221h0M534 217h0M505 254h0M494 243h0M564 264h0M493 204h0M514 266h0M500 257h0M548 232h0M555 245h0M523 225h0M524 213h0M502 228h0M504 207h0M530 251h0M531 252h0M490 204h0M551 217h0M492 222h0M529 229h0M557 216h0M484 236h0M535 231h0M506 241h0M544 194h0M531 255h0M531 249h0M484 196h0M563 212h0M528 213h0M529 226h0M505 246h0M501 197h0M532 253h0M501 215h0M500 259h0M496 209h0M564 212h0M529 262h0M509 257h0M503 247h0M527 268h0M508 216h0M529 231h0M546 255h0M486 226h0M551 217h0M504 237h0M544 260h0M488 210h0M521 271h0M508 242h0M533 224h0M540 208h0M506 204h0M534 216h0M505 233h0M510 197h0M481 211h0M490 251h0M493 247h0M514 231h0M526 231h0M548 206h0M500 209h0M530 226h0M529 273h0M535 257h0M495 213h0M506 220h0M503 254h0M520 219h0M564 222h0M498 208h0M550 251h0M544 235h0M480 232h0M513 195h0M527 253h0M532 233h0M527 217h0M499 257h0M480 258h0M539 261h0M501 242h0M524 250h0M547 216h0M489 207h0M558 214h0M514 273h0M519 271h0M533 232h0M516 213h0M528 231h0M538 208h0M552 260h0M485 243h0M559 258h0M484 245h0M550 205h0M497 269h0M532 245h0M527 195h0M527 220h0M487 232h0M543 261h0M492 270h0M481 236h0M500 226h0M497 197h0M551 208h0M484 265h0M510 219h0M514 218h0M538 241h0M478 201h0M491 214h0M518 245h0M510 264h0M535 211h0M529 237h0M503 254h0M530 268h0M511 210h0M546 254h0M479 208h0M521 238h0M499 223h0M507 221h0M483 242h0M493 206h0M535 219h0M498 254h0M496 214h0M547 200h0M491 238h0M478 216h0M518 261h0M548 220h0M513 267h0M501 249h0M482 256h0M553 209h0M501 254h0M502 245h0M551 211h0M530 233h0M517 263h0M555 251h0M560 227h0M488 200h0M545 222h0M499 254h0M509 213h0M487 202h0M553 268h0M543 271h0M536 214h0M543 245h0M503 207h0M488 213h0M539 264h0M495 252h0M483 243h0M554 243h0M546 209h0M494 223h0M541 246h0M562 258h0M515 211h0M490 205h0M491 204h0M561 270h0M564 246h0M544 252h0M528 203h0M491 203h0M544 203h0M537 274h0M558 212h0M482 209h0M498 213h0M518 235h0M528 252h0M491 213h0M529 256h0M502 194h0M491 224h0M494 216h0M501 258h0M506 240h0M504 215h0M491 193h0M495 263h0M543 221h0M497 212h0M540 226h0M478 204h0M500 222h0M508 268h0M496 216h0M493 250h0M483 239h0M528 259h0M544 270h0M477 256h0M526 254h0M532 267h0M499 220h0M529 223h0M532 228h0M498 247h0M503 197h0M484 247h0M534 241h0M535 222h0M535 241h0M523 207h0M563 267h0M551 210h0M516 270h0M501 220h0M490 200h0M506 230h0M500 204h0M499 233h0M536 271h0M537 265h0M527 254h0M493 256h0M545 251h0M516 262h0M491 195h0M564 260h0M506 252h0M556 240h0M496 235h0M521 261h0M508 217h0M485 240h0M491 193h0M542 224h0M553 205h0M493 249h0M494 274h0M548 212h0M530 253h0M527 230h0M497 240h0M482 201h0M539 212h0M501 228h0M506 275h0M551 273h0M529 199h0M547 247h0M538 254h0M533 263h0M527 259h0M529 239h0M481 211h0M514 205h0M508 213h0M489 220h0M482 209h0M515 226h0M547 268h0M490 246h0M494 216h0M487 264h0M503 211h0M546 265h0M492 226h0M506 234h0M478 256h0M538 207h0M478 213h0M479 243h0M504 247h0M541 234h0M547 231h0M502 209h0M544 247h0M540 220h0M549 228h0M493 236h0M529 259h0M494 235h0M537 235h0M556 224h0M490 193h0M551 199h0M516 221h0M514 214h0M505 264h0M532 255h0M513 244h0M502 238h0M526 233h0M536 240h0M524 268h0M533 222h0M499 217h0M517 210h0M556 221h0M525 266h0M487 232h0M549 273h0M514 246h0M490 252h0M480 205h0M493 236h0M536 264h0M483 252h0M530 264h0M507 240h0M511 256h0M532 209h0M535 250h0M489 269h0M536 223h0M479 206h0M557 239h0M544 245h0M554 249h0M552 258h0M496 208h0M541 263h0M480 221h0M544 274h0M502 258h0M561 225h0M484 236h0M519 238h0M526 260h0M501 232h0M480 260h0M506 251h0M485 207h0M546 233h0M560 217h0M536 254h0M562 257h0M520 217h0M533 257h0M485 221h0M516 266h0M545 198h0M563 271h0M524 223h0M487 263h0M522 259h0M495 202h0M498 252h0M542 269h0M494 210h0M514 252h0M546 214h0M501 273h0M560 207h0M481 249h0M525 255h0" stroke="#f8ece4" stroke-width="1.6" stroke-linecap="round" fill="none"/>
<path d="M513 265h0M508 213h0M513 236h0M521 200h0M497 231h0M493 272h0M519 216h0M517 226h0M530 258h0M499 238h0M521 266h0M514 253h0M549 266h0M511 193h0M506 259h0M556 213h0M544 201h0M563 251h0M531 254h0M504 233h0M526 267h0M478 252h0M488 242h0M512 207h0M513 200h0M479 230h0M492 257h0M534 244h0M499 250h0M508 236h0M480 251h0M532 234h0M527 256h0M538 244h0M494 221h0M520 274h0M511 232h0M512 237h0M496 217h0M549 218h0M482 248h0M553 252h0M508 248h0M491 210h0M496 225h0M479 266h0M492 242h0M492 199h0M482 194h0M504 263h0M547 244h0M529 236h0M514 222h0M525 243h0M503 233h0M510 217h0M521 230h0M554 245h0M535 215h0M547 209h0M548 260h0M564 211h0M520 270h0M517 228h0M479 257h0M518 265h0M529 233h0M499 223h0M554 256h0M502 261h0M562 275h0M527 241h0M552 206h0M539 260h0M512 218h0M529 220h0M564 217h0M540 249h0M537 269h0M500 210h0M499 268h0M551 220h0M492 244h0M500 247h0M515 198h0M499 207h0M503 251h0M541 216h0M478 219h0M501 239h0M558 242h0M482 194h0M484 219h0M504 260h0M486 222h0M552 248h0M535 245h0M505 216h0M544 236h0M523 202h0M497 269h0M534 246h0M513 262h0M490 249h0M481 219h0M514 263h0M551 235h0M492 208h0M490 208h0M507 253h0M546 229h0M537 265h0M525 203h0M513 250h0M510 200h0M564 218h0M480 271h0M529 224h0M488 251h0M547 225h0M563 261h0M519 239h0M525 266h0M524 275h0M496 202h0M551 242h0M505 215h0M506 236h0M559 193h0M479 228h0M491 267h0M527 218h0M533 253h0M537 220h0M496 222h0M507 196h0M503 273h0M537 267h0M487 232h0M484 216h0M493 234h0M510 253h0M548 249h0M556 218h0M531 262h0M547 219h0M525 212h0M482 225h0M548 270h0M564 265h0M510 251h0M517 265h0M549 261h0M530 226h0M504 213h0M517 252h0M488 218h0M541 237h0M478 246h0M557 200h0M540 236h0M500 201h0M550 245h0M550 262h0M510 275h0M553 258h0M477 197h0M541 269h0M562 203h0M515 208h0M527 268h0M542 257h0M486 225h0M541 220h0M504 199h0M500 205h0M503 267h0M543 227h0M505 200h0M561 247h0M500 212h0M505 233h0M548 254h0M525 214h0M559 197h0M550 226h0M535 227h0M524 257h0M533 229h0M519 262h0M519 239h0M534 268h0M521 270h0M507 266h0M499 273h0M485 260h0M485 209h0M529 225h0M530 258h0M534 238h0M525 272h0M551 195h0M512 247h0M504 242h0M543 260h0M539 271h0M564 265h0M507 227h0M529 228h0M490 264h0M510 212h0M537 210h0M545 216h0M539 221h0M541 244h0M500 208h0M523 218h0M534 261h0M549 270h0M492 212h0M538 220h0M531 204h0M546 225h0M501 253h0M505 255h0M561 217h0M501 231h0M560 219h0M526 238h0M545 268h0M522 275h0M551 207h0M529 265h0M503 240h0M512 241h0M479 209h0M493 243h0M513 226h0M532 257h0M500 209h0M546 203h0M480 207h0M553 214h0M562 266h0M515 259h0M506 240h0M478 203h0M551 241h0M477 220h0M552 267h0M560 194h0M477 210h0M491 207h0M497 202h0M542 233h0M508 215h0M493 246h0M484 255h0M477 203h0M550 251h0M488 243h0M525 225h0M556 203h0M540 269h0M532 207h0M536 206h0M554 223h0M562 243h0M537 263h0M528 221h0M492 222h0M513 219h0M560 255h0M492 222h0M529 219h0M496 257h0M483 227h0M506 272h0M493 245h0M549 263h0M517 257h0M543 242h0M549 257h0M508 222h0M487 194h0M526 262h0" stroke="#cc4c3c" stroke-width="2.6" stroke-linecap="round" fill="none"/>
<path d="M505 204h0M508 263h0M480 242h0M545 233h0M487 203h0M548 201h0M536 259h0M525 259h0M524 224h0M506 260h0M506 246h0M487 207h0M530 222h0M529 244h0M557 208h0M536 269h0M495 246h0M503 239h0M492 267h0M507 272h0M546 220h0M557 228h0M560 230h0M532 222h0M549 203h0M477 221h0M547 247h0M523 266h0M518 239h0M491 230h0M498 208h0M555 214h0M561 243h0M501 221h0M530 248h0M489 220h0M501 206h0M480 233h0M503 222h0M535 267h0M519 223h0M562 244h0M523 267h0M514 255h0M557 269h0M479 206h0M534 261h0M506 232h0M522 238h0M531 236h0M514 212h0M513 205h0M495 216h0M563 220h0M525 268h0M494 267h0M543 217h0M520 246h0M504 272h0M521 227h0M557 272h0M506 203h0M515 249h0M547 197h0M510 246h0M518 212h0M495 252h0M536 256h0M524 201h0M554 218h0M495 211h0M556 255h0M535 260h0M483 218h0M501 261h0M528 214h0M551 205h0M534 218h0M551 231h0M517 258h0M534 258h0M490 216h0M482 193h0M534 252h0M491 245h0M520 221h0M539 212h0M520 250h0M479 209h0M505 235h0M525 242h0M501 254h0M494 221h0M524 252h0M547 215h0M487 193h0M501 241h0M500 245h0M549 273h0M535 240h0M558 253h0M499 214h0M546 230h0M481 235h0M511 265h0M506 199h0M529 245h0M486 245h0M507 215h0M548 204h0M552 230h0M483 216h0M524 263h0M564 274h0M511 263h0M524 255h0M508 198h0M540 225h0M495 217h0M526 259h0M500 249h0M540 227h0M508 204h0M522 195h0M559 268h0M543 219h0M501 221h0M480 213h0M519 216h0M525 198h0M482 195h0M533 236h0M512 195h0M552 245h0M517 206h0M545 255h0M497 230h0M527 215h0M485 213h0M488 240h0M503 208h0M536 266h0M540 255h0M503 195h0M509 233h0M509 224h0M506 204h0M547 218h0M481 201h0M558 196h0M480 254h0M551 259h0M481 257h0M491 195h0M504 244h0M502 212h0M530 225h0M551 221h0M561 218h0M550 232h0M482 225h0M511 211h0M519 253h0M523 247h0M514 247h0M534 232h0M533 238h0M496 226h0M506 213h0M505 206h0M562 233h0M528 210h0M510 271h0M498 201h0M491 229h0M546 252h0M511 272h0M553 203h0M506 222h0M563 248h0M552 259h0M504 211h0M552 212h0M537 251h0M562 232h0M493 195h0M556 239h0M496 218h0M524 261h0M537 217h0M514 204h0M501 228h0M513 196h0M538 244h0M517 244h0M563 242h0M563 249h0M562 273h0M490 230h0M502 265h0M564 257h0M542 249h0M506 273h0M510 218h0M503 198h0M558 233h0M522 246h0M498 251h0M547 197h0M507 206h0M512 249h0M482 202h0M515 217h0M548 240h0M558 253h0M500 247h0M551 227h0M491 219h0M503 243h0M542 267h0M515 205h0M502 207h0M514 268h0M488 250h0M536 219h0M536 271h0M519 255h0M491 266h0M497 264h0M499 246h0M485 227h0M527 270h0M492 237h0M560 200h0M498 271h0M481 200h0M504 260h0M549 197h0M500 228h0M510 199h0M544 275h0M488 240h0M489 223h0M508 219h0M492 199h0M498 216h0M502 253h0M504 204h0M558 200h0M506 221h0M482 253h0M556 211h0M507 274h0M496 231h0M477 202h0M551 274h0M559 225h0M520 225h0M533 212h0M501 204h0M532 219h0M535 224h0M529 240h0M499 193h0M506 247h0M513 234h0M508 236h0M484 243h0M499 229h0M481 210h0M499 210h0M539 236h0M562 193h0M504 206h0M536 232h0M497 223h0M540 212h0M510 196h0M513 219h0M518 242h0M556 255h0M508 194h0M483 208h0M561 271h0M480 239h0M500 234h0M495 247h0M499 215h0M478 240h0M539 254h0M490 194h0M503 241h0M552 204h0M527 226h0M513 262h0M497 241h0M507 213h0M476 199h0M510 272h0M531 246h0M496 235h0M515 217h0M505 268h0M530 259h0M542 246h0M510 246h0M544 267h0M541 240h0M555 226h0M560 232h0M509 246h0M499 198h0M487 256h0M551 267h0M519 257h0M489 212h0M515 270h0M544 265h0M559 271h0M495 250h0M488 271h0M548 248h0M522 272h0M505 240h0M556 231h0M515 214h0M534 194h0M549 237h0M494 258h0M500 213h0M503 240h0M549 250h0M512 222h0M493 251h0M492 256h0M480 252h0M501 240h0M489 229h0M503 205h0M505 217h0M477 202h0M503 207h0M518 207h0M539 229h0M508 255h0M561 267h0M552 269h0M539 259h0M554 271h0M481 205h0M484 247h0M488 219h0M493 219h0M515 261h0M499 216h0M556 205h0M550 268h0M501 218h0M486 221h0M476 198h0M485 201h0M488 225h0M524 271h0M490 215h0M492 204h0M534 237h0M507 215h0M556 208h0M528 269h0M503 246h0M501 197h0M559 252h0M486 234h0M483 232h0M505 217h0M495 254h0M482 201h0M510 254h0M529 219h0M477 217h0M501 236h0M543 238h0M510 221h0M531 268h0M500 273h0M492 241h0M523 218h0M531 260h0M489 235h0M494 256h0M515 216h0M524 214h0M511 227h0M503 222h0M508 262h0M525 263h0M549 273h0M535 271h0M531 231h0M493 257h0M520 248h0M500 244h0M503 267h0M501 262h0M540 221h0M558 210h0M515 274h0M480 202h0M553 209h0M504 218h0M535 216h0M494 212h0M526 274h0M482 198h0M489 217h0M496 209h0M554 203h0M515 212h0M510 245h0M498 211h0M534 274h0M529 223h0M537 222h0M536 228h0M482 209h0M502 272h0M528 215h0M552 256h0M512 209h0M541 243h0M550 248h0M557 206h0M483 263h0M504 273h0M544 271h0M479 220h0M508 213h0M482 273h0M548 260h0M520 257h0M510 196h0M559 242h0M541 233h0M481 255h0M556 268h0M563 249h0M505 211h0M488 243h0M549 251h0M512 249h0M529 224h0M564 199h0M486 209h0M512 202h0M489 200h0M562 250h0M503 256h0M497 249h0M478 229h0M534 235h0M508 260h0M498 211h0M478 220h0M504 231h0M499 221h0M544 255h0M517 246h0M503 222h0M531 245h0M502 250h0M528 273h0M507 273h0M528 243h0M499 246h0M535 271h0M534 247h0M501 202h0M505 221h0M556 196h0M526 225h0M549 243h0M558 199h0M485 257h0M494 229h0M547 241h0M487 198h0M506 249h0M545 235h0M561 263h0M546 266h0M551 257h0M545 242h0M477 204h0M563 195h0M511 271h0M550 206h0M509 247h0M530 230h0M505 252h0M498 198h0M533 204h0M499 216h0M492 238h0M512 233h0M552 252h0M500 246h0M556 198h0M520 250h0M505 254h0M554 272h0M485 243h0M548 218h0M526 248h0M524 248h0M543 244h0M561 269h0M537 222h0M537 223h0M512 269h0M497 250h0M506 209h0M558 208h0M522 212h0M482 226h0M498 221h0M521 250h0M549 222h0M481 211h0M542 223h0M495 202h0M558 274h0M540 268h0M498 201h0M510 273h0M527 255h0M548 269h0M511 254h0M531 262h0M507 248h0M497 223h0M517 219h0M490 225h0M533 196h0M509 253h0M480 266h0M532 245h0M500 213h0M536 243h0M547 211h0M559 235h0M559 201h0M496 206h0M537 235h0M526 246h0M497 267h0M531 210h0M521 217h0M512 208h0M505 272h0" stroke="#b43c2c" stroke-width="1.6" stroke-linecap="round" fill="none"/>
<path d="M540 233h0M531 256h0M542 216h0M498 204h0M478 248h0M556 272h0M550 248h0M493 240h0M540 253h0M563 272h0M508 256h0M551 211h0M517 274h0M488 250h0M529 263h0M548 224h0M549 242h0M545 220h0M498 213h0M506 256h0M550 230h0M547 260h0M501 267h0M530 243h0M535 260h0M541 261h0M510 211h0M514 212h0M541 211h0M539 223h0M512 268h0M550 219h0M496 243h0M540 231h0M504 234h0M493 193h0M521 252h0M495 206h0M480 218h0M483 205h0M534 229h0M494 198h0M504 260h0M481 247h0M498 203h0M498 256h0M523 260h0M498 215h0M544 249h0M528 195h0M537 245h0M497 219h0M498 261h0M563 197h0M479 260h0M521 212h0M482 195h0M553 199h0M533 223h0M545 261h0M501 271h0M529 266h0M525 271h0M530 244h0M509 242h0M477 197h0M521 239h0M518 251h0M512 206h0M559 270h0M538 215h0M539 270h0M547 194h0M552 205h0M496 251h0M516 205h0M495 270h0M564 244h0M498 237h0M496 202h0M537 258h0M501 243h0M498 198h0M537 204h0M548 266h0M521 272h0M513 230h0M495 240h0M485 203h0M508 194h0M517 224h0M517 249h0M504 193h0M526 258h0M517 225h0M531 221h0M520 273h0M522 261h0M527 244h0M547 201h0M533 270h0M508 273h0M515 227h0M480 230h0M484 194h0M541 249h0M478 270h0M511 205h0M478 253h0M525 270h0M541 223h0M513 255h0M490 193h0M489 220h0M502 214h0M500 227h0M544 274h0M539 274h0M484 261h0M503 274h0M558 218h0M516 208h0M549 223h0M551 239h0M554 220h0M502 195h0M518 258h0M539 202h0M527 265h0M529 223h0M554 195h0M561 258h0M562 213h0M560 205h0M479 245h0M546 262h0M496 217h0M516 240h0M544 270h0M495 266h0M551 251h0M529 252h0M534 267h0M516 199h0M551 272h0M511 246h0M494 257h0M502 209h0M531 269h0M525 248h0M538 249h0M548 207h0M486 200h0M550 206h0M550 211h0M542 244h0M534 221h0M535 227h0M562 261h0M520 211h0M544 253h0M531 215h0M519 270h0M542 245h0M480 228h0M559 257h0M500 244h0M527 268h0M549 256h0M564 256h0M527 201h0M502 201h0M495 255h0M480 196h0M549 239h0M548 213h0M492 245h0M529 258h0M497 195h0M494 208h0M493 206h0M478 242h0M529 216h0M527 272h0M546 229h0M478 227h0M520 268h0M504 221h0M479 226h0M498 214h0M564 206h0M537 226h0M505 195h0M557 212h0M544 215h0M500 273h0M528 266h0M505 197h0M489 230h0M499 201h0M547 273h0M517 208h0M542 225h0M514 268h0M545 242h0M487 198h0M514 272h0M508 254h0M503 229h0M512 233h0M543 208h0M496 208h0M504 245h0M487 195h0M558 210h0M506 227h0M480 206h0M549 251h0M494 215h0M558 212h0M492 249h0M492 237h0M510 209h0M495 212h0M562 232h0M497 237h0M512 266h0M508 194h0M535 249h0M557 256h0M477 237h0M552 225h0M534 254h0M513 230h0M509 255h0M503 245h0M521 234h0M517 259h0M508 255h0M514 240h0M525 250h0M549 206h0M560 221h0M517 250h0M498 246h0M495 248h0M541 265h0M500 212h0M497 194h0M498 194h0M531 251h0M487 260h0M559 263h0M553 238h0M530 222h0M525 261h0M558 270h0M493 263h0M484 228h0M532 213h0M549 269h0M539 252h0M557 218h0M509 273h0M563 224h0M506 200h0M483 254h0M500 253h0M502 210h0M500 272h0M490 202h0M530 229h0M564 216h0M546 206h0M477 247h0M551 239h0M543 238h0M539 236h0M495 273h0M558 274h0M561 228h0M493 224h0M517 216h0M511 194h0M519 209h0M480 206h0M494 226h0M554 200h0M477 262h0M563 197h0M498 244h0M507 205h0M479 219h0M520 218h0M509 273h0M541 236h0M515 273h0M554 263h0M554 201h0M503 255h0M558 209h0M554 209h0M501 201h0M508 204h0M555 262h0M522 252h0M482 202h0M495 265h0M555 263h0M494 244h0M554 272h0M545 267h0M535 268h0M563 274h0M511 217h0M547 235h0M563 212h0M523 251h0M493 245h0M541 259h0M525 243h0M496 267h0M496 234h0M511 221h0M533 270h0M542 210h0M491 254h0M526 268h0M523 255h0M529 263h0M555 225h0M546 269h0M513 257h0M548 267h0M502 271h0M546 204h0M515 248h0M526 226h0M547 225h0M557 271h0M555 264h0M531 266h0M559 274h0M537 211h0M545 220h0M542 201h0M508 210h0M492 232h0M528 245h0M512 254h0M479 207h0M534 232h0M547 229h0M542 236h0M561 198h0M491 248h0M493 234h0M549 213h0M482 227h0M542 268h0M551 211h0M509 240h0M506 232h0M485 197h0M541 243h0M531 218h0M484 203h0M515 232h0M522 238h0M494 231h0M544 195h0M507 263h0M552 204h0M525 216h0M494 257h0M482 203h0M532 264h0M494 218h0M530 273h0M525 217h0M543 230h0M541 226h0M534 255h0M483 235h0M538 262h0M564 204h0M563 207h0M531 217h0M539 199h0M553 219h0M488 256h0M532 267h0M541 207h0M535 220h0M555 266h0M564 271h0M557 203h0M531 212h0M556 262h0M500 258h0M542 255h0M483 258h0M541 241h0M528 210h0M479 230h0M558 261h0M522 230h0M525 255h0M564 262h0M561 203h0M532 205h0M546 207h0M489 254h0M541 218h0M523 221h0M510 258h0M497 214h0M520 264h0M507 206h0M536 263h0M487 225h0M550 204h0M536 258h0M561 222h0M499 238h0M556 270h0M520 229h0M477 241h0M498 236h0M497 193h0M476 246h0M550 262h0M517 256h0M498 194h0M554 253h0M489 244h0M523 217h0M558 207h0M541 244h0M493 250h0M530 218h0M517 265h0M509 255h0M564 204h0M503 231h0M556 274h0M490 208h0M532 211h0M552 244h0M481 194h0M523 267h0M498 249h0M536 247h0M552 198h0M490 257h0M483 202h0M523 203h0M490 252h0M562 258h0M515 273h0M562 203h0M497 250h0M529 242h0M518 217h0M496 252h0M558 253h0M503 209h0M493 208h0M485 251h0M477 225h0M499 220h0M531 222h0M552 265h0M533 218h0M500 271h0M485 234h0M558 203h0M526 205h0M546 223h0M536 253h0M544 266h0M557 265h0M479 264h0M492 216h0M510 210h0M491 257h0M534 263h0M477 222h0M482 237h0M563 203h0M548 215h0M530 220h0M513 275h0M478 239h0M551 243h0M554 265h0M498 264h0M495 249h0M493 255h0M529 273h0M506 232h0M486 210h0M480 216h0M538 238h0M520 222h0M510 253h0M552 258h0M481 249h0M522 206h0M523 251h0M551 269h0M545 260h0M501 206h0M536 271h0M507 270h0M549 215h0M492 196h0M545 238h0M515 250h0M497 203h0M523 259h0M505 202h0M525 266h0M480 219h0M487 196h0M494 223h0M554 218h0M535 237h0M561 207h0M514 274h0M534 207h0M505 229h0M536 250h0M505 213h0M530 258h0M510 218h0M478 230h0M564 243h0M491 210h0M479 221h0M550 251h0M555 245h0M561 201h0M503 248h0M485 216h0M557 201h0M540 253h0M563 254h0M542 263h0M529 219h0M562 274h0M512 272h0M564 225h0M511 226h0M497 275h0M519 246h0M560 222h0M507 244h0M558 210h0M492 273h0M476 235h0M509 199h0M523 256h0M503 269h0M553 212h0M512 243h0M519 214h0M512 261h0M509 238h0M503 197h0M564 199h0M559 238h0M524 273h0M522 254h0M483 204h0M526 256h0M532 261h0M542 230h0M524 272h0M555 230h0M519 208h0M508 221h0M480 236h0M553 261h0M543 211h0M510 268h0M488 209h0M544 253h0M539 225h0M510 206h0M512 228h0M498 260h0M536 229h0M478 219h0M482 253h0M513 269h0M503 202h0M509 262h0M535 261h0M534 231h0M543 242h0M549 253h0M546 270h0M498 229h0M538 232h0M509 219h0M511 263h0M529 263h0M498 225h0M488 208h0M506 222h0M506 244h0M545 201h0M485 225h0M492 203h0M488 269h0M529 223h0M485 223h0M539 216h0M486 218h0M494 241h0M519 245h0M556 205h0M482 269h0M484 222h0M496 230h0M538 261h0M526 271h0M541 244h0M489 260h0M476 205h0M516 211h0M520 211h0M521 199h0M552 245h0M516 255h0M510 221h0M478 259h0M522 263h0M533 269h0M564 254h0M511 251h0M498 261h0M505 262h0M485 233h0M492 238h0M554 253h0M496 209h0M510 240h0M536 234h0M532 235h0M538 216h0M506 223h0M485 211h0M503 219h0M486 206h0M476 250h0M535 256h0M491 231h0M564 271h0M539 211h0M510 254h0M538 244h0M518 217h0M502 196h0M537 241h0M477 252h0M504 234h0M501 217h0M488 273h0M490 242h0M491 208h0M502 234h0M503 273h0M497 208h0M506 215h0M514 221h0M493 201h0M496 212h0M500 206h0M489 215h0M531 220h0M549 219h0M555 245h0M479 255h0M482 228h0M490 256h0M490 197h0M510 272h0M482 197h0M511 253h0M495 237h0M483 247h0M515 258h0M555 221h0M507 270h0M559 220h0M516 227h0M482 202h0M487 230h0M502 217h0M509 248h0M477 228h0M483 244h0M486 196h0M514 246h0M542 252h0M477 243h0M491 237h0M511 262h0M512 228h0M496 216h0M497 228h0M547 221h0M503 247h0M541 242h0M504 265h0M550 258h0M563 203h0M562 212h0M495 227h0M551 200h0M496 229h0M555 259h0M523 227h0M538 261h0M497 234h0M529 230h0M554 269h0M505 247h0M521 221h0M526 247h0M502 235h0M512 254h0M539 224h0M503 204h0M534 213h0M550 239h0M530 229h0M535 264h0M510 235h0M514 216h0M506 250h0M490 243h0M490 232h0M551 222h0M478 238h0M529 270h0M557 204h0M529 269h0M495 200h0M546 210h0M508 206h0M539 229h0M533 226h0M517 248h0M487 208h0M531 261h0M541 260h0M555 234h0M536 242h0M522 262h0M491 217h0M506 236h0M480 225h0M523 245h0M506 205h0M479 207h0M560 223h0M536 222h0M491 224h0M564 215h0M492 247h0M476 211h0M480 235h0M503 242h0M554 245h0M533 256h0M549 193h0M550 240h0M544 221h0M515 267h0M533 241h0M489 197h0M518 244h0M557 222h0M546 246h0M550 238h0M481 249h0M496 198h0M527 264h0M498 234h0M493 205h0M484 264h0M480 224h0M516 230h0M505 228h0M492 249h0M502 209h0M504 253h0M546 249h0M534 248h0M506 274h0M487 212h0M513 211h0M495 201h0M525 260h0M477 204h0M530 216h0M482 255h0M525 256h0M480 218h0M538 224h0M544 273h0M537 206h0M503 246h0M550 243h0M502 270h0M520 253h0M505 219h0M539 218h0M539 223h0M559 224h0M534 246h0M534 275h0M510 228h0M550 259h0M563 211h0M552 227h0M539 261h0M536 226h0M481 261h0M513 233h0M527 251h0M529 247h0M499 205h0M551 202h0M520 269h0M511 218h0M508 208h0M494 200h0M536 269h0M497 253h0M514 241h0M479 217h0M552 217h0M559 216h0M501 198h0M488 247h0M513 229h0M509 234h0M554 262h0M480 220h0M554 208h0M502 206h0M489 249h0M488 206h0M490 237h0M502 196h0M484 247h0M480 195h0M552 265h0M536 220h0M477 253h0M545 219h0M515 222h0M480 195h0M500 252h0M536 194h0M483 194h0M481 211h0M510 233h0M495 228h0M534 256h0M506 249h0M535 228h0M537 271h0M503 234h0M496 226h0M498 266h0M492 208h0M549 263h0M523 234h0M506 242h0M533 245h0M497 257h0M488 269h0M514 261h0M553 269h0M499 196h0M517 209h0M510 243h0M484 227h0M561 206h0M550 194h0M549 195h0M490 223h0M481 202h0M543 268h0M498 234h0" stroke="#dc6858" stroke-width="1.6" stroke-linecap="round" fill="none"/>
<path d="M498 210h0M543 264h0M545 252h0M535 249h0M519 239h0M506 236h0M516 216h0M557 203h0M532 240h0M535 226h0M541 267h0M504 227h0M536 239h0M493 239h0M478 229h0M501 263h0M514 215h0M548 264h0M497 250h0M525 220h0M538 257h0M548 212h0M486 204h0M525 249h0M556 203h0M560 270h0M537 239h0M554 216h0M505 227h0M484 196h0M554 253h0M533 219h0M496 223h0M482 201h0M478 217h0M564 269h0M518 273h0M528 251h0M500 233h0M562 270h0M494 213h0M513 196h0M545 207h0M506 261h0M502 253h0M506 199h0M557 220h0M556 225h0M553 239h0M535 252h0M559 201h0M506 215h0M496 267h0M511 224h0M546 206h0M536 250h0M536 254h0M524 195h0M559 251h0M510 200h0M526 217h0M561 250h0M511 265h0M544 270h0M485 243h0M485 222h0M476 195h0M507 267h0M538 264h0M512 266h0M542 259h0M563 197h0M499 227h0M482 214h0M517 239h0M484 218h0M509 221h0M501 203h0M491 235h0M506 274h0M561 220h0M497 234h0M529 257h0M555 272h0M530 235h0M550 265h0M515 222h0M493 228h0M540 212h0M556 274h0M492 211h0M507 208h0M530 194h0M487 212h0M511 261h0M525 271h0M545 238h0M495 218h0M531 255h0M545 275h0M544 214h0M490 193h0M543 224h0M480 221h0M477 198h0M557 263h0M480 218h0M547 215h0M498 200h0M480 270h0M490 204h0M510 223h0M539 223h0M495 199h0M557 210h0M522 207h0M549 261h0M509 273h0M477 215h0M554 244h0M517 204h0M499 272h0M496 216h0M502 210h0M493 265h0M514 271h0M529 242h0M507 213h0M548 222h0M486 213h0M522 266h0M488 205h0M487 239h0M548 266h0M502 195h0M516 265h0M552 222h0M513 225h0M500 267h0M515 209h0M501 210h0M515 221h0M533 269h0M517 203h0M509 218h0M478 217h0M483 248h0M555 208h0M516 263h0M539 275h0M542 270h0M508 217h0M549 233h0M523 231h0M562 206h0M478 234h0M506 274h0M510 261h0M543 260h0M516 275h0M518 209h0M537 230h0M509 270h0M515 253h0M542 216h0M507 206h0M535 233h0M558 262h0M514 264h0M531 218h0M515 272h0M553 216h0M561 256h0M492 241h0M518 272h0M563 260h0M562 260h0M549 228h0M529 218h0M520 216h0M479 233h0M555 249h0M505 273h0M480 229h0M555 209h0M494 268h0M490 214h0M534 252h0M476 248h0M522 266h0M508 198h0M485 222h0M549 274h0M529 226h0M559 210h0M537 264h0M562 274h0M477 251h0M514 207h0M529 226h0M479 229h0M529 264h0M496 197h0M515 219h0M557 213h0M499 204h0M532 267h0M529 220h0M477 259h0M476 247h0M562 253h0M528 261h0M495 231h0M531 231h0M528 261h0M484 239h0M491 245h0M508 233h0M514 262h0M555 216h0M482 259h0M553 210h0M533 244h0M526 269h0M497 229h0M554 218h0M509 250h0M537 243h0M549 216h0M560 195h0M559 218h0M560 257h0M497 237h0M487 251h0M482 240h0M481 244h0M531 241h0M552 217h0M523 212h0M509 213h0M524 206h0M486 242h0M510 227h0M502 198h0" stroke="#dc6858" stroke-width="2.6" stroke-linecap="round" fill="none"/>
<path d="M486 223h0M516 241h0M485 250h0M543 227h0M534 221h0M477 210h0M498 214h0M503 270h0M557 219h0M561 242h0M536 258h0M506 274h0M552 247h0M506 265h0M561 212h0M498 207h0M481 244h0M557 195h0M548 197h0M529 255h0M527 248h0M510 242h0M495 259h0M512 210h0M477 251h0M501 263h0M525 213h0M524 216h0M493 252h0M502 267h0M539 248h0M481 210h0M532 264h0M539 254h0M505 267h0M499 212h0M498 206h0M499 271h0M540 275h0M504 253h0M557 225h0M501 212h0M505 200h0M509 271h0M548 219h0M516 268h0M507 221h0M488 242h0M493 234h0M551 221h0M489 211h0M563 254h0M491 224h0M539 216h0M547 274h0M540 205h0M488 194h0M536 257h0M532 249h0M533 243h0M519 253h0M534 227h0M497 197h0M483 245h0M505 194h0M537 214h0M506 241h0M554 262h0M548 243h0M558 228h0M513 252h0M480 218h0M558 250h0M528 203h0M520 210h0M504 232h0M478 223h0M503 230h0M529 262h0M528 273h0M542 241h0M526 256h0M486 197h0M518 202h0M487 218h0M538 246h0M558 263h0M477 258h0M484 229h0M483 212h0M559 199h0M547 200h0M540 264h0M513 219h0M519 244h0M539 234h0M491 236h0M535 222h0M548 220h0M550 249h0M538 253h0M522 272h0M533 236h0M506 224h0M564 210h0M519 218h0M516 215h0M491 261h0M479 264h0M557 205h0M541 212h0M488 247h0M511 201h0M509 230h0M539 214h0M492 198h0M524 272h0M515 207h0M497 266h0M548 261h0M491 238h0M539 213h0M504 244h0M535 246h0M497 204h0M500 194h0M528 228h0M506 272h0M550 267h0M539 266h0M488 207h0M552 251h0M483 231h0M517 233h0M487 252h0M496 268h0M500 275h0M503 241h0" stroke="#b43c2c" stroke-width="2.6" stroke-linecap="round" fill="none"/>
<path d="M536 218h0M539 217h0M519 217h0M541 245h0M511 274h0M509 273h0M485 247h0M548 271h0M538 248h0M554 254h0M500 259h0M508 228h0M562 245h0M485 205h0M512 233h0M513 250h0M528 255h0M503 216h0M554 255h0M564 196h0M562 267h0M508 251h0M532 222h0M510 209h0M519 253h0M493 226h0M563 273h0M512 198h0M489 199h0M540 264h0M490 251h0M560 256h0M508 236h0M477 243h0M507 268h0M507 265h0M512 196h0M523 208h0M520 255h0M490 239h0M507 200h0M541 230h0M536 269h0M529 217h0M492 218h0M521 243h0M481 202h0M531 250h0M508 223h0M526 269h0M497 263h0M530 219h0M481 233h0M541 271h0M553 247h0M545 275h0M519 238h0M523 254h0M540 217h0M487 210h0M485 203h0M494 197h0M495 231h0M503 266h0M491 194h0M530 258h0M506 216h0M520 227h0M525 275h0M485 255h0M516 235h0M540 227h0M517 244h0M496 244h0M507 208h0M560 195h0M524 244h0M550 205h0M539 219h0M545 234h0M483 212h0M508 242h0M513 225h0M559 255h0M498 212h0M529 213h0M484 212h0M490 233h0M484 200h0M488 230h0M504 212h0M517 233h0M482 200h0M476 230h0M553 219h0M487 204h0M538 221h0M546 194h0M540 209h0M525 274h0M480 264h0M548 266h0M496 252h0M529 217h0M538 260h0M548 232h0M539 231h0M496 257h0M527 218h0M497 270h0M541 219h0M531 245h0M525 242h0M496 194h0M539 220h0M488 240h0M495 223h0M550 211h0M515 244h0M544 248h0M484 254h0M492 245h0M504 239h0M502 269h0M546 267h0M545 193h0M534 253h0M505 222h0M485 197h0M533 264h0M501 237h0M482 197h0M490 214h0M488 249h0M562 255h0M550 213h0M506 265h0M511 229h0M484 238h0M520 260h0M554 260h0M481 232h0M564 206h0M514 272h0M560 266h0M534 196h0M502 206h0M551 223h0M550 213h0M546 228h0M553 272h0M504 219h0M559 223h0M534 225h0M495 227h0M490 233h0M499 212h0M496 215h0M503 218h0M502 224h0M562 257h0M536 249h0M564 198h0M509 198h0M479 221h0M478 207h0M539 258h0M562 207h0M498 227h0M478 218h0M476 214h0M552 229h0M502 255h0M492 199h0M511 211h0M564 272h0M550 259h0M511 270h0M562 248h0M528 218h0M490 225h0M545 264h0M542 218h0M512 245h0M557 270h0M545 213h0M544 249h0M523 221h0M512 243h0M533 254h0M563 215h0M549 212h0M516 229h0M553 268h0M552 215h0M496 239h0M552 208h0M541 226h0M493 213h0M491 194h0M548 197h0M505 219h0M536 224h0M516 211h0M555 262h0M485 230h0M535 216h0M537 260h0M477 225h0M485 228h0M499 204h0M490 216h0M490 251h0M499 213h0M495 260h0M512 208h0M525 221h0M480 240h0M540 218h0M527 254h0M522 259h0M531 217h0M536 262h0M552 225h0M533 230h0M534 235h0M505 232h0M495 245h0M477 206h0M524 244h0M543 248h0M481 225h0M536 265h0M486 248h0M546 264h0M521 260h0M543 224h0M559 208h0M534 266h0M546 224h0M528 250h0M554 261h0M505 240h0M487 227h0M556 210h0M487 230h0M558 247h0M551 241h0M485 246h0M524 240h0M481 272h0M505 200h0M534 262h0M536 264h0" stroke="#f8ece4" stroke-width="2.6" stroke-linecap="round" fill="none"/>
<path d="M542 214.5l-7.2 -3.8l0.5 5.2z" fill="#000"/>
</g>
<rect x="477" y="194" width="86.5" height="80" fill="none" stroke="#333" stroke-width="1"/>
<clipPath id="cp13"><rect x="566.4" y="194" width="86.6" height="80"/></clipPath>
<g clip-path="url(#cp13)">
<rect x="566.4" y="194" width="86.6" height="80" fill="#c4c3c4"/>
<path d="M586 238h0M582 252h0M620 245h0M647 243h0M609 206h0M599 200h0M569 266h0M627 231h0M627 270h0M644 206h0M583 240h0M627 251h0M649 221h0M634 222h0M578 226h0M599 238h0M590 247h0M629 223h0M602 251h0M591 263h0M627 247h0M647 221h0M640 198h0M569 254h0M583 257h0M588 197h0M571 260h0M583 268h0M631 250h0M653 231h0M570 272h0M570 243h0M612 256h0M576 265h0M607 204h0M596 202h0M600 237h0M567 207h0M615 225h0M615 219h0M589 210h0M651 208h0M628 255h0M567 244h0M570 248h0M626 212h0M584 201h0M644 239h0M608 224h0M621 235h0M596 211h0M588 237h0M583 222h0M643 273h0M604 251h0M582 225h0M623 231h0M569 215h0M638 223h0M584 252h0M568 258h0M607 255h0M615 233h0M617 244h0M599 214h0M610 230h0M586 223h0M611 250h0M586 273h0M649 252h0M584 265h0M596 195h0M596 265h0M624 261h0M587 224h0M608 238h0M587 261h0M637 239h0M647 267h0M632 242h0M589 246h0M626 253h0M636 210h0M632 271h0M586 242h0M633 236h0M654 222h0M572 263h0M594 272h0M608 223h0M647 217h0M642 251h0M610 252h0M570 272h0M653 196h0M646 217h0M574 263h0M594 198h0M582 262h0M578 268h0M601 243h0M591 201h0M592 229h0M616 231h0M626 238h0M583 227h0M624 227h0M578 254h0M595 264h0M577 256h0M584 202h0M592 256h0M573 263h0M640 226h0M609 234h0M645 252h0M627 245h0M642 222h0M592 268h0M652 205h0M598 216h0M624 257h0M591 220h0M589 259h0M595 227h0M581 201h0M603 196h0M602 209h0M591 234h0M637 238h0M631 256h0M638 218h0M589 212h0M648 253h0M595 212h0M592 220h0M607 233h0M641 265h0M600 240h0M610 254h0M636 233h0M654 213h0M629 254h0M627 257h0M637 210h0M588 198h0M631 245h0M603 212h0M596 203h0M616 248h0M596 238h0M632 216h0M587 265h0M609 268h0M647 231h0M599 227h0M615 248h0M643 208h0M593 194h0M621 207h0M620 232h0M570 269h0M584 224h0M578 254h0M569 215h0M605 222h0M571 268h0M568 270h0M570 220h0M623 257h0M649 258h0M575 266h0M611 222h0M577 226h0M583 211h0M580 235h0M585 194h0M579 256h0M596 220h0M618 251h0M604 245h0M611 242h0M604 256h0M648 204h0M578 221h0M627 228h0M592 234h0M609 237h0M616 194h0M625 230h0M609 239h0M586 254h0M615 260h0M595 252h0M648 207h0M599 216h0M613 242h0M571 209h0M598 217h0M620 270h0M626 255h0M595 222h0M616 230h0M590 207h0M636 204h0M628 261h0M621 259h0M632 240h0M598 252h0M649 250h0M650 229h0M567 265h0M606 273h0M581 251h0M608 194h0M573 268h0M583 269h0M570 244h0M614 257h0M611 263h0M614 225h0M577 224h0M566 251h0M652 234h0M630 243h0M604 212h0M609 220h0M624 214h0M642 263h0M583 213h0M625 251h0M604 244h0M647 215h0M641 247h0M571 201h0M616 253h0M634 274h0M635 254h0M651 208h0M647 232h0M574 238h0M626 251h0M650 202h0M616 205h0M635 223h0M583 273h0M585 232h0M614 258h0M617 253h0M647 261h0M618 234h0M594 250h0M649 199h0M618 223h0M568 254h0M583 269h0M579 272h0M625 253h0M574 210h0M598 269h0M611 217h0M586 258h0M575 208h0M637 261h0M600 223h0M628 232h0M577 202h0M636 263h0M609 271h0M598 212h0M642 252h0M645 224h0M627 252h0M627 233h0M605 265h0M575 193h0M590 245h0M613 260h0M593 275h0M653 244h0M583 246h0M605 242h0M600 221h0M603 242h0M591 209h0M573 250h0M609 249h0M591 210h0M580 221h0M611 231h0M597 241h0M617 229h0M594 253h0M571 205h0M571 210h0M611 222h0M628 264h0M571 217h0M649 205h0M571 233h0M580 227h0M604 225h0M609 244h0M575 216h0M577 272h0M648 216h0M616 210h0M624 214h0M594 208h0M573 263h0M603 248h0M619 195h0M610 242h0M568 198h0M583 253h0M611 225h0M573 217h0M596 214h0M586 249h0M627 274h0M568 216h0M568 229h0M645 204h0M576 214h0M567 218h0M628 245h0M634 202h0M643 212h0M644 256h0M613 233h0M597 251h0M587 215h0M621 244h0M609 243h0M579 214h0M599 263h0M573 244h0M623 241h0M575 200h0M626 258h0M567 262h0M571 213h0M582 257h0M643 218h0M642 261h0M573 262h0M601 232h0M641 244h0M650 214h0M642 244h0M604 251h0M617 225h0M579 267h0M578 262h0M630 232h0M613 195h0M578 206h0M592 250h0M650 198h0M620 225h0M622 244h0M569 260h0M653 223h0M633 260h0M618 246h0M593 240h0M640 271h0M631 236h0M577 204h0M639 271h0M574 209h0M643 220h0M643 218h0M628 230h0M649 228h0M611 235h0M627 261h0M571 226h0M637 213h0M649 225h0M588 247h0M577 232h0M576 246h0M648 212h0M566 252h0M595 198h0M573 243h0M617 235h0M648 266h0M593 268h0M654 221h0M645 267h0M607 248h0M597 207h0M575 215h0M630 248h0M616 252h0M583 245h0M641 264h0M569 273h0M585 240h0M645 202h0M620 229h0M608 244h0M649 243h0M591 241h0M651 226h0M616 210h0M632 254h0M653 222h0M589 219h0M583 241h0M576 228h0M574 219h0M603 240h0M572 258h0M633 240h0M575 219h0M567 225h0M577 270h0M581 237h0M647 212h0M579 263h0M640 272h0M583 272h0M635 221h0M640 255h0M600 248h0M620 268h0M636 242h0M594 242h0M597 254h0M624 263h0M589 204h0M572 275h0M650 207h0M649 227h0M584 248h0M600 250h0M589 261h0M646 211h0M614 201h0M587 248h0M586 198h0M584 250h0M572 193h0M614 232h0M582 244h0M584 266h0M627 269h0M625 262h0M575 240h0M611 235h0M572 203h0M600 195h0M606 245h0M603 242h0M609 257h0" stroke="#f6ece8" stroke-width="1.6" stroke-linecap="round" fill="none"/>
<path d="M612 254h0M616 237h0M636 227h0M592 242h0M585 259h0M622 259h0M624 236h0M641 273h0M587 195h0M576 266h0M603 232h0M569 197h0M597 209h0M641 236h0M587 209h0M595 229h0M623 246h0M640 202h0M570 223h0M608 202h0M566 210h0M621 221h0M573 207h0M604 229h0M630 220h0M611 234h0M567 266h0M585 271h0M635 273h0M639 238h0M621 217h0M605 272h0M594 225h0M597 268h0M601 237h0M640 207h0M587 229h0M582 261h0M574 273h0M641 254h0M593 255h0M598 211h0M578 219h0M609 241h0M633 228h0M625 243h0M626 227h0M597 197h0M629 244h0M586 227h0M618 217h0M600 231h0M583 221h0M587 208h0M571 239h0M600 273h0M632 260h0M643 221h0M628 275h0M595 239h0M651 219h0M610 222h0M642 216h0M600 236h0M593 274h0M598 237h0M586 275h0M589 218h0M569 250h0M631 213h0M653 255h0M604 246h0M604 253h0M610 195h0M625 265h0M605 256h0M615 228h0M638 244h0M636 245h0M617 233h0M612 251h0M617 233h0M651 259h0M611 233h0M621 250h0M594 234h0M639 230h0M579 268h0M612 241h0M648 215h0M625 251h0M646 228h0M650 226h0M621 230h0M585 259h0M607 235h0M620 261h0M567 254h0M581 263h0M579 223h0M614 240h0M569 263h0M628 206h0M619 209h0M645 246h0M631 248h0M597 256h0M590 247h0M574 245h0M604 223h0M628 224h0M625 265h0M581 204h0M640 222h0M605 247h0M596 230h0M610 194h0M623 197h0M598 230h0M584 247h0M588 195h0M604 260h0M583 222h0M607 243h0M639 197h0M628 240h0M597 203h0M599 222h0M616 234h0M647 215h0M608 244h0M619 226h0M599 236h0M627 206h0M592 215h0M636 207h0M620 241h0M652 253h0M628 209h0M653 210h0M619 234h0M620 226h0M584 201h0M575 267h0M647 228h0M584 196h0M607 257h0M598 240h0M583 262h0M614 226h0M593 250h0M644 272h0M644 215h0M582 260h0M617 250h0M603 246h0M640 262h0M648 252h0M575 261h0M645 202h0M577 204h0M589 248h0M614 235h0M597 256h0M604 200h0M588 196h0M649 265h0M569 214h0M587 273h0M571 269h0M585 262h0M637 216h0M616 222h0M577 262h0M623 270h0M653 229h0M581 257h0M650 217h0M638 226h0M590 271h0M634 242h0M589 233h0M590 232h0M635 237h0M615 222h0M569 199h0M645 226h0M587 274h0M629 232h0M642 206h0M625 222h0M606 217h0M567 256h0M643 259h0M569 221h0M642 203h0M574 271h0M595 202h0M596 224h0M653 198h0M614 255h0M612 233h0M589 253h0M602 234h0M607 228h0M581 234h0M570 249h0M652 218h0M599 266h0M586 265h0M620 238h0M600 220h0M627 242h0M569 195h0M600 208h0M600 233h0M610 241h0M590 235h0M617 269h0M568 203h0M649 255h0M637 253h0M636 231h0M615 235h0M606 242h0M588 254h0M602 200h0M618 251h0M575 193h0M641 203h0M634 234h0M594 264h0M611 216h0M619 233h0M592 211h0M573 238h0M646 263h0M615 213h0M595 236h0M578 269h0M621 243h0M574 213h0M597 242h0M568 196h0M650 264h0M626 246h0M582 259h0M628 247h0M569 266h0M603 228h0M592 243h0M637 251h0M602 268h0M648 206h0M630 228h0M588 260h0M603 210h0M587 235h0M629 239h0M582 242h0M618 250h0M651 200h0M622 232h0M599 251h0M588 240h0M615 255h0M589 244h0M611 258h0M598 258h0M567 270h0M607 219h0M576 233h0M573 238h0M575 242h0M594 220h0M566 273h0M642 223h0M604 274h0M648 208h0M589 236h0M576 227h0M598 248h0M639 215h0M604 249h0M591 245h0M602 242h0M648 258h0M619 251h0M575 245h0M626 253h0M632 269h0M645 201h0M652 254h0M633 193h0M595 256h0M649 204h0M615 235h0M569 207h0M567 270h0M650 235h0M631 266h0M575 264h0M603 228h0M569 214h0M576 270h0M647 258h0M619 213h0M573 260h0M651 193h0M617 223h0M573 205h0M573 269h0M645 240h0M566 270h0M651 228h0M610 212h0M586 196h0M573 273h0M579 273h0M617 265h0M637 223h0M626 206h0M637 235h0M648 251h0M592 201h0M652 193h0M592 274h0M607 260h0M591 205h0M635 238h0M596 222h0M624 236h0M617 248h0M576 251h0M566 274h0M638 262h0M569 236h0M634 240h0M576 273h0M633 221h0M590 197h0M627 257h0M582 254h0M606 257h0M591 260h0M585 228h0M582 208h0M626 249h0M596 260h0M573 197h0M622 254h0M588 265h0M605 254h0M624 227h0M614 248h0M582 208h0M597 237h0M573 227h0M637 251h0M584 250h0M596 269h0M582 271h0M612 252h0M583 197h0M565 239h0M593 228h0M651 198h0M598 271h0M614 239h0M579 250h0M604 243h0M572 272h0M567 273h0M641 201h0M649 262h0M601 196h0M624 244h0M609 207h0M609 215h0M597 200h0M571 207h0M611 262h0M639 208h0M570 228h0M646 217h0M583 235h0M585 272h0M591 261h0M609 218h0M640 273h0M634 252h0M612 242h0M566 265h0M600 216h0M571 248h0M576 201h0M600 272h0M644 260h0M592 262h0M570 245h0M636 233h0M632 239h0M637 237h0M600 239h0M583 197h0M594 249h0M585 255h0M645 235h0M566 200h0M596 206h0M614 219h0M630 223h0M629 274h0M589 257h0M617 224h0M604 230h0M605 264h0M612 246h0M591 194h0M605 216h0M634 221h0M641 220h0M628 205h0M645 240h0M639 205h0M592 207h0M584 237h0M567 232h0M651 218h0M605 212h0M575 197h0M585 215h0M576 257h0M616 246h0M646 264h0M647 195h0M613 252h0M638 210h0M597 217h0M578 208h0M609 233h0M577 254h0M598 222h0M653 216h0M638 269h0M607 251h0M634 239h0M599 194h0M575 229h0M619 233h0M620 239h0M615 254h0M626 233h0M570 274h0M597 254h0M586 197h0M599 245h0M595 241h0M578 265h0M597 253h0M573 275h0M592 205h0M567 271h0M581 216h0M590 236h0M577 263h0M609 249h0M619 235h0M566 262h0M568 219h0M620 237h0M633 252h0M629 263h0M584 251h0M606 194h0M575 245h0M638 210h0M570 261h0M646 246h0M579 260h0M607 228h0M646 236h0M622 253h0M588 233h0M594 261h0M651 218h0M631 257h0M587 223h0M589 210h0M571 267h0M584 225h0M592 229h0M588 253h0M568 259h0M593 236h0M584 241h0M646 211h0M629 241h0M594 241h0M576 218h0M579 194h0M584 269h0M572 194h0M577 235h0M616 249h0M576 272h0M569 197h0M586 265h0M625 257h0M587 258h0M597 258h0M587 249h0M617 260h0M571 272h0M650 200h0M566 217h0M616 235h0M584 256h0M642 234h0M650 249h0M581 261h0M625 250h0M638 230h0M595 229h0M628 251h0M569 219h0M651 216h0M644 255h0M608 229h0M626 240h0M606 246h0M612 261h0M576 198h0M650 193h0M583 196h0M647 223h0M585 254h0M625 264h0M590 212h0M601 247h0M603 253h0M594 202h0M590 199h0M615 232h0M593 244h0M590 250h0M572 215h0M591 251h0M648 263h0M573 221h0M610 273h0M603 243h0M588 236h0M613 206h0M630 237h0M571 234h0M601 235h0M626 250h0M572 215h0M646 201h0M605 254h0M647 217h0M643 245h0M607 226h0M582 220h0M588 199h0M602 207h0M588 209h0M580 195h0M649 254h0M570 225h0M653 240h0M612 211h0M583 264h0M596 268h0M596 223h0M570 212h0M610 239h0M626 244h0M596 193h0M566 213h0M634 210h0M599 204h0M616 241h0M576 257h0M586 198h0M611 205h0M566 249h0M651 270h0M569 269h0M649 205h0M614 245h0" stroke="#d45a50" stroke-width="1.6" stroke-linecap="round" fill="none"/>
<path d="M568 264h0M651 267h0M569 243h0M585 240h0M645 240h0M588 264h0M611 252h0M629 263h0M593 207h0M584 237h0M645 271h0M637 230h0M637 213h0M581 274h0M581 244h0M615 245h0M589 203h0M570 234h0M577 253h0M578 194h0M597 234h0M634 261h0M647 244h0M640 275h0M604 233h0M633 216h0M566 209h0M602 211h0M641 208h0M610 206h0M588 195h0M588 249h0M636 260h0M587 262h0M642 213h0M636 199h0M619 246h0M641 249h0M643 228h0M595 245h0M612 195h0M616 194h0M596 233h0M612 218h0M610 251h0M642 266h0M625 259h0M604 243h0M588 212h0M636 249h0M610 242h0M618 250h0M618 261h0M573 269h0M617 245h0M651 244h0M599 259h0M597 208h0M633 258h0M624 270h0M566 241h0M578 264h0M568 262h0M631 229h0M608 231h0M638 217h0M622 224h0M653 207h0M629 240h0M627 258h0M586 260h0M630 205h0M603 209h0M604 247h0M629 226h0M619 194h0M598 212h0M567 264h0M568 265h0M622 230h0M586 233h0M619 228h0M627 273h0M612 257h0M614 229h0M599 232h0M590 214h0M598 224h0M581 271h0M583 203h0M590 194h0M605 249h0M615 218h0M575 198h0M639 239h0M586 248h0M581 219h0M596 246h0M609 250h0M617 199h0M601 223h0M600 221h0M601 223h0M600 194h0M627 234h0M616 272h0M570 270h0M584 273h0M581 205h0M624 254h0M591 257h0M609 215h0M591 234h0M639 247h0M603 245h0M644 210h0M614 252h0M631 218h0M639 199h0M641 264h0M573 195h0M585 214h0M610 219h0M588 228h0M609 225h0M570 264h0M624 239h0M605 197h0M641 250h0M607 222h0M597 261h0M623 250h0M602 197h0M581 211h0M621 237h0M604 233h0M642 204h0M608 261h0M613 226h0M601 194h0M569 266h0M635 227h0M648 207h0M600 226h0M589 246h0M633 233h0M620 261h0M608 233h0M613 231h0M577 233h0M581 203h0M578 265h0M616 274h0M568 241h0M609 235h0M592 265h0M629 239h0M620 229h0M604 232h0M573 208h0M634 248h0M625 254h0M635 249h0M570 221h0M584 272h0M587 208h0M625 250h0M597 232h0M583 256h0M595 241h0M598 258h0M584 243h0M642 225h0M584 253h0M626 273h0M635 225h0M591 249h0M610 236h0M589 267h0M614 209h0M632 249h0M653 233h0M646 265h0M601 224h0M639 248h0M624 240h0M645 240h0M581 245h0M617 251h0M623 271h0M615 255h0M650 222h0M623 234h0M584 266h0M652 267h0M579 253h0M609 251h0M594 200h0M647 217h0M638 262h0M636 259h0M653 257h0M581 261h0M649 262h0M643 261h0M586 216h0M571 257h0M653 260h0M582 253h0M610 230h0M596 275h0M618 225h0M601 243h0M646 194h0M612 254h0M628 255h0M569 249h0M572 195h0M609 262h0M607 222h0M641 193h0M572 210h0M578 260h0M633 270h0M616 228h0M571 271h0M576 248h0M600 224h0M619 209h0M569 248h0M620 217h0M569 212h0M565 220h0M647 206h0M583 194h0M566 216h0M611 228h0M603 260h0M567 225h0M633 252h0M608 231h0M599 246h0M650 205h0M602 212h0M638 255h0M591 236h0M609 206h0M610 258h0M605 263h0M597 256h0M646 217h0M596 232h0M611 250h0M585 208h0M569 251h0" stroke="#c04448" stroke-width="1.6" stroke-linecap="round" fill="none"/>
<path d="M574 204h0M569 264h0M589 258h0M576 262h0M642 208h0M651 224h0M644 247h0M616 248h0M588 257h0M577 263h0M600 232h0M619 229h0M592 213h0M620 246h0M624 257h0M580 269h0M621 205h0M638 193h0M571 263h0M587 261h0M582 201h0M638 274h0M589 235h0M597 203h0M606 235h0M605 236h0M573 248h0M600 236h0M604 205h0M585 270h0M582 273h0M643 238h0M652 218h0M594 207h0M597 254h0M593 260h0M652 195h0M580 199h0M607 250h0M640 222h0M648 197h0M595 240h0M568 238h0M579 219h0M584 241h0M637 226h0M617 238h0M648 221h0M573 200h0M568 209h0M570 272h0M638 241h0M648 228h0M604 195h0M632 235h0M648 274h0M641 228h0M629 205h0M617 232h0M593 254h0M585 241h0M592 262h0M637 198h0M620 257h0M585 230h0M652 251h0M653 198h0M605 239h0M574 274h0M596 263h0M594 245h0M643 264h0M623 247h0M653 259h0M608 196h0M640 211h0M584 259h0M575 239h0M627 258h0M651 220h0M605 233h0M613 271h0M631 207h0M607 268h0M570 200h0M578 247h0M600 242h0M607 231h0M638 260h0M627 248h0M623 264h0M653 195h0M575 215h0M597 201h0M594 237h0M618 224h0M613 244h0M647 211h0M603 243h0M602 262h0M647 229h0M593 196h0M608 209h0M589 254h0M597 246h0M573 223h0M594 196h0M620 270h0M631 248h0M575 212h0M639 198h0M573 236h0M575 224h0M609 246h0M573 263h0M575 256h0M648 199h0M617 248h0M587 266h0M634 229h0M622 198h0M647 221h0M596 213h0M591 207h0M626 223h0M635 232h0M640 243h0M571 268h0M653 199h0M590 244h0M603 270h0M569 198h0M578 262h0M636 260h0M575 218h0M595 215h0M624 242h0M632 258h0M600 226h0M571 226h0M586 230h0M632 200h0M652 227h0M601 198h0M596 256h0M600 222h0M585 209h0M625 229h0M620 237h0M644 267h0M577 205h0M636 217h0M586 238h0M574 243h0M653 230h0M648 249h0M638 195h0M593 233h0M581 204h0M617 208h0M611 237h0M589 232h0M602 199h0M585 213h0M589 257h0M652 220h0M637 273h0M615 254h0M594 215h0M622 247h0M572 224h0M633 237h0M645 274h0M639 218h0M643 253h0M587 258h0M633 231h0M585 211h0M620 198h0M569 259h0M650 253h0M567 239h0M596 211h0M586 232h0M611 200h0M571 198h0M600 253h0M639 265h0M606 203h0M632 209h0M569 273h0M611 215h0M567 207h0M605 204h0M586 233h0M619 242h0M574 259h0M650 265h0M566 198h0M603 262h0M600 261h0M628 207h0M605 227h0M582 212h0M581 254h0M612 249h0M595 264h0M599 254h0M632 238h0M629 236h0M648 204h0M603 203h0M623 211h0M570 206h0M642 215h0M570 199h0M615 217h0M574 267h0M566 248h0M651 247h0M583 253h0M598 252h0M637 221h0M621 247h0M599 257h0M608 265h0M602 250h0M600 243h0M606 230h0M618 231h0M566 212h0M569 201h0M624 204h0M618 243h0M619 251h0M634 262h0M567 206h0M566 242h0M620 211h0M583 204h0M622 256h0M575 221h0M641 239h0M649 204h0M634 197h0M587 219h0M614 223h0M588 209h0M621 258h0M596 251h0M653 256h0M586 268h0M653 230h0M569 257h0M647 234h0M581 262h0M594 261h0M627 247h0M637 201h0M652 199h0M636 263h0M600 262h0M574 218h0M583 263h0M574 250h0M591 196h0M645 229h0M615 234h0M604 249h0M637 271h0M584 271h0M622 243h0M581 221h0M639 235h0M647 256h0M637 243h0M623 235h0M654 217h0M612 226h0M634 247h0M637 218h0M609 253h0M649 271h0M603 266h0M571 197h0M620 264h0M601 249h0M608 237h0M631 214h0M637 246h0M609 241h0M617 243h0M607 203h0M644 228h0M576 206h0M594 245h0M596 243h0M648 203h0M634 247h0M611 209h0M603 233h0M641 265h0M645 247h0M650 262h0M627 252h0M627 194h0M643 270h0M611 229h0M613 235h0M598 197h0M579 260h0M597 240h0M627 236h0M598 254h0M589 238h0M567 221h0M622 235h0M620 246h0M632 211h0M574 258h0M620 215h0M585 211h0M584 218h0M579 268h0M639 258h0M583 215h0M638 223h0M591 200h0M618 227h0M581 203h0M622 211h0M583 241h0M597 245h0M588 197h0M607 240h0M625 207h0" stroke="#e8a090" stroke-width="1.6" stroke-linecap="round" fill="none"/>
<path d="M653 215h0M619 196h0M591 240h0M637 261h0M588 264h0M589 268h0M579 195h0M646 265h0M570 229h0M570 206h0M643 274h0M565 266h0M570 233h0M588 238h0M577 275h0M636 218h0M576 223h0M635 222h0M611 218h0M621 236h0M646 253h0M637 264h0M646 272h0M566 222h0M648 265h0M573 218h0M644 196h0M579 222h0M585 243h0M606 259h0M597 228h0M604 268h0M574 197h0M647 221h0M580 266h0M571 229h0M617 197h0M578 259h0M613 227h0M602 197h0M590 229h0M637 237h0M595 256h0M638 223h0M602 208h0M608 261h0M602 222h0M605 238h0M576 270h0M619 251h0M635 220h0M567 270h0M588 208h0M570 248h0M638 224h0M627 259h0M633 268h0M568 225h0M647 219h0M634 214h0M643 266h0M568 218h0M574 251h0M640 256h0M600 196h0M601 248h0M579 209h0M566 225h0M594 247h0M603 226h0M623 243h0M568 248h0M630 269h0M571 223h0M578 245h0M629 252h0M572 208h0M641 210h0M628 221h0M585 207h0M590 214h0M594 223h0M584 208h0M582 238h0M614 208h0M582 209h0M604 261h0M649 209h0M643 205h0M609 235h0M591 230h0M634 250h0M601 256h0M602 225h0M622 222h0M566 259h0M587 247h0M602 197h0M574 202h0M652 264h0M654 243h0M589 245h0M588 251h0M643 213h0M613 235h0M576 202h0M599 275h0M617 213h0M633 228h0M633 266h0M595 270h0M613 246h0M627 254h0M588 226h0M650 201h0M587 235h0M581 196h0M614 207h0M620 228h0M623 256h0M604 262h0M646 211h0M650 267h0M622 236h0" stroke="#f6ece8" stroke-width="2.6" stroke-linecap="round" fill="none"/>
<path d="M647 216h0M585 204h0M575 241h0M647 270h0M582 195h0M643 241h0M587 214h0M614 247h0M631 236h0M583 202h0M617 257h0M597 240h0M588 231h0M649 194h0M572 265h0M650 251h0M627 217h0M569 198h0M610 249h0M613 233h0M635 250h0M597 260h0M570 205h0M569 273h0M566 261h0M636 211h0M604 240h0M634 212h0M573 247h0M566 211h0M577 221h0M600 247h0M616 216h0M587 210h0M649 266h0M603 228h0M587 252h0M625 226h0M642 232h0M596 206h0M592 247h0M640 208h0M592 237h0M624 243h0M628 253h0M619 264h0M614 267h0M620 229h0M605 211h0M649 222h0M607 213h0M597 197h0M599 195h0M574 262h0M586 210h0M636 221h0M654 253h0M597 268h0M654 268h0M654 212h0M616 240h0M653 208h0M617 250h0M588 259h0M638 271h0M625 249h0M648 209h0M578 274h0M638 210h0M634 244h0M627 208h0M600 254h0M622 243h0M583 267h0M637 258h0M610 257h0M605 196h0M586 258h0M639 240h0M643 236h0M607 245h0M634 244h0M628 239h0M624 261h0M637 226h0M639 212h0M615 252h0M636 218h0M607 238h0M587 237h0M576 219h0M645 229h0M615 257h0M608 214h0M650 255h0M603 259h0M577 241h0M625 253h0M598 261h0M572 211h0M583 203h0M600 251h0M608 267h0M624 260h0M587 216h0M589 233h0M614 231h0M609 253h0M630 257h0M594 250h0M603 203h0M588 250h0M620 230h0M649 247h0M588 241h0M651 262h0M602 239h0M573 223h0M607 217h0M587 257h0M574 202h0M635 251h0M597 247h0M627 251h0M575 253h0M604 195h0M593 256h0M565 225h0M584 246h0M582 242h0M566 269h0M602 198h0M631 258h0M585 201h0M581 275h0M575 263h0M603 267h0M596 238h0M590 262h0M613 237h0M605 213h0M573 229h0M646 243h0M566 248h0" stroke="#d45a50" stroke-width="2.6" stroke-linecap="round" fill="none"/>
<path d="M588 218h0M571 217h0M650 197h0M614 233h0M644 212h0M636 257h0M621 243h0M571 257h0M575 224h0M577 226h0M579 262h0M623 222h0M598 204h0M645 273h0M587 270h0M591 195h0M644 260h0M601 265h0M575 264h0M621 222h0M623 194h0M630 212h0M585 198h0M584 275h0M608 239h0M613 245h0M601 245h0M604 265h0M646 243h0M568 213h0M642 236h0M594 261h0M634 240h0M606 197h0M653 259h0M577 238h0M585 206h0M647 208h0M600 228h0M620 260h0M636 258h0M584 234h0M568 210h0M652 269h0M626 233h0M594 235h0M588 214h0M599 196h0M612 257h0M639 258h0M652 214h0M630 252h0M578 224h0M592 229h0M612 243h0M573 211h0M602 212h0M626 256h0M650 250h0M608 224h0M582 215h0M598 226h0M609 214h0M572 257h0M632 264h0M640 245h0" stroke="#c04448" stroke-width="2.6" stroke-linecap="round" fill="none"/>
<path d="M592 248h0M583 257h0M618 263h0M637 217h0M652 213h0M608 237h0M610 232h0M598 220h0M595 205h0M567 248h0M597 194h0M598 232h0M651 217h0M609 226h0M597 231h0M594 224h0M632 263h0M570 194h0M618 257h0M653 214h0M601 256h0M572 195h0M574 243h0M635 226h0M650 199h0M631 217h0M605 235h0M605 259h0M578 255h0M625 253h0M623 226h0M585 252h0M644 232h0M590 267h0M577 274h0M575 263h0M614 237h0M622 272h0M584 260h0M575 202h0M588 221h0M573 208h0M614 250h0M577 212h0M603 247h0M589 205h0M623 275h0M620 235h0M588 263h0M572 220h0M637 236h0M588 258h0M646 239h0M646 199h0M619 255h0M585 252h0M595 225h0M611 241h0M651 212h0M605 272h0M599 227h0M649 238h0M592 251h0M629 240h0M581 198h0M643 267h0M584 204h0M574 233h0M609 256h0M573 266h0M642 196h0M642 266h0M569 213h0M589 208h0M630 227h0M635 228h0M593 262h0M624 253h0M566 210h0M630 239h0M610 230h0M602 259h0M611 238h0M608 217h0M587 274h0" stroke="#e8a090" stroke-width="2.6" stroke-linecap="round" fill="none"/>
<ellipse cx="596.7" cy="271.2" rx="2.8" ry="2.8" transform="rotate(0 596.7 271.2)" fill="#702828" opacity="0.85" filter="url(#sb2)"/>
<ellipse cx="644.6" cy="265" rx="2.3" ry="2.3" transform="rotate(0 644.6 265)" fill="#803030" opacity="0.85" filter="url(#sb2)"/>
<ellipse cx="602" cy="199.7" rx="2.3" ry="2.3" transform="rotate(0 602 199.7)" fill="#a03838" opacity="0.85" filter="url(#sb2)"/>
<ellipse cx="571" cy="195.7" rx="2" ry="2" transform="rotate(0 571 195.7)" fill="#a03838" opacity="0.85" filter="url(#sb2)"/>
<path d="M616.2 211.9l-7.2 -3.8l0.5 5.2z" fill="#000"/>
</g>
<rect x="566.4" y="194" width="86.6" height="80" fill="none" stroke="#333" stroke-width="1"/>
<clipPath id="cp14"><rect x="388.6" y="287.8" width="87.2" height="80.3"/></clipPath>
<g clip-path="url(#cp14)">
<rect x="388.6" y="287.8" width="87.2" height="80.3" fill="#f2efec"/>
<path d="M409 295h0M471 290h0M443 310h0M442 354h0M478 334h0M451 297h0M431 346h0M421 349h0M394 363h0M417 300h0M424 349h0M476 302h0M429 368h0M441 288h0M397 318h0M407 315h0M468 291h0M427 347h0M453 364h0M473 294h0M438 349h0M426 316h0M413 360h0M472 303h0M401 335h0M461 360h0M464 354h0M455 290h0M455 287h0M398 344h0M461 367h0M435 366h0M403 347h0M454 342h0M426 309h0M405 337h0M407 362h0M472 297h0M470 337h0M400 332h0M396 336h0M419 334h0M452 346h0M450 346h0M426 363h0M475 331h0M390 355h0M430 297h0M403 367h0M429 314h0M444 338h0M395 301h0M430 346h0M441 298h0M431 330h0M408 311h0M452 288h0M435 313h0M468 319h0M456 326h0M415 309h0M393 354h0M426 350h0M397 294h0M465 331h0M406 357h0M430 323h0M467 348h0M470 347h0M390 294h0M437 301h0M404 313h0M451 331h0M432 359h0M397 363h0M418 338h0M400 350h0M400 350h0M400 359h0M458 343h0M399 333h0M404 318h0M428 328h0M445 292h0M454 369h0M447 293h0M463 326h0M443 366h0M438 352h0M429 362h0M477 325h0M467 307h0M409 300h0M406 309h0M456 313h0M445 356h0M404 367h0M474 366h0M394 326h0M426 301h0M449 322h0M423 334h0M403 316h0M418 318h0M472 308h0M422 365h0M406 324h0M415 308h0M414 307h0M410 315h0M400 295h0M403 293h0M409 291h0M434 339h0M475 352h0M465 337h0M442 365h0M406 300h0M405 298h0M418 357h0M468 288h0M429 327h0M445 352h0M390 308h0M420 369h0M424 292h0M399 351h0M418 323h0M426 318h0M433 322h0M436 357h0M472 347h0M415 309h0M433 291h0M448 308h0M447 308h0M393 361h0M395 319h0M394 320h0M413 324h0M399 296h0M431 288h0M431 287h0M431 287h0M406 326h0M394 339h0M436 289h0M441 347h0M399 325h0M398 324h0M478 339h0M446 330h0M412 335h0M422 331h0M393 328h0M399 342h0M431 313h0M433 312h0M403 346h0M433 361h0M393 334h0M415 306h0M414 329h0M475 336h0M425 311h0M426 309h0M469 297h0M401 300h0M412 306h0" stroke="#d68c4e" stroke-width="2.8" stroke-linecap="round" fill="none"/>
<path d="M393 330h0M404 323h0M404 321h0M393 367h0M424 361h0M467 363h0M468 365h0M432 320h0M426 345h0M447 360h0M447 359h0M430 358h0M430 360h0M410 357h0M412 358h0M391 330h0M394 351h0M450 305h0M451 305h0M414 345h0M415 344h0M416 343h0M394 356h0M459 341h0M460 344h0M433 290h0M432 288h0M451 304h0M470 290h0M426 298h0M425 297h0M476 334h0M476 333h0M463 344h0M464 344h0M392 367h0M392 365h0M424 319h0M475 315h0M424 320h0M409 338h0M410 338h0M467 312h0M417 362h0M417 360h0M416 362h0M392 297h0M390 298h0M410 309h0M412 309h0M443 322h0M443 324h0M455 314h0M455 315h0M433 344h0M432 345h0M432 311h0M433 312h0M458 356h0M456 353h0M456 353h0M456 352h0M395 358h0M419 341h0M419 342h0M412 302h0M427 322h0M428 325h0M429 323h0M459 358h0M388 318h0M444 362h0M445 361h0M405 365h0M394 323h0M395 323h0M470 308h0M423 357h0M412 367h0M443 320h0M442 319h0M433 319h0M475 355h0M420 290h0M393 291h0M436 294h0M395 295h0M393 296h0M393 296h0M470 335h0M470 334h0M461 292h0M471 314h0M387 339h0M386 340h0M400 328h0M400 328h0M440 339h0M441 336h0M464 341h0M466 341h0M402 351h0M402 350h0M457 308h0M455 307h0M410 354h0M413 336h0M411 317h0M411 319h0M388 342h0M445 351h0M392 347h0M469 302h0M453 326h0M456 353h0M456 351h0M397 346h0M398 346h0M476 329h0M476 326h0M474 328h0M452 316h0M452 315h0M403 323h0M470 308h0M411 321h0M411 319h0M457 322h0M456 321h0M435 324h0M474 312h0M475 311h0M466 327h0M465 328h0M466 327h0M389 327h0M406 315h0M406 315h0M405 315h0M404 359h0M403 360h0M416 358h0M416 359h0M440 298h0M441 298h0M476 292h0M477 290h0M405 302h0M404 301h0M425 290h0M427 286h0M434 344h0M441 329h0M441 332h0M401 353h0M399 352h0M397 353h0M468 322h0M466 322h0M397 367h0M396 366h0M396 318h0M443 303h0M442 305h0M422 311h0M448 292h0M448 291h0M451 339h0M450 340h0M451 340h0M472 364h0M475 330h0M405 303h0M405 302h0M443 341h0M469 304h0M469 304h0M450 291h0M449 293h0M418 322h0M418 323h0M434 344h0M433 344h0M403 360h0M406 359h0M405 356h0M405 354h0M415 339h0M473 324h0M462 323h0M461 320h0M460 320h0M398 347h0M397 347h0M421 329h0M422 329h0M427 355h0M423 333h0M423 334h0M455 317h0M454 318h0M475 308h0M476 308h0M408 335h0M409 335h0M411 336h0M465 311h0M449 322h0M449 323h0M463 340h0M465 295h0M414 346h0M414 345h0M468 321h0M391 292h0M462 300h0M460 361h0M390 363h0M398 338h0M399 340h0M466 300h0M447 324h0M445 325h0M392 299h0M418 324h0M462 311h0M460 312h0M453 338h0M416 297h0M416 298h0M454 363h0M454 364h0M442 288h0M441 289h0M397 334h0M449 321h0M450 322h0M395 323h0M395 324h0M395 365h0M395 365h0M428 365h0M473 345h0M474 346h0M402 366h0M464 352h0M392 288h0M407 325h0M407 325h0M405 324h0M451 295h0M451 295h0M442 329h0M472 304h0M474 305h0M448 325h0M449 326h0M448 339h0M447 338h0M448 339h0M412 348h0M410 347h0M453 352h0M450 332h0M411 368h0M412 337h0M411 336h0M455 304h0M455 302h0M439 345h0M408 355h0M407 355h0M434 311h0M389 348h0M407 345h0M403 346h0M433 345h0M432 345h0M426 296h0M424 296h0M452 341h0M451 341h0M461 314h0M428 367h0M470 363h0M470 362h0M412 327h0M409 329h0M410 326h0M462 307h0M462 306h0M426 347h0M426 347h0M424 344h0M412 324h0M442 349h0M441 350h0M429 367h0M437 342h0M439 341h0M440 304h0M442 304h0M401 335h0M404 334h0M399 352h0M405 348h0M403 349h0M419 346h0M398 325h0M433 289h0M432 291h0M393 310h0M394 309h0M457 300h0M455 300h0M442 345h0M442 346h0M403 341h0M402 340h0M401 340h0M390 355h0M389 355h0" stroke="#e2a46c" stroke-width="1.8" stroke-linecap="round" fill="none"/>
<path d="M473 287h0M395 339h0M397 336h0M416 350h0M416 350h0M443 309h0M409 314h0M443 355h0M442 355h0M478 334h0M434 336h0M436 336h0M464 332h0M466 332h0M449 297h0M394 364h0M396 367h0M431 346h0M440 367h0M441 369h0M420 349h0M420 349h0M449 347h0M450 348h0M433 331h0M436 331h0M460 306h0M460 305h0M418 301h0M419 300h0M410 363h0M411 363h0M403 315h0M404 317h0M429 366h0M399 290h0M401 290h0M399 290h0M441 366h0M441 367h0M439 299h0M436 298h0M472 329h0M473 329h0M439 286h0M439 288h0M397 318h0M395 318h0M418 316h0M417 316h0M418 318h0M466 340h0M465 339h0M475 326h0M475 325h0M475 325h0M408 315h0M409 316h0M394 339h0M393 338h0M468 290h0M429 296h0M428 297h0M388 317h0M389 319h0M389 319h0M453 363h0M474 295h0M415 339h0M416 340h0M415 338h0M437 347h0M425 317h0M429 317h0M462 290h0M463 290h0M453 346h0M411 361h0M412 361h0M410 360h0M412 360h0M411 360h0M471 305h0M401 336h0M469 350h0M470 352h0M472 339h0M470 337h0M412 315h0M415 317h0M414 318h0M430 332h0M470 296h0M406 346h0M463 359h0M458 342h0M458 342h0M458 342h0M413 295h0M412 294h0M449 340h0M449 339h0M424 356h0M424 358h0M424 355h0M448 327h0M446 329h0M447 328h0M468 329h0M468 330h0M469 332h0M416 294h0M418 291h0M454 315h0M454 315h0M465 354h0M454 289h0M457 359h0M457 360h0M389 314h0M450 346h0M451 347h0M399 342h0M399 342h0M451 348h0M459 367h0M460 368h0M433 365h0M434 365h0M457 343h0M439 312h0M438 312h0M407 317h0M406 315h0M394 292h0M426 310h0M429 310h0M446 321h0M427 301h0M428 302h0M389 340h0M416 363h0M416 364h0M418 363h0M462 312h0M467 318h0M466 318h0M467 318h0M407 363h0M472 296h0M473 297h0M469 339h0M430 305h0M399 334h0M397 336h0M396 335h0M466 360h0M464 359h0M464 340h0M462 342h0M463 341h0M417 332h0M419 333h0M450 347h0M425 362h0M420 346h0M389 355h0M396 321h0M394 320h0M406 352h0M394 343h0M436 321h0M437 319h0M393 334h0M396 334h0M392 333h0M403 363h0M425 325h0M425 326h0M466 362h0M465 361h0M411 344h0M411 344h0M468 335h0M451 369h0M453 369h0M451 369h0M420 300h0M395 346h0M395 348h0M397 348h0M405 305h0M405 306h0M405 307h0M455 296h0M453 298h0M429 312h0M459 298h0M459 297h0M395 352h0M417 353h0M416 354h0M418 351h0M443 338h0M393 299h0M446 314h0M446 312h0M395 321h0M431 344h0M443 298h0M443 298h0M432 326h0M461 292h0M460 294h0M460 292h0M449 347h0M406 320h0M407 320h0M388 346h0M388 346h0M469 341h0M470 340h0M434 351h0M434 352h0M417 335h0M416 334h0M448 294h0M437 314h0M435 313h0M437 321h0M443 325h0M431 327h0M430 327h0M430 326h0M461 354h0M472 367h0M472 369h0M414 309h0M414 310h0M447 318h0M446 319h0M448 343h0M394 352h0M410 288h0M405 343h0M407 344h0M438 336h0M446 320h0M444 322h0M442 289h0M445 290h0M443 287h0M427 349h0M399 295h0M397 293h0M466 289h0M468 291h0M467 290h0M404 348h0M448 342h0M446 342h0M466 330h0M465 331h0M454 308h0M403 356h0M467 315h0M466 314h0M467 313h0M456 362h0M473 312h0M472 313h0M474 311h0M431 322h0M430 323h0M410 316h0M410 316h0M440 296h0M440 295h0M404 347h0M406 346h0M466 292h0M467 291h0M465 293h0M393 337h0M394 336h0M418 303h0M468 347h0M390 293h0M439 320h0M440 321h0M440 319h0M437 302h0M418 345h0M418 347h0M442 336h0M405 311h0M406 313h0M397 352h0M399 350h0M451 329h0M453 329h0M432 358h0M432 358h0M394 308h0M398 361h0M391 366h0M390 366h0M455 290h0M455 290h0M453 288h0M415 312h0M414 312h0M420 336h0M419 335h0M398 352h0M393 341h0M410 350h0M413 350h0M443 348h0M443 347h0M398 359h0M463 335h0M417 345h0M417 344h0M458 344h0M427 334h0M427 335h0M398 333h0M449 293h0M407 316h0M406 319h0M430 329h0M445 290h0M457 369h0M436 300h0M435 302h0M446 292h0M391 335h0M455 314h0M455 315h0M427 319h0M433 340h0M463 328h0M428 356h0M430 355h0M466 309h0M465 309h0M469 306h0M471 305h0M426 352h0M427 353h0M444 365h0M403 355h0M402 355h0M400 337h0M401 338h0M451 312h0M418 320h0M434 325h0M431 324h0M470 307h0M407 302h0M409 302h0M436 364h0M438 366h0M433 308h0M448 316h0M449 316h0M400 357h0M398 357h0M398 358h0M418 361h0M418 361h0M432 311h0M434 312h0M460 293h0M457 312h0M455 313h0M393 367h0M394 365h0M454 298h0M403 335h0M401 335h0M444 358h0M404 367h0M406 368h0M464 360h0M463 359h0M476 329h0M475 330h0M474 330h0M395 345h0M394 325h0M409 367h0M426 301h0M428 299h0M461 309h0M462 309h0M447 302h0M447 303h0M449 304h0M421 336h0M402 317h0M401 318h0M460 343h0M474 309h0M444 359h0M469 298h0M399 330h0M401 331h0M423 289h0M424 288h0M423 287h0M422 365h0M462 350h0M463 351h0M417 306h0M411 314h0M410 313h0M402 295h0M421 340h0M430 349h0M408 292h0M407 292h0M433 338h0M429 317h0M426 317h0M404 369h0M406 297h0M457 330h0M456 331h0M475 352h0M451 346h0M452 345h0M452 346h0M442 366h0M428 325h0M427 324h0M428 325h0M426 306h0M425 306h0M425 305h0M443 320h0M445 320h0M404 301h0M452 329h0M453 329h0M454 365h0M455 365h0M454 364h0M474 340h0M473 341h0M469 290h0M431 329h0M429 327h0M418 369h0M421 368h0M464 369h0M462 368h0M471 362h0M471 364h0M446 287h0M425 292h0M454 293h0M450 293h0M449 293h0M417 322h0M431 316h0M431 315h0M433 308h0M433 310h0M404 330h0M404 332h0M401 361h0M401 361h0M426 321h0M396 367h0M392 368h0M406 357h0M454 326h0M454 326h0M430 321h0M431 322h0M464 343h0M435 332h0M423 351h0M424 351h0M434 360h0M471 347h0M470 345h0M414 312h0M424 309h0M421 307h0M422 306h0M410 326h0M448 361h0M447 362h0M446 361h0M460 368h0M448 308h0M423 317h0M392 362h0M415 322h0M399 296h0M400 296h0M432 288h0M401 332h0M402 332h0M407 291h0M408 290h0M438 346h0M437 346h0M437 347h0M466 353h0M405 326h0M394 340h0M423 325h0M423 323h0M424 324h0M451 306h0M450 306h0M437 289h0M437 290h0M445 321h0M447 321h0M474 343h0M465 358h0M466 356h0M466 357h0M441 347h0M443 347h0M436 366h0M399 325h0M476 342h0M460 319h0M459 319h0M436 323h0M474 319h0M475 321h0M445 328h0M444 328h0M411 334h0M421 332h0M440 353h0M437 354h0M435 289h0M432 290h0M434 289h0M389 347h0M389 348h0M390 348h0M474 333h0M473 332h0M473 331h0M415 289h0M415 288h0M404 340h0M405 342h0M452 300h0M451 303h0M451 301h0M392 327h0M464 310h0M466 310h0M401 326h0M423 325h0M424 325h0M412 290h0M411 290h0M410 289h0M393 290h0M393 290h0M447 297h0M447 298h0M426 331h0M425 332h0M396 318h0M396 317h0M434 312h0M464 314h0M425 334h0M424 333h0M448 336h0M449 334h0M459 350h0M461 352h0M400 348h0M403 347h0M404 344h0M433 362h0M436 363h0M418 323h0M416 323h0M418 323h0M457 308h0M459 307h0M391 333h0M444 358h0M441 356h0M418 341h0M416 346h0M426 323h0M413 305h0M415 306h0M437 360h0M415 330h0M443 349h0M474 301h0M393 368h0M477 335h0M476 335h0M425 343h0M425 343h0M469 297h0M469 296h0M412 354h0M400 302h0M401 325h0M430 335h0M430 336h0M431 334h0M413 307h0M434 313h0M435 316h0M403 362h0M403 360h0M397 299h0M397 299h0" stroke="#d68c4e" stroke-width="1.8" stroke-linecap="round" fill="none"/>
<path d="M394 368h0M430 319h0M424 345h0M455 294h0M456 342h0M457 340h0M433 290h0M469 291h0M453 311h0M466 309h0M438 293h0M409 309h0M411 310h0M409 308h0M456 359h0M388 353h0M391 355h0M406 364h0M411 366h0M442 320h0M434 318h0M476 355h0M418 292h0M443 312h0M393 346h0M440 339h0M466 341h0M397 343h0M466 303h0M467 323h0M465 323h0M412 335h0M461 297h0M388 343h0M446 350h0M456 325h0M455 351h0M452 306h0M452 305h0M469 307h0M437 287h0M437 287h0M456 321h0M475 291h0M425 288h0M440 331h0M445 354h0M395 365h0M468 349h0M407 302h0M442 341h0M442 340h0M426 357h0M435 357h0M436 358h0M474 353h0M465 295h0M441 359h0M390 364h0M418 323h0M450 339h0M470 359h0M442 289h0M422 353h0M436 296h0M441 328h0M424 303h0M442 345h0M389 348h0M405 345h0M432 344h0M461 315h0M411 324h0M441 349h0M440 342h0M404 348h0M399 326h0M392 309h0" stroke="#e2a46c" stroke-width="2.8" stroke-linecap="round" fill="none"/>
<path d="M392 322h0M391 322h0M465 298h0M473 344h0M473 341h0M403 344h0M391 361h0M392 362h0M394 366h0M392 367h0M458 343h0M465 342h0M466 343h0M399 347h0M400 350h0M392 291h0M411 290h0M412 292h0M406 362h0M462 301h0M464 322h0M424 298h0M390 340h0M390 338h0M461 340h0M460 340h0M401 360h0M419 345h0M418 346h0M439 335h0M467 320h0M474 357h0M452 361h0M455 360h0M390 301h0M391 301h0M450 299h0M407 305h0M407 313h0M406 313h0M408 337h0M406 338h0M406 338h0M440 327h0M445 327h0M392 307h0M391 307h0M426 332h0M427 330h0M444 304h0M445 299h0M445 298h0M444 298h0M393 295h0M392 295h0M467 288h0M407 310h0M394 336h0M394 335h0M393 336h0M458 288h0M408 299h0M410 300h0M409 300h0M472 352h0M458 349h0M457 348h0M400 293h0M399 293h0M410 364h0M413 365h0M402 355h0M416 342h0M435 309h0M436 309h0M417 300h0M418 303h0M417 302h0M425 321h0M469 360h0M437 340h0M416 360h0M390 326h0M451 316h0M450 317h0M392 354h0M395 297h0M397 295h0M449 289h0M449 290h0M455 329h0M456 329h0M454 366h0M454 364h0M407 293h0M409 293h0M446 320h0M476 333h0M403 343h0M404 343h0M404 345h0M448 344h0M421 309h0M452 362h0M450 363h0M451 363h0M409 325h0M438 362h0M438 362h0M440 360h0M397 364h0M463 291h0M465 290h0M470 323h0M471 321h0M468 367h0M466 366h0M404 355h0M405 356h0M418 320h0M444 349h0M445 349h0M454 298h0M454 300h0M398 364h0M396 362h0M427 367h0M427 367h0M404 360h0M402 361h0M458 325h0M437 306h0M436 305h0M424 360h0M423 359h0M421 360h0M393 366h0M407 342h0M405 341h0M465 332h0M465 332h0M461 291h0M396 330h0M393 363h0M391 363h0M429 334h0M429 333h0M430 332h0M446 366h0M470 299h0M467 298h0M392 292h0M459 352h0M460 352h0M449 335h0M433 325h0M475 327h0M478 326h0M395 323h0M396 323h0M402 365h0M450 330h0M451 328h0M472 342h0M474 341h0M447 362h0M447 364h0M408 290h0M467 336h0M432 329h0M432 325h0M433 326h0M405 290h0M406 292h0M418 345h0M418 344h0M419 345h0M393 332h0M394 333h0M451 342h0M451 342h0M398 357h0M418 304h0M422 331h0M413 290h0M413 288h0M450 368h0M404 300h0M405 301h0M468 302h0M470 302h0" stroke="#c47438" stroke-width="1.8" stroke-linecap="round" fill="none"/>
<path d="M402 346h0M440 328h0M449 337h0M458 344h0M391 313h0M394 305h0M462 323h0M390 339h0M402 361h0M467 319h0M474 358h0M412 295h0M454 300h0M406 306h0M441 329h0M423 348h0M427 330h0M468 287h0M471 351h0M408 360h0M407 359h0M399 293h0M402 356h0M423 321h0M435 338h0M391 327h0M393 325h0M401 369h0M394 352h0M447 289h0M422 312h0M451 344h0M472 324h0M404 354h0M419 321h0M456 298h0M397 363h0M404 361h0M455 326h0M456 325h0M437 305h0M393 366h0M392 365h0M444 366h0M395 293h0M459 351h0M450 334h0M450 332h0M433 325h0M474 325h0M401 365h0M407 291h0M468 335h0M405 291h0M449 343h0M455 310h0M455 309h0M451 368h0M450 367h0M407 322h0" stroke="#c47438" stroke-width="2.8" stroke-linecap="round" fill="none"/>
<ellipse cx="407" cy="341" rx="6" ry="4" transform="rotate(-20 407 341)" fill="#c8744a" opacity="0.85" filter="url(#sb2)"/>
<ellipse cx="442" cy="326" rx="6" ry="3" transform="rotate(30 442 326)" fill="#c87c58" opacity="0.85" filter="url(#sb2)"/>
<ellipse cx="439" cy="341" rx="4" ry="6" transform="rotate(0 439 341)" fill="#cc845a" opacity="0.85" filter="url(#sb2)"/>
<ellipse cx="470" cy="351" rx="3.5" ry="3.5" transform="rotate(0 470 351)" fill="#c07040" opacity="0.85" filter="url(#sb2)"/>
<ellipse cx="464" cy="305" rx="2.5" ry="4" transform="rotate(-20 464 305)" fill="#c87040" opacity="0.85" filter="url(#sb2)"/>
<path d="M461.7 301.8l-7.2 -3.8l0.5 5.2z" fill="#000"/>
<path d="M440 322.9l-7.2 -3.8l0.5 5.2z" fill="#000"/>
<path d="M405 340.4l-7.2 -3.8l0.5 5.2z" fill="#000"/>
<path d="M427.5 351.8l6.8 -4l-1.2 5.6z" fill="#000"/>
<path d="M459 358.4l6.8 -4l-1.2 5.6z" fill="#000"/>
</g>
<rect x="388.6" y="287.8" width="87.2" height="80.3" fill="none" stroke="#333" stroke-width="1"/>
<clipPath id="cp15"><rect x="477" y="287.8" width="86.5" height="80.3"/></clipPath>
<g clip-path="url(#cp15)">
<rect x="477" y="287.8" width="86.5" height="80.3" fill="#ececec"/>
<path d="M533 361h0M476 359h0M502 317h0M521 360h0M479 365h0M504 313h0M518 311h0M546 316h0M536 316h0M532 346h0M556 287h0M525 312h0M533 317h0M555 287h0M548 298h0M557 299h0M542 310h0M552 324h0M484 342h0M511 295h0M497 353h0M523 294h0M552 304h0M544 330h0M499 320h0M538 309h0M499 365h0M549 347h0M496 336h0M497 345h0M542 307h0M519 290h0M528 302h0M562 302h0M488 330h0M561 295h0M561 298h0M497 342h0M544 317h0M493 353h0M550 326h0M534 314h0M553 366h0M481 328h0M525 323h0M533 289h0M539 312h0M536 309h0M556 325h0M550 311h0M512 292h0M555 328h0M544 296h0M527 308h0M529 337h0M544 356h0M541 301h0M510 340h0M509 335h0M551 304h0M539 323h0M477 326h0M553 292h0M559 297h0M564 357h0M517 310h0M522 297h0M490 364h0M545 312h0M544 325h0M502 299h0M526 294h0M532 344h0M477 288h0M551 362h0M531 289h0M561 337h0M535 358h0M508 299h0M535 325h0M550 336h0M552 323h0M536 290h0M513 356h0M509 313h0M561 294h0M539 303h0M529 313h0M483 348h0M539 325h0M500 336h0M521 358h0M499 367h0M547 339h0M530 310h0M478 328h0M554 317h0M516 314h0M558 328h0M557 303h0M514 356h0M510 355h0M545 315h0M494 355h0M502 346h0M558 305h0M556 304h0M548 358h0M479 325h0M537 302h0M493 347h0M563 347h0M501 319h0M483 368h0M506 337h0M526 319h0M524 314h0M547 311h0M554 353h0M489 295h0M539 311h0M541 288h0M512 357h0M556 359h0M541 300h0M545 318h0M479 323h0M497 295h0M541 318h0M483 295h0M538 306h0M540 296h0M499 355h0M497 351h0M525 314h0M519 292h0M547 310h0M480 344h0M514 366h0M559 322h0M559 297h0M500 345h0M487 337h0M497 362h0M488 326h0M517 293h0M551 323h0M477 323h0M549 327h0M540 310h0M504 343h0M554 309h0M508 313h0M488 348h0M542 323h0M491 289h0M500 353h0M534 328h0M488 319h0M536 322h0M499 339h0M532 309h0M502 342h0M563 302h0M518 316h0M508 333h0M527 292h0M519 306h0M563 331h0M525 368h0M561 328h0M496 323h0M554 305h0M487 324h0M562 305h0M518 298h0M536 298h0M550 328h0M539 320h0M526 319h0M532 297h0M519 349h0M493 315h0M530 354h0M535 296h0M533 320h0M558 308h0M525 314h0" stroke="#e8845c" stroke-width="1.8" stroke-linecap="round" fill="none"/>
<path d="M510 350h0M491 360h0M562 287h0M501 349h0M540 308h0M535 336h0M502 367h0M548 314h0M559 364h0M523 305h0M562 365h0M528 325h0M541 291h0M494 344h0M553 308h0M515 303h0M557 343h0M561 365h0M511 340h0M536 295h0M533 338h0M547 300h0M490 300h0M559 334h0M546 359h0M515 313h0M508 337h0M522 304h0" stroke="#f0a47c" stroke-width="2.8" stroke-linecap="round" fill="none"/>
<path d="M539 292h0M527 288h0M553 302h0M505 322h0M538 323h0M558 313h0M550 326h0M552 307h0M559 289h0M496 365h0M536 313h0M509 350h0M536 315h0M558 311h0M527 310h0M485 333h0M515 366h0M504 344h0M533 296h0M564 315h0M550 318h0M510 359h0M540 303h0M542 303h0M501 345h0M563 320h0M540 350h0M517 344h0M479 317h0M524 322h0M564 301h0M533 313h0M551 300h0M555 291h0M550 306h0M552 308h0M548 309h0M487 359h0M526 348h0M505 339h0M514 289h0M559 295h0M557 322h0M543 354h0M550 347h0M512 330h0M532 301h0M483 331h0M493 355h0M494 365h0M564 344h0M523 323h0M562 318h0M516 359h0M545 321h0M525 298h0M518 319h0M536 361h0M551 299h0M563 317h0" stroke="#e8845c" stroke-width="2.8" stroke-linecap="round" fill="none"/>
<path d="M518 301h0M498 340h0M481 321h0M538 310h0M492 349h0M503 307h0M501 326h0M551 305h0M499 332h0M554 326h0M540 316h0M542 342h0M520 351h0M541 289h0M562 336h0M494 352h0M494 310h0M531 361h0M527 323h0M528 305h0M554 303h0M530 324h0M522 319h0M506 350h0M523 298h0M538 303h0M540 319h0M532 302h0M507 350h0M536 294h0M556 292h0M486 344h0M497 337h0M537 317h0M549 292h0M520 290h0M556 362h0M521 319h0M545 327h0M563 309h0M550 310h0M527 296h0M537 289h0M551 299h0M520 324h0M554 297h0M562 297h0M499 349h0M510 350h0M498 363h0M559 299h0M526 294h0M561 297h0M507 336h0M495 361h0M543 289h0M551 301h0M490 322h0M550 322h0M552 340h0M547 314h0M489 365h0M525 306h0M517 348h0M541 289h0M549 313h0M540 294h0M533 328h0M537 296h0M545 296h0M538 306h0M499 324h0M548 314h0M545 352h0M537 290h0M529 292h0M542 359h0M508 353h0M506 363h0M495 351h0M479 295h0M562 322h0M524 305h0M539 360h0M495 306h0M486 356h0M516 343h0M524 309h0M539 319h0M505 362h0M482 352h0M537 304h0M554 318h0M488 327h0M563 314h0M516 359h0M517 330h0M563 357h0M553 305h0M524 309h0M544 305h0M528 301h0M529 308h0M510 318h0M491 345h0M552 302h0M553 347h0M515 301h0M515 321h0M540 288h0M538 306h0M509 302h0M558 298h0M537 313h0M558 320h0M530 288h0M505 309h0M518 316h0M544 313h0M477 328h0M511 321h0" stroke="#f0a47c" stroke-width="1.8" stroke-linecap="round" fill="none"/>
<ellipse cx="497.6" cy="317.5" rx="8.7" ry="7.7" transform="rotate(-10 497.6 317.5)" fill="none" stroke="#8c8c9a" stroke-width="2.2" opacity="0.7" filter="url(#sb2)"/>
<ellipse cx="497.6" cy="317.5" rx="7.5" ry="6.5" transform="rotate(-10 497.6 317.5)" fill="#e48080" opacity="0.85" filter="url(#sb2)"/>
<path d="M495.7 322.1h0M497.5 322h0M496.7 312.7h0M499.1 313.6h0M491.5 318.6h0M495.8 316.6h0M493.3 318.5h0M495.6 312.9h0M497 322.7h0M502.6 319.5h0M498.8 319.8h0M492.9 314.9h0" stroke="#f4e0dc" stroke-width="1.1" stroke-linecap="round" fill="none" opacity="0.8"/>
<path d="M493 320.7h0M498.7 322.6h0M503.2 316.3h0M493 319.4h0M494 314h0M499.7 312.8h0M497.3 314h0M501.3 313.6h0M503.3 314.8h0M499 320.7h0M497.6 314.6h0M494 316.4h0" stroke="#c83838" stroke-width="1.2" stroke-linecap="round" fill="none" opacity="0.8"/>
<ellipse cx="535" cy="339" rx="19.7" ry="8.7" transform="rotate(52 535 339)" fill="none" stroke="#9494a2" stroke-width="2.2" opacity="0.7" filter="url(#sb2)"/>
<ellipse cx="535" cy="339" rx="18.5" ry="7.5" transform="rotate(52 535 339)" fill="#e49090" opacity="0.85" filter="url(#sb2)"/>
<path d="M535.9 335.3h0M536.2 343.9h0M541.8 338.1h0M545 348.7h0M526 330.7h0M541.6 345.2h0M533.3 342.2h0M531.9 330.1h0M539.7 347.2h0M542.8 347.4h0M533.4 329.9h0M538.6 334.6h0M530.3 338.2h0M524.8 329h0M532 345h0M525.5 327.2h0M536.8 343.5h0M531.2 340h0M527.1 338.3h0M530.7 337.7h0M526.7 336h0M536.4 332.4h0M528.9 338.9h0M535.4 345.2h0M545.1 344.8h0M532.3 331.7h0M526.4 333.1h0M543.4 345.3h0M543.3 343.5h0M524.9 332.7h0M529.6 336.7h0M540.6 340.1h0M529.9 333.1h0M531.1 335.5h0M533 331h0" stroke="#f4e0dc" stroke-width="1.1" stroke-linecap="round" fill="none" opacity="0.8"/>
<path d="M534.9 330.5h0M529.7 342.1h0M541.5 344.6h0M544.2 349.1h0M527.4 334.9h0M540.2 347.9h0M533.4 333h0M538.3 347.1h0M530.4 343h0M540.4 340.1h0M528.4 332.6h0M537.7 341.9h0M543.9 341.6h0M542.1 349.3h0M528.9 326.7h0M537 345.6h0M538.8 337.4h0M542.7 343.1h0M527.3 332.3h0M536.2 331.6h0M541.2 341.3h0M538.6 341.5h0M526.1 331.7h0M543.4 349.9h0M525.6 331.8h0M532.3 330h0M537.7 341.7h0M532.7 340.4h0M534 340h0M528.4 329.2h0M540.1 338.6h0M537.9 350.1h0M531.2 336.2h0M543.6 344.5h0" stroke="#c83838" stroke-width="1.2" stroke-linecap="round" fill="none" opacity="0.8"/>
<path d="M496.9 319.4l-7.2 -3.8l0.5 5.2z" fill="#000"/>
<path d="M527.9 340.3l-7.2 -3.8l0.5 5.2z" fill="#000"/>
</g>
<rect x="477" y="287.8" width="86.5" height="80.3" fill="none" stroke="#333" stroke-width="1"/>
<clipPath id="cp16"><rect x="566.4" y="287.8" width="86.6" height="80.3"/></clipPath>
<g clip-path="url(#cp16)">
<rect x="566.4" y="287.8" width="86.6" height="80.3" fill="#eae8e8"/>
<path d="M636 354h0M651 288h0M568 314h0M606 362h0M598 357h0M614 360h0M616 289h0M618 330h0M619 316h0M621 326h0M649 304h0M592 298h0M592 298h0M577 335h0M637 313h0M574 325h0M651 299h0M584 291h0M606 316h0M566 316h0M626 304h0M584 340h0M623 287h0M650 327h0M646 335h0M635 350h0M570 316h0M646 305h0M627 314h0M577 305h0M605 336h0M655 321h0M574 347h0M606 343h0M621 303h0M648 296h0M577 292h0M590 298h0M649 329h0M578 360h0M604 357h0M603 339h0M646 292h0M591 346h0M590 322h0M646 342h0M587 340h0M610 327h0M584 305h0M595 360h0M597 316h0M587 332h0M625 314h0M611 298h0M581 331h0M583 332h0M600 357h0M611 324h0M567 367h0M621 338h0M575 352h0M643 349h0M644 344h0M619 299h0M577 288h0M577 316h0M574 301h0M592 346h0M569 304h0M646 317h0M597 307h0M579 342h0M577 337h0M637 309h0M619 301h0M652 289h0M643 354h0M636 305h0M593 367h0M581 332h0M595 361h0M591 358h0M642 345h0M597 350h0M570 314h0M649 356h0M580 334h0M643 361h0M626 327h0M631 325h0M583 344h0M586 306h0M618 295h0M603 356h0M634 304h0M636 366h0M621 357h0M601 355h0M639 331h0M628 345h0" stroke="#dc7858" stroke-width="2.8" stroke-linecap="round" fill="none"/>
<path d="M594 289h0M636 353h0M640 352h0M638 353h0M652 363h0M652 365h0M647 318h0M649 357h0M609 325h0M582 363h0M583 364h0M577 348h0M568 330h0M612 358h0M613 358h0M603 344h0M603 347h0M626 351h0M618 309h0M624 368h0M644 314h0M638 292h0M636 291h0M583 317h0M568 369h0M577 332h0M604 309h0M604 307h0M612 354h0M642 334h0M622 356h0M615 358h0M644 307h0M644 305h0M615 290h0M631 320h0M621 370h0M622 369h0M608 295h0M591 335h0M590 336h0M618 331h0M604 303h0M593 346h0M635 337h0M608 337h0M611 339h0M615 327h0M567 317h0M569 316h0M641 337h0M620 343h0M620 303h0M619 304h0M621 326h0M595 367h0M646 324h0M603 297h0M650 304h0M634 310h0M575 335h0M590 312h0M590 311h0M613 293h0M611 292h0M573 326h0M597 359h0M586 304h0M586 301h0M585 289h0M631 302h0M583 363h0M583 362h0M590 337h0M602 337h0M600 338h0M569 337h0M582 326h0M583 326h0M570 323h0M633 351h0M648 343h0M649 343h0M624 339h0M578 360h0M624 326h0M608 312h0M640 338h0M650 355h0M625 289h0M573 352h0M645 358h0M592 357h0M586 339h0M652 328h0M608 324h0M603 314h0M604 315h0M640 294h0M595 301h0M636 312h0M628 306h0M626 307h0M594 323h0M651 330h0M640 300h0M570 347h0M568 317h0M645 306h0M609 366h0M611 366h0M626 357h0M626 315h0M567 367h0M577 305h0M573 314h0M574 314h0M605 334h0M585 344h0M618 364h0M616 363h0M654 323h0M577 363h0M603 314h0M574 347h0M641 305h0M639 332h0M566 291h0M641 304h0M650 298h0M598 361h0M577 294h0M596 350h0M597 348h0M589 296h0M597 343h0M577 358h0M624 327h0M625 326h0M605 295h0M612 296h0M614 294h0M606 294h0M613 319h0M605 322h0M605 319h0M621 349h0M654 323h0M592 296h0M591 295h0M571 298h0M590 355h0M607 295h0M609 295h0M572 347h0M572 300h0M572 300h0M614 303h0M594 363h0M650 298h0M644 292h0M624 290h0M617 355h0M628 367h0M633 342h0M637 355h0M582 342h0M593 331h0M623 319h0M642 317h0M605 317h0M592 346h0M647 334h0M649 367h0M654 357h0M642 318h0M639 312h0M640 313h0M604 311h0M631 317h0M650 358h0M621 352h0M616 350h0M590 323h0M622 320h0M599 322h0M588 340h0M606 355h0M601 287h0M599 287h0M647 315h0M593 335h0M642 353h0M584 305h0M596 357h0M575 317h0M597 316h0M586 332h0M605 337h0M572 310h0M602 329h0M618 317h0M616 296h0M626 301h0M626 312h0M627 313h0M606 326h0M575 352h0M623 316h0M622 314h0M624 348h0M619 318h0M593 300h0M612 323h0M566 367h0M621 358h0M621 339h0M592 349h0M590 349h0M611 313h0M599 310h0M596 354h0M596 355h0M614 352h0M641 327h0M615 342h0M620 322h0M582 322h0M622 366h0M585 333h0M635 335h0M605 351h0M652 324h0M642 334h0M641 332h0M641 350h0M649 299h0M636 319h0M635 317h0M621 292h0M622 293h0M654 326h0M574 357h0M575 358h0M617 301h0M609 368h0M625 351h0M603 293h0M578 311h0M638 318h0M639 320h0M613 303h0M619 299h0M647 307h0M649 304h0M584 359h0M572 291h0M571 289h0M638 290h0M577 288h0M621 326h0M622 327h0M570 304h0M568 304h0M610 320h0M578 318h0M611 334h0M612 336h0M585 344h0M606 303h0M583 300h0M612 356h0M591 327h0M575 290h0M572 291h0M618 298h0M594 346h0M654 360h0M626 359h0M574 326h0M626 333h0M580 335h0M569 304h0M580 288h0M610 366h0M568 288h0M639 338h0M639 340h0M572 319h0M579 346h0M576 336h0M625 349h0M626 324h0M627 324h0M628 298h0M591 311h0M622 299h0M626 367h0M641 328h0M641 328h0M601 294h0M614 328h0M590 334h0M583 314h0M584 312h0M575 332h0M573 369h0M643 354h0M636 308h0M633 289h0M633 289h0M573 348h0M573 347h0M630 319h0M635 306h0M577 327h0M618 332h0M576 351h0M576 349h0M631 363h0M609 339h0M591 312h0M567 342h0M567 340h0M620 329h0M612 308h0M610 309h0M588 294h0M586 295h0M647 323h0M583 292h0M645 330h0M633 364h0M647 336h0M589 323h0M589 323h0M594 318h0M593 317h0M603 331h0M621 329h0M621 330h0M636 332h0M645 334h0M588 348h0M638 324h0M639 324h0M579 329h0M579 331h0M651 346h0M618 291h0M580 348h0M625 363h0M611 322h0M637 324h0M569 315h0M589 354h0M592 358h0M616 320h0M619 347h0M620 347h0M601 319h0M601 319h0M572 301h0M569 306h0M603 367h0M604 366h0M629 303h0M630 302h0M642 305h0M643 306h0M627 316h0M611 336h0M581 302h0M579 332h0M605 322h0M643 359h0M614 296h0M599 339h0M599 339h0M566 350h0M622 335h0M582 299h0M598 345h0M644 333h0M578 358h0M644 345h0M615 347h0M643 300h0M643 300h0M627 360h0M627 322h0M619 330h0M584 343h0M568 359h0M642 331h0M604 343h0M639 337h0M632 300h0M621 331h0M569 296h0M570 296h0M629 314h0M615 331h0M603 347h0M593 359h0M594 359h0M597 302h0M621 326h0M649 330h0M639 308h0M589 294h0M636 311h0M637 311h0M600 360h0M603 362h0M633 343h0M634 343h0M625 321h0M648 349h0M648 349h0M617 335h0M645 293h0M629 336h0M627 288h0M605 298h0M607 298h0M611 353h0M595 332h0M576 311h0M575 310h0M622 306h0M621 306h0M624 330h0M621 329h0M614 363h0M610 364h0M600 335h0M644 321h0M646 356h0M646 356h0M573 367h0M607 331h0M608 344h0M640 328h0M641 327h0M591 366h0M638 330h0M634 343h0M637 345h0M583 366h0M636 307h0M636 307h0M583 325h0M628 346h0M582 340h0" stroke="#dc7858" stroke-width="1.8" stroke-linecap="round" fill="none"/>
<path d="M614 293h0M613 295h0M634 295h0M644 328h0M592 336h0M611 302h0M611 303h0M604 353h0M582 337h0M586 312h0M577 355h0M645 324h0M590 366h0M588 334h0M627 315h0M627 346h0M599 292h0M570 306h0M571 305h0M624 297h0M597 344h0M588 311h0M607 358h0M602 338h0M611 365h0M631 324h0M632 317h0M627 360h0M583 323h0M639 293h0M620 327h0M600 335h0M618 326h0M572 322h0M588 352h0M590 351h0M599 299h0M598 316h0M598 317h0M631 297h0M630 298h0M643 309h0M642 310h0M636 324h0M602 335h0M615 336h0M644 341h0M590 305h0M653 346h0M596 320h0M576 330h0M607 353h0M652 303h0M564 361h0M585 344h0M595 366h0M595 366h0M582 289h0M584 292h0M636 366h0M640 329h0M592 357h0M592 319h0M586 296h0M581 358h0M583 358h0M646 345h0M599 364h0M599 364h0M585 318h0M584 318h0M579 319h0M606 298h0M621 296h0M624 298h0M583 301h0M589 347h0M567 353h0M568 352h0M597 351h0M648 329h0M633 315h0M589 355h0M644 307h0M647 307h0M589 329h0M591 355h0M594 293h0M595 292h0M577 323h0M597 312h0M629 348h0M620 366h0M588 319h0M591 337h0M574 301h0M574 301h0M625 343h0M651 329h0M623 321h0M624 296h0M640 304h0M568 353h0M569 353h0M625 317h0M624 318h0M633 340h0M622 349h0M624 350h0M646 330h0M646 297h0M648 299h0M604 352h0M576 338h0M598 356h0M598 356h0M605 353h0M623 366h0M622 367h0M610 297h0M568 325h0M604 328h0M606 328h0M591 336h0M574 368h0M642 327h0M640 298h0M641 297h0M580 319h0M570 318h0M574 341h0M576 346h0M601 349h0M588 339h0M596 324h0M597 323h0M604 339h0M647 318h0M644 318h0M565 322h0M567 323h0M598 305h0M598 305h0M572 364h0M572 364h0M613 303h0M590 343h0M589 342h0M567 297h0M633 289h0M634 289h0M579 325h0M579 366h0M654 326h0M625 366h0M626 365h0M574 365h0M568 305h0M595 362h0M615 353h0M623 330h0M653 340h0M607 365h0M635 335h0M634 336h0M651 332h0M652 334h0M641 317h0M626 296h0M644 331h0M599 329h0M651 342h0M567 347h0M630 299h0M590 363h0M609 300h0M637 349h0M632 333h0M633 334h0M566 369h0M653 345h0M606 362h0M635 292h0M636 314h0M615 367h0M615 367h0M651 304h0M602 343h0M584 368h0M589 349h0M576 327h0M625 337h0M631 326h0M638 304h0M627 302h0M566 361h0M565 360h0M567 341h0M567 340h0M623 292h0M582 302h0M631 307h0M630 307h0M569 348h0M573 346h0M569 316h0M648 364h0M631 346h0M605 332h0M619 306h0M622 307h0M568 338h0M565 355h0M565 355h0M575 291h0M566 320h0M600 365h0M619 353h0M614 295h0M594 329h0M616 361h0M632 291h0M644 312h0M641 361h0M639 360h0M569 351h0M607 369h0M608 338h0M566 291h0M568 306h0M577 359h0M620 314h0M587 359h0M652 351h0M641 303h0M642 304h0M577 300h0M642 363h0M568 289h0M597 346h0M605 356h0M602 338h0M601 338h0M636 312h0M635 315h0M599 327h0M650 297h0M651 298h0M610 297h0M582 319h0M600 298h0M623 368h0M653 331h0M603 330h0M620 369h0M648 319h0M636 336h0M600 293h0M574 329h0M576 324h0M634 354h0M632 334h0M622 287h0M625 346h0M634 305h0M634 326h0M582 312h0M653 331h0M651 332h0M634 317h0M613 299h0M647 326h0M638 331h0M649 332h0M615 328h0M618 306h0M617 310h0M641 291h0M641 292h0M634 341h0M645 317h0M587 326h0M589 326h0M610 338h0M611 337h0M650 356h0M651 357h0M567 304h0M650 330h0M578 300h0M640 354h0M622 297h0M566 336h0M617 295h0M588 354h0M608 358h0M637 338h0M570 357h0M590 345h0M590 344h0M644 314h0M583 320h0M605 354h0M573 325h0M632 337h0M577 293h0M630 329h0M583 348h0M589 338h0M602 365h0M600 365h0M581 333h0M597 361h0M605 353h0M646 313h0M575 366h0M646 363h0M645 360h0M583 301h0M582 301h0M637 347h0M627 304h0M585 302h0M585 301h0M638 351h0M645 292h0M652 332h0M654 330h0M618 320h0M633 289h0M632 289h0M641 323h0M570 305h0M570 305h0M609 304h0M609 305h0M598 323h0M645 328h0M648 337h0M607 350h0M606 351h0M579 335h0M649 304h0M607 315h0M628 300h0M640 293h0" stroke="#e89878" stroke-width="1.8" stroke-linecap="round" fill="none"/>
<path d="M634 294h0M592 335h0M654 291h0M586 312h0M587 337h0M632 305h0M574 364h0M628 358h0M589 306h0M638 313h0M577 340h0M566 363h0M653 366h0M590 356h0M591 319h0M582 303h0M639 290h0M630 355h0M585 318h0M586 292h0M587 320h0M602 349h0M625 297h0M645 320h0M612 360h0M593 355h0M630 359h0M611 299h0M575 357h0M640 298h0M606 337h0M569 342h0M627 334h0M650 321h0M567 297h0M648 292h0M624 306h0M607 363h0M642 314h0M650 342h0M587 362h0M580 292h0M633 293h0M577 327h0M638 303h0M570 351h0M580 355h0M642 315h0M631 346h0M604 330h0M628 347h0M599 366h0M569 351h0M608 369h0M609 337h0M568 292h0M570 305h0M644 334h0M621 331h0M655 351h0M588 330h0M612 336h0M651 331h0M639 300h0M593 328h0M636 336h0M571 339h0M570 318h0M638 343h0M622 319h0M632 325h0M614 300h0M605 303h0M617 329h0M641 304h0M568 303h0M621 297h0M618 296h0M610 357h0M636 337h0M581 320h0M631 336h0M606 363h0M637 347h0M612 361h0M639 350h0M605 348h0M616 327h0M624 337h0M577 366h0M650 305h0M592 344h0" stroke="#e89878" stroke-width="2.8" stroke-linecap="round" fill="none"/>
<ellipse cx="591" cy="301" rx="12.2" ry="7.7" transform="rotate(-25 591 301)" fill="none" stroke="#b0a8ae" stroke-width="2.2" opacity="0.7" filter="url(#sb2)"/>
<ellipse cx="591" cy="301" rx="11" ry="6.5" transform="rotate(-25 591 301)" fill="#dca898" opacity="0.85" filter="url(#sb2)"/>
<path d="M598.3 295.7h0M595.6 302.3h0M593.3 296.3h0M594.2 299.4h0M587.1 305.4h0M598.9 297.3h0M582.9 304h0M589.7 297.7h0M583.8 300.2h0M588.6 297.5h0M595 297.8h0M584.7 306.8h0M586.7 306.7h0M596.8 299.5h0M586.4 302.6h0M598 298.3h0M583.6 301.2h0M591.9 304.4h0" stroke="#f4e0dc" stroke-width="1.1" stroke-linecap="round" fill="none" opacity="0.8"/>
<path d="M592.9 300.3h0M594.2 301.2h0M588.2 307.2h0M585.6 298.1h0M594.9 302.5h0M582.9 303h0M594 298h0M587.5 299.8h0M586.7 299h0M583.8 304.5h0M593.9 294.7h0M592.8 304.8h0M599 298.5h0M590.9 304.3h0M593 303.7h0M591.4 303h0M594.8 301.9h0" stroke="#c83838" stroke-width="1.2" stroke-linecap="round" fill="none" opacity="0.8"/>
<ellipse cx="610" cy="335.5" rx="10.7" ry="6.7" transform="rotate(20 610 335.5)" fill="none" stroke="#a0989f" stroke-width="2.2" opacity="0.7" filter="url(#sb2)"/>
<ellipse cx="610" cy="335.5" rx="9.5" ry="5.5" transform="rotate(20 610 335.5)" fill="#d47068" opacity="0.85" filter="url(#sb2)"/>
<path d="M606.7 333.6h0M604.7 331.7h0M608.2 333.2h0M609 331.2h0M615.3 337.6h0M604.8 334h0M604.9 337.9h0M614.8 336.2h0M614.7 334h0M608.6 332.5h0M602.8 335.3h0M615 334.1h0M611.2 335.2h0" stroke="#f4e0dc" stroke-width="1.1" stroke-linecap="round" fill="none" opacity="0.8"/>
<path d="M615.1 340h0M615.6 334.5h0M605.2 336.3h0M609 332.8h0M615.6 335.2h0M614.4 338h0M616.4 339.1h0M615.9 335.9h0M613 337.9h0M608.5 330.6h0M614.1 337.5h0M606.2 335.1h0M606.2 338.4h0" stroke="#c83838" stroke-width="1.2" stroke-linecap="round" fill="none" opacity="0.8"/>
<path d="M593.3 298.5l-7.2 -3.8l0.5 5.2z" fill="#000"/>
<path d="M602.8 342.3l6.8 -4l-1.2 5.6z" fill="#000"/>
</g>
<rect x="566.4" y="287.8" width="86.6" height="80.3" fill="none" stroke="#333" stroke-width="1"/>
<text x="456.6" y="268" font-size="7.1" font-weight="bold">10μm</text>
<line x1="456" y1="271.2" x2="471" y2="271.2" stroke="#000" stroke-width="1.5"/>
<text x="481.3" y="424" font-size="9" font-weight="bold" text-anchor="middle">Ctrl</text>
<text x="568.5" y="424" font-size="9" font-weight="bold" text-anchor="middle">Ctrl+RANKL</text>
<text x="481.7" y="511.5" font-size="9" font-weight="bold" text-anchor="middle">ACAD9</text>
<text x="570" y="511.5" font-size="9" font-weight="bold" text-anchor="middle">ACAD9+RANKL</text>
<clipPath id="cp17"><rect x="435.3" y="427.4" width="88" height="73.6"/></clipPath>
<g clip-path="url(#cp17)">
<rect x="435.3" y="427.4" width="88" height="73.6" fill="#fefcfa"/>
<path d="M462 437h0M509 493h0M485 457h0M484 457h0M434 438h0M459 488h0M466 501h0M453 444h0M508 493h0M509 492h0M514 440h0M498 455h0M472 467h0M472 496h0M480 440h0M522 434h0M456 465h0M515 454h0M478 472h0M492 493h0M522 437h0M502 493h0M511 449h0M439 449h0M437 448h0M440 429h0M445 433h0M439 438h0M473 476h0M507 465h0M501 486h0M440 428h0M477 467h0M500 470h0M501 469h0M460 459h0M509 495h0M505 497h0M487 481h0M446 441h0M509 486h0M519 501h0M481 462h0M438 442h0M444 450h0M519 447h0M511 473h0M510 475h0M456 442h0M463 438h0M435 484h0M482 449h0M483 450h0M508 469h0M524 462h0M491 497h0M500 427h0M440 477h0M512 478h0M511 477h0M455 484h0M483 441h0M523 464h0M447 449h0M494 432h0M506 491h0M457 468h0M456 467h0M471 471h0M501 443h0M502 458h0M449 439h0M505 470h0M441 452h0M463 432h0M511 487h0M511 473h0M433 490h0M465 441h0M438 468h0M442 429h0M443 486h0M466 469h0M455 442h0M473 432h0M502 429h0M499 438h0M455 437h0M467 465h0M438 494h0M473 434h0M474 433h0M472 433h0M493 442h0M478 497h0M475 488h0M441 438h0M494 447h0M470 446h0M478 467h0M517 441h0M443 483h0M468 454h0M439 501h0M472 439h0M473 438h0M496 460h0M497 458h0M458 440h0M458 439h0M458 435h0M493 436h0M480 456h0M450 427h0M520 454h0M522 453h0M440 456h0M496 498h0M459 433h0M469 426h0M451 463h0M479 433h0M496 496h0M497 499h0M442 497h0M448 467h0M451 499h0M514 498h0M509 478h0M519 486h0M510 469h0M511 469h0M444 476h0M442 477h0M461 481h0M442 452h0M507 472h0M466 464h0M454 452h0M489 487h0M464 450h0M464 473h0M475 471h0M464 460h0M479 490h0M481 447h0M481 446h0M470 484h0M472 470h0M492 468h0M442 497h0M455 444h0M499 462h0M509 466h0M453 432h0M476 438h0M490 483h0M436 473h0M469 444h0M453 476h0M454 441h0M519 460h0M466 451h0M488 467h0M490 485h0M519 463h0M436 468h0M511 442h0M503 448h0M453 466h0M437 476h0M442 493h0M480 441h0M441 479h0M479 455h0M478 457h0M475 474h0M485 488h0M484 487h0M515 468h0M516 469h0M446 449h0M435 497h0M500 478h0M500 477h0M487 478h0M484 434h0M457 497h0M460 454h0" stroke="#dc6c48" stroke-width="2.7" stroke-linecap="round" fill="none"/>
<path d="M464 438h0M463 438h0M508 492h0M435 489h0M457 487h0M458 490h0M481 454h0M481 452h0M466 499h0M506 500h0M452 445h0M454 444h0M509 492h0M440 439h0M439 440h0M515 442h0M473 468h0M472 496h0M472 495h0M479 440h0M522 450h0M498 474h0M473 431h0M473 431h0M473 433h0M438 428h0M438 427h0M438 427h0M496 479h0M521 455h0M501 449h0M521 434h0M522 434h0M441 483h0M443 485h0M443 483h0M479 461h0M478 461h0M460 431h0M460 429h0M456 465h0M455 463h0M452 433h0M515 455h0M478 471h0M478 470h0M481 459h0M482 459h0M472 476h0M471 476h0M471 475h0M522 450h0M522 436h0M451 476h0M451 476h0M459 453h0M503 429h0M501 496h0M502 492h0M509 484h0M508 485h0M514 501h0M523 499h0M523 499h0M509 449h0M510 451h0M457 467h0M458 465h0M439 449h0M498 453h0M442 429h0M497 457h0M438 438h0M440 438h0M507 499h0M438 497h0M499 484h0M501 485h0M463 429h0M464 430h0M514 482h0M515 482h0M493 428h0M482 458h0M482 458h0M506 456h0M504 456h0M505 457h0M483 497h0M484 498h0M485 497h0M477 468h0M483 462h0M499 469h0M437 437h0M517 485h0M516 484h0M480 463h0M479 465h0M524 469h0M461 459h0M462 457h0M461 459h0M510 477h0M509 475h0M505 484h0M508 482h0M506 484h0M456 441h0M455 439h0M505 498h0M505 497h0M482 447h0M484 447h0M487 480h0M486 483h0M444 442h0M445 441h0M440 464h0M507 485h0M477 494h0M458 482h0M457 482h0M458 483h0M523 451h0M522 450h0M523 449h0M507 450h0M507 448h0M508 449h0M437 448h0M514 463h0M513 463h0M443 452h0M443 452h0M442 451h0M445 450h0M512 494h0M458 435h0M453 462h0M473 446h0M473 449h0M436 487h0M519 448h0M522 431h0M521 432h0M522 443h0M521 443h0M479 448h0M453 444h0M502 451h0M503 453h0M464 438h0M495 442h0M496 444h0M472 476h0M472 475h0M472 476h0M436 485h0M434 485h0M510 465h0M511 463h0M522 472h0M522 472h0M482 450h0M488 476h0M487 477h0M488 478h0M466 442h0M465 439h0M468 440h0M469 462h0M470 462h0M479 443h0M479 443h0M481 445h0M451 482h0M451 480h0M452 481h0M498 429h0M508 471h0M509 470h0M479 463h0M478 463h0M477 464h0M476 454h0M523 464h0M523 464h0M502 430h0M508 483h0M509 482h0M455 437h0M478 442h0M477 442h0M477 444h0M439 479h0M440 477h0M444 491h0M443 491h0M445 491h0M511 476h0M490 458h0M488 458h0M491 456h0M466 463h0M467 464h0M491 474h0M506 502h0M507 502h0M507 503h0M484 442h0M484 442h0M522 466h0M439 494h0M437 494h0M500 447h0M493 433h0M495 433h0M505 491h0M506 491h0M457 470h0M473 472h0M473 472h0M511 470h0M439 478h0M502 490h0M447 452h0M448 451h0M447 452h0M513 445h0M513 447h0M510 446h0M495 482h0M494 482h0M493 481h0M500 442h0M500 441h0M462 446h0M462 445h0M463 446h0M499 459h0M487 434h0M440 453h0M439 451h0M439 452h0M449 439h0M449 439h0M482 445h0M440 452h0M442 451h0M465 437h0M466 437h0M465 431h0M462 432h0M479 446h0M510 486h0M507 487h0M458 489h0M457 490h0M434 463h0M435 464h0M510 474h0M468 450h0M467 452h0M435 492h0M434 492h0M435 497h0M436 497h0M435 497h0M470 498h0M469 500h0M468 499h0M494 485h0M495 483h0M465 456h0M455 437h0M454 437h0M456 435h0M465 426h0M465 427h0M485 482h0M487 481h0M487 480h0M495 493h0M495 494h0M494 492h0M462 430h0M476 435h0M477 433h0M513 467h0M513 465h0M510 486h0M510 485h0M509 486h0M508 474h0M452 426h0M439 428h0M441 429h0M441 486h0M486 443h0M466 468h0M465 468h0M455 441h0M468 448h0M498 433h0M474 431h0M524 462h0M524 463h0M523 462h0M467 456h0M467 494h0M467 497h0M467 495h0M452 432h0M453 431h0M504 429h0M501 429h0M499 437h0M455 439h0M441 483h0M479 467h0M479 466h0M479 467h0M468 466h0M467 464h0M438 494h0M438 496h0M463 468h0M464 466h0M439 462h0M441 461h0M443 462h0M490 495h0M489 496h0M489 493h0M450 439h0M451 441h0M519 481h0M469 446h0M470 450h0M471 448h0M440 432h0M439 430h0M496 444h0M494 442h0M467 495h0M466 496h0M467 497h0M481 463h0M481 463h0M513 454h0M512 453h0M510 454h0M477 498h0M478 498h0M475 489h0M477 489h0M481 496h0M484 497h0M438 488h0M441 488h0M500 436h0M502 437h0M442 439h0M440 440h0M473 456h0M497 439h0M499 439h0M484 493h0M512 496h0M508 429h0M510 431h0M508 449h0M510 448h0M492 447h0M493 448h0M468 446h0M477 466h0M477 467h0M484 484h0M488 459h0M486 456h0M486 457h0M515 443h0M515 444h0M444 483h0M469 455h0M465 433h0M466 432h0M474 440h0M480 440h0M480 439h0M480 439h0M467 445h0M496 458h0M505 490h0M493 435h0M494 438h0M480 453h0M480 455h0M523 459h0M525 460h0M506 444h0M505 444h0M508 442h0M466 431h0M450 428h0M450 427h0M521 455h0M439 455h0M496 444h0M495 446h0M497 446h0M453 494h0M454 495h0M489 500h0M459 499h0M458 499h0M475 464h0M476 465h0M475 464h0M494 499h0M507 500h0M507 500h0M457 435h0M445 483h0M453 429h0M452 429h0M453 427h0M469 426h0M469 428h0M476 463h0M452 463h0M451 463h0M459 439h0M460 438h0M507 469h0M508 468h0M479 434h0M496 496h0M443 499h0M441 500h0M523 485h0M524 485h0M450 500h0M446 431h0M446 431h0M447 431h0M437 433h0M435 433h0M469 446h0M468 446h0M470 446h0M513 474h0M514 474h0M514 474h0M514 499h0M514 498h0M520 485h0M511 470h0M442 477h0M459 482h0M446 432h0M446 432h0M463 464h0M461 465h0M452 446h0M449 447h0M450 445h0M525 449h0M524 450h0M523 449h0M523 458h0M441 451h0M441 450h0M507 473h0M506 472h0M463 428h0M463 428h0M463 426h0M487 464h0M486 463h0M465 464h0M465 464h0M479 438h0M479 439h0M483 437h0M485 475h0M453 452h0M453 451h0M488 488h0M488 487h0M463 474h0M464 474h0M499 502h0M465 459h0M464 459h0M481 446h0M470 483h0M514 476h0M523 483h0M521 485h0M492 467h0M472 486h0M471 486h0M441 495h0M442 494h0M516 428h0M518 429h0M517 428h0M486 451h0M486 467h0M486 465h0M486 466h0M455 444h0M507 463h0M509 463h0M510 463h0M458 429h0M456 429h0M457 428h0M437 449h0M521 468h0M523 469h0M509 467h0M509 468h0M478 439h0M476 439h0M489 484h0M490 483h0M518 477h0M446 484h0M436 475h0M436 474h0M505 486h0M442 483h0M440 483h0M450 450h0M453 450h0M465 475h0M453 476h0M498 491h0M496 491h0M456 495h0M456 495h0M490 455h0M491 456h0M491 454h0M453 440h0M452 440h0M455 471h0M457 471h0M456 470h0M454 468h0M453 468h0M521 461h0M474 500h0M475 500h0M521 495h0M477 494h0M453 464h0M452 463h0M463 461h0M439 433h0M438 433h0M438 433h0M509 479h0M489 468h0M456 452h0M458 452h0M455 452h0M497 458h0M512 442h0M509 442h0M467 455h0M503 449h0M451 479h0M480 479h0M480 480h0M480 480h0M469 448h0M466 448h0M465 447h0M439 474h0M516 442h0M516 442h0M518 442h0M440 493h0M490 473h0M478 443h0M479 441h0M478 441h0M443 480h0M439 477h0M480 456h0M509 484h0M475 473h0M489 501h0M489 500h0M460 474h0M461 473h0M458 472h0M486 489h0M519 455h0M518 453h0M447 450h0M447 449h0M515 481h0M516 480h0M434 497h0M434 497h0M459 434h0M459 434h0M501 477h0M482 496h0M483 496h0M486 479h0M482 434h0M483 437h0M459 498h0M457 462h0M438 434h0M436 435h0M439 433h0" stroke="#dc6c48" stroke-width="1.7" stroke-linecap="round" fill="none"/>
<path d="M485 498h0M485 442h0M485 442h0M497 447h0M449 463h0M447 463h0M449 462h0M477 476h0M478 476h0M476 478h0M479 443h0M477 442h0M496 465h0M516 455h0M517 452h0M516 453h0M493 486h0M464 466h0M480 480h0M482 478h0M509 439h0M509 439h0M457 485h0M496 463h0M496 462h0M496 463h0M516 443h0M518 442h0M506 458h0M506 459h0M446 469h0M514 435h0M440 489h0M438 489h0M471 476h0M453 427h0M498 494h0M498 495h0M523 461h0M519 445h0M518 444h0M519 446h0M442 472h0M441 471h0M440 471h0M461 428h0M515 458h0M515 458h0M456 457h0M457 459h0M468 446h0M467 448h0M476 486h0M476 487h0M470 436h0M471 436h0M453 477h0M480 465h0M459 469h0M501 478h0M501 481h0M475 479h0M474 477h0M473 495h0M473 494h0M452 433h0M452 432h0M461 427h0M461 425h0M445 478h0M458 478h0M441 468h0M443 467h0M442 467h0M460 501h0M489 452h0M488 451h0M466 466h0M519 463h0M521 463h0M441 469h0M439 470h0M456 443h0M516 489h0M514 488h0M501 484h0M448 482h0M439 445h0M466 497h0M466 495h0M464 495h0M510 474h0M480 497h0M484 483h0M484 484h0M485 484h0M439 469h0M438 466h0M438 469h0M448 449h0M448 449h0M491 438h0M500 479h0M501 479h0M450 499h0M517 492h0M517 493h0M508 427h0M506 429h0M505 429h0M519 477h0M519 477h0M518 476h0M521 472h0M522 471h0M521 473h0M513 429h0M446 483h0M477 429h0M478 429h0M461 502h0M496 472h0M479 501h0M511 493h0M509 491h0M510 492h0M452 458h0M507 467h0M507 467h0M506 469h0M470 430h0M469 430h0M476 440h0M478 438h0M459 430h0M458 430h0M494 456h0M494 456h0M515 478h0M514 475h0M449 440h0M494 468h0M462 486h0M461 487h0M474 482h0M516 455h0M507 461h0M523 473h0M523 472h0M433 434h0M434 432h0M435 432h0M436 431h0M493 463h0M517 451h0M517 452h0M447 466h0M448 466h0M498 434h0M511 487h0M491 492h0M491 494h0M467 483h0M465 483h0M498 500h0M497 498h0M448 479h0M452 490h0M453 489h0M475 440h0M477 442h0M476 441h0M519 469h0M460 462h0M511 472h0M512 471h0M502 488h0M502 488h0M513 439h0M516 437h0M514 440h0M466 443h0M519 482h0M452 449h0M515 439h0M437 437h0M474 433h0M473 433h0M475 433h0M434 478h0M436 478h0M507 460h0M517 487h0M520 500h0M449 463h0M450 466h0M434 495h0M478 434h0M479 437h0M478 438h0M465 455h0M515 459h0M517 459h0M523 455h0M523 456h0M503 492h0M503 495h0M485 450h0M483 448h0M510 468h0M486 448h0M484 448h0M484 448h0M461 440h0M463 443h0M461 441h0M441 497h0M440 497h0M439 497h0M455 433h0M454 434h0M455 433h0M480 429h0M479 428h0M481 430h0M463 487h0M463 485h0M462 485h0M451 471h0M484 466h0M439 496h0M441 497h0M506 457h0M443 431h0M444 431h0M442 431h0M469 460h0M469 459h0M484 429h0M453 434h0M450 434h0M463 470h0M461 472h0M462 471h0M505 429h0M446 449h0M471 441h0M501 429h0M499 430h0M482 430h0M482 430h0M502 472h0M502 470h0M477 426h0M453 467h0M450 482h0M499 444h0M500 444h0M519 437h0M437 498h0M438 497h0M461 482h0M462 482h0M461 481h0M446 484h0M445 483h0M474 435h0M440 480h0M441 483h0M480 473h0M481 474h0M509 486h0M461 433h0M463 435h0M455 438h0M457 439h0M458 441h0M463 437h0M519 447h0M509 453h0M507 451h0M507 452h0M446 432h0M446 432h0M512 438h0M520 451h0M523 450h0M457 434h0M458 432h0M490 467h0M469 444h0M468 442h0M472 442h0M463 436h0M462 436h0M465 429h0M464 429h0M465 430h0M455 463h0M449 445h0M449 444h0M449 444h0M501 495h0M442 502h0M444 441h0M445 443h0M437 484h0M439 484h0M512 455h0M510 454h0M487 490h0M496 438h0M496 438h0M495 439h0M438 480h0M458 499h0M499 427h0M498 425h0M497 425h0M479 451h0M479 452h0M512 478h0M514 451h0M516 451h0M453 450h0M439 461h0M470 490h0M468 488h0M441 467h0M461 465h0M461 462h0M461 461h0M442 463h0M520 434h0M520 432h0M476 459h0M474 456h0M517 433h0M516 433h0M489 488h0M499 457h0M499 459h0M464 437h0M488 464h0" stroke="#e48858" stroke-width="1.7" stroke-linecap="round" fill="none"/>
<path d="M469 500h0M470 500h0M454 456h0M452 455h0M449 437h0M491 487h0M522 469h0M459 472h0M461 474h0M461 472h0M475 489h0M460 432h0M458 431h0M506 442h0M508 442h0M470 427h0M516 431h0M485 454h0M485 454h0M454 457h0M457 452h0M468 485h0M469 487h0M458 445h0M456 445h0M459 444h0M510 488h0M510 487h0M511 489h0M498 467h0M519 444h0M470 494h0M479 447h0M481 449h0M523 441h0M523 440h0M522 441h0M490 427h0M492 428h0M492 428h0M482 472h0M438 473h0M437 473h0M486 489h0M484 490h0M513 458h0M445 499h0M505 447h0M504 448h0M439 467h0M440 468h0M516 487h0M468 428h0M499 468h0M498 470h0M515 433h0M463 440h0M471 464h0M513 478h0M516 478h0M479 428h0M450 447h0M470 431h0M455 464h0M455 463h0M462 435h0M457 440h0M458 440h0M510 471h0M445 455h0M448 456h0M483 497h0M482 498h0M484 495h0M510 451h0M508 449h0M440 470h0M439 469h0M440 468h0M474 460h0M495 435h0M496 434h0M483 502h0M451 430h0M471 449h0M470 450h0M511 465h0M509 461h0M508 461h0M476 456h0M473 457h0M473 456h0M474 465h0M474 464h0M474 464h0M518 433h0M518 432h0M517 433h0M480 501h0M479 480h0M480 478h0M485 457h0M484 458h0M484 456h0M466 437h0M510 468h0M445 482h0M462 454h0M477 464h0M476 465h0M522 482h0M435 485h0M435 485h0M474 494h0M474 493h0M489 474h0M499 475h0M524 473h0M515 463h0M438 500h0M439 500h0M506 464h0M506 464h0M467 431h0M486 450h0M487 450h0M485 451h0M455 438h0M455 441h0M457 440h0M471 440h0M472 440h0M450 475h0M448 474h0M446 476h0M464 452h0M462 456h0M462 455h0M511 463h0M444 447h0M443 447h0M514 434h0M519 477h0M434 429h0M434 429h0M438 452h0M436 454h0M474 458h0M461 442h0M445 501h0M478 440h0M480 438h0M481 435h0M481 435h0M507 469h0M463 455h0M463 455h0M455 491h0M443 453h0M443 452h0M445 451h0M485 495h0M511 484h0M510 483h0M476 483h0M435 450h0M475 454h0M524 464h0M525 462h0M508 501h0M470 428h0M487 436h0M481 487h0M480 487h0M477 492h0M512 432h0M445 446h0M470 493h0M467 492h0M447 486h0M498 476h0M487 435h0M454 461h0M456 461h0M456 460h0M466 453h0M453 443h0M456 444h0M454 444h0M465 444h0M474 434h0M474 434h0M474 435h0M454 478h0M456 477h0M518 480h0M442 430h0M442 432h0M502 487h0M494 464h0M495 464h0M522 484h0M505 490h0M507 492h0M446 454h0M445 454h0" stroke="#ecb868" stroke-width="1.7" stroke-linecap="round" fill="none"/>
<path d="M486 442h0M496 446h0M493 486h0M521 436h0M493 484h0M441 481h0M441 481h0M500 494h0M523 462h0M466 446h0M476 485h0M478 467h0M498 429h0M500 426h0M498 428h0M474 493h0M461 428h0M446 476h0M500 460h0M520 465h0M439 471h0M502 478h0M480 453h0M483 453h0M482 450h0M503 474h0M501 474h0M512 427h0M448 484h0M476 429h0M452 456h0M496 438h0M437 486h0M495 472h0M462 485h0M474 482h0M523 471h0M494 464h0M487 475h0M489 477h0M453 453h0M491 434h0M465 483h0M454 489h0M471 466h0M472 465h0M481 486h0M480 486h0M479 488h0M515 471h0M521 501h0M438 494h0M523 455h0M504 494h0M450 471h0M485 467h0M446 449h0M517 449h0M505 457h0M469 458h0M451 436h0M501 430h0M483 431h0M502 470h0M520 437h0M513 457h0M511 467h0M445 483h0M472 434h0M439 482h0M481 472h0M460 433h0M520 445h0M447 432h0M511 438h0M505 445h0M440 477h0M463 435h0M455 455h0M456 465h0M454 464h0M475 434h0M459 501h0M445 444h0M511 454h0M488 489h0M436 480h0M438 480h0M512 479h0M515 450h0M439 466h0M519 432h0M476 457h0M518 433h0M488 486h0M488 487h0M500 456h0M465 435h0" stroke="#e48858" stroke-width="2.7" stroke-linecap="round" fill="none"/>
<path d="M454 455h0M451 434h0M452 436h0M522 469h0M476 491h0M475 447h0M455 451h0M470 487h0M480 447h0M506 448h0M469 428h0M457 466h0M459 465h0M516 433h0M463 442h0M482 429h0M450 448h0M450 447h0M470 480h0M509 436h0M470 433h0M476 502h0M456 463h0M457 442h0M508 471h0M510 451h0M476 461h0M474 459h0M497 434h0M451 429h0M508 462h0M474 432h0M475 433h0M474 433h0M478 479h0M466 480h0M467 480h0M507 468h0M447 482h0M524 480h0M524 483h0M437 485h0M489 472h0M500 476h0M465 489h0M482 445h0M515 461h0M523 428h0M507 465h0M474 442h0M514 434h0M514 433h0M477 486h0M440 455h0M521 478h0M520 479h0M475 431h0M463 455h0M455 492h0M434 452h0M436 451h0M502 472h0M517 452h0M446 445h0M469 492h0M465 451h0M454 477h0M518 481h0M518 481h0M442 432h0M442 456h0M442 455h0M442 453h0" stroke="#ecb868" stroke-width="2.7" stroke-linecap="round" fill="none"/>
</g>
<rect x="435.3" y="427.4" width="88" height="73.6" fill="none" stroke="#333" stroke-width="1"/>
<clipPath id="cp18"><rect x="525.3" y="427.4" width="88.3" height="73.6"/></clipPath>
<g clip-path="url(#cp18)">
<rect x="525.3" y="427.4" width="88.3" height="73.6" fill="#fbf6f2"/>
<path d="M545 499h0M566 470h0M590 430h0M612 459h0M609 484h0M591 497h0M545 454h0M535 441h0M533 471h0M564 475h0M537 428h0M586 496h0M595 470h0M605 452h0M607 454h0M588 485h0M588 447h0M596 438h0M565 467h0M595 477h0M547 491h0M561 439h0M606 479h0M608 479h0M536 458h0M579 493h0M605 446h0M581 454h0M572 496h0M525 456h0M524 454h0M592 481h0M544 436h0M540 469h0M609 466h0M556 477h0M553 457h0M576 468h0M529 492h0M604 446h0M605 447h0M554 459h0M559 488h0M612 446h0M591 482h0M527 466h0M557 431h0M574 457h0M614 476h0M560 475h0M562 430h0M562 432h0M529 460h0M525 463h0M535 497h0M590 431h0M592 430h0M605 447h0M546 443h0M546 444h0M589 432h0M588 433h0M545 434h0M563 470h0M554 441h0M547 446h0M608 462h0" stroke="#bc6a40" stroke-width="2.8" stroke-linecap="round" fill="none"/>
<path d="M597 465h0M598 465h0M534 432h0M534 431h0M535 432h0M600 463h0M601 464h0M601 464h0M545 430h0M544 428h0M526 485h0M526 484h0M525 454h0M526 455h0M526 454h0M608 499h0M608 501h0M607 502h0M583 435h0M584 434h0M583 433h0M579 454h0M581 452h0M578 453h0M612 449h0M613 446h0M612 446h0M614 495h0M615 497h0M598 481h0M599 481h0M540 484h0M540 484h0M541 484h0M543 444h0M587 500h0M585 501h0M560 437h0M559 438h0M580 437h0M584 462h0M583 461h0M564 449h0M564 448h0M565 448h0M584 450h0M553 429h0M609 459h0M609 459h0M572 472h0M574 472h0M572 473h0M580 438h0M578 438h0M590 457h0M589 456h0M525 479h0M526 481h0M532 451h0M533 451h0M530 489h0M528 488h0M531 489h0M589 446h0M605 477h0M567 478h0M603 475h0M562 441h0M545 432h0M545 428h0M581 449h0M582 487h0M581 487h0M580 486h0M542 444h0M546 456h0M583 448h0M584 448h0M555 496h0M552 451h0M603 476h0M563 467h0M562 468h0M532 456h0M530 455h0M592 435h0M592 436h0M555 442h0M562 499h0M562 498h0M544 489h0M561 468h0M561 467h0M585 499h0M588 498h0M585 498h0M589 479h0M588 480h0M603 447h0M532 488h0M531 486h0M529 487h0M603 472h0M603 471h0M589 436h0M599 449h0M601 448h0M599 447h0M534 469h0M572 446h0M573 445h0M573 448h0M546 466h0M601 496h0M599 496h0M591 433h0M584 472h0M583 470h0M592 433h0M592 434h0M575 438h0M576 437h0M558 444h0M593 432h0M585 494h0M593 450h0M603 464h0M603 464h0M549 463h0M547 463h0M582 482h0M527 439h0M525 437h0M527 439h0M601 492h0M604 492h0M602 492h0M546 502h0M545 502h0M587 436h0M589 435h0M610 494h0M611 494h0M584 487h0M583 487h0M584 487h0M559 489h0M541 428h0M540 428h0M563 439h0M562 439h0M575 458h0M568 459h0M599 466h0M575 442h0M574 443h0M574 442h0M605 501h0M603 502h0M602 502h0M592 475h0M593 477h0M549 474h0M549 475h0M539 465h0M540 464h0M588 438h0M588 438h0M578 501h0M577 501h0M576 468h0M575 470h0M576 469h0M539 454h0M530 481h0M540 469h0M568 493h0M546 476h0M592 456h0M604 473h0M560 494h0M558 493h0M558 494h0M583 456h0M581 458h0M581 457h0M603 486h0M614 451h0M591 468h0M592 467h0M543 502h0M543 500h0M552 450h0M553 448h0M551 450h0M568 468h0M567 470h0M568 466h0M582 445h0M583 443h0M581 445h0M599 466h0M600 468h0M603 480h0M602 481h0M589 434h0M587 434h0M595 481h0M607 426h0M606 427h0M605 426h0M599 454h0M597 455h0M615 490h0M613 492h0M581 474h0M554 436h0M552 436h0M555 437h0M537 495h0M584 438h0M552 433h0M551 434h0M550 431h0M607 442h0M555 453h0M556 452h0M556 453h0M586 487h0M592 453h0M557 482h0M575 463h0M541 474h0M542 473h0M530 441h0M558 490h0M559 490h0M557 490h0M569 474h0M540 463h0M565 455h0M563 453h0M593 488h0M594 488h0M592 488h0M614 489h0M613 436h0M582 448h0M580 449h0M592 488h0M592 486h0M573 434h0M573 433h0M573 434h0M591 476h0M577 444h0M589 467h0M535 447h0M536 446h0M536 446h0M586 461h0M587 463h0M535 473h0M604 459h0M602 461h0M526 461h0M580 468h0M549 496h0M590 461h0M579 446h0M579 446h0M559 464h0M603 465h0M601 464h0M600 469h0M601 470h0M602 470h0M572 481h0M573 482h0M528 482h0M597 454h0M597 456h0M542 493h0M613 453h0M611 454h0M611 452h0M583 445h0M602 434h0M602 432h0M603 433h0M579 460h0M577 461h0M558 451h0M557 448h0M556 448h0M588 454h0M590 455h0M579 448h0M577 447h0M578 450h0M607 450h0M607 453h0M607 453h0M585 469h0M583 469h0M586 468h0M594 449h0M582 436h0M583 434h0M583 437h0M529 480h0M528 478h0M547 439h0M532 473h0M592 454h0M555 458h0M605 454h0M604 453h0M567 476h0M567 456h0M566 455h0M579 452h0M579 452h0M600 502h0M602 500h0M562 450h0M610 462h0M611 462h0M607 488h0M540 483h0M542 483h0M537 481h0M595 474h0M553 431h0M554 430h0M552 431h0M598 474h0M595 474h0M599 460h0M599 461h0M591 474h0M590 475h0M591 476h0M550 434h0M549 431h0M577 456h0M559 439h0M613 429h0M614 430h0M581 433h0M580 433h0M555 445h0M556 445h0M567 433h0M552 448h0M554 450h0M541 478h0M559 480h0M560 480h0M560 480h0M597 487h0M602 491h0M603 491h0M602 492h0M613 468h0M612 468h0M571 431h0M540 460h0M555 444h0M553 443h0M606 447h0M554 440h0M610 479h0M568 435h0M603 429h0M534 475h0M535 475h0M535 479h0M558 494h0M558 494h0M559 491h0M525 446h0M523 449h0M525 446h0M543 456h0M541 458h0M528 499h0M611 454h0M612 455h0M537 429h0M562 467h0M563 469h0M561 469h0M536 450h0M536 452h0M536 451h0M555 484h0M593 426h0M592 428h0M591 427h0M546 471h0M584 460h0M585 459h0M585 460h0M587 481h0M596 498h0M580 483h0M590 501h0M593 501h0M597 431h0M614 483h0M613 484h0M577 430h0M530 482h0M548 440h0M548 439h0M562 440h0M560 440h0M591 478h0M573 435h0M594 460h0M589 497h0M589 499h0M589 499h0M578 480h0M576 481h0M526 465h0M527 464h0M528 466h0M562 445h0M562 445h0M545 479h0M545 480h0M545 479h0M561 436h0M562 435h0M602 495h0M588 446h0M588 447h0M588 447h0M575 433h0M577 433h0M587 479h0M540 441h0M543 442h0M541 442h0M533 457h0M532 458h0M532 456h0M610 497h0M569 482h0M568 482h0M592 464h0M549 492h0M548 493h0M548 493h0M558 499h0M611 460h0M613 459h0M591 474h0M590 475h0M592 473h0M605 459h0M550 471h0M601 427h0M600 427h0M538 450h0M539 451h0M539 451h0M602 464h0M604 463h0M601 466h0M601 480h0M601 481h0M558 429h0M559 429h0M581 456h0M586 470h0M550 445h0M584 495h0M584 493h0M548 440h0M591 462h0M591 462h0M577 437h0M578 439h0M579 439h0M602 463h0M601 462h0M599 464h0M550 464h0M606 498h0M605 498h0M580 463h0M582 464h0M575 487h0M540 462h0M538 462h0M553 452h0M570 495h0M570 495h0M563 460h0M561 460h0M562 459h0M577 430h0M577 430h0M548 465h0M556 464h0M557 464h0M555 464h0M585 468h0M590 436h0M589 435h0M589 436h0M558 449h0M583 454h0M538 446h0M590 432h0M592 431h0M560 477h0M558 478h0M560 449h0M560 450h0M561 451h0M579 451h0M594 464h0M594 465h0M611 436h0M611 438h0M609 437h0M571 461h0M572 460h0M571 461h0M559 460h0M602 436h0M602 438h0M557 501h0M557 500h0M555 498h0M543 453h0M542 454h0M573 489h0M594 453h0M570 448h0M526 482h0M527 482h0M526 482h0M594 493h0M602 482h0M602 482h0M576 442h0M589 447h0M554 460h0M554 460h0" stroke="#c8784c" stroke-width="1.8" stroke-linecap="round" fill="none"/>
<path d="M526 446h0M525 448h0M576 483h0M589 466h0M589 464h0M613 431h0M588 440h0M554 491h0M585 466h0M587 466h0M586 464h0M547 494h0M545 494h0M546 497h0M613 470h0M610 461h0M611 462h0M546 442h0M571 488h0M609 448h0M609 449h0M588 498h0M589 498h0M556 500h0M533 455h0M534 455h0M544 469h0M545 470h0M575 452h0M575 450h0M528 426h0M526 427h0M529 426h0M528 446h0M529 448h0M572 473h0M582 481h0M581 480h0M580 481h0M590 467h0M589 468h0M554 461h0M611 473h0M586 443h0M523 486h0M524 487h0M543 450h0M543 450h0M597 497h0M595 497h0M597 495h0M552 502h0M599 499h0M537 434h0M554 498h0M554 498h0M555 497h0M591 467h0M591 465h0M546 475h0M554 442h0M600 473h0M601 472h0M595 457h0M595 455h0M565 487h0M563 488h0M592 494h0M592 495h0M591 496h0M590 489h0M590 488h0M592 489h0M536 476h0M527 492h0M555 473h0M529 442h0M529 443h0M591 450h0M602 487h0M603 488h0M544 455h0M545 457h0M573 476h0M572 475h0M575 476h0M593 486h0M589 482h0M545 441h0M545 439h0M544 439h0M606 455h0M609 453h0M601 437h0M600 440h0M599 437h0M590 440h0M610 430h0M610 430h0M609 463h0M553 501h0M601 481h0M540 465h0M540 467h0M548 439h0M595 496h0M528 485h0M530 484h0M539 498h0M537 499h0M538 499h0M555 433h0M555 434h0M563 476h0M540 431h0M574 453h0M580 436h0M581 436h0M540 489h0M540 487h0M539 488h0M603 447h0M602 447h0M542 500h0M543 501h0M588 497h0M586 496h0M574 470h0M574 469h0M585 433h0M587 432h0M587 433h0M532 492h0M531 493h0M541 499h0M541 498h0M563 434h0M563 434h0M562 433h0M593 427h0M578 468h0M576 468h0M578 492h0M606 458h0M605 459h0M610 476h0M609 477h0M538 470h0M592 438h0M594 436h0M588 485h0M588 485h0M557 455h0M557 453h0M604 496h0M604 494h0M543 483h0M550 491h0M527 491h0M556 498h0M554 497h0M555 498h0M611 489h0M613 489h0M612 449h0M613 449h0M531 454h0M529 451h0M597 488h0M562 478h0M561 477h0M560 477h0M586 493h0M603 491h0M541 440h0M565 451h0M566 451h0M565 452h0M534 489h0M534 468h0M535 468h0M553 493h0M553 495h0M582 486h0M582 486h0M583 486h0M568 482h0M569 482h0M543 440h0M543 442h0M567 490h0M604 477h0M601 476h0M604 478h0M524 471h0M537 459h0M535 460h0M533 428h0M544 443h0M543 444h0M543 445h0M592 439h0M594 438h0M594 438h0M584 430h0M583 429h0M614 463h0M612 463h0M575 475h0M576 478h0M587 499h0M588 500h0M612 463h0M612 464h0M557 474h0M530 449h0M530 446h0M600 445h0M599 445h0M599 444h0M527 499h0M527 499h0M581 485h0M582 486h0M551 480h0M551 480h0M606 477h0M553 496h0M553 497h0M536 452h0M534 460h0M553 464h0M552 465h0" stroke="#d8966c" stroke-width="1.8" stroke-linecap="round" fill="none"/>
<path d="M565 468h0M589 428h0M589 429h0M612 459h0M538 481h0M613 487h0M609 486h0M545 455h0M590 471h0M592 469h0M535 441h0M536 440h0M533 468h0M601 453h0M563 472h0M566 472h0M534 427h0M536 426h0M575 496h0M573 497h0M529 435h0M587 495h0M585 496h0M597 469h0M587 428h0M589 429h0M588 427h0M577 478h0M577 478h0M529 462h0M528 461h0M615 427h0M610 498h0M609 498h0M591 437h0M593 437h0M606 455h0M611 467h0M540 461h0M541 429h0M587 497h0M587 495h0M588 495h0M584 478h0M583 477h0M587 485h0M588 482h0M614 470h0M613 470h0M564 433h0M565 433h0M591 430h0M591 429h0M597 437h0M564 467h0M567 468h0M605 491h0M604 490h0M605 491h0M586 481h0M587 482h0M565 474h0M564 475h0M588 493h0M541 434h0M539 435h0M541 435h0M535 461h0M596 478h0M596 477h0M564 448h0M531 445h0M547 490h0M547 490h0M561 437h0M542 471h0M542 470h0M553 498h0M595 439h0M595 440h0M581 489h0M582 489h0M602 497h0M573 490h0M607 480h0M581 467h0M589 450h0M582 460h0M539 458h0M579 495h0M578 494h0M580 490h0M581 491h0M581 491h0M581 455h0M579 455h0M574 479h0M577 481h0M576 480h0M532 429h0M533 429h0M612 431h0M573 497h0M574 495h0M529 467h0M602 438h0M601 438h0M601 437h0M593 481h0M592 482h0M581 463h0M579 465h0M605 480h0M605 480h0M557 476h0M548 466h0M547 466h0M601 486h0M563 436h0M532 492h0M606 501h0M608 428h0M607 430h0M541 469h0M540 469h0M602 475h0M554 502h0M552 501h0M581 460h0M580 461h0M535 446h0M536 445h0M535 445h0M552 477h0M549 475h0M552 478h0M608 466h0M547 449h0M546 447h0M544 466h0M611 462h0M610 463h0M525 479h0M524 479h0M524 481h0M557 478h0M553 456h0M530 441h0M559 482h0M579 464h0M580 463h0M577 468h0M576 468h0M595 494h0M596 496h0M530 492h0M612 500h0M613 499h0M602 447h0M595 499h0M575 496h0M577 497h0M580 440h0M613 447h0M611 446h0M556 443h0M556 444h0M556 444h0M589 446h0M603 480h0M604 481h0M602 439h0M602 442h0M541 467h0M543 465h0M538 431h0M539 429h0M544 455h0M544 453h0M544 456h0M603 483h0M542 485h0M596 443h0M594 440h0M596 440h0M556 431h0M557 432h0M574 457h0M574 457h0M590 493h0M530 458h0M527 458h0M609 486h0M600 475h0M600 474h0M575 432h0M577 430h0M613 474h0M613 474h0M531 470h0M537 462h0M536 463h0M534 463h0M561 475h0M562 475h0M548 480h0M544 480h0M548 482h0M612 478h0M596 476h0M562 431h0M528 462h0M530 463h0M595 497h0M595 496h0M535 498h0M534 497h0M590 430h0M592 456h0M596 478h0M598 476h0M582 492h0M583 490h0M582 491h0M605 448h0M542 459h0M542 460h0M546 443h0M589 434h0M575 487h0M577 485h0M576 485h0M547 436h0M600 495h0M549 456h0M573 442h0M575 442h0M605 435h0M607 438h0M606 436h0M574 468h0M574 470h0M586 460h0M586 460h0M585 459h0M603 457h0M601 456h0M602 456h0M554 440h0M551 441h0M547 446h0M608 462h0M609 461h0" stroke="#bc6a40" stroke-width="1.8" stroke-linecap="round" fill="none"/>
<path d="M543 427h0M614 496h0M546 442h0M587 503h0M609 459h0M579 438h0M526 480h0M590 446h0M555 496h0M563 467h0M534 495h0M544 490h0M589 480h0M601 446h0M604 444h0M602 472h0M613 429h0M561 441h0M575 459h0M575 482h0M576 479h0M599 466h0M549 448h0M538 466h0M541 454h0M542 454h0M533 479h0M531 481h0M610 438h0M547 474h0M595 502h0M594 455h0M604 473h0M586 496h0M605 485h0M614 453h0M544 503h0M599 468h0M601 479h0M527 481h0M536 493h0M598 455h0M537 496h0M537 496h0M585 438h0M584 439h0M597 460h0M558 482h0M589 456h0M590 457h0M576 463h0M576 467h0M564 456h0M593 488h0M576 444h0M574 443h0M589 474h0M587 461h0M603 460h0M594 462h0M604 463h0M586 451h0M542 437h0M528 482h0M529 457h0M597 455h0M542 493h0M543 494h0M608 451h0M591 447h0M529 478h0M530 472h0M566 454h0M578 451h0M611 461h0M608 489h0M608 488h0M540 484h0M594 475h0M595 473h0M600 460h0M577 454h0M579 431h0M566 433h0M567 433h0M553 451h0M555 439h0M556 441h0M533 472h0M610 453h0M547 471h0M548 471h0M595 436h0M548 439h0M559 439h0M591 481h0M563 446h0M562 435h0M601 495h0M610 492h0M592 462h0M601 427h0M602 482h0M569 441h0M548 440h0M544 453h0M552 501h0M552 499h0M553 500h0M605 499h0M581 465h0M570 493h0M584 466h0M527 442h0M526 441h0M591 432h0M581 451h0M569 485h0M542 453h0M535 500h0M602 482h0M575 440h0M552 460h0" stroke="#c8784c" stroke-width="2.8" stroke-linecap="round" fill="none"/>
<path d="M604 492h0M589 465h0M578 463h0M610 449h0M545 471h0M554 462h0M611 472h0M553 502h0M597 455h0M525 494h0M557 473h0M544 455h0M584 482h0M584 483h0M591 483h0M608 454h0M610 465h0M539 434h0M537 433h0M540 466h0M552 481h0M565 475h0M580 437h0M543 500h0M531 493h0M594 429h0M579 490h0M539 471h0M589 486h0M546 483h0M587 491h0M586 491h0M614 452h0M530 452h0M603 491h0M609 438h0M609 439h0M534 469h0M545 489h0M542 502h0M542 501h0M569 481h0M542 442h0M527 469h0M611 463h0M555 477h0M570 432h0M582 487h0M614 433h0M536 454h0" stroke="#d8966c" stroke-width="2.8" stroke-linecap="round" fill="none"/>
<ellipse cx="553.2" cy="438.6" rx="6.7" ry="6.7" transform="rotate(0 553.2 438.6)" fill="none" stroke="#f0dcd4" stroke-width="2.2" opacity="0.7" filter="url(#sb2)"/>
<ellipse cx="553.2" cy="438.6" rx="5.5" ry="5.5" transform="rotate(0 553.2 438.6)" fill="#e4aa9c" opacity="0.85" filter="url(#sb2)"/>
<path d="M551 441.3h0M555.7 438.5h0M557.1 439.9h0M552.9 438.1h0M557 439.4h0M556.8 436.6h0M552.1 441.6h0M549.5 440.6h0" stroke="#f4e0dc" stroke-width="1.1" stroke-linecap="round" fill="none" opacity="0.8"/>
<path d="M552.3 437.2h0M553.9 437.3h0M550.8 437.2h0M552.5 436.1h0M554.5 442.6h0M556.8 436.8h0M557.3 437.2h0" stroke="#c83838" stroke-width="1.2" stroke-linecap="round" fill="none" opacity="0.8"/>
<ellipse cx="565.2" cy="464.5" rx="3" ry="4.5" transform="rotate(0 565.2 464.5)" fill="#dc9888" opacity="0.85" filter="url(#sb2)"/>
<ellipse cx="574.5" cy="488.4" rx="7.7" ry="7.7" transform="rotate(0 574.5 488.4)" fill="none" stroke="#f0dcd4" stroke-width="2.2" opacity="0.7" filter="url(#sb2)"/>
<ellipse cx="574.5" cy="488.4" rx="6.5" ry="6.5" transform="rotate(0 574.5 488.4)" fill="#e4aa9c" opacity="0.85" filter="url(#sb2)"/>
<path d="M579.7 488.2h0M576 492.7h0M571.2 486.7h0M571.5 484.9h0M576.7 488h0M576 483.8h0M571 485h0M572.9 489.8h0M576.7 491.3h0M576.6 486h0M575.8 487.2h0" stroke="#f4e0dc" stroke-width="1.1" stroke-linecap="round" fill="none" opacity="0.8"/>
<path d="M575.7 491h0M570.6 487.7h0M571.6 485.2h0M579.4 490.2h0M569.9 486.4h0M573 486.8h0M571.2 488.8h0M578 484.9h0M571.8 493.1h0M577.3 490.3h0" stroke="#c83838" stroke-width="1.2" stroke-linecap="round" fill="none" opacity="0.8"/>
<path d="M548.6 439.3l-7.2 -3.8l0.5 5.2z" fill="#000"/>
<path d="M562.5 463.8l-7.2 -3.8l0.5 5.2z" fill="#000"/>
<path d="M568.5 487.8l-7.2 -3.8l0.5 5.2z" fill="#000"/>
</g>
<rect x="525.3" y="427.4" width="88.3" height="73.6" fill="none" stroke="#333" stroke-width="1"/>
<clipPath id="cp19"><rect x="434.5" y="514.4" width="88.9" height="73.8"/></clipPath>
<g clip-path="url(#cp19)">
<rect x="434.5" y="514.4" width="88.9" height="73.8" fill="#fdfaf6"/>
<path d="M476 542h0M476 559h0M476 560h0M444 559h0M448 551h0M449 551h0M446 553h0M480 517h0M480 518h0M523 544h0M438 529h0M439 528h0M445 544h0M443 545h0M443 540h0M443 517h0M443 536h0M443 538h0M479 573h0M479 574h0M463 543h0M464 543h0M495 544h0M438 513h0M449 530h0M448 532h0M458 589h0M459 588h0M458 585h0M467 572h0M468 572h0M446 570h0M507 523h0M492 565h0M434 566h0M470 512h0M470 513h0M484 548h0M484 549h0M484 549h0M471 570h0M472 570h0M475 575h0M474 575h0M494 522h0M473 540h0M472 541h0M475 540h0M440 518h0M513 530h0M434 537h0M442 536h0M443 536h0M438 554h0M465 540h0M464 537h0M496 577h0M462 561h0M462 560h0M466 536h0M481 549h0M480 550h0M480 552h0M483 553h0M445 573h0M444 577h0M445 578h0M523 523h0M524 523h0M510 545h0M510 543h0M511 544h0M473 564h0M474 565h0M473 564h0M492 547h0M453 546h0M453 545h0M510 576h0M510 577h0M508 575h0M514 551h0M513 552h0M515 551h0M472 531h0M472 532h0M469 529h0M506 527h0M446 572h0M444 573h0M443 573h0M521 544h0M476 566h0M513 526h0M515 525h0M470 571h0M509 579h0M509 577h0M508 577h0M441 559h0M467 568h0M468 567h0M521 547h0M522 547h0M505 580h0M484 532h0M483 534h0M482 533h0M451 516h0M467 520h0M511 575h0M511 574h0M441 538h0M510 587h0M510 590h0M469 542h0M467 540h0M486 570h0M485 570h0M522 588h0M525 589h0M516 582h0M517 582h0M498 566h0M469 557h0M469 556h0M461 514h0M456 540h0M500 567h0M480 566h0M443 518h0M441 519h0M441 518h0M505 520h0M487 557h0M487 557h0M488 556h0M480 562h0M481 560h0M482 564h0M515 546h0M515 547h0M513 547h0M513 590h0M513 591h0M516 534h0M516 533h0M517 534h0M461 546h0M462 546h0M491 522h0M518 530h0M520 530h0M520 528h0M440 574h0M473 585h0M473 585h0M473 584h0M519 549h0M518 549h0M507 529h0M507 529h0M451 560h0M435 543h0M437 541h0M520 568h0M519 570h0M449 541h0M480 579h0M482 580h0M523 567h0M523 566h0M444 518h0M460 567h0M518 517h0M520 519h0M442 587h0M439 587h0M510 530h0M461 560h0M460 560h0M466 541h0M453 523h0M454 522h0M452 524h0M523 542h0M494 586h0M493 586h0M469 557h0M467 558h0M443 532h0M515 544h0M449 568h0M491 564h0M492 563h0M521 582h0M519 583h0M476 516h0M477 516h0M480 549h0M457 526h0M458 526h0M505 580h0M506 578h0M465 588h0M521 562h0M518 562h0M521 559h0M523 560h0M439 584h0M463 541h0M458 570h0M459 569h0M457 571h0M470 556h0M511 585h0M511 587h0M493 554h0M491 556h0M502 527h0M501 526h0M470 514h0M471 515h0M485 547h0M486 546h0M486 532h0M521 519h0M504 561h0M472 536h0M512 587h0M512 589h0M456 526h0M466 577h0M471 547h0M473 547h0M459 582h0M473 515h0M476 516h0M522 562h0M464 551h0M464 552h0M437 582h0M435 582h0M508 585h0M448 562h0M517 516h0M516 515h0M482 566h0M481 567h0M496 580h0M452 553h0M451 554h0M476 580h0M480 565h0M447 581h0M445 582h0M512 570h0M511 570h0M470 547h0M470 546h0M470 548h0M470 579h0M470 580h0M485 552h0M485 552h0M469 554h0M468 554h0M437 531h0M446 554h0M445 555h0M446 556h0M476 572h0M475 571h0M476 571h0M485 588h0M481 580h0M484 581h0M484 582h0M511 528h0M483 577h0M486 577h0M485 576h0M444 564h0M443 565h0M439 565h0M457 580h0M439 527h0M441 558h0M474 549h0M451 532h0M485 540h0M488 543h0M491 532h0M492 532h0M494 551h0M493 550h0M506 561h0M465 536h0M519 547h0M518 544h0M441 540h0M471 555h0M471 553h0M471 554h0M470 583h0M491 573h0M492 573h0M471 557h0M471 559h0M464 557h0M448 515h0M435 534h0M465 541h0M464 539h0M465 541h0M444 518h0M443 516h0M519 585h0M456 582h0M457 582h0M452 556h0M452 558h0M476 573h0M484 523h0M484 523h0M484 523h0M499 531h0M512 529h0M513 528h0M511 528h0M449 568h0M449 569h0M449 569h0M454 551h0M520 566h0M458 522h0M471 516h0M510 588h0M511 587h0M455 541h0M447 514h0M447 513h0M469 544h0M468 542h0M468 543h0M517 575h0M516 574h0M446 549h0M482 562h0M482 563h0M510 518h0M514 560h0M513 561h0M514 563h0M454 584h0M483 576h0M484 577h0M467 566h0M467 566h0M467 566h0M506 561h0M505 562h0M504 560h0M503 525h0M492 581h0M457 552h0M480 573h0M515 583h0M451 551h0M470 553h0M470 551h0M477 558h0M464 554h0M463 554h0M462 553h0M434 572h0M464 522h0M503 586h0M503 586h0M505 587h0M482 517h0M484 517h0M452 563h0M483 533h0M461 514h0M462 513h0M477 582h0M449 575h0M506 524h0M451 590h0M450 589h0M461 549h0M445 575h0M456 526h0M521 574h0M507 575h0M505 575h0M520 526h0M521 525h0M521 524h0M442 561h0M517 586h0M515 575h0M515 574h0M498 562h0M455 557h0M455 557h0M522 586h0M437 590h0M438 590h0M448 566h0M442 551h0M444 551h0M441 522h0M439 523h0M442 520h0M502 565h0M504 564h0M503 565h0M437 531h0M437 533h0M438 532h0M521 563h0M519 563h0M470 561h0M470 561h0M518 551h0M516 551h0" stroke="#d48c5c" stroke-width="1.8" stroke-linecap="round" fill="none"/>
<path d="M475 560h0M521 545h0M494 544h0M437 515h0M467 572h0M500 525h0M446 570h0M506 523h0M435 565h0M468 513h0M505 555h0M517 555h0M519 556h0M473 570h0M475 576h0M493 523h0M513 529h0M464 538h0M461 561h0M480 548h0M523 522h0M451 545h0M514 525h0M465 560h0M441 558h0M507 580h0M464 523h0M511 588h0M469 543h0M487 569h0M506 520h0M512 589h0M489 521h0M488 523h0M454 535h0M478 582h0M507 531h0M509 530h0M510 529h0M465 543h0M434 537h0M435 538h0M435 538h0M524 542h0M516 543h0M491 563h0M519 582h0M436 557h0M491 577h0M478 517h0M477 551h0M506 579h0M518 562h0M521 560h0M462 541h0M480 578h0M473 584h0M473 585h0M470 558h0M491 532h0M490 515h0M505 563h0M504 562h0M451 544h0M473 544h0M457 585h0M458 585h0M474 514h0M445 520h0M435 583h0M445 563h0M460 573h0M494 579h0M451 554h0M483 563h0M481 565h0M511 569h0M469 554h0M439 527h0M441 559h0M442 557h0M472 549h0M474 548h0M472 537h0M485 542h0M494 551h0M504 557h0M465 536h0M518 545h0M491 571h0M448 515h0M513 546h0M513 544h0M499 532h0M499 531h0M508 587h0M445 515h0M517 573h0M446 547h0M435 565h0M492 556h0M439 517h0M457 553h0M479 574h0M480 572h0M479 557h0M463 522h0M481 516h0M452 562h0M453 563h0M450 578h0M506 524h0M506 525h0M461 551h0M511 570h0M520 574h0M440 563h0M441 562h0M516 588h0M516 574h0M454 556h0M523 588h0M522 586h0M449 564h0" stroke="#d48c5c" stroke-width="2.7" stroke-linecap="round" fill="none"/>
<path d="M518 558h0M518 556h0M518 558h0M479 557h0M492 521h0M492 519h0M491 520h0M485 515h0M466 585h0M466 584h0M465 583h0M482 558h0M485 559h0M499 520h0M436 570h0M436 572h0M502 549h0M502 549h0M471 582h0M497 522h0M497 522h0M476 584h0M476 585h0M492 523h0M492 525h0M504 519h0M464 577h0M435 565h0M433 565h0M435 566h0M496 570h0M453 555h0M485 515h0M486 514h0M485 515h0M457 532h0M455 531h0M520 515h0M520 518h0M519 517h0M435 588h0M465 514h0M465 516h0M465 515h0M438 587h0M437 588h0M500 565h0M507 562h0M481 558h0M480 579h0M479 578h0M479 578h0M447 562h0M435 534h0M433 535h0M439 543h0M507 548h0M508 547h0M507 548h0M511 525h0M521 569h0M523 570h0M457 558h0M448 576h0M459 563h0M455 550h0M454 550h0M494 553h0M467 519h0M505 544h0M505 543h0M506 543h0M458 582h0M501 558h0M497 560h0M499 558h0M460 546h0M479 538h0M453 524h0M452 524h0M447 577h0M498 514h0M442 532h0M443 532h0M448 563h0M440 550h0M440 548h0M440 549h0M479 552h0M508 552h0M514 576h0M442 519h0M444 518h0M513 573h0M512 574h0M459 521h0M459 519h0M438 530h0M436 530h0M438 530h0M499 521h0M501 522h0M443 543h0M520 556h0M500 590h0M501 589h0M486 566h0M502 520h0M503 522h0M495 568h0M494 569h0M505 586h0M504 586h0M506 587h0M501 534h0M467 526h0M499 563h0M440 579h0M438 579h0M439 580h0M436 577h0M437 576h0M511 579h0M437 582h0M481 578h0M465 563h0M522 563h0M444 560h0M466 513h0M437 563h0M436 563h0M456 540h0M455 541h0M454 540h0M487 582h0M485 582h0M491 529h0M489 532h0M484 583h0M503 578h0M469 588h0M467 587h0M496 558h0M459 552h0M461 551h0M478 554h0M478 554h0M463 567h0M462 565h0M501 519h0M502 521h0M482 560h0M483 557h0M483 558h0M433 536h0M498 574h0M519 553h0M444 552h0M481 551h0M519 579h0M449 518h0M503 538h0M502 539h0M442 572h0M446 516h0M445 515h0M445 515h0M460 540h0M460 539h0M432 521h0M434 522h0M480 572h0M480 573h0M481 573h0M437 516h0M437 517h0M439 517h0M480 517h0M481 517h0M489 538h0M487 539h0M447 552h0M491 517h0M493 523h0M494 523h0M436 522h0M449 544h0M504 557h0M502 557h0M524 547h0M510 574h0M511 576h0M477 519h0M500 577h0M501 577h0M440 565h0M454 535h0M453 537h0M479 516h0M478 517h0M495 521h0M498 519h0M454 540h0M462 581h0M438 535h0M438 534h0M458 572h0M458 572h0M459 571h0M467 569h0M467 570h0M475 578h0M498 586h0M440 545h0M439 546h0M440 546h0M505 539h0M506 540h0M504 540h0M454 579h0M459 518h0M461 520h0M457 584h0M475 514h0M474 514h0M474 513h0M437 541h0M440 540h0M481 558h0M481 558h0M485 514h0M456 567h0M457 548h0M458 549h0M457 548h0M450 576h0M509 542h0M523 543h0M524 545h0M481 559h0M495 565h0M505 560h0M504 558h0M516 540h0M517 543h0M504 555h0M510 558h0M487 530h0M508 581h0M508 580h0M512 567h0M513 569h0M473 555h0M475 555h0M475 554h0M464 538h0M462 539h0M463 537h0M481 567h0M494 576h0M487 563h0M501 589h0M502 588h0M488 563h0M471 527h0M469 560h0M470 558h0M469 559h0M462 569h0M462 567h0M522 589h0M436 549h0M435 550h0M450 574h0M451 575h0M450 577h0M438 576h0M485 550h0M466 516h0M441 583h0M471 528h0M460 588h0M457 587h0M460 589h0M462 563h0M447 524h0M447 523h0M448 524h0M461 554h0M461 554h0M511 560h0M511 561h0M494 581h0M508 542h0M460 561h0M459 561h0M472 572h0M449 515h0M517 588h0M518 580h0M507 545h0M491 533h0M492 533h0M455 515h0M454 515h0M513 520h0M486 586h0M490 575h0M488 575h0M487 574h0M512 552h0M515 552h0M504 521h0M503 522h0M451 565h0M449 564h0M463 558h0M477 527h0M478 528h0M478 527h0M436 586h0M435 587h0M449 545h0M449 545h0M445 570h0M445 571h0M444 569h0M472 532h0M473 532h0M473 530h0M494 518h0M493 517h0M514 584h0M516 585h0M485 514h0M450 559h0M476 545h0M477 544h0M455 521h0M457 523h0M450 586h0M452 585h0M477 514h0M468 564h0M513 582h0M503 519h0M503 518h0M472 528h0M513 514h0M515 513h0M447 523h0M447 523h0M447 525h0M473 562h0M498 578h0M498 579h0M523 553h0M521 571h0M453 571h0M473 524h0M472 525h0M472 522h0M501 541h0M465 556h0M464 556h0M481 552h0M479 552h0M479 550h0M498 537h0M513 542h0M513 541h0M515 543h0M520 580h0M443 542h0M442 542h0M451 538h0M459 571h0M460 571h0M510 538h0M507 540h0M507 540h0M517 524h0M519 526h0M505 516h0M464 561h0M507 553h0M447 526h0M485 567h0M517 562h0M519 563h0M492 554h0M493 553h0M444 525h0M454 534h0M453 531h0M443 564h0M441 565h0M469 540h0M446 550h0M447 552h0M487 569h0M485 569h0M460 589h0M462 586h0M435 557h0M436 558h0M450 528h0M450 526h0M450 527h0M490 530h0M489 531h0M491 529h0M460 552h0M462 552h0M510 517h0M505 520h0M504 520h0M466 585h0M466 585h0M482 565h0M447 525h0M508 556h0M511 558h0M510 557h0M454 522h0M453 524h0M455 524h0M492 531h0M488 530h0M490 570h0M520 546h0M520 546h0M481 579h0M478 518h0M493 513h0M492 515h0M492 514h0M514 554h0M439 518h0M436 528h0M436 531h0M437 530h0M485 527h0M437 525h0M438 525h0M467 541h0M443 522h0M490 538h0M465 541h0M463 539h0M511 550h0M512 548h0M486 553h0M521 536h0M519 535h0M520 536h0M447 546h0M520 515h0M446 524h0M464 577h0M465 579h0M486 547h0M498 564h0M493 584h0M522 585h0M513 586h0M512 587h0M512 584h0M452 585h0M439 544h0M476 556h0M476 556h0M469 587h0M470 588h0M487 588h0M485 588h0M486 587h0M477 514h0M440 521h0M440 521h0M478 571h0M477 572h0M479 572h0M487 550h0M485 549h0M503 527h0M502 527h0M442 575h0M442 574h0M496 585h0M522 529h0M442 555h0M450 569h0M451 567h0M434 583h0M445 585h0M519 557h0M518 555h0M460 559h0M460 558h0M458 561h0M501 539h0M500 540h0M500 540h0M451 520h0M449 520h0M450 521h0M434 578h0M434 576h0M436 578h0M434 576h0M436 576h0M482 581h0M480 584h0M479 585h0" stroke="#dc9c6c" stroke-width="1.8" stroke-linecap="round" fill="none"/>
<path d="M464 517h0M463 518h0M486 515h0M507 533h0M485 558h0M499 522h0M467 586h0M488 560h0M438 570h0M502 549h0M463 576h0M462 578h0M496 571h0M457 531h0M437 588h0M438 589h0M501 563h0M506 563h0M435 534h0M459 562h0M454 550h0M495 552h0M454 524h0M497 513h0M478 552h0M480 553h0M513 573h0M443 519h0M443 543h0M443 544h0M500 589h0M524 541h0M500 526h0M455 560h0M453 560h0M466 527h0M492 558h0M490 559h0M510 578h0M481 578h0M466 565h0M445 559h0M466 515h0M468 516h0M523 523h0M466 517h0M491 530h0M460 536h0M502 578h0M488 586h0M462 566h0M501 520h0M448 537h0M435 535h0M443 554h0M482 550h0M519 579h0M449 519h0M503 538h0M460 538h0M434 520h0M481 519h0M489 538h0M507 565h0M508 575h0M510 575h0M512 520h0M513 519h0M490 518h0M493 522h0M450 545h0M448 544h0M477 519h0M440 564h0M453 536h0M477 518h0M456 562h0M497 518h0M463 580h0M476 579h0M498 586h0M500 586h0M460 519h0M436 540h0M463 514h0M487 516h0M457 566h0M456 566h0M458 545h0M461 545h0M484 559h0M481 558h0M495 565h0M518 542h0M505 556h0M510 558h0M508 579h0M481 569h0M460 567h0M521 590h0M438 576h0M467 515h0M472 528h0M469 530h0M461 556h0M493 583h0M459 562h0M472 574h0M473 573h0M475 542h0M448 515h0M456 517h0M514 519h0M513 522h0M473 533h0M475 533h0M453 564h0M486 515h0M452 587h0M477 575h0M514 516h0M498 580h0M524 554h0M520 553h0M522 571h0M501 541h0M497 538h0M519 581h0M450 539h0M450 540h0M488 530h0M485 530h0M518 556h0M485 567h0M485 568h0M454 530h0M468 540h0M445 551h0M436 558h0M449 578h0M447 528h0M468 565h0M478 518h0M439 516h0M439 516h0M444 520h0M488 554h0M487 553h0M519 514h0M445 522h0M487 549h0M498 562h0M472 546h0M492 583h0M470 589h0M440 520h0M443 574h0M444 586h0M445 584h0M502 520h0M435 578h0M446 589h0M446 589h0" stroke="#dc9c6c" stroke-width="2.7" stroke-linecap="round" fill="none"/>
</g>
<rect x="434.5" y="514.4" width="88.9" height="73.8" fill="none" stroke="#333" stroke-width="1"/>
<clipPath id="cp20"><rect x="525.3" y="514.4" width="88.3" height="73.8"/></clipPath>
<g clip-path="url(#cp20)">
<rect x="525.3" y="514.4" width="88.3" height="73.8" fill="#fdfaf6"/>
<path d="M576 545h0M576 547h0M600 586h0M601 588h0M546 534h0M545 533h0M529 551h0M530 550h0M595 547h0M594 548h0M562 542h0M561 543h0M591 548h0M593 548h0M578 518h0M577 519h0M577 520h0M556 562h0M553 563h0M559 521h0M535 521h0M534 521h0M545 541h0M544 540h0M581 590h0M580 588h0M603 571h0M593 526h0M593 527h0M593 527h0M607 535h0M605 536h0M588 548h0M585 587h0M573 519h0M577 525h0M534 548h0M533 549h0M602 545h0M601 544h0M587 536h0M570 541h0M558 525h0M558 525h0M567 542h0M567 543h0M567 541h0M537 532h0M538 532h0M598 581h0M598 581h0M552 523h0M549 523h0M550 582h0M588 542h0M586 540h0M587 541h0M564 565h0M564 527h0M570 567h0M543 532h0M536 519h0M535 520h0M538 520h0M578 564h0M576 562h0M610 575h0M610 574h0M610 575h0M530 542h0M537 568h0M529 530h0M530 530h0M592 525h0M592 526h0M598 538h0M601 538h0M589 573h0M583 563h0M538 535h0M539 535h0M524 514h0M547 581h0M546 579h0M578 521h0M581 522h0M613 579h0M604 571h0M573 549h0M599 557h0M537 576h0M538 576h0M602 567h0M602 567h0M603 567h0M594 557h0M597 556h0M598 557h0M590 563h0M586 580h0M585 581h0M595 526h0M596 526h0M594 526h0M565 587h0M564 586h0M566 586h0M606 582h0M565 541h0M566 543h0M605 538h0M580 553h0M582 551h0M586 584h0M573 575h0M571 561h0M572 562h0M572 561h0M525 560h0M525 559h0M548 517h0M549 515h0M588 554h0M589 555h0M564 577h0M565 579h0M533 563h0M532 562h0M532 571h0M532 572h0M532 570h0M576 580h0M574 578h0M548 582h0M587 566h0M586 567h0M588 566h0M609 555h0M608 555h0M565 523h0M566 523h0M524 519h0M539 530h0M538 531h0M590 537h0M545 519h0M570 552h0M599 551h0M599 553h0M614 517h0M612 532h0M535 542h0M534 541h0M533 542h0M547 588h0M547 588h0M553 557h0M604 566h0M600 567h0M549 564h0M573 540h0M572 541h0M585 568h0M581 541h0M580 541h0M580 542h0M544 569h0M544 572h0M554 575h0M555 577h0M555 575h0M550 525h0M547 524h0M558 544h0M558 545h0M538 542h0M563 577h0M563 578h0M576 583h0M544 519h0M573 582h0M582 585h0M551 553h0M550 554h0M533 548h0M532 547h0M578 533h0M535 545h0M536 545h0M538 545h0M531 580h0M531 579h0M589 578h0M595 561h0M613 524h0M612 524h0M611 525h0M536 578h0M538 575h0M536 575h0M597 581h0M539 554h0M539 542h0M537 541h0M538 542h0M541 541h0M535 573h0M527 572h0M526 572h0M599 589h0M600 589h0M572 586h0M614 543h0M614 544h0M575 522h0M552 579h0M552 578h0M552 580h0M554 576h0M554 576h0M584 538h0M583 537h0M550 517h0M549 517h0M565 558h0M562 549h0M563 549h0M533 538h0M535 537h0M559 587h0M558 586h0M581 516h0M580 517h0M543 531h0M540 533h0M541 533h0M568 585h0M541 542h0M564 586h0M566 586h0M539 531h0M562 539h0M565 537h0M560 539h0M564 517h0M565 516h0M564 531h0M537 526h0M536 526h0M604 522h0M547 525h0M549 576h0M547 578h0M548 579h0M532 560h0M532 562h0M550 557h0M553 558h0M552 557h0M612 585h0M534 572h0M534 573h0M533 573h0M544 520h0M542 521h0M577 591h0M576 589h0M549 577h0M581 571h0M581 571h0M580 571h0M549 544h0M548 542h0M545 532h0M556 536h0M591 569h0M576 547h0M542 559h0M564 559h0M560 558h0M606 564h0M553 547h0M552 547h0M584 533h0M586 534h0M537 561h0M540 561h0M551 553h0M551 553h0M598 536h0M573 540h0M573 540h0M535 541h0M534 542h0M533 540h0M557 557h0M531 543h0M531 543h0M538 574h0M537 575h0M537 573h0M557 542h0M609 535h0M609 535h0M606 535h0M530 584h0M550 576h0M551 576h0M567 554h0M566 553h0M534 538h0M533 537h0M534 536h0M580 556h0M583 555h0M582 557h0M575 524h0M569 514h0M568 515h0M590 531h0M560 563h0M560 563h0M527 542h0M526 541h0M582 555h0M594 587h0M540 582h0M540 580h0M602 516h0M574 514h0M574 515h0M591 568h0M531 568h0M554 517h0M553 518h0M553 525h0M551 525h0M579 577h0M578 577h0M613 557h0M572 565h0M572 563h0M584 540h0M586 540h0M579 527h0M582 515h0M579 516h0M582 514h0M578 537h0M542 536h0M542 537h0M564 535h0M615 576h0M542 546h0M543 545h0M543 543h0M537 586h0M535 585h0M556 566h0M556 566h0M545 525h0M546 525h0M546 525h0M603 557h0M546 568h0M607 580h0M609 580h0M554 550h0M555 551h0M591 524h0M593 525h0M547 565h0M537 552h0M539 552h0M537 552h0M583 543h0M584 541h0M555 521h0M556 520h0M602 587h0M578 537h0M552 586h0M554 588h0M551 589h0M527 577h0M527 577h0M527 577h0M536 558h0M536 558h0M599 584h0M586 569h0M587 567h0M587 568h0M529 558h0M605 515h0M604 516h0M528 530h0M598 520h0M597 519h0M563 518h0M533 555h0M534 556h0M563 517h0M563 516h0M553 562h0M529 584h0M528 583h0M593 542h0M538 544h0M536 544h0M538 546h0M614 534h0M615 522h0M614 520h0M612 522h0M587 526h0M604 515h0M595 570h0M610 524h0M609 523h0M611 523h0M595 547h0M593 548h0M593 549h0M557 514h0M555 516h0M557 515h0M526 519h0M526 520h0M553 547h0M551 548h0M577 522h0M578 524h0M596 551h0M598 552h0M575 579h0M576 578h0M576 580h0M567 587h0M566 587h0M566 586h0M595 527h0M526 577h0M526 579h0M525 578h0M590 584h0M593 583h0M611 587h0M592 556h0M593 555h0M593 554h0M542 582h0M533 589h0M560 546h0M536 531h0M535 533h0M535 530h0M588 525h0M616 530h0M607 579h0M609 581h0M586 528h0M549 587h0M542 546h0M525 546h0M602 582h0M602 582h0M566 519h0M533 584h0M531 584h0M533 582h0M577 576h0M577 576h0M573 533h0M603 542h0M608 534h0M608 533h0M610 532h0M607 536h0M613 550h0M613 550h0M614 551h0M585 514h0M583 546h0M583 545h0M554 571h0M539 541h0M537 543h0M539 542h0M554 566h0M555 567h0M595 580h0M596 580h0M534 573h0M559 578h0M559 578h0M615 568h0M615 568h0M580 554h0M579 556h0M612 567h0M606 574h0M607 573h0M567 514h0M540 539h0M540 539h0M531 534h0M607 546h0M592 570h0M569 548h0M567 548h0M571 550h0M560 574h0M561 575h0M588 562h0M526 542h0M546 566h0M545 565h0M545 566h0M586 540h0M566 558h0M529 577h0M588 586h0M549 576h0M613 565h0M531 567h0M534 567h0M604 576h0M601 528h0M532 558h0M534 558h0M532 558h0M553 553h0M553 554h0M585 586h0M584 586h0M585 587h0M576 572h0M575 572h0M577 573h0M605 562h0M605 561h0M534 578h0M546 569h0M544 570h0M545 569h0M588 513h0M589 516h0M573 528h0M609 559h0M610 561h0M611 560h0M551 548h0M552 548h0M587 544h0M545 529h0M545 526h0" stroke="#dc9a68" stroke-width="1.8" stroke-linecap="round" fill="none"/>
<path d="M609 590h0M611 590h0M609 589h0M608 537h0M609 537h0M558 559h0M613 529h0M539 563h0M541 563h0M532 522h0M589 581h0M550 564h0M542 558h0M540 557h0M540 557h0M548 541h0M554 539h0M554 538h0M576 518h0M575 521h0M541 583h0M576 540h0M576 541h0M578 539h0M542 546h0M542 546h0M609 538h0M547 536h0M546 535h0M528 561h0M528 558h0M557 587h0M609 547h0M608 547h0M608 545h0M547 524h0M546 526h0M547 526h0M565 564h0M549 582h0M586 582h0M587 581h0M598 545h0M599 548h0M577 568h0M555 523h0M558 522h0M557 521h0M614 566h0M605 557h0M604 556h0M594 575h0M543 582h0M544 580h0M582 578h0M574 527h0M546 574h0M546 572h0M551 526h0M549 526h0M550 526h0M552 557h0M583 514h0M583 514h0M583 515h0M557 513h0M559 513h0M557 514h0M608 544h0M608 546h0M593 588h0M591 587h0M585 584h0M534 527h0M534 526h0M534 528h0M527 522h0M525 522h0M545 548h0M593 574h0M595 574h0M560 551h0M591 518h0M590 519h0M588 585h0M533 575h0M533 575h0M599 543h0M599 543h0M535 534h0M586 519h0M583 536h0M571 551h0M545 546h0M589 576h0M591 576h0M571 557h0M614 548h0M588 569h0M560 516h0M587 539h0M588 541h0M593 517h0M594 519h0M600 562h0M600 562h0M601 562h0M572 526h0M572 528h0M557 540h0M556 538h0M557 538h0M606 552h0M606 550h0M606 563h0M606 562h0M558 573h0M559 587h0M611 563h0M603 544h0M605 542h0M580 525h0M586 585h0M588 587h0M588 584h0M562 573h0M560 574h0M578 552h0M561 570h0M569 543h0M584 547h0M583 548h0M583 551h0M583 550h0M545 541h0M571 576h0M609 578h0M587 542h0M535 562h0M535 561h0M573 569h0M573 570h0M558 526h0M559 526h0M602 588h0M601 588h0M565 576h0M563 576h0M555 555h0M610 569h0M610 571h0M531 574h0M530 571h0M562 538h0M561 539h0M562 540h0M549 541h0M531 582h0M530 584h0M556 579h0M558 580h0M609 545h0M611 545h0M543 528h0M524 583h0M605 531h0M606 530h0M536 523h0M535 521h0M580 582h0M580 578h0M579 579h0M563 555h0M564 556h0M528 586h0M529 585h0M608 586h0M541 561h0M539 562h0M541 564h0M574 523h0M552 536h0M552 538h0M545 540h0M546 538h0M556 576h0M555 575h0M541 528h0M540 528h0M538 528h0M556 519h0M556 517h0M595 558h0M528 557h0M612 543h0M532 585h0M536 527h0M538 527h0M574 570h0M536 543h0M537 544h0M538 544h0M555 541h0M593 578h0M596 580h0M595 578h0M530 526h0M531 525h0M549 559h0M591 553h0M592 553h0M549 525h0M530 542h0M529 540h0M530 542h0M593 538h0M593 536h0M543 554h0M545 555h0M537 522h0M597 566h0M597 565h0M596 566h0M589 582h0M543 533h0M544 534h0M544 533h0M609 569h0M569 587h0M581 550h0M583 551h0M597 523h0M560 552h0M553 531h0M598 551h0M595 551h0M596 552h0M529 565h0M559 576h0M606 544h0M608 543h0M606 543h0M568 532h0M570 534h0M569 571h0M542 549h0M541 545h0M541 521h0M551 549h0M551 549h0M551 550h0M544 540h0M576 542h0M563 530h0M548 549h0M548 548h0M596 523h0M578 514h0M575 515h0M576 516h0M525 583h0M526 582h0M561 550h0M554 543h0M591 568h0M566 575h0M569 534h0M570 536h0M558 556h0M558 554h0M558 555h0M536 542h0M538 542h0M566 589h0M567 590h0M606 571h0M552 535h0M552 535h0M552 534h0M600 553h0M565 548h0M576 582h0M576 584h0M577 584h0M613 582h0M613 582h0M527 563h0M527 562h0M526 564h0M574 580h0M549 560h0M551 554h0M549 555h0M551 543h0M552 545h0M552 564h0M550 563h0M527 537h0M611 586h0M610 586h0M610 584h0M533 576h0M558 527h0M559 526h0M608 521h0M606 524h0M594 565h0M596 567h0M575 573h0M536 545h0M534 544h0M536 546h0M558 527h0M548 576h0M534 518h0M535 519h0M567 535h0M555 553h0M557 554h0M555 553h0M559 582h0M558 582h0M558 585h0M572 577h0M539 570h0M547 581h0M546 582h0M546 581h0M601 525h0M602 525h0M566 541h0M567 543h0M553 544h0M551 542h0M530 573h0M608 588h0M557 584h0M555 585h0M605 550h0M603 549h0M551 542h0M551 540h0M537 534h0M537 532h0M551 581h0M552 581h0M605 561h0M577 522h0M600 580h0M603 574h0M612 524h0M547 525h0M548 522h0M536 568h0M538 568h0M538 568h0M550 530h0M569 516h0M567 515h0M599 577h0M600 579h0M528 571h0M553 553h0M572 558h0M611 580h0M610 579h0M555 521h0M562 515h0M553 576h0M555 577h0M577 583h0M576 584h0M576 582h0M570 517h0M572 518h0M570 516h0M541 547h0M604 554h0M575 531h0M575 578h0M573 579h0M574 579h0M538 537h0M538 538h0M532 577h0M531 576h0M532 578h0M597 546h0M610 549h0M611 547h0M556 581h0M599 579h0M601 580h0M570 569h0M545 547h0M531 566h0M532 566h0M528 577h0M528 579h0M590 541h0M601 553h0M609 589h0M607 589h0M564 519h0M566 520h0M565 520h0M540 570h0M540 571h0M607 568h0M607 569h0M607 569h0M591 585h0M589 587h0M587 587h0M538 525h0M537 524h0M544 543h0M595 532h0M595 533h0M565 565h0M600 574h0M599 572h0M601 571h0M536 574h0M603 523h0M556 548h0M553 522h0M555 523h0M554 522h0M606 534h0M606 532h0M593 523h0M574 574h0M573 573h0M610 589h0M608 589h0M537 553h0M558 526h0M558 525h0M527 530h0M544 518h0M527 519h0M529 518h0M529 519h0M556 515h0M557 515h0M607 557h0M607 558h0M571 556h0M571 554h0M569 556h0M535 576h0M551 543h0M551 542h0M550 542h0M543 537h0M542 537h0" stroke="#d08a58" stroke-width="1.8" stroke-linecap="round" fill="none"/>
<path d="M546 547h0M614 529h0M534 520h0M540 586h0M541 545h0M541 584h0M542 583h0M528 561h0M563 552h0M564 551h0M564 552h0M556 586h0M551 581h0M597 545h0M592 573h0M593 575h0M565 522h0M574 526h0M529 558h0M601 516h0M586 588h0M609 545h0M600 566h0M590 589h0M586 583h0M525 521h0M546 547h0M593 574h0M534 577h0M586 521h0M578 584h0M559 517h0M559 518h0M572 526h0M559 574h0M613 565h0M579 527h0M560 572h0M563 568h0M570 543h0M569 575h0M570 572h0M609 579h0M571 569h0M531 573h0M531 582h0M607 531h0M563 555h0M608 586h0M575 524h0M545 539h0M607 584h0M606 582h0M608 584h0M595 558h0M527 559h0M536 564h0M530 524h0M547 559h0M548 524h0M591 537h0M545 555h0M583 550h0M599 523h0M562 553h0M530 564h0M530 566h0M544 541h0M545 543h0M574 541h0M562 532h0M549 547h0M565 574h0M605 569h0M606 570h0M599 554h0M567 548h0M547 565h0M551 564h0M613 548h0M552 546h0M526 538h0M608 523h0M596 565h0M547 577h0M547 575h0M573 575h0M566 541h0M608 587h0M607 588h0M567 554h0M604 548h0M612 526h0M569 515h0M527 569h0M552 552h0M611 581h0M539 549h0M602 553h0M544 526h0M610 548h0M532 536h0M614 564h0M595 540h0M609 589h0M560 568h0M561 567h0M540 571h0M541 542h0M532 571h0M591 585h0M527 528h0M557 516h0M541 540h0" stroke="#d08a58" stroke-width="2.7" stroke-linecap="round" fill="none"/>
<path d="M612 576h0M596 549h0M544 540h0M588 550h0M587 550h0M558 526h0M569 515h0M570 517h0M581 537h0M550 582h0M602 536h0M600 537h0M566 519h0M583 564h0M524 513h0M524 514h0M578 521h0M603 571h0M570 551h0M539 576h0M586 578h0M613 541h0M614 543h0M613 542h0M583 584h0M550 516h0M588 556h0M532 561h0M574 579h0M565 522h0M541 532h0M527 530h0M613 529h0M570 554h0M547 589h0M553 557h0M539 563h0M572 541h0M546 570h0M558 545h0M538 541h0M562 576h0M543 520h0M546 522h0M584 587h0M583 586h0M534 547h0M596 543h0M528 571h0M540 542h0M541 543h0M575 522h0M556 577h0M585 538h0M548 518h0M533 537h0M527 581h0M539 529h0M540 530h0M566 527h0M547 525h0M542 521h0M549 543h0M549 527h0M570 514h0M570 516h0M555 537h0M576 545h0M563 561h0M553 547h0M542 561h0M559 557h0M532 545h0M557 542h0M558 543h0M596 585h0M552 577h0M567 553h0M590 531h0M590 530h0M581 555h0M541 581h0M574 514h0M532 567h0M553 518h0M552 525h0M547 530h0M577 577h0M611 570h0M571 565h0M584 542h0M588 522h0M580 527h0M564 535h0M564 534h0M614 575h0M562 582h0M557 566h0M603 557h0M601 559h0M609 580h0M555 550h0M568 514h0M609 521h0M602 588h0M529 529h0M597 520h0M550 545h0M603 516h0M539 586h0M597 552h0M583 582h0M581 582h0M582 580h0M593 583h0M615 529h0M607 582h0M551 587h0M546 521h0M603 581h0M566 522h0M607 573h0M574 534h0M531 558h0M606 534h0M585 514h0M582 545h0M536 573h0M534 571h0M595 566h0M593 567h0M592 564h0M579 555h0M612 568h0M610 560h0M610 559h0M540 539h0M532 535h0M580 560h0M592 529h0M587 561h0M585 539h0M587 539h0M556 514h0M594 530h0M602 528h0M606 562h0M525 530h0" stroke="#dc9a68" stroke-width="2.7" stroke-linecap="round" fill="none"/>
</g>
<rect x="525.3" y="514.4" width="88.3" height="73.8" fill="none" stroke="#333" stroke-width="1"/>
<text x="502.4" y="493.1" font-size="6.9" font-weight="bold" letter-spacing="-0.15">10 μm</text>
<line x1="504.2" y1="497.1" x2="519.5" y2="497.1" stroke="#000" stroke-width="1.5"/>
</svg>
</body></html>
